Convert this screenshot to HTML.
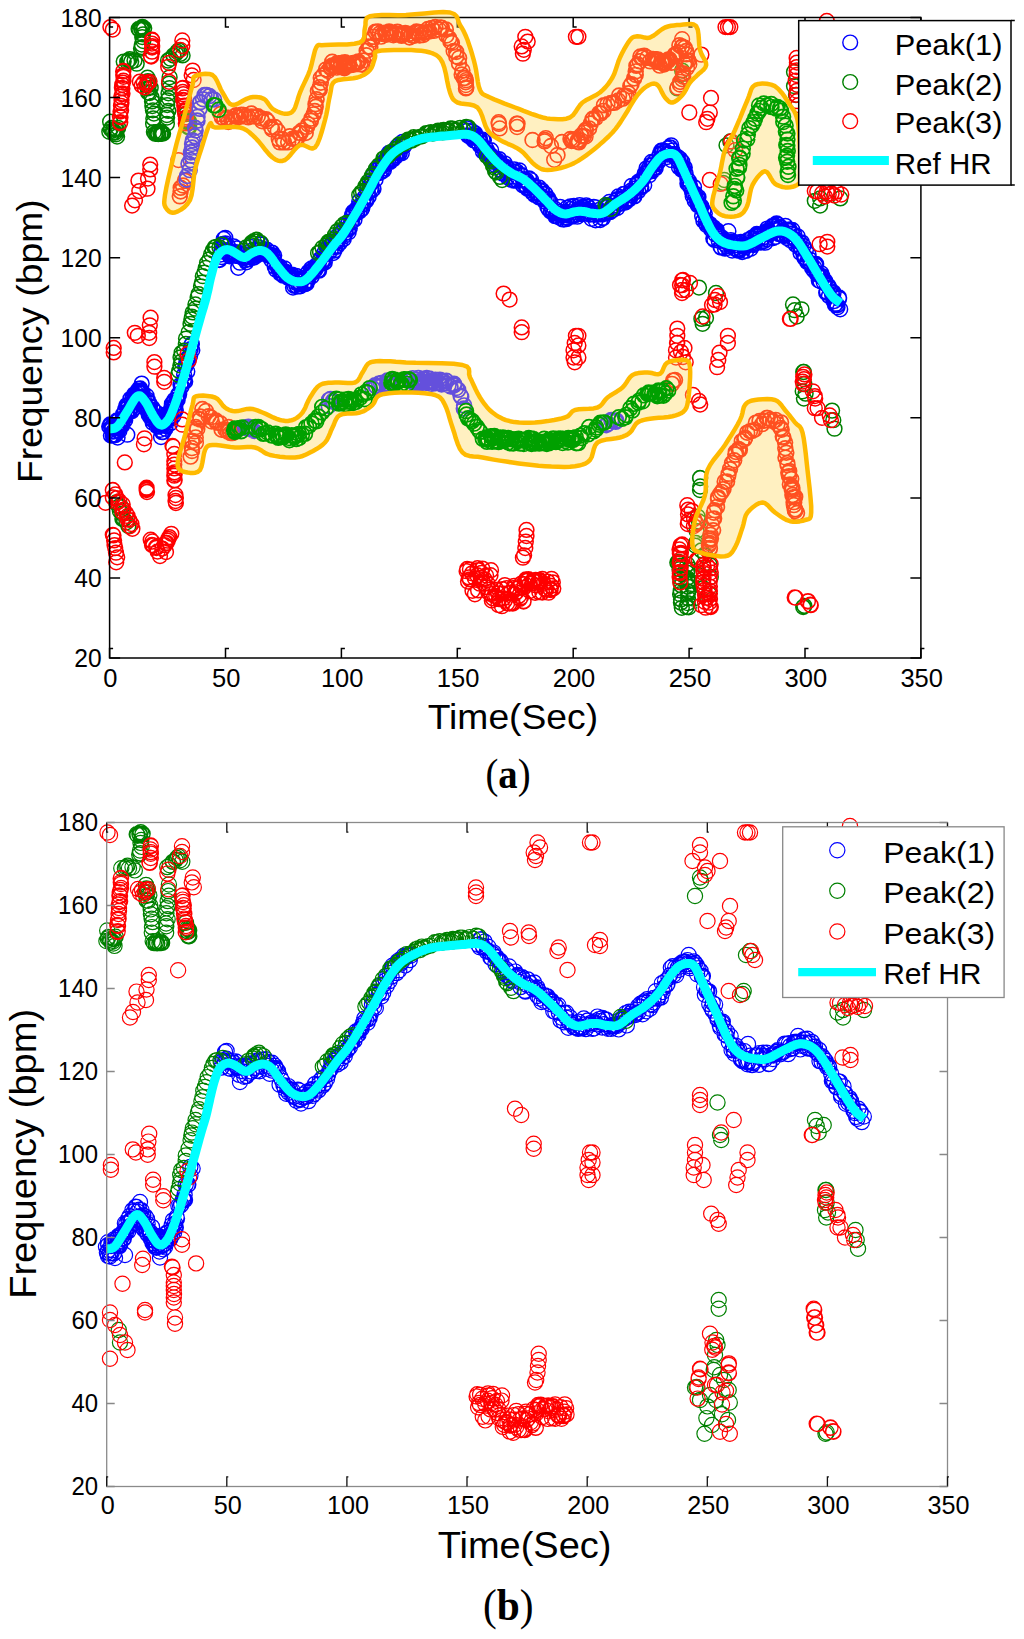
<!DOCTYPE html><html><head><meta charset="utf-8"><style>html,body{margin:0;padding:0;background:#fff;}svg{display:block}</style></head><body>
<svg width="1024" height="1639" viewBox="0 0 1024 1639">
<rect width="1024" height="1639" fill="#fff"/>
<path d="M101.8 426.4a7.4 7.4 0 1 0 14.8 0a7.4 7.4 0 1 0 -14.8 0M102.7 424.4a7.4 7.4 0 1 0 14.8 0a7.4 7.4 0 1 0 -14.8 0M103.5 424.7a7.4 7.4 0 1 0 14.8 0a7.4 7.4 0 1 0 -14.8 0M104.2 429.6a7.4 7.4 0 1 0 14.8 0a7.4 7.4 0 1 0 -14.8 0M104.2 427.7a7.4 7.4 0 1 0 14.8 0a7.4 7.4 0 1 0 -14.8 0M105.0 426.7a7.4 7.4 0 1 0 14.8 0a7.4 7.4 0 1 0 -14.8 0M104.5 426.6a7.4 7.4 0 1 0 14.8 0a7.4 7.4 0 1 0 -14.8 0M105.4 435.5a7.4 7.4 0 1 0 14.8 0a7.4 7.4 0 1 0 -14.8 0M105.6 431.7a7.4 7.4 0 1 0 14.8 0a7.4 7.4 0 1 0 -14.8 0M106.4 435.5a7.4 7.4 0 1 0 14.8 0a7.4 7.4 0 1 0 -14.8 0M106.8 431.3a7.4 7.4 0 1 0 14.8 0a7.4 7.4 0 1 0 -14.8 0M107.8 435.2a7.4 7.4 0 1 0 14.8 0a7.4 7.4 0 1 0 -14.8 0M108.3 434.7a7.4 7.4 0 1 0 14.8 0a7.4 7.4 0 1 0 -14.8 0M108.4 422.0a7.4 7.4 0 1 0 14.8 0a7.4 7.4 0 1 0 -14.8 0M108.6 427.3a7.4 7.4 0 1 0 14.8 0a7.4 7.4 0 1 0 -14.8 0M109.6 426.2a7.4 7.4 0 1 0 14.8 0a7.4 7.4 0 1 0 -14.8 0M109.5 420.4a7.4 7.4 0 1 0 14.8 0a7.4 7.4 0 1 0 -14.8 0M110.3 421.3a7.4 7.4 0 1 0 14.8 0a7.4 7.4 0 1 0 -14.8 0M110.5 428.6a7.4 7.4 0 1 0 14.8 0a7.4 7.4 0 1 0 -14.8 0M110.4 430.8a7.4 7.4 0 1 0 14.8 0a7.4 7.4 0 1 0 -14.8 0M112.0 431.0a7.4 7.4 0 1 0 14.8 0a7.4 7.4 0 1 0 -14.8 0M112.2 426.5a7.4 7.4 0 1 0 14.8 0a7.4 7.4 0 1 0 -14.8 0M111.9 423.3a7.4 7.4 0 1 0 14.8 0a7.4 7.4 0 1 0 -14.8 0M112.8 426.7a7.4 7.4 0 1 0 14.8 0a7.4 7.4 0 1 0 -14.8 0M113.4 422.9a7.4 7.4 0 1 0 14.8 0a7.4 7.4 0 1 0 -14.8 0M113.6 426.7a7.4 7.4 0 1 0 14.8 0a7.4 7.4 0 1 0 -14.8 0M114.1 424.0a7.4 7.4 0 1 0 14.8 0a7.4 7.4 0 1 0 -14.8 0M114.9 422.3a7.4 7.4 0 1 0 14.8 0a7.4 7.4 0 1 0 -14.8 0M115.4 414.4a7.4 7.4 0 1 0 14.8 0a7.4 7.4 0 1 0 -14.8 0M115.1 425.2a7.4 7.4 0 1 0 14.8 0a7.4 7.4 0 1 0 -14.8 0M115.8 414.6a7.4 7.4 0 1 0 14.8 0a7.4 7.4 0 1 0 -14.8 0M116.8 413.1a7.4 7.4 0 1 0 14.8 0a7.4 7.4 0 1 0 -14.8 0M117.6 409.4a7.4 7.4 0 1 0 14.8 0a7.4 7.4 0 1 0 -14.8 0M117.6 417.8a7.4 7.4 0 1 0 14.8 0a7.4 7.4 0 1 0 -14.8 0M117.8 420.2a7.4 7.4 0 1 0 14.8 0a7.4 7.4 0 1 0 -14.8 0M118.7 406.2a7.4 7.4 0 1 0 14.8 0a7.4 7.4 0 1 0 -14.8 0M119.0 414.7a7.4 7.4 0 1 0 14.8 0a7.4 7.4 0 1 0 -14.8 0M119.1 405.2a7.4 7.4 0 1 0 14.8 0a7.4 7.4 0 1 0 -14.8 0M120.2 413.5a7.4 7.4 0 1 0 14.8 0a7.4 7.4 0 1 0 -14.8 0M120.5 405.7a7.4 7.4 0 1 0 14.8 0a7.4 7.4 0 1 0 -14.8 0M121.1 404.7a7.4 7.4 0 1 0 14.8 0a7.4 7.4 0 1 0 -14.8 0M121.2 406.3a7.4 7.4 0 1 0 14.8 0a7.4 7.4 0 1 0 -14.8 0M121.6 406.1a7.4 7.4 0 1 0 14.8 0a7.4 7.4 0 1 0 -14.8 0M121.9 409.8a7.4 7.4 0 1 0 14.8 0a7.4 7.4 0 1 0 -14.8 0M122.2 411.9a7.4 7.4 0 1 0 14.8 0a7.4 7.4 0 1 0 -14.8 0M123.0 398.8a7.4 7.4 0 1 0 14.8 0a7.4 7.4 0 1 0 -14.8 0M123.0 409.6a7.4 7.4 0 1 0 14.8 0a7.4 7.4 0 1 0 -14.8 0M124.5 411.2a7.4 7.4 0 1 0 14.8 0a7.4 7.4 0 1 0 -14.8 0M124.8 410.0a7.4 7.4 0 1 0 14.8 0a7.4 7.4 0 1 0 -14.8 0M125.5 397.4a7.4 7.4 0 1 0 14.8 0a7.4 7.4 0 1 0 -14.8 0M125.2 409.5a7.4 7.4 0 1 0 14.8 0a7.4 7.4 0 1 0 -14.8 0M125.3 397.0a7.4 7.4 0 1 0 14.8 0a7.4 7.4 0 1 0 -14.8 0M125.8 402.5a7.4 7.4 0 1 0 14.8 0a7.4 7.4 0 1 0 -14.8 0M127.1 394.5a7.4 7.4 0 1 0 14.8 0a7.4 7.4 0 1 0 -14.8 0M126.8 394.3a7.4 7.4 0 1 0 14.8 0a7.4 7.4 0 1 0 -14.8 0M127.6 399.6a7.4 7.4 0 1 0 14.8 0a7.4 7.4 0 1 0 -14.8 0M127.8 395.2a7.4 7.4 0 1 0 14.8 0a7.4 7.4 0 1 0 -14.8 0M128.3 398.3a7.4 7.4 0 1 0 14.8 0a7.4 7.4 0 1 0 -14.8 0M129.0 393.0a7.4 7.4 0 1 0 14.8 0a7.4 7.4 0 1 0 -14.8 0M129.3 396.0a7.4 7.4 0 1 0 14.8 0a7.4 7.4 0 1 0 -14.8 0M130.0 391.2a7.4 7.4 0 1 0 14.8 0a7.4 7.4 0 1 0 -14.8 0M130.3 390.6a7.4 7.4 0 1 0 14.8 0a7.4 7.4 0 1 0 -14.8 0M131.6 388.7a7.4 7.4 0 1 0 14.8 0a7.4 7.4 0 1 0 -14.8 0M131.1 396.3a7.4 7.4 0 1 0 14.8 0a7.4 7.4 0 1 0 -14.8 0M131.9 397.6a7.4 7.4 0 1 0 14.8 0a7.4 7.4 0 1 0 -14.8 0M132.8 388.4a7.4 7.4 0 1 0 14.8 0a7.4 7.4 0 1 0 -14.8 0M132.3 391.1a7.4 7.4 0 1 0 14.8 0a7.4 7.4 0 1 0 -14.8 0M133.5 400.2a7.4 7.4 0 1 0 14.8 0a7.4 7.4 0 1 0 -14.8 0M133.8 390.6a7.4 7.4 0 1 0 14.8 0a7.4 7.4 0 1 0 -14.8 0M134.7 403.3a7.4 7.4 0 1 0 14.8 0a7.4 7.4 0 1 0 -14.8 0M134.4 391.8a7.4 7.4 0 1 0 14.8 0a7.4 7.4 0 1 0 -14.8 0M134.8 393.8a7.4 7.4 0 1 0 14.8 0a7.4 7.4 0 1 0 -14.8 0M135.1 392.1a7.4 7.4 0 1 0 14.8 0a7.4 7.4 0 1 0 -14.8 0M136.7 400.2a7.4 7.4 0 1 0 14.8 0a7.4 7.4 0 1 0 -14.8 0M136.4 404.2a7.4 7.4 0 1 0 14.8 0a7.4 7.4 0 1 0 -14.8 0M136.3 402.8a7.4 7.4 0 1 0 14.8 0a7.4 7.4 0 1 0 -14.8 0M137.4 408.1a7.4 7.4 0 1 0 14.8 0a7.4 7.4 0 1 0 -14.8 0M138.6 405.8a7.4 7.4 0 1 0 14.8 0a7.4 7.4 0 1 0 -14.8 0M137.7 404.3a7.4 7.4 0 1 0 14.8 0a7.4 7.4 0 1 0 -14.8 0M139.3 396.0a7.4 7.4 0 1 0 14.8 0a7.4 7.4 0 1 0 -14.8 0M139.7 401.3a7.4 7.4 0 1 0 14.8 0a7.4 7.4 0 1 0 -14.8 0M139.5 410.3a7.4 7.4 0 1 0 14.8 0a7.4 7.4 0 1 0 -14.8 0M140.5 400.0a7.4 7.4 0 1 0 14.8 0a7.4 7.4 0 1 0 -14.8 0M141.0 411.9a7.4 7.4 0 1 0 14.8 0a7.4 7.4 0 1 0 -14.8 0M140.5 407.9a7.4 7.4 0 1 0 14.8 0a7.4 7.4 0 1 0 -14.8 0M141.3 414.7a7.4 7.4 0 1 0 14.8 0a7.4 7.4 0 1 0 -14.8 0M142.1 403.5a7.4 7.4 0 1 0 14.8 0a7.4 7.4 0 1 0 -14.8 0M142.6 406.2a7.4 7.4 0 1 0 14.8 0a7.4 7.4 0 1 0 -14.8 0M142.7 417.0a7.4 7.4 0 1 0 14.8 0a7.4 7.4 0 1 0 -14.8 0M142.8 414.8a7.4 7.4 0 1 0 14.8 0a7.4 7.4 0 1 0 -14.8 0M144.3 413.8a7.4 7.4 0 1 0 14.8 0a7.4 7.4 0 1 0 -14.8 0M143.8 414.1a7.4 7.4 0 1 0 14.8 0a7.4 7.4 0 1 0 -14.8 0M145.0 407.7a7.4 7.4 0 1 0 14.8 0a7.4 7.4 0 1 0 -14.8 0M145.3 422.7a7.4 7.4 0 1 0 14.8 0a7.4 7.4 0 1 0 -14.8 0M145.3 419.9a7.4 7.4 0 1 0 14.8 0a7.4 7.4 0 1 0 -14.8 0M146.4 417.6a7.4 7.4 0 1 0 14.8 0a7.4 7.4 0 1 0 -14.8 0M146.6 421.3a7.4 7.4 0 1 0 14.8 0a7.4 7.4 0 1 0 -14.8 0M146.6 415.2a7.4 7.4 0 1 0 14.8 0a7.4 7.4 0 1 0 -14.8 0M147.0 411.0a7.4 7.4 0 1 0 14.8 0a7.4 7.4 0 1 0 -14.8 0M148.1 418.9a7.4 7.4 0 1 0 14.8 0a7.4 7.4 0 1 0 -14.8 0M148.6 412.2a7.4 7.4 0 1 0 14.8 0a7.4 7.4 0 1 0 -14.8 0M149.0 422.5a7.4 7.4 0 1 0 14.8 0a7.4 7.4 0 1 0 -14.8 0M150.2 419.2a7.4 7.4 0 1 0 14.8 0a7.4 7.4 0 1 0 -14.8 0M149.3 426.0a7.4 7.4 0 1 0 14.8 0a7.4 7.4 0 1 0 -14.8 0M150.2 418.0a7.4 7.4 0 1 0 14.8 0a7.4 7.4 0 1 0 -14.8 0M151.1 419.4a7.4 7.4 0 1 0 14.8 0a7.4 7.4 0 1 0 -14.8 0M151.7 419.3a7.4 7.4 0 1 0 14.8 0a7.4 7.4 0 1 0 -14.8 0M151.2 426.7a7.4 7.4 0 1 0 14.8 0a7.4 7.4 0 1 0 -14.8 0M152.7 423.7a7.4 7.4 0 1 0 14.8 0a7.4 7.4 0 1 0 -14.8 0M153.1 429.8a7.4 7.4 0 1 0 14.8 0a7.4 7.4 0 1 0 -14.8 0M153.5 425.4a7.4 7.4 0 1 0 14.8 0a7.4 7.4 0 1 0 -14.8 0M154.1 422.9a7.4 7.4 0 1 0 14.8 0a7.4 7.4 0 1 0 -14.8 0M154.5 432.0a7.4 7.4 0 1 0 14.8 0a7.4 7.4 0 1 0 -14.8 0M154.3 425.7a7.4 7.4 0 1 0 14.8 0a7.4 7.4 0 1 0 -14.8 0M154.6 432.2a7.4 7.4 0 1 0 14.8 0a7.4 7.4 0 1 0 -14.8 0M156.1 432.1a7.4 7.4 0 1 0 14.8 0a7.4 7.4 0 1 0 -14.8 0M156.7 424.3a7.4 7.4 0 1 0 14.8 0a7.4 7.4 0 1 0 -14.8 0M156.1 423.6a7.4 7.4 0 1 0 14.8 0a7.4 7.4 0 1 0 -14.8 0M156.5 419.9a7.4 7.4 0 1 0 14.8 0a7.4 7.4 0 1 0 -14.8 0M157.8 426.0a7.4 7.4 0 1 0 14.8 0a7.4 7.4 0 1 0 -14.8 0M157.6 417.4a7.4 7.4 0 1 0 14.8 0a7.4 7.4 0 1 0 -14.8 0M158.1 428.8a7.4 7.4 0 1 0 14.8 0a7.4 7.4 0 1 0 -14.8 0M159.1 416.1a7.4 7.4 0 1 0 14.8 0a7.4 7.4 0 1 0 -14.8 0M159.1 415.4a7.4 7.4 0 1 0 14.8 0a7.4 7.4 0 1 0 -14.8 0M159.7 413.6a7.4 7.4 0 1 0 14.8 0a7.4 7.4 0 1 0 -14.8 0M160.7 420.6a7.4 7.4 0 1 0 14.8 0a7.4 7.4 0 1 0 -14.8 0M161.0 419.5a7.4 7.4 0 1 0 14.8 0a7.4 7.4 0 1 0 -14.8 0M160.5 415.5a7.4 7.4 0 1 0 14.8 0a7.4 7.4 0 1 0 -14.8 0M162.0 416.8a7.4 7.4 0 1 0 14.8 0a7.4 7.4 0 1 0 -14.8 0M161.8 416.9a7.4 7.4 0 1 0 14.8 0a7.4 7.4 0 1 0 -14.8 0M162.7 423.5a7.4 7.4 0 1 0 14.8 0a7.4 7.4 0 1 0 -14.8 0M163.1 418.9a7.4 7.4 0 1 0 14.8 0a7.4 7.4 0 1 0 -14.8 0M163.7 416.1a7.4 7.4 0 1 0 14.8 0a7.4 7.4 0 1 0 -14.8 0M163.2 416.3a7.4 7.4 0 1 0 14.8 0a7.4 7.4 0 1 0 -14.8 0M164.1 406.9a7.4 7.4 0 1 0 14.8 0a7.4 7.4 0 1 0 -14.8 0M164.5 403.7a7.4 7.4 0 1 0 14.8 0a7.4 7.4 0 1 0 -14.8 0M165.9 402.9a7.4 7.4 0 1 0 14.8 0a7.4 7.4 0 1 0 -14.8 0M165.9 416.2a7.4 7.4 0 1 0 14.8 0a7.4 7.4 0 1 0 -14.8 0M166.6 410.4a7.4 7.4 0 1 0 14.8 0a7.4 7.4 0 1 0 -14.8 0M167.3 404.2a7.4 7.4 0 1 0 14.8 0a7.4 7.4 0 1 0 -14.8 0M167.3 411.5a7.4 7.4 0 1 0 14.8 0a7.4 7.4 0 1 0 -14.8 0M166.9 400.0a7.4 7.4 0 1 0 14.8 0a7.4 7.4 0 1 0 -14.8 0M168.4 410.2a7.4 7.4 0 1 0 14.8 0a7.4 7.4 0 1 0 -14.8 0M168.3 404.1a7.4 7.4 0 1 0 14.8 0a7.4 7.4 0 1 0 -14.8 0M169.1 399.6a7.4 7.4 0 1 0 14.8 0a7.4 7.4 0 1 0 -14.8 0M170.0 396.5a7.4 7.4 0 1 0 14.8 0a7.4 7.4 0 1 0 -14.8 0M170.3 399.8a7.4 7.4 0 1 0 14.8 0a7.4 7.4 0 1 0 -14.8 0M170.7 394.6a7.4 7.4 0 1 0 14.8 0a7.4 7.4 0 1 0 -14.8 0M171.7 394.5a7.4 7.4 0 1 0 14.8 0a7.4 7.4 0 1 0 -14.8 0M171.8 394.0a7.4 7.4 0 1 0 14.8 0a7.4 7.4 0 1 0 -14.8 0M173.1 384.8a7.4 7.4 0 1 0 14.8 0a7.4 7.4 0 1 0 -14.8 0M174.0 386.9a7.4 7.4 0 1 0 14.8 0a7.4 7.4 0 1 0 -14.8 0M174.4 385.9a7.4 7.4 0 1 0 14.8 0a7.4 7.4 0 1 0 -14.8 0M176.3 380.6a7.4 7.4 0 1 0 14.8 0a7.4 7.4 0 1 0 -14.8 0M177.0 380.0a7.4 7.4 0 1 0 14.8 0a7.4 7.4 0 1 0 -14.8 0M176.7 374.5a7.4 7.4 0 1 0 14.8 0a7.4 7.4 0 1 0 -14.8 0M177.9 366.7a7.4 7.4 0 1 0 14.8 0a7.4 7.4 0 1 0 -14.8 0M178.7 363.3a7.4 7.4 0 1 0 14.8 0a7.4 7.4 0 1 0 -14.8 0M179.9 371.4a7.4 7.4 0 1 0 14.8 0a7.4 7.4 0 1 0 -14.8 0M180.2 358.1a7.4 7.4 0 1 0 14.8 0a7.4 7.4 0 1 0 -14.8 0M180.6 362.0a7.4 7.4 0 1 0 14.8 0a7.4 7.4 0 1 0 -14.8 0M182.6 356.3a7.4 7.4 0 1 0 14.8 0a7.4 7.4 0 1 0 -14.8 0M183.2 349.2a7.4 7.4 0 1 0 14.8 0a7.4 7.4 0 1 0 -14.8 0M183.9 345.2a7.4 7.4 0 1 0 14.8 0a7.4 7.4 0 1 0 -14.8 0M184.5 344.0a7.4 7.4 0 1 0 14.8 0a7.4 7.4 0 1 0 -14.8 0M184.9 350.2a7.4 7.4 0 1 0 14.8 0a7.4 7.4 0 1 0 -14.8 0M211.7 259.5a7.4 7.4 0 1 0 14.8 0a7.4 7.4 0 1 0 -14.8 0M212.1 260.0a7.4 7.4 0 1 0 14.8 0a7.4 7.4 0 1 0 -14.8 0M213.3 254.5a7.4 7.4 0 1 0 14.8 0a7.4 7.4 0 1 0 -14.8 0M213.9 251.3a7.4 7.4 0 1 0 14.8 0a7.4 7.4 0 1 0 -14.8 0M214.2 257.0a7.4 7.4 0 1 0 14.8 0a7.4 7.4 0 1 0 -14.8 0M215.6 244.0a7.4 7.4 0 1 0 14.8 0a7.4 7.4 0 1 0 -14.8 0M216.5 250.1a7.4 7.4 0 1 0 14.8 0a7.4 7.4 0 1 0 -14.8 0M216.3 245.7a7.4 7.4 0 1 0 14.8 0a7.4 7.4 0 1 0 -14.8 0M218.0 243.4a7.4 7.4 0 1 0 14.8 0a7.4 7.4 0 1 0 -14.8 0M218.8 250.4a7.4 7.4 0 1 0 14.8 0a7.4 7.4 0 1 0 -14.8 0M219.9 251.7a7.4 7.4 0 1 0 14.8 0a7.4 7.4 0 1 0 -14.8 0M220.4 245.8a7.4 7.4 0 1 0 14.8 0a7.4 7.4 0 1 0 -14.8 0M221.6 254.0a7.4 7.4 0 1 0 14.8 0a7.4 7.4 0 1 0 -14.8 0M222.4 250.8a7.4 7.4 0 1 0 14.8 0a7.4 7.4 0 1 0 -14.8 0M222.1 256.3a7.4 7.4 0 1 0 14.8 0a7.4 7.4 0 1 0 -14.8 0M223.0 255.2a7.4 7.4 0 1 0 14.8 0a7.4 7.4 0 1 0 -14.8 0M224.5 253.3a7.4 7.4 0 1 0 14.8 0a7.4 7.4 0 1 0 -14.8 0M225.7 253.3a7.4 7.4 0 1 0 14.8 0a7.4 7.4 0 1 0 -14.8 0M226.3 246.3a7.4 7.4 0 1 0 14.8 0a7.4 7.4 0 1 0 -14.8 0M226.9 255.6a7.4 7.4 0 1 0 14.8 0a7.4 7.4 0 1 0 -14.8 0M227.0 252.0a7.4 7.4 0 1 0 14.8 0a7.4 7.4 0 1 0 -14.8 0M228.3 255.9a7.4 7.4 0 1 0 14.8 0a7.4 7.4 0 1 0 -14.8 0M228.6 253.7a7.4 7.4 0 1 0 14.8 0a7.4 7.4 0 1 0 -14.8 0M229.4 248.3a7.4 7.4 0 1 0 14.8 0a7.4 7.4 0 1 0 -14.8 0M231.0 252.7a7.4 7.4 0 1 0 14.8 0a7.4 7.4 0 1 0 -14.8 0M232.0 253.9a7.4 7.4 0 1 0 14.8 0a7.4 7.4 0 1 0 -14.8 0M232.8 255.0a7.4 7.4 0 1 0 14.8 0a7.4 7.4 0 1 0 -14.8 0M232.5 262.7a7.4 7.4 0 1 0 14.8 0a7.4 7.4 0 1 0 -14.8 0M234.1 254.8a7.4 7.4 0 1 0 14.8 0a7.4 7.4 0 1 0 -14.8 0M235.2 255.0a7.4 7.4 0 1 0 14.8 0a7.4 7.4 0 1 0 -14.8 0M235.8 258.4a7.4 7.4 0 1 0 14.8 0a7.4 7.4 0 1 0 -14.8 0M236.6 257.5a7.4 7.4 0 1 0 14.8 0a7.4 7.4 0 1 0 -14.8 0M237.9 260.3a7.4 7.4 0 1 0 14.8 0a7.4 7.4 0 1 0 -14.8 0M238.5 257.5a7.4 7.4 0 1 0 14.8 0a7.4 7.4 0 1 0 -14.8 0M238.6 254.4a7.4 7.4 0 1 0 14.8 0a7.4 7.4 0 1 0 -14.8 0M239.0 262.3a7.4 7.4 0 1 0 14.8 0a7.4 7.4 0 1 0 -14.8 0M240.4 256.8a7.4 7.4 0 1 0 14.8 0a7.4 7.4 0 1 0 -14.8 0M241.4 259.4a7.4 7.4 0 1 0 14.8 0a7.4 7.4 0 1 0 -14.8 0M242.4 257.2a7.4 7.4 0 1 0 14.8 0a7.4 7.4 0 1 0 -14.8 0M243.4 250.9a7.4 7.4 0 1 0 14.8 0a7.4 7.4 0 1 0 -14.8 0M243.2 247.0a7.4 7.4 0 1 0 14.8 0a7.4 7.4 0 1 0 -14.8 0M244.6 254.8a7.4 7.4 0 1 0 14.8 0a7.4 7.4 0 1 0 -14.8 0M245.3 255.1a7.4 7.4 0 1 0 14.8 0a7.4 7.4 0 1 0 -14.8 0M245.8 255.5a7.4 7.4 0 1 0 14.8 0a7.4 7.4 0 1 0 -14.8 0M246.7 257.5a7.4 7.4 0 1 0 14.8 0a7.4 7.4 0 1 0 -14.8 0M247.9 253.2a7.4 7.4 0 1 0 14.8 0a7.4 7.4 0 1 0 -14.8 0M249.1 254.7a7.4 7.4 0 1 0 14.8 0a7.4 7.4 0 1 0 -14.8 0M249.2 255.7a7.4 7.4 0 1 0 14.8 0a7.4 7.4 0 1 0 -14.8 0M249.9 249.7a7.4 7.4 0 1 0 14.8 0a7.4 7.4 0 1 0 -14.8 0M251.0 247.1a7.4 7.4 0 1 0 14.8 0a7.4 7.4 0 1 0 -14.8 0M251.8 250.3a7.4 7.4 0 1 0 14.8 0a7.4 7.4 0 1 0 -14.8 0M252.0 253.1a7.4 7.4 0 1 0 14.8 0a7.4 7.4 0 1 0 -14.8 0M253.5 244.5a7.4 7.4 0 1 0 14.8 0a7.4 7.4 0 1 0 -14.8 0M253.9 244.3a7.4 7.4 0 1 0 14.8 0a7.4 7.4 0 1 0 -14.8 0M254.4 252.8a7.4 7.4 0 1 0 14.8 0a7.4 7.4 0 1 0 -14.8 0M256.4 251.1a7.4 7.4 0 1 0 14.8 0a7.4 7.4 0 1 0 -14.8 0M256.7 249.2a7.4 7.4 0 1 0 14.8 0a7.4 7.4 0 1 0 -14.8 0M258.0 251.2a7.4 7.4 0 1 0 14.8 0a7.4 7.4 0 1 0 -14.8 0M258.8 253.2a7.4 7.4 0 1 0 14.8 0a7.4 7.4 0 1 0 -14.8 0M259.5 249.7a7.4 7.4 0 1 0 14.8 0a7.4 7.4 0 1 0 -14.8 0M259.8 255.3a7.4 7.4 0 1 0 14.8 0a7.4 7.4 0 1 0 -14.8 0M260.3 253.2a7.4 7.4 0 1 0 14.8 0a7.4 7.4 0 1 0 -14.8 0M261.0 254.3a7.4 7.4 0 1 0 14.8 0a7.4 7.4 0 1 0 -14.8 0M262.7 255.9a7.4 7.4 0 1 0 14.8 0a7.4 7.4 0 1 0 -14.8 0M263.9 259.9a7.4 7.4 0 1 0 14.8 0a7.4 7.4 0 1 0 -14.8 0M263.5 255.5a7.4 7.4 0 1 0 14.8 0a7.4 7.4 0 1 0 -14.8 0M264.7 252.6a7.4 7.4 0 1 0 14.8 0a7.4 7.4 0 1 0 -14.8 0M265.4 256.2a7.4 7.4 0 1 0 14.8 0a7.4 7.4 0 1 0 -14.8 0M266.8 255.4a7.4 7.4 0 1 0 14.8 0a7.4 7.4 0 1 0 -14.8 0M267.3 266.6a7.4 7.4 0 1 0 14.8 0a7.4 7.4 0 1 0 -14.8 0M267.4 263.6a7.4 7.4 0 1 0 14.8 0a7.4 7.4 0 1 0 -14.8 0M268.6 269.7a7.4 7.4 0 1 0 14.8 0a7.4 7.4 0 1 0 -14.8 0M269.6 266.2a7.4 7.4 0 1 0 14.8 0a7.4 7.4 0 1 0 -14.8 0M270.5 265.4a7.4 7.4 0 1 0 14.8 0a7.4 7.4 0 1 0 -14.8 0M271.5 270.2a7.4 7.4 0 1 0 14.8 0a7.4 7.4 0 1 0 -14.8 0M272.8 273.5a7.4 7.4 0 1 0 14.8 0a7.4 7.4 0 1 0 -14.8 0M272.6 266.6a7.4 7.4 0 1 0 14.8 0a7.4 7.4 0 1 0 -14.8 0M274.2 273.2a7.4 7.4 0 1 0 14.8 0a7.4 7.4 0 1 0 -14.8 0M274.8 271.5a7.4 7.4 0 1 0 14.8 0a7.4 7.4 0 1 0 -14.8 0M275.8 275.7a7.4 7.4 0 1 0 14.8 0a7.4 7.4 0 1 0 -14.8 0M276.4 275.7a7.4 7.4 0 1 0 14.8 0a7.4 7.4 0 1 0 -14.8 0M277.1 268.3a7.4 7.4 0 1 0 14.8 0a7.4 7.4 0 1 0 -14.8 0M278.1 271.6a7.4 7.4 0 1 0 14.8 0a7.4 7.4 0 1 0 -14.8 0M277.9 273.9a7.4 7.4 0 1 0 14.8 0a7.4 7.4 0 1 0 -14.8 0M280.1 277.5a7.4 7.4 0 1 0 14.8 0a7.4 7.4 0 1 0 -14.8 0M280.6 274.0a7.4 7.4 0 1 0 14.8 0a7.4 7.4 0 1 0 -14.8 0M281.3 277.4a7.4 7.4 0 1 0 14.8 0a7.4 7.4 0 1 0 -14.8 0M281.4 277.9a7.4 7.4 0 1 0 14.8 0a7.4 7.4 0 1 0 -14.8 0M282.8 277.7a7.4 7.4 0 1 0 14.8 0a7.4 7.4 0 1 0 -14.8 0M283.0 275.3a7.4 7.4 0 1 0 14.8 0a7.4 7.4 0 1 0 -14.8 0M283.6 277.9a7.4 7.4 0 1 0 14.8 0a7.4 7.4 0 1 0 -14.8 0M284.5 274.6a7.4 7.4 0 1 0 14.8 0a7.4 7.4 0 1 0 -14.8 0M285.6 287.5a7.4 7.4 0 1 0 14.8 0a7.4 7.4 0 1 0 -14.8 0M287.0 285.9a7.4 7.4 0 1 0 14.8 0a7.4 7.4 0 1 0 -14.8 0M287.9 282.6a7.4 7.4 0 1 0 14.8 0a7.4 7.4 0 1 0 -14.8 0M288.9 275.8a7.4 7.4 0 1 0 14.8 0a7.4 7.4 0 1 0 -14.8 0M288.5 278.4a7.4 7.4 0 1 0 14.8 0a7.4 7.4 0 1 0 -14.8 0M289.6 286.7a7.4 7.4 0 1 0 14.8 0a7.4 7.4 0 1 0 -14.8 0M291.0 284.2a7.4 7.4 0 1 0 14.8 0a7.4 7.4 0 1 0 -14.8 0M291.3 281.5a7.4 7.4 0 1 0 14.8 0a7.4 7.4 0 1 0 -14.8 0M293.0 286.3a7.4 7.4 0 1 0 14.8 0a7.4 7.4 0 1 0 -14.8 0M293.0 283.9a7.4 7.4 0 1 0 14.8 0a7.4 7.4 0 1 0 -14.8 0M294.3 278.0a7.4 7.4 0 1 0 14.8 0a7.4 7.4 0 1 0 -14.8 0M295.1 279.5a7.4 7.4 0 1 0 14.8 0a7.4 7.4 0 1 0 -14.8 0M295.2 279.7a7.4 7.4 0 1 0 14.8 0a7.4 7.4 0 1 0 -14.8 0M296.5 284.3a7.4 7.4 0 1 0 14.8 0a7.4 7.4 0 1 0 -14.8 0M297.9 284.2a7.4 7.4 0 1 0 14.8 0a7.4 7.4 0 1 0 -14.8 0M297.8 282.7a7.4 7.4 0 1 0 14.8 0a7.4 7.4 0 1 0 -14.8 0M299.2 283.4a7.4 7.4 0 1 0 14.8 0a7.4 7.4 0 1 0 -14.8 0M299.5 281.2a7.4 7.4 0 1 0 14.8 0a7.4 7.4 0 1 0 -14.8 0M300.9 272.1a7.4 7.4 0 1 0 14.8 0a7.4 7.4 0 1 0 -14.8 0M300.8 280.3a7.4 7.4 0 1 0 14.8 0a7.4 7.4 0 1 0 -14.8 0M302.0 274.0a7.4 7.4 0 1 0 14.8 0a7.4 7.4 0 1 0 -14.8 0M303.4 269.0a7.4 7.4 0 1 0 14.8 0a7.4 7.4 0 1 0 -14.8 0M304.2 268.4a7.4 7.4 0 1 0 14.8 0a7.4 7.4 0 1 0 -14.8 0M304.3 276.5a7.4 7.4 0 1 0 14.8 0a7.4 7.4 0 1 0 -14.8 0M305.2 269.8a7.4 7.4 0 1 0 14.8 0a7.4 7.4 0 1 0 -14.8 0M305.8 272.5a7.4 7.4 0 1 0 14.8 0a7.4 7.4 0 1 0 -14.8 0M306.6 271.0a7.4 7.4 0 1 0 14.8 0a7.4 7.4 0 1 0 -14.8 0M308.4 269.2a7.4 7.4 0 1 0 14.8 0a7.4 7.4 0 1 0 -14.8 0M308.1 266.0a7.4 7.4 0 1 0 14.8 0a7.4 7.4 0 1 0 -14.8 0M309.5 266.1a7.4 7.4 0 1 0 14.8 0a7.4 7.4 0 1 0 -14.8 0M310.5 270.2a7.4 7.4 0 1 0 14.8 0a7.4 7.4 0 1 0 -14.8 0M311.2 265.2a7.4 7.4 0 1 0 14.8 0a7.4 7.4 0 1 0 -14.8 0M311.7 270.7a7.4 7.4 0 1 0 14.8 0a7.4 7.4 0 1 0 -14.8 0M312.1 260.7a7.4 7.4 0 1 0 14.8 0a7.4 7.4 0 1 0 -14.8 0M312.8 258.9a7.4 7.4 0 1 0 14.8 0a7.4 7.4 0 1 0 -14.8 0M314.9 260.8a7.4 7.4 0 1 0 14.8 0a7.4 7.4 0 1 0 -14.8 0M315.7 261.7a7.4 7.4 0 1 0 14.8 0a7.4 7.4 0 1 0 -14.8 0M315.9 254.2a7.4 7.4 0 1 0 14.8 0a7.4 7.4 0 1 0 -14.8 0M317.4 262.4a7.4 7.4 0 1 0 14.8 0a7.4 7.4 0 1 0 -14.8 0M317.7 259.6a7.4 7.4 0 1 0 14.8 0a7.4 7.4 0 1 0 -14.8 0M317.8 250.5a7.4 7.4 0 1 0 14.8 0a7.4 7.4 0 1 0 -14.8 0M319.2 254.0a7.4 7.4 0 1 0 14.8 0a7.4 7.4 0 1 0 -14.8 0M320.6 250.8a7.4 7.4 0 1 0 14.8 0a7.4 7.4 0 1 0 -14.8 0M320.3 247.1a7.4 7.4 0 1 0 14.8 0a7.4 7.4 0 1 0 -14.8 0M321.1 246.5a7.4 7.4 0 1 0 14.8 0a7.4 7.4 0 1 0 -14.8 0M323.1 244.9a7.4 7.4 0 1 0 14.8 0a7.4 7.4 0 1 0 -14.8 0M323.2 250.9a7.4 7.4 0 1 0 14.8 0a7.4 7.4 0 1 0 -14.8 0M324.7 242.5a7.4 7.4 0 1 0 14.8 0a7.4 7.4 0 1 0 -14.8 0M325.4 241.5a7.4 7.4 0 1 0 14.8 0a7.4 7.4 0 1 0 -14.8 0M325.7 253.0a7.4 7.4 0 1 0 14.8 0a7.4 7.4 0 1 0 -14.8 0M327.1 250.6a7.4 7.4 0 1 0 14.8 0a7.4 7.4 0 1 0 -14.8 0M328.0 247.2a7.4 7.4 0 1 0 14.8 0a7.4 7.4 0 1 0 -14.8 0M328.1 242.7a7.4 7.4 0 1 0 14.8 0a7.4 7.4 0 1 0 -14.8 0M329.4 236.4a7.4 7.4 0 1 0 14.8 0a7.4 7.4 0 1 0 -14.8 0M329.3 241.9a7.4 7.4 0 1 0 14.8 0a7.4 7.4 0 1 0 -14.8 0M330.1 245.8a7.4 7.4 0 1 0 14.8 0a7.4 7.4 0 1 0 -14.8 0M331.0 240.2a7.4 7.4 0 1 0 14.8 0a7.4 7.4 0 1 0 -14.8 0M332.5 242.9a7.4 7.4 0 1 0 14.8 0a7.4 7.4 0 1 0 -14.8 0M333.1 233.7a7.4 7.4 0 1 0 14.8 0a7.4 7.4 0 1 0 -14.8 0M333.3 233.1a7.4 7.4 0 1 0 14.8 0a7.4 7.4 0 1 0 -14.8 0M335.1 230.7a7.4 7.4 0 1 0 14.8 0a7.4 7.4 0 1 0 -14.8 0M335.4 230.0a7.4 7.4 0 1 0 14.8 0a7.4 7.4 0 1 0 -14.8 0M336.4 238.9a7.4 7.4 0 1 0 14.8 0a7.4 7.4 0 1 0 -14.8 0M336.5 236.3a7.4 7.4 0 1 0 14.8 0a7.4 7.4 0 1 0 -14.8 0M337.5 233.2a7.4 7.4 0 1 0 14.8 0a7.4 7.4 0 1 0 -14.8 0M338.3 232.8a7.4 7.4 0 1 0 14.8 0a7.4 7.4 0 1 0 -14.8 0M340.1 224.8a7.4 7.4 0 1 0 14.8 0a7.4 7.4 0 1 0 -14.8 0M340.6 229.7a7.4 7.4 0 1 0 14.8 0a7.4 7.4 0 1 0 -14.8 0M341.3 232.3a7.4 7.4 0 1 0 14.8 0a7.4 7.4 0 1 0 -14.8 0M341.3 221.7a7.4 7.4 0 1 0 14.8 0a7.4 7.4 0 1 0 -14.8 0M342.4 228.2a7.4 7.4 0 1 0 14.8 0a7.4 7.4 0 1 0 -14.8 0M343.5 222.9a7.4 7.4 0 1 0 14.8 0a7.4 7.4 0 1 0 -14.8 0M344.6 214.9a7.4 7.4 0 1 0 14.8 0a7.4 7.4 0 1 0 -14.8 0M344.6 221.5a7.4 7.4 0 1 0 14.8 0a7.4 7.4 0 1 0 -14.8 0M345.7 211.9a7.4 7.4 0 1 0 14.8 0a7.4 7.4 0 1 0 -14.8 0M346.4 214.6a7.4 7.4 0 1 0 14.8 0a7.4 7.4 0 1 0 -14.8 0M347.1 219.8a7.4 7.4 0 1 0 14.8 0a7.4 7.4 0 1 0 -14.8 0M348.5 210.1a7.4 7.4 0 1 0 14.8 0a7.4 7.4 0 1 0 -14.8 0M349.3 213.2a7.4 7.4 0 1 0 14.8 0a7.4 7.4 0 1 0 -14.8 0M350.0 211.1a7.4 7.4 0 1 0 14.8 0a7.4 7.4 0 1 0 -14.8 0M350.4 207.1a7.4 7.4 0 1 0 14.8 0a7.4 7.4 0 1 0 -14.8 0M352.0 211.4a7.4 7.4 0 1 0 14.8 0a7.4 7.4 0 1 0 -14.8 0M351.8 201.4a7.4 7.4 0 1 0 14.8 0a7.4 7.4 0 1 0 -14.8 0M353.5 205.8a7.4 7.4 0 1 0 14.8 0a7.4 7.4 0 1 0 -14.8 0M354.1 209.4a7.4 7.4 0 1 0 14.8 0a7.4 7.4 0 1 0 -14.8 0M354.9 208.2a7.4 7.4 0 1 0 14.8 0a7.4 7.4 0 1 0 -14.8 0M355.8 200.8a7.4 7.4 0 1 0 14.8 0a7.4 7.4 0 1 0 -14.8 0M356.2 204.2a7.4 7.4 0 1 0 14.8 0a7.4 7.4 0 1 0 -14.8 0M356.8 197.7a7.4 7.4 0 1 0 14.8 0a7.4 7.4 0 1 0 -14.8 0M358.2 200.5a7.4 7.4 0 1 0 14.8 0a7.4 7.4 0 1 0 -14.8 0M358.9 200.7a7.4 7.4 0 1 0 14.8 0a7.4 7.4 0 1 0 -14.8 0M359.7 189.4a7.4 7.4 0 1 0 14.8 0a7.4 7.4 0 1 0 -14.8 0M360.5 192.0a7.4 7.4 0 1 0 14.8 0a7.4 7.4 0 1 0 -14.8 0M361.3 196.7a7.4 7.4 0 1 0 14.8 0a7.4 7.4 0 1 0 -14.8 0M362.5 185.0a7.4 7.4 0 1 0 14.8 0a7.4 7.4 0 1 0 -14.8 0M363.4 189.1a7.4 7.4 0 1 0 14.8 0a7.4 7.4 0 1 0 -14.8 0M363.9 182.8a7.4 7.4 0 1 0 14.8 0a7.4 7.4 0 1 0 -14.8 0M364.4 190.8a7.4 7.4 0 1 0 14.8 0a7.4 7.4 0 1 0 -14.8 0M366.1 188.9a7.4 7.4 0 1 0 14.8 0a7.4 7.4 0 1 0 -14.8 0M365.6 175.5a7.4 7.4 0 1 0 14.8 0a7.4 7.4 0 1 0 -14.8 0M366.4 174.0a7.4 7.4 0 1 0 14.8 0a7.4 7.4 0 1 0 -14.8 0M368.2 179.6a7.4 7.4 0 1 0 14.8 0a7.4 7.4 0 1 0 -14.8 0M369.3 173.2a7.4 7.4 0 1 0 14.8 0a7.4 7.4 0 1 0 -14.8 0M369.4 173.4a7.4 7.4 0 1 0 14.8 0a7.4 7.4 0 1 0 -14.8 0M370.1 167.3a7.4 7.4 0 1 0 14.8 0a7.4 7.4 0 1 0 -14.8 0M371.7 167.6a7.4 7.4 0 1 0 14.8 0a7.4 7.4 0 1 0 -14.8 0M372.2 173.0a7.4 7.4 0 1 0 14.8 0a7.4 7.4 0 1 0 -14.8 0M372.8 167.8a7.4 7.4 0 1 0 14.8 0a7.4 7.4 0 1 0 -14.8 0M373.3 166.6a7.4 7.4 0 1 0 14.8 0a7.4 7.4 0 1 0 -14.8 0M374.4 171.8a7.4 7.4 0 1 0 14.8 0a7.4 7.4 0 1 0 -14.8 0M375.5 165.8a7.4 7.4 0 1 0 14.8 0a7.4 7.4 0 1 0 -14.8 0M375.3 168.7a7.4 7.4 0 1 0 14.8 0a7.4 7.4 0 1 0 -14.8 0M376.5 170.3a7.4 7.4 0 1 0 14.8 0a7.4 7.4 0 1 0 -14.8 0M377.6 160.2a7.4 7.4 0 1 0 14.8 0a7.4 7.4 0 1 0 -14.8 0M378.8 161.0a7.4 7.4 0 1 0 14.8 0a7.4 7.4 0 1 0 -14.8 0M379.0 163.8a7.4 7.4 0 1 0 14.8 0a7.4 7.4 0 1 0 -14.8 0M380.6 162.3a7.4 7.4 0 1 0 14.8 0a7.4 7.4 0 1 0 -14.8 0M380.3 155.2a7.4 7.4 0 1 0 14.8 0a7.4 7.4 0 1 0 -14.8 0M381.5 153.0a7.4 7.4 0 1 0 14.8 0a7.4 7.4 0 1 0 -14.8 0M383.0 152.7a7.4 7.4 0 1 0 14.8 0a7.4 7.4 0 1 0 -14.8 0M382.8 162.0a7.4 7.4 0 1 0 14.8 0a7.4 7.4 0 1 0 -14.8 0M383.4 160.0a7.4 7.4 0 1 0 14.8 0a7.4 7.4 0 1 0 -14.8 0M385.2 152.4a7.4 7.4 0 1 0 14.8 0a7.4 7.4 0 1 0 -14.8 0M386.0 159.2a7.4 7.4 0 1 0 14.8 0a7.4 7.4 0 1 0 -14.8 0M386.1 153.6a7.4 7.4 0 1 0 14.8 0a7.4 7.4 0 1 0 -14.8 0M387.8 155.5a7.4 7.4 0 1 0 14.8 0a7.4 7.4 0 1 0 -14.8 0M388.1 157.1a7.4 7.4 0 1 0 14.8 0a7.4 7.4 0 1 0 -14.8 0M389.4 153.3a7.4 7.4 0 1 0 14.8 0a7.4 7.4 0 1 0 -14.8 0M389.5 146.7a7.4 7.4 0 1 0 14.8 0a7.4 7.4 0 1 0 -14.8 0M390.8 148.0a7.4 7.4 0 1 0 14.8 0a7.4 7.4 0 1 0 -14.8 0M391.1 151.2a7.4 7.4 0 1 0 14.8 0a7.4 7.4 0 1 0 -14.8 0M392.4 153.2a7.4 7.4 0 1 0 14.8 0a7.4 7.4 0 1 0 -14.8 0M392.7 151.6a7.4 7.4 0 1 0 14.8 0a7.4 7.4 0 1 0 -14.8 0M394.4 153.3a7.4 7.4 0 1 0 14.8 0a7.4 7.4 0 1 0 -14.8 0M395.2 141.8a7.4 7.4 0 1 0 14.8 0a7.4 7.4 0 1 0 -14.8 0M395.3 144.8a7.4 7.4 0 1 0 14.8 0a7.4 7.4 0 1 0 -14.8 0M396.9 146.1a7.4 7.4 0 1 0 14.8 0a7.4 7.4 0 1 0 -14.8 0M459.8 128.4a7.4 7.4 0 1 0 14.8 0a7.4 7.4 0 1 0 -14.8 0M460.1 130.6a7.4 7.4 0 1 0 14.8 0a7.4 7.4 0 1 0 -14.8 0M460.7 135.7a7.4 7.4 0 1 0 14.8 0a7.4 7.4 0 1 0 -14.8 0M462.3 136.5a7.4 7.4 0 1 0 14.8 0a7.4 7.4 0 1 0 -14.8 0M463.3 135.3a7.4 7.4 0 1 0 14.8 0a7.4 7.4 0 1 0 -14.8 0M463.9 138.0a7.4 7.4 0 1 0 14.8 0a7.4 7.4 0 1 0 -14.8 0M465.0 131.4a7.4 7.4 0 1 0 14.8 0a7.4 7.4 0 1 0 -14.8 0M465.8 135.1a7.4 7.4 0 1 0 14.8 0a7.4 7.4 0 1 0 -14.8 0M465.5 135.6a7.4 7.4 0 1 0 14.8 0a7.4 7.4 0 1 0 -14.8 0M466.4 140.4a7.4 7.4 0 1 0 14.8 0a7.4 7.4 0 1 0 -14.8 0M468.2 135.5a7.4 7.4 0 1 0 14.8 0a7.4 7.4 0 1 0 -14.8 0M467.9 133.4a7.4 7.4 0 1 0 14.8 0a7.4 7.4 0 1 0 -14.8 0M468.8 135.7a7.4 7.4 0 1 0 14.8 0a7.4 7.4 0 1 0 -14.8 0M470.3 142.6a7.4 7.4 0 1 0 14.8 0a7.4 7.4 0 1 0 -14.8 0M471.4 138.9a7.4 7.4 0 1 0 14.8 0a7.4 7.4 0 1 0 -14.8 0M472.1 145.3a7.4 7.4 0 1 0 14.8 0a7.4 7.4 0 1 0 -14.8 0M472.6 138.9a7.4 7.4 0 1 0 14.8 0a7.4 7.4 0 1 0 -14.8 0M473.8 143.2a7.4 7.4 0 1 0 14.8 0a7.4 7.4 0 1 0 -14.8 0M474.8 146.2a7.4 7.4 0 1 0 14.8 0a7.4 7.4 0 1 0 -14.8 0M475.5 151.6a7.4 7.4 0 1 0 14.8 0a7.4 7.4 0 1 0 -14.8 0M475.2 139.7a7.4 7.4 0 1 0 14.8 0a7.4 7.4 0 1 0 -14.8 0M476.5 140.3a7.4 7.4 0 1 0 14.8 0a7.4 7.4 0 1 0 -14.8 0M477.5 151.6a7.4 7.4 0 1 0 14.8 0a7.4 7.4 0 1 0 -14.8 0M478.8 153.2a7.4 7.4 0 1 0 14.8 0a7.4 7.4 0 1 0 -14.8 0M479.4 149.5a7.4 7.4 0 1 0 14.8 0a7.4 7.4 0 1 0 -14.8 0M479.8 152.8a7.4 7.4 0 1 0 14.8 0a7.4 7.4 0 1 0 -14.8 0M480.3 154.0a7.4 7.4 0 1 0 14.8 0a7.4 7.4 0 1 0 -14.8 0M481.4 152.9a7.4 7.4 0 1 0 14.8 0a7.4 7.4 0 1 0 -14.8 0M482.9 159.4a7.4 7.4 0 1 0 14.8 0a7.4 7.4 0 1 0 -14.8 0M483.5 155.3a7.4 7.4 0 1 0 14.8 0a7.4 7.4 0 1 0 -14.8 0M483.7 150.2a7.4 7.4 0 1 0 14.8 0a7.4 7.4 0 1 0 -14.8 0M484.8 158.0a7.4 7.4 0 1 0 14.8 0a7.4 7.4 0 1 0 -14.8 0M485.0 161.5a7.4 7.4 0 1 0 14.8 0a7.4 7.4 0 1 0 -14.8 0M486.9 161.9a7.4 7.4 0 1 0 14.8 0a7.4 7.4 0 1 0 -14.8 0M487.0 158.4a7.4 7.4 0 1 0 14.8 0a7.4 7.4 0 1 0 -14.8 0M487.7 165.1a7.4 7.4 0 1 0 14.8 0a7.4 7.4 0 1 0 -14.8 0M489.2 162.8a7.4 7.4 0 1 0 14.8 0a7.4 7.4 0 1 0 -14.8 0M489.8 162.0a7.4 7.4 0 1 0 14.8 0a7.4 7.4 0 1 0 -14.8 0M490.0 160.2a7.4 7.4 0 1 0 14.8 0a7.4 7.4 0 1 0 -14.8 0M491.8 159.1a7.4 7.4 0 1 0 14.8 0a7.4 7.4 0 1 0 -14.8 0M492.0 162.3a7.4 7.4 0 1 0 14.8 0a7.4 7.4 0 1 0 -14.8 0M493.2 169.5a7.4 7.4 0 1 0 14.8 0a7.4 7.4 0 1 0 -14.8 0M493.9 170.1a7.4 7.4 0 1 0 14.8 0a7.4 7.4 0 1 0 -14.8 0M495.0 166.5a7.4 7.4 0 1 0 14.8 0a7.4 7.4 0 1 0 -14.8 0M495.4 166.4a7.4 7.4 0 1 0 14.8 0a7.4 7.4 0 1 0 -14.8 0M495.4 173.6a7.4 7.4 0 1 0 14.8 0a7.4 7.4 0 1 0 -14.8 0M497.5 163.5a7.4 7.4 0 1 0 14.8 0a7.4 7.4 0 1 0 -14.8 0M498.0 166.6a7.4 7.4 0 1 0 14.8 0a7.4 7.4 0 1 0 -14.8 0M498.9 170.6a7.4 7.4 0 1 0 14.8 0a7.4 7.4 0 1 0 -14.8 0M499.6 173.7a7.4 7.4 0 1 0 14.8 0a7.4 7.4 0 1 0 -14.8 0M500.1 177.3a7.4 7.4 0 1 0 14.8 0a7.4 7.4 0 1 0 -14.8 0M501.1 172.9a7.4 7.4 0 1 0 14.8 0a7.4 7.4 0 1 0 -14.8 0M501.9 169.4a7.4 7.4 0 1 0 14.8 0a7.4 7.4 0 1 0 -14.8 0M502.5 172.5a7.4 7.4 0 1 0 14.8 0a7.4 7.4 0 1 0 -14.8 0M503.4 179.5a7.4 7.4 0 1 0 14.8 0a7.4 7.4 0 1 0 -14.8 0M504.2 179.9a7.4 7.4 0 1 0 14.8 0a7.4 7.4 0 1 0 -14.8 0M505.6 176.7a7.4 7.4 0 1 0 14.8 0a7.4 7.4 0 1 0 -14.8 0M506.2 180.6a7.4 7.4 0 1 0 14.8 0a7.4 7.4 0 1 0 -14.8 0M507.0 172.1a7.4 7.4 0 1 0 14.8 0a7.4 7.4 0 1 0 -14.8 0M506.8 169.3a7.4 7.4 0 1 0 14.8 0a7.4 7.4 0 1 0 -14.8 0M507.7 180.7a7.4 7.4 0 1 0 14.8 0a7.4 7.4 0 1 0 -14.8 0M509.0 179.7a7.4 7.4 0 1 0 14.8 0a7.4 7.4 0 1 0 -14.8 0M509.5 171.6a7.4 7.4 0 1 0 14.8 0a7.4 7.4 0 1 0 -14.8 0M510.5 177.6a7.4 7.4 0 1 0 14.8 0a7.4 7.4 0 1 0 -14.8 0M511.5 177.9a7.4 7.4 0 1 0 14.8 0a7.4 7.4 0 1 0 -14.8 0M511.9 170.3a7.4 7.4 0 1 0 14.8 0a7.4 7.4 0 1 0 -14.8 0M513.5 174.9a7.4 7.4 0 1 0 14.8 0a7.4 7.4 0 1 0 -14.8 0M514.4 175.8a7.4 7.4 0 1 0 14.8 0a7.4 7.4 0 1 0 -14.8 0M514.1 174.8a7.4 7.4 0 1 0 14.8 0a7.4 7.4 0 1 0 -14.8 0M515.6 180.5a7.4 7.4 0 1 0 14.8 0a7.4 7.4 0 1 0 -14.8 0M515.6 185.4a7.4 7.4 0 1 0 14.8 0a7.4 7.4 0 1 0 -14.8 0M517.1 184.4a7.4 7.4 0 1 0 14.8 0a7.4 7.4 0 1 0 -14.8 0M518.3 181.5a7.4 7.4 0 1 0 14.8 0a7.4 7.4 0 1 0 -14.8 0M519.2 180.3a7.4 7.4 0 1 0 14.8 0a7.4 7.4 0 1 0 -14.8 0M519.6 187.4a7.4 7.4 0 1 0 14.8 0a7.4 7.4 0 1 0 -14.8 0M520.0 188.8a7.4 7.4 0 1 0 14.8 0a7.4 7.4 0 1 0 -14.8 0M521.7 178.3a7.4 7.4 0 1 0 14.8 0a7.4 7.4 0 1 0 -14.8 0M521.4 184.4a7.4 7.4 0 1 0 14.8 0a7.4 7.4 0 1 0 -14.8 0M523.4 190.6a7.4 7.4 0 1 0 14.8 0a7.4 7.4 0 1 0 -14.8 0M523.7 180.1a7.4 7.4 0 1 0 14.8 0a7.4 7.4 0 1 0 -14.8 0M525.0 192.7a7.4 7.4 0 1 0 14.8 0a7.4 7.4 0 1 0 -14.8 0M525.9 189.6a7.4 7.4 0 1 0 14.8 0a7.4 7.4 0 1 0 -14.8 0M526.4 186.6a7.4 7.4 0 1 0 14.8 0a7.4 7.4 0 1 0 -14.8 0M526.7 185.7a7.4 7.4 0 1 0 14.8 0a7.4 7.4 0 1 0 -14.8 0M527.2 195.1a7.4 7.4 0 1 0 14.8 0a7.4 7.4 0 1 0 -14.8 0M528.9 193.7a7.4 7.4 0 1 0 14.8 0a7.4 7.4 0 1 0 -14.8 0M529.8 192.4a7.4 7.4 0 1 0 14.8 0a7.4 7.4 0 1 0 -14.8 0M530.5 194.0a7.4 7.4 0 1 0 14.8 0a7.4 7.4 0 1 0 -14.8 0M531.6 197.4a7.4 7.4 0 1 0 14.8 0a7.4 7.4 0 1 0 -14.8 0M531.7 190.3a7.4 7.4 0 1 0 14.8 0a7.4 7.4 0 1 0 -14.8 0M531.9 187.7a7.4 7.4 0 1 0 14.8 0a7.4 7.4 0 1 0 -14.8 0M533.8 195.9a7.4 7.4 0 1 0 14.8 0a7.4 7.4 0 1 0 -14.8 0M534.5 198.0a7.4 7.4 0 1 0 14.8 0a7.4 7.4 0 1 0 -14.8 0M534.8 190.5a7.4 7.4 0 1 0 14.8 0a7.4 7.4 0 1 0 -14.8 0M535.1 193.8a7.4 7.4 0 1 0 14.8 0a7.4 7.4 0 1 0 -14.8 0M537.3 201.4a7.4 7.4 0 1 0 14.8 0a7.4 7.4 0 1 0 -14.8 0M537.2 199.3a7.4 7.4 0 1 0 14.8 0a7.4 7.4 0 1 0 -14.8 0M538.1 194.0a7.4 7.4 0 1 0 14.8 0a7.4 7.4 0 1 0 -14.8 0M539.3 198.3a7.4 7.4 0 1 0 14.8 0a7.4 7.4 0 1 0 -14.8 0M540.0 207.3a7.4 7.4 0 1 0 14.8 0a7.4 7.4 0 1 0 -14.8 0M540.9 198.4a7.4 7.4 0 1 0 14.8 0a7.4 7.4 0 1 0 -14.8 0M541.0 209.0a7.4 7.4 0 1 0 14.8 0a7.4 7.4 0 1 0 -14.8 0M542.5 201.4a7.4 7.4 0 1 0 14.8 0a7.4 7.4 0 1 0 -14.8 0M542.8 201.9a7.4 7.4 0 1 0 14.8 0a7.4 7.4 0 1 0 -14.8 0M543.2 211.4a7.4 7.4 0 1 0 14.8 0a7.4 7.4 0 1 0 -14.8 0M544.5 209.5a7.4 7.4 0 1 0 14.8 0a7.4 7.4 0 1 0 -14.8 0M545.0 210.8a7.4 7.4 0 1 0 14.8 0a7.4 7.4 0 1 0 -14.8 0M546.3 212.7a7.4 7.4 0 1 0 14.8 0a7.4 7.4 0 1 0 -14.8 0M547.0 208.4a7.4 7.4 0 1 0 14.8 0a7.4 7.4 0 1 0 -14.8 0M547.7 216.2a7.4 7.4 0 1 0 14.8 0a7.4 7.4 0 1 0 -14.8 0M548.9 215.9a7.4 7.4 0 1 0 14.8 0a7.4 7.4 0 1 0 -14.8 0M549.4 213.3a7.4 7.4 0 1 0 14.8 0a7.4 7.4 0 1 0 -14.8 0M550.2 214.2a7.4 7.4 0 1 0 14.8 0a7.4 7.4 0 1 0 -14.8 0M551.8 217.5a7.4 7.4 0 1 0 14.8 0a7.4 7.4 0 1 0 -14.8 0M552.7 206.8a7.4 7.4 0 1 0 14.8 0a7.4 7.4 0 1 0 -14.8 0M552.4 211.7a7.4 7.4 0 1 0 14.8 0a7.4 7.4 0 1 0 -14.8 0M553.1 214.6a7.4 7.4 0 1 0 14.8 0a7.4 7.4 0 1 0 -14.8 0M554.4 216.0a7.4 7.4 0 1 0 14.8 0a7.4 7.4 0 1 0 -14.8 0M555.2 219.4a7.4 7.4 0 1 0 14.8 0a7.4 7.4 0 1 0 -14.8 0M556.0 214.8a7.4 7.4 0 1 0 14.8 0a7.4 7.4 0 1 0 -14.8 0M556.5 219.6a7.4 7.4 0 1 0 14.8 0a7.4 7.4 0 1 0 -14.8 0M557.9 217.3a7.4 7.4 0 1 0 14.8 0a7.4 7.4 0 1 0 -14.8 0M558.1 212.6a7.4 7.4 0 1 0 14.8 0a7.4 7.4 0 1 0 -14.8 0M559.0 219.2a7.4 7.4 0 1 0 14.8 0a7.4 7.4 0 1 0 -14.8 0M559.9 207.6a7.4 7.4 0 1 0 14.8 0a7.4 7.4 0 1 0 -14.8 0M561.4 211.9a7.4 7.4 0 1 0 14.8 0a7.4 7.4 0 1 0 -14.8 0M561.5 215.7a7.4 7.4 0 1 0 14.8 0a7.4 7.4 0 1 0 -14.8 0M563.1 208.9a7.4 7.4 0 1 0 14.8 0a7.4 7.4 0 1 0 -14.8 0M562.9 206.5a7.4 7.4 0 1 0 14.8 0a7.4 7.4 0 1 0 -14.8 0M564.8 215.1a7.4 7.4 0 1 0 14.8 0a7.4 7.4 0 1 0 -14.8 0M564.7 216.5a7.4 7.4 0 1 0 14.8 0a7.4 7.4 0 1 0 -14.8 0M566.5 205.9a7.4 7.4 0 1 0 14.8 0a7.4 7.4 0 1 0 -14.8 0M566.9 214.8a7.4 7.4 0 1 0 14.8 0a7.4 7.4 0 1 0 -14.8 0M567.5 211.9a7.4 7.4 0 1 0 14.8 0a7.4 7.4 0 1 0 -14.8 0M568.1 215.2a7.4 7.4 0 1 0 14.8 0a7.4 7.4 0 1 0 -14.8 0M568.9 207.2a7.4 7.4 0 1 0 14.8 0a7.4 7.4 0 1 0 -14.8 0M569.9 216.7a7.4 7.4 0 1 0 14.8 0a7.4 7.4 0 1 0 -14.8 0M570.7 210.1a7.4 7.4 0 1 0 14.8 0a7.4 7.4 0 1 0 -14.8 0M571.5 208.9a7.4 7.4 0 1 0 14.8 0a7.4 7.4 0 1 0 -14.8 0M572.2 205.1a7.4 7.4 0 1 0 14.8 0a7.4 7.4 0 1 0 -14.8 0M573.0 208.5a7.4 7.4 0 1 0 14.8 0a7.4 7.4 0 1 0 -14.8 0M574.2 214.2a7.4 7.4 0 1 0 14.8 0a7.4 7.4 0 1 0 -14.8 0M575.1 207.0a7.4 7.4 0 1 0 14.8 0a7.4 7.4 0 1 0 -14.8 0M575.5 212.7a7.4 7.4 0 1 0 14.8 0a7.4 7.4 0 1 0 -14.8 0M576.0 209.7a7.4 7.4 0 1 0 14.8 0a7.4 7.4 0 1 0 -14.8 0M577.5 209.5a7.4 7.4 0 1 0 14.8 0a7.4 7.4 0 1 0 -14.8 0M577.4 207.8a7.4 7.4 0 1 0 14.8 0a7.4 7.4 0 1 0 -14.8 0M578.8 205.3a7.4 7.4 0 1 0 14.8 0a7.4 7.4 0 1 0 -14.8 0M579.6 213.5a7.4 7.4 0 1 0 14.8 0a7.4 7.4 0 1 0 -14.8 0M580.7 206.7a7.4 7.4 0 1 0 14.8 0a7.4 7.4 0 1 0 -14.8 0M581.6 212.0a7.4 7.4 0 1 0 14.8 0a7.4 7.4 0 1 0 -14.8 0M582.6 214.7a7.4 7.4 0 1 0 14.8 0a7.4 7.4 0 1 0 -14.8 0M583.0 212.5a7.4 7.4 0 1 0 14.8 0a7.4 7.4 0 1 0 -14.8 0M584.0 218.8a7.4 7.4 0 1 0 14.8 0a7.4 7.4 0 1 0 -14.8 0M584.3 211.1a7.4 7.4 0 1 0 14.8 0a7.4 7.4 0 1 0 -14.8 0M584.6 211.3a7.4 7.4 0 1 0 14.8 0a7.4 7.4 0 1 0 -14.8 0M586.3 206.8a7.4 7.4 0 1 0 14.8 0a7.4 7.4 0 1 0 -14.8 0M587.2 214.8a7.4 7.4 0 1 0 14.8 0a7.4 7.4 0 1 0 -14.8 0M587.6 207.2a7.4 7.4 0 1 0 14.8 0a7.4 7.4 0 1 0 -14.8 0M588.2 220.3a7.4 7.4 0 1 0 14.8 0a7.4 7.4 0 1 0 -14.8 0M589.4 213.5a7.4 7.4 0 1 0 14.8 0a7.4 7.4 0 1 0 -14.8 0M590.2 212.6a7.4 7.4 0 1 0 14.8 0a7.4 7.4 0 1 0 -14.8 0M590.8 214.5a7.4 7.4 0 1 0 14.8 0a7.4 7.4 0 1 0 -14.8 0M591.9 210.0a7.4 7.4 0 1 0 14.8 0a7.4 7.4 0 1 0 -14.8 0M592.4 213.6a7.4 7.4 0 1 0 14.8 0a7.4 7.4 0 1 0 -14.8 0M592.8 220.0a7.4 7.4 0 1 0 14.8 0a7.4 7.4 0 1 0 -14.8 0M594.8 214.5a7.4 7.4 0 1 0 14.8 0a7.4 7.4 0 1 0 -14.8 0M595.6 218.3a7.4 7.4 0 1 0 14.8 0a7.4 7.4 0 1 0 -14.8 0M595.6 217.7a7.4 7.4 0 1 0 14.8 0a7.4 7.4 0 1 0 -14.8 0M596.2 213.1a7.4 7.4 0 1 0 14.8 0a7.4 7.4 0 1 0 -14.8 0M597.4 212.3a7.4 7.4 0 1 0 14.8 0a7.4 7.4 0 1 0 -14.8 0M598.5 212.4a7.4 7.4 0 1 0 14.8 0a7.4 7.4 0 1 0 -14.8 0M598.8 213.4a7.4 7.4 0 1 0 14.8 0a7.4 7.4 0 1 0 -14.8 0M599.3 206.2a7.4 7.4 0 1 0 14.8 0a7.4 7.4 0 1 0 -14.8 0M600.9 205.0a7.4 7.4 0 1 0 14.8 0a7.4 7.4 0 1 0 -14.8 0M601.0 206.7a7.4 7.4 0 1 0 14.8 0a7.4 7.4 0 1 0 -14.8 0M602.0 201.9a7.4 7.4 0 1 0 14.8 0a7.4 7.4 0 1 0 -14.8 0M602.6 212.2a7.4 7.4 0 1 0 14.8 0a7.4 7.4 0 1 0 -14.8 0M604.6 206.2a7.4 7.4 0 1 0 14.8 0a7.4 7.4 0 1 0 -14.8 0M604.6 210.0a7.4 7.4 0 1 0 14.8 0a7.4 7.4 0 1 0 -14.8 0M605.7 210.0a7.4 7.4 0 1 0 14.8 0a7.4 7.4 0 1 0 -14.8 0M605.7 205.9a7.4 7.4 0 1 0 14.8 0a7.4 7.4 0 1 0 -14.8 0M606.8 202.9a7.4 7.4 0 1 0 14.8 0a7.4 7.4 0 1 0 -14.8 0M607.8 202.5a7.4 7.4 0 1 0 14.8 0a7.4 7.4 0 1 0 -14.8 0M608.4 200.4a7.4 7.4 0 1 0 14.8 0a7.4 7.4 0 1 0 -14.8 0M610.0 199.2a7.4 7.4 0 1 0 14.8 0a7.4 7.4 0 1 0 -14.8 0M609.9 208.1a7.4 7.4 0 1 0 14.8 0a7.4 7.4 0 1 0 -14.8 0M610.8 196.5a7.4 7.4 0 1 0 14.8 0a7.4 7.4 0 1 0 -14.8 0M612.0 203.4a7.4 7.4 0 1 0 14.8 0a7.4 7.4 0 1 0 -14.8 0M613.4 203.8a7.4 7.4 0 1 0 14.8 0a7.4 7.4 0 1 0 -14.8 0M613.9 199.7a7.4 7.4 0 1 0 14.8 0a7.4 7.4 0 1 0 -14.8 0M614.6 198.2a7.4 7.4 0 1 0 14.8 0a7.4 7.4 0 1 0 -14.8 0M615.1 197.9a7.4 7.4 0 1 0 14.8 0a7.4 7.4 0 1 0 -14.8 0M616.3 193.8a7.4 7.4 0 1 0 14.8 0a7.4 7.4 0 1 0 -14.8 0M617.2 193.8a7.4 7.4 0 1 0 14.8 0a7.4 7.4 0 1 0 -14.8 0M617.9 200.3a7.4 7.4 0 1 0 14.8 0a7.4 7.4 0 1 0 -14.8 0M618.0 202.6a7.4 7.4 0 1 0 14.8 0a7.4 7.4 0 1 0 -14.8 0M619.1 201.6a7.4 7.4 0 1 0 14.8 0a7.4 7.4 0 1 0 -14.8 0M620.4 200.2a7.4 7.4 0 1 0 14.8 0a7.4 7.4 0 1 0 -14.8 0M620.9 195.1a7.4 7.4 0 1 0 14.8 0a7.4 7.4 0 1 0 -14.8 0M621.6 199.6a7.4 7.4 0 1 0 14.8 0a7.4 7.4 0 1 0 -14.8 0M622.8 198.3a7.4 7.4 0 1 0 14.8 0a7.4 7.4 0 1 0 -14.8 0M623.6 190.7a7.4 7.4 0 1 0 14.8 0a7.4 7.4 0 1 0 -14.8 0M624.3 185.8a7.4 7.4 0 1 0 14.8 0a7.4 7.4 0 1 0 -14.8 0M624.5 192.1a7.4 7.4 0 1 0 14.8 0a7.4 7.4 0 1 0 -14.8 0M625.8 193.7a7.4 7.4 0 1 0 14.8 0a7.4 7.4 0 1 0 -14.8 0M626.5 196.5a7.4 7.4 0 1 0 14.8 0a7.4 7.4 0 1 0 -14.8 0M627.0 196.4a7.4 7.4 0 1 0 14.8 0a7.4 7.4 0 1 0 -14.8 0M628.9 184.6a7.4 7.4 0 1 0 14.8 0a7.4 7.4 0 1 0 -14.8 0M629.1 188.1a7.4 7.4 0 1 0 14.8 0a7.4 7.4 0 1 0 -14.8 0M629.8 184.8a7.4 7.4 0 1 0 14.8 0a7.4 7.4 0 1 0 -14.8 0M630.7 181.9a7.4 7.4 0 1 0 14.8 0a7.4 7.4 0 1 0 -14.8 0M630.9 191.3a7.4 7.4 0 1 0 14.8 0a7.4 7.4 0 1 0 -14.8 0M632.0 181.2a7.4 7.4 0 1 0 14.8 0a7.4 7.4 0 1 0 -14.8 0M633.2 186.9a7.4 7.4 0 1 0 14.8 0a7.4 7.4 0 1 0 -14.8 0M633.9 187.5a7.4 7.4 0 1 0 14.8 0a7.4 7.4 0 1 0 -14.8 0M635.1 178.7a7.4 7.4 0 1 0 14.8 0a7.4 7.4 0 1 0 -14.8 0M635.0 180.3a7.4 7.4 0 1 0 14.8 0a7.4 7.4 0 1 0 -14.8 0M636.8 185.2a7.4 7.4 0 1 0 14.8 0a7.4 7.4 0 1 0 -14.8 0M637.0 174.4a7.4 7.4 0 1 0 14.8 0a7.4 7.4 0 1 0 -14.8 0M637.4 173.2a7.4 7.4 0 1 0 14.8 0a7.4 7.4 0 1 0 -14.8 0M638.9 173.4a7.4 7.4 0 1 0 14.8 0a7.4 7.4 0 1 0 -14.8 0M639.1 168.4a7.4 7.4 0 1 0 14.8 0a7.4 7.4 0 1 0 -14.8 0M640.8 169.2a7.4 7.4 0 1 0 14.8 0a7.4 7.4 0 1 0 -14.8 0M641.9 175.2a7.4 7.4 0 1 0 14.8 0a7.4 7.4 0 1 0 -14.8 0M641.9 171.8a7.4 7.4 0 1 0 14.8 0a7.4 7.4 0 1 0 -14.8 0M642.8 165.5a7.4 7.4 0 1 0 14.8 0a7.4 7.4 0 1 0 -14.8 0M644.1 161.9a7.4 7.4 0 1 0 14.8 0a7.4 7.4 0 1 0 -14.8 0M644.9 171.1a7.4 7.4 0 1 0 14.8 0a7.4 7.4 0 1 0 -14.8 0M645.1 165.2a7.4 7.4 0 1 0 14.8 0a7.4 7.4 0 1 0 -14.8 0M646.3 162.5a7.4 7.4 0 1 0 14.8 0a7.4 7.4 0 1 0 -14.8 0M646.4 168.8a7.4 7.4 0 1 0 14.8 0a7.4 7.4 0 1 0 -14.8 0M647.3 167.2a7.4 7.4 0 1 0 14.8 0a7.4 7.4 0 1 0 -14.8 0M648.3 168.2a7.4 7.4 0 1 0 14.8 0a7.4 7.4 0 1 0 -14.8 0M649.4 164.1a7.4 7.4 0 1 0 14.8 0a7.4 7.4 0 1 0 -14.8 0M650.5 162.6a7.4 7.4 0 1 0 14.8 0a7.4 7.4 0 1 0 -14.8 0M650.7 162.2a7.4 7.4 0 1 0 14.8 0a7.4 7.4 0 1 0 -14.8 0M652.5 153.6a7.4 7.4 0 1 0 14.8 0a7.4 7.4 0 1 0 -14.8 0M652.0 155.2a7.4 7.4 0 1 0 14.8 0a7.4 7.4 0 1 0 -14.8 0M653.8 150.7a7.4 7.4 0 1 0 14.8 0a7.4 7.4 0 1 0 -14.8 0M654.9 150.6a7.4 7.4 0 1 0 14.8 0a7.4 7.4 0 1 0 -14.8 0M654.5 150.8a7.4 7.4 0 1 0 14.8 0a7.4 7.4 0 1 0 -14.8 0M655.5 150.4a7.4 7.4 0 1 0 14.8 0a7.4 7.4 0 1 0 -14.8 0M657.1 152.1a7.4 7.4 0 1 0 14.8 0a7.4 7.4 0 1 0 -14.8 0M657.7 151.0a7.4 7.4 0 1 0 14.8 0a7.4 7.4 0 1 0 -14.8 0M658.4 154.4a7.4 7.4 0 1 0 14.8 0a7.4 7.4 0 1 0 -14.8 0M659.0 157.2a7.4 7.4 0 1 0 14.8 0a7.4 7.4 0 1 0 -14.8 0M660.1 154.5a7.4 7.4 0 1 0 14.8 0a7.4 7.4 0 1 0 -14.8 0M660.2 148.5a7.4 7.4 0 1 0 14.8 0a7.4 7.4 0 1 0 -14.8 0M661.2 153.3a7.4 7.4 0 1 0 14.8 0a7.4 7.4 0 1 0 -14.8 0M662.2 147.5a7.4 7.4 0 1 0 14.8 0a7.4 7.4 0 1 0 -14.8 0M662.9 147.3a7.4 7.4 0 1 0 14.8 0a7.4 7.4 0 1 0 -14.8 0M664.3 160.2a7.4 7.4 0 1 0 14.8 0a7.4 7.4 0 1 0 -14.8 0M665.1 150.4a7.4 7.4 0 1 0 14.8 0a7.4 7.4 0 1 0 -14.8 0M665.8 154.2a7.4 7.4 0 1 0 14.8 0a7.4 7.4 0 1 0 -14.8 0M665.8 155.9a7.4 7.4 0 1 0 14.8 0a7.4 7.4 0 1 0 -14.8 0M666.8 154.0a7.4 7.4 0 1 0 14.8 0a7.4 7.4 0 1 0 -14.8 0M667.6 156.0a7.4 7.4 0 1 0 14.8 0a7.4 7.4 0 1 0 -14.8 0M669.3 159.0a7.4 7.4 0 1 0 14.8 0a7.4 7.4 0 1 0 -14.8 0M669.8 159.0a7.4 7.4 0 1 0 14.8 0a7.4 7.4 0 1 0 -14.8 0M670.4 157.1a7.4 7.4 0 1 0 14.8 0a7.4 7.4 0 1 0 -14.8 0M671.5 161.6a7.4 7.4 0 1 0 14.8 0a7.4 7.4 0 1 0 -14.8 0M671.5 167.2a7.4 7.4 0 1 0 14.8 0a7.4 7.4 0 1 0 -14.8 0M672.8 158.9a7.4 7.4 0 1 0 14.8 0a7.4 7.4 0 1 0 -14.8 0M674.2 169.7a7.4 7.4 0 1 0 14.8 0a7.4 7.4 0 1 0 -14.8 0M673.8 167.2a7.4 7.4 0 1 0 14.8 0a7.4 7.4 0 1 0 -14.8 0M674.9 161.9a7.4 7.4 0 1 0 14.8 0a7.4 7.4 0 1 0 -14.8 0M675.6 167.4a7.4 7.4 0 1 0 14.8 0a7.4 7.4 0 1 0 -14.8 0M676.5 169.6a7.4 7.4 0 1 0 14.8 0a7.4 7.4 0 1 0 -14.8 0M677.4 167.6a7.4 7.4 0 1 0 14.8 0a7.4 7.4 0 1 0 -14.8 0M678.2 173.2a7.4 7.4 0 1 0 14.8 0a7.4 7.4 0 1 0 -14.8 0M679.9 178.8a7.4 7.4 0 1 0 14.8 0a7.4 7.4 0 1 0 -14.8 0M680.0 183.4a7.4 7.4 0 1 0 14.8 0a7.4 7.4 0 1 0 -14.8 0M681.3 183.3a7.4 7.4 0 1 0 14.8 0a7.4 7.4 0 1 0 -14.8 0M682.0 186.1a7.4 7.4 0 1 0 14.8 0a7.4 7.4 0 1 0 -14.8 0M681.9 181.5a7.4 7.4 0 1 0 14.8 0a7.4 7.4 0 1 0 -14.8 0M682.9 186.4a7.4 7.4 0 1 0 14.8 0a7.4 7.4 0 1 0 -14.8 0M684.5 191.6a7.4 7.4 0 1 0 14.8 0a7.4 7.4 0 1 0 -14.8 0M685.3 196.3a7.4 7.4 0 1 0 14.8 0a7.4 7.4 0 1 0 -14.8 0M686.6 187.1a7.4 7.4 0 1 0 14.8 0a7.4 7.4 0 1 0 -14.8 0M686.2 194.3a7.4 7.4 0 1 0 14.8 0a7.4 7.4 0 1 0 -14.8 0M687.3 200.8a7.4 7.4 0 1 0 14.8 0a7.4 7.4 0 1 0 -14.8 0M687.8 193.6a7.4 7.4 0 1 0 14.8 0a7.4 7.4 0 1 0 -14.8 0M689.6 201.0a7.4 7.4 0 1 0 14.8 0a7.4 7.4 0 1 0 -14.8 0M690.3 205.2a7.4 7.4 0 1 0 14.8 0a7.4 7.4 0 1 0 -14.8 0M690.2 198.6a7.4 7.4 0 1 0 14.8 0a7.4 7.4 0 1 0 -14.8 0M691.1 197.1a7.4 7.4 0 1 0 14.8 0a7.4 7.4 0 1 0 -14.8 0M691.7 205.3a7.4 7.4 0 1 0 14.8 0a7.4 7.4 0 1 0 -14.8 0M693.1 205.5a7.4 7.4 0 1 0 14.8 0a7.4 7.4 0 1 0 -14.8 0M694.2 206.4a7.4 7.4 0 1 0 14.8 0a7.4 7.4 0 1 0 -14.8 0M694.7 216.0a7.4 7.4 0 1 0 14.8 0a7.4 7.4 0 1 0 -14.8 0M696.1 210.6a7.4 7.4 0 1 0 14.8 0a7.4 7.4 0 1 0 -14.8 0M695.9 220.6a7.4 7.4 0 1 0 14.8 0a7.4 7.4 0 1 0 -14.8 0M697.4 213.4a7.4 7.4 0 1 0 14.8 0a7.4 7.4 0 1 0 -14.8 0M698.7 220.2a7.4 7.4 0 1 0 14.8 0a7.4 7.4 0 1 0 -14.8 0M698.4 222.8a7.4 7.4 0 1 0 14.8 0a7.4 7.4 0 1 0 -14.8 0M699.1 225.0a7.4 7.4 0 1 0 14.8 0a7.4 7.4 0 1 0 -14.8 0M700.6 222.8a7.4 7.4 0 1 0 14.8 0a7.4 7.4 0 1 0 -14.8 0M701.7 223.7a7.4 7.4 0 1 0 14.8 0a7.4 7.4 0 1 0 -14.8 0M702.6 224.1a7.4 7.4 0 1 0 14.8 0a7.4 7.4 0 1 0 -14.8 0M702.6 226.1a7.4 7.4 0 1 0 14.8 0a7.4 7.4 0 1 0 -14.8 0M703.7 229.5a7.4 7.4 0 1 0 14.8 0a7.4 7.4 0 1 0 -14.8 0M704.2 227.7a7.4 7.4 0 1 0 14.8 0a7.4 7.4 0 1 0 -14.8 0M705.9 238.4a7.4 7.4 0 1 0 14.8 0a7.4 7.4 0 1 0 -14.8 0M706.1 227.4a7.4 7.4 0 1 0 14.8 0a7.4 7.4 0 1 0 -14.8 0M707.0 239.9a7.4 7.4 0 1 0 14.8 0a7.4 7.4 0 1 0 -14.8 0M707.8 234.3a7.4 7.4 0 1 0 14.8 0a7.4 7.4 0 1 0 -14.8 0M709.3 230.1a7.4 7.4 0 1 0 14.8 0a7.4 7.4 0 1 0 -14.8 0M708.9 231.5a7.4 7.4 0 1 0 14.8 0a7.4 7.4 0 1 0 -14.8 0M710.3 233.3a7.4 7.4 0 1 0 14.8 0a7.4 7.4 0 1 0 -14.8 0M711.3 240.8a7.4 7.4 0 1 0 14.8 0a7.4 7.4 0 1 0 -14.8 0M712.5 236.0a7.4 7.4 0 1 0 14.8 0a7.4 7.4 0 1 0 -14.8 0M712.0 236.6a7.4 7.4 0 1 0 14.8 0a7.4 7.4 0 1 0 -14.8 0M713.1 246.7a7.4 7.4 0 1 0 14.8 0a7.4 7.4 0 1 0 -14.8 0M713.7 247.6a7.4 7.4 0 1 0 14.8 0a7.4 7.4 0 1 0 -14.8 0M715.1 237.9a7.4 7.4 0 1 0 14.8 0a7.4 7.4 0 1 0 -14.8 0M715.9 240.5a7.4 7.4 0 1 0 14.8 0a7.4 7.4 0 1 0 -14.8 0M717.0 243.8a7.4 7.4 0 1 0 14.8 0a7.4 7.4 0 1 0 -14.8 0M717.6 248.7a7.4 7.4 0 1 0 14.8 0a7.4 7.4 0 1 0 -14.8 0M718.0 241.8a7.4 7.4 0 1 0 14.8 0a7.4 7.4 0 1 0 -14.8 0M719.2 246.2a7.4 7.4 0 1 0 14.8 0a7.4 7.4 0 1 0 -14.8 0M720.4 247.9a7.4 7.4 0 1 0 14.8 0a7.4 7.4 0 1 0 -14.8 0M720.6 243.6a7.4 7.4 0 1 0 14.8 0a7.4 7.4 0 1 0 -14.8 0M722.0 242.4a7.4 7.4 0 1 0 14.8 0a7.4 7.4 0 1 0 -14.8 0M721.8 242.0a7.4 7.4 0 1 0 14.8 0a7.4 7.4 0 1 0 -14.8 0M723.5 241.9a7.4 7.4 0 1 0 14.8 0a7.4 7.4 0 1 0 -14.8 0M723.4 240.1a7.4 7.4 0 1 0 14.8 0a7.4 7.4 0 1 0 -14.8 0M724.7 250.6a7.4 7.4 0 1 0 14.8 0a7.4 7.4 0 1 0 -14.8 0M725.8 245.7a7.4 7.4 0 1 0 14.8 0a7.4 7.4 0 1 0 -14.8 0M726.8 247.8a7.4 7.4 0 1 0 14.8 0a7.4 7.4 0 1 0 -14.8 0M726.7 242.0a7.4 7.4 0 1 0 14.8 0a7.4 7.4 0 1 0 -14.8 0M728.3 242.6a7.4 7.4 0 1 0 14.8 0a7.4 7.4 0 1 0 -14.8 0M729.5 250.1a7.4 7.4 0 1 0 14.8 0a7.4 7.4 0 1 0 -14.8 0M730.1 245.3a7.4 7.4 0 1 0 14.8 0a7.4 7.4 0 1 0 -14.8 0M730.0 242.7a7.4 7.4 0 1 0 14.8 0a7.4 7.4 0 1 0 -14.8 0M731.7 250.9a7.4 7.4 0 1 0 14.8 0a7.4 7.4 0 1 0 -14.8 0M732.7 249.1a7.4 7.4 0 1 0 14.8 0a7.4 7.4 0 1 0 -14.8 0M732.3 242.3a7.4 7.4 0 1 0 14.8 0a7.4 7.4 0 1 0 -14.8 0M733.4 241.9a7.4 7.4 0 1 0 14.8 0a7.4 7.4 0 1 0 -14.8 0M734.8 252.0a7.4 7.4 0 1 0 14.8 0a7.4 7.4 0 1 0 -14.8 0M734.8 245.0a7.4 7.4 0 1 0 14.8 0a7.4 7.4 0 1 0 -14.8 0M736.0 246.6a7.4 7.4 0 1 0 14.8 0a7.4 7.4 0 1 0 -14.8 0M737.1 245.9a7.4 7.4 0 1 0 14.8 0a7.4 7.4 0 1 0 -14.8 0M737.5 247.5a7.4 7.4 0 1 0 14.8 0a7.4 7.4 0 1 0 -14.8 0M738.7 250.9a7.4 7.4 0 1 0 14.8 0a7.4 7.4 0 1 0 -14.8 0M739.0 242.3a7.4 7.4 0 1 0 14.8 0a7.4 7.4 0 1 0 -14.8 0M739.6 244.9a7.4 7.4 0 1 0 14.8 0a7.4 7.4 0 1 0 -14.8 0M740.7 239.8a7.4 7.4 0 1 0 14.8 0a7.4 7.4 0 1 0 -14.8 0M741.7 244.8a7.4 7.4 0 1 0 14.8 0a7.4 7.4 0 1 0 -14.8 0M743.3 248.8a7.4 7.4 0 1 0 14.8 0a7.4 7.4 0 1 0 -14.8 0M743.5 238.8a7.4 7.4 0 1 0 14.8 0a7.4 7.4 0 1 0 -14.8 0M744.6 237.6a7.4 7.4 0 1 0 14.8 0a7.4 7.4 0 1 0 -14.8 0M744.8 243.9a7.4 7.4 0 1 0 14.8 0a7.4 7.4 0 1 0 -14.8 0M746.2 243.5a7.4 7.4 0 1 0 14.8 0a7.4 7.4 0 1 0 -14.8 0M746.1 245.1a7.4 7.4 0 1 0 14.8 0a7.4 7.4 0 1 0 -14.8 0M747.5 243.3a7.4 7.4 0 1 0 14.8 0a7.4 7.4 0 1 0 -14.8 0M747.9 235.6a7.4 7.4 0 1 0 14.8 0a7.4 7.4 0 1 0 -14.8 0M749.8 236.5a7.4 7.4 0 1 0 14.8 0a7.4 7.4 0 1 0 -14.8 0M749.4 234.0a7.4 7.4 0 1 0 14.8 0a7.4 7.4 0 1 0 -14.8 0M750.5 240.2a7.4 7.4 0 1 0 14.8 0a7.4 7.4 0 1 0 -14.8 0M751.3 234.6a7.4 7.4 0 1 0 14.8 0a7.4 7.4 0 1 0 -14.8 0M751.7 238.1a7.4 7.4 0 1 0 14.8 0a7.4 7.4 0 1 0 -14.8 0M753.3 242.5a7.4 7.4 0 1 0 14.8 0a7.4 7.4 0 1 0 -14.8 0M754.2 240.7a7.4 7.4 0 1 0 14.8 0a7.4 7.4 0 1 0 -14.8 0M755.0 238.1a7.4 7.4 0 1 0 14.8 0a7.4 7.4 0 1 0 -14.8 0M756.0 237.3a7.4 7.4 0 1 0 14.8 0a7.4 7.4 0 1 0 -14.8 0M757.0 241.0a7.4 7.4 0 1 0 14.8 0a7.4 7.4 0 1 0 -14.8 0M756.9 232.9a7.4 7.4 0 1 0 14.8 0a7.4 7.4 0 1 0 -14.8 0M758.0 242.7a7.4 7.4 0 1 0 14.8 0a7.4 7.4 0 1 0 -14.8 0M758.7 239.2a7.4 7.4 0 1 0 14.8 0a7.4 7.4 0 1 0 -14.8 0M760.2 230.6a7.4 7.4 0 1 0 14.8 0a7.4 7.4 0 1 0 -14.8 0M759.8 228.6a7.4 7.4 0 1 0 14.8 0a7.4 7.4 0 1 0 -14.8 0M761.8 232.2a7.4 7.4 0 1 0 14.8 0a7.4 7.4 0 1 0 -14.8 0M761.6 230.9a7.4 7.4 0 1 0 14.8 0a7.4 7.4 0 1 0 -14.8 0M762.6 233.2a7.4 7.4 0 1 0 14.8 0a7.4 7.4 0 1 0 -14.8 0M763.1 233.3a7.4 7.4 0 1 0 14.8 0a7.4 7.4 0 1 0 -14.8 0M764.9 226.0a7.4 7.4 0 1 0 14.8 0a7.4 7.4 0 1 0 -14.8 0M766.0 238.0a7.4 7.4 0 1 0 14.8 0a7.4 7.4 0 1 0 -14.8 0M766.2 226.7a7.4 7.4 0 1 0 14.8 0a7.4 7.4 0 1 0 -14.8 0M766.8 229.1a7.4 7.4 0 1 0 14.8 0a7.4 7.4 0 1 0 -14.8 0M767.2 225.2a7.4 7.4 0 1 0 14.8 0a7.4 7.4 0 1 0 -14.8 0M768.1 236.9a7.4 7.4 0 1 0 14.8 0a7.4 7.4 0 1 0 -14.8 0M768.8 226.9a7.4 7.4 0 1 0 14.8 0a7.4 7.4 0 1 0 -14.8 0M770.2 230.2a7.4 7.4 0 1 0 14.8 0a7.4 7.4 0 1 0 -14.8 0M770.7 224.7a7.4 7.4 0 1 0 14.8 0a7.4 7.4 0 1 0 -14.8 0M771.6 234.2a7.4 7.4 0 1 0 14.8 0a7.4 7.4 0 1 0 -14.8 0M773.0 226.9a7.4 7.4 0 1 0 14.8 0a7.4 7.4 0 1 0 -14.8 0M773.2 227.8a7.4 7.4 0 1 0 14.8 0a7.4 7.4 0 1 0 -14.8 0M773.7 234.2a7.4 7.4 0 1 0 14.8 0a7.4 7.4 0 1 0 -14.8 0M775.5 235.2a7.4 7.4 0 1 0 14.8 0a7.4 7.4 0 1 0 -14.8 0M775.4 230.2a7.4 7.4 0 1 0 14.8 0a7.4 7.4 0 1 0 -14.8 0M776.7 236.1a7.4 7.4 0 1 0 14.8 0a7.4 7.4 0 1 0 -14.8 0M777.6 233.1a7.4 7.4 0 1 0 14.8 0a7.4 7.4 0 1 0 -14.8 0M778.0 225.8a7.4 7.4 0 1 0 14.8 0a7.4 7.4 0 1 0 -14.8 0M778.8 235.0a7.4 7.4 0 1 0 14.8 0a7.4 7.4 0 1 0 -14.8 0M779.5 237.9a7.4 7.4 0 1 0 14.8 0a7.4 7.4 0 1 0 -14.8 0M781.2 230.6a7.4 7.4 0 1 0 14.8 0a7.4 7.4 0 1 0 -14.8 0M781.0 230.9a7.4 7.4 0 1 0 14.8 0a7.4 7.4 0 1 0 -14.8 0M782.2 229.5a7.4 7.4 0 1 0 14.8 0a7.4 7.4 0 1 0 -14.8 0M782.9 240.2a7.4 7.4 0 1 0 14.8 0a7.4 7.4 0 1 0 -14.8 0M784.1 237.2a7.4 7.4 0 1 0 14.8 0a7.4 7.4 0 1 0 -14.8 0M784.5 233.5a7.4 7.4 0 1 0 14.8 0a7.4 7.4 0 1 0 -14.8 0M785.0 229.9a7.4 7.4 0 1 0 14.8 0a7.4 7.4 0 1 0 -14.8 0M786.4 238.7a7.4 7.4 0 1 0 14.8 0a7.4 7.4 0 1 0 -14.8 0M786.9 234.8a7.4 7.4 0 1 0 14.8 0a7.4 7.4 0 1 0 -14.8 0M788.5 239.5a7.4 7.4 0 1 0 14.8 0a7.4 7.4 0 1 0 -14.8 0M788.2 244.8a7.4 7.4 0 1 0 14.8 0a7.4 7.4 0 1 0 -14.8 0M790.4 236.4a7.4 7.4 0 1 0 14.8 0a7.4 7.4 0 1 0 -14.8 0M791.0 246.9a7.4 7.4 0 1 0 14.8 0a7.4 7.4 0 1 0 -14.8 0M791.5 244.7a7.4 7.4 0 1 0 14.8 0a7.4 7.4 0 1 0 -14.8 0M792.3 242.1a7.4 7.4 0 1 0 14.8 0a7.4 7.4 0 1 0 -14.8 0M793.4 248.6a7.4 7.4 0 1 0 14.8 0a7.4 7.4 0 1 0 -14.8 0M793.2 253.1a7.4 7.4 0 1 0 14.8 0a7.4 7.4 0 1 0 -14.8 0M794.5 242.3a7.4 7.4 0 1 0 14.8 0a7.4 7.4 0 1 0 -14.8 0M796.0 254.2a7.4 7.4 0 1 0 14.8 0a7.4 7.4 0 1 0 -14.8 0M796.0 245.9a7.4 7.4 0 1 0 14.8 0a7.4 7.4 0 1 0 -14.8 0M797.0 258.0a7.4 7.4 0 1 0 14.8 0a7.4 7.4 0 1 0 -14.8 0M797.9 257.6a7.4 7.4 0 1 0 14.8 0a7.4 7.4 0 1 0 -14.8 0M798.5 250.0a7.4 7.4 0 1 0 14.8 0a7.4 7.4 0 1 0 -14.8 0M799.7 262.1a7.4 7.4 0 1 0 14.8 0a7.4 7.4 0 1 0 -14.8 0M799.9 261.4a7.4 7.4 0 1 0 14.8 0a7.4 7.4 0 1 0 -14.8 0M800.8 262.6a7.4 7.4 0 1 0 14.8 0a7.4 7.4 0 1 0 -14.8 0M801.2 254.4a7.4 7.4 0 1 0 14.8 0a7.4 7.4 0 1 0 -14.8 0M802.3 259.4a7.4 7.4 0 1 0 14.8 0a7.4 7.4 0 1 0 -14.8 0M803.4 265.2a7.4 7.4 0 1 0 14.8 0a7.4 7.4 0 1 0 -14.8 0M803.7 263.1a7.4 7.4 0 1 0 14.8 0a7.4 7.4 0 1 0 -14.8 0M804.6 268.1a7.4 7.4 0 1 0 14.8 0a7.4 7.4 0 1 0 -14.8 0M806.5 270.6a7.4 7.4 0 1 0 14.8 0a7.4 7.4 0 1 0 -14.8 0M806.9 267.5a7.4 7.4 0 1 0 14.8 0a7.4 7.4 0 1 0 -14.8 0M808.0 265.1a7.4 7.4 0 1 0 14.8 0a7.4 7.4 0 1 0 -14.8 0M808.8 263.9a7.4 7.4 0 1 0 14.8 0a7.4 7.4 0 1 0 -14.8 0M809.3 273.9a7.4 7.4 0 1 0 14.8 0a7.4 7.4 0 1 0 -14.8 0M810.6 273.5a7.4 7.4 0 1 0 14.8 0a7.4 7.4 0 1 0 -14.8 0M810.7 274.7a7.4 7.4 0 1 0 14.8 0a7.4 7.4 0 1 0 -14.8 0M811.4 280.4a7.4 7.4 0 1 0 14.8 0a7.4 7.4 0 1 0 -14.8 0M813.0 281.3a7.4 7.4 0 1 0 14.8 0a7.4 7.4 0 1 0 -14.8 0M812.6 275.0a7.4 7.4 0 1 0 14.8 0a7.4 7.4 0 1 0 -14.8 0M814.1 273.5a7.4 7.4 0 1 0 14.8 0a7.4 7.4 0 1 0 -14.8 0M815.6 277.9a7.4 7.4 0 1 0 14.8 0a7.4 7.4 0 1 0 -14.8 0M815.1 276.4a7.4 7.4 0 1 0 14.8 0a7.4 7.4 0 1 0 -14.8 0M816.2 282.0a7.4 7.4 0 1 0 14.8 0a7.4 7.4 0 1 0 -14.8 0M817.9 281.1a7.4 7.4 0 1 0 14.8 0a7.4 7.4 0 1 0 -14.8 0M818.8 292.7a7.4 7.4 0 1 0 14.8 0a7.4 7.4 0 1 0 -14.8 0M819.4 291.8a7.4 7.4 0 1 0 14.8 0a7.4 7.4 0 1 0 -14.8 0M819.5 285.1a7.4 7.4 0 1 0 14.8 0a7.4 7.4 0 1 0 -14.8 0M821.0 285.8a7.4 7.4 0 1 0 14.8 0a7.4 7.4 0 1 0 -14.8 0M821.5 296.0a7.4 7.4 0 1 0 14.8 0a7.4 7.4 0 1 0 -14.8 0M822.4 288.6a7.4 7.4 0 1 0 14.8 0a7.4 7.4 0 1 0 -14.8 0M822.3 288.3a7.4 7.4 0 1 0 14.8 0a7.4 7.4 0 1 0 -14.8 0M824.4 292.2a7.4 7.4 0 1 0 14.8 0a7.4 7.4 0 1 0 -14.8 0M824.7 295.1a7.4 7.4 0 1 0 14.8 0a7.4 7.4 0 1 0 -14.8 0M826.1 301.2a7.4 7.4 0 1 0 14.8 0a7.4 7.4 0 1 0 -14.8 0M826.2 292.5a7.4 7.4 0 1 0 14.8 0a7.4 7.4 0 1 0 -14.8 0M827.0 301.1a7.4 7.4 0 1 0 14.8 0a7.4 7.4 0 1 0 -14.8 0M827.5 304.8a7.4 7.4 0 1 0 14.8 0a7.4 7.4 0 1 0 -14.8 0M828.7 303.7a7.4 7.4 0 1 0 14.8 0a7.4 7.4 0 1 0 -14.8 0M830.1 307.2a7.4 7.4 0 1 0 14.8 0a7.4 7.4 0 1 0 -14.8 0M829.8 305.1a7.4 7.4 0 1 0 14.8 0a7.4 7.4 0 1 0 -14.8 0M831.7 298.7a7.4 7.4 0 1 0 14.8 0a7.4 7.4 0 1 0 -14.8 0M831.7 297.5a7.4 7.4 0 1 0 14.8 0a7.4 7.4 0 1 0 -14.8 0M832.8 309.3a7.4 7.4 0 1 0 14.8 0a7.4 7.4 0 1 0 -14.8 0M217.9 237.8a7.4 7.4 0 1 0 14.8 0a7.4 7.4 0 1 0 -14.8 0M721.0 231.2a7.4 7.4 0 1 0 14.8 0a7.4 7.4 0 1 0 -14.8 0M769.2 223.4a7.4 7.4 0 1 0 14.8 0a7.4 7.4 0 1 0 -14.8 0M663.8 145.3a7.4 7.4 0 1 0 14.8 0a7.4 7.4 0 1 0 -14.8 0M216.3 238.9a7.4 7.4 0 1 0 14.8 0a7.4 7.4 0 1 0 -14.8 0M230.8 267.8a7.4 7.4 0 1 0 14.8 0a7.4 7.4 0 1 0 -14.8 0M288.7 285.2a7.4 7.4 0 1 0 14.8 0a7.4 7.4 0 1 0 -14.8 0M134.3 383.6a7.4 7.4 0 1 0 14.8 0a7.4 7.4 0 1 0 -14.8 0M177.8 381.6a7.4 7.4 0 1 0 14.8 0a7.4 7.4 0 1 0 -14.8 0M153.6 437.1a7.4 7.4 0 1 0 14.8 0a7.4 7.4 0 1 0 -14.8 0M110.2 437.6a7.4 7.4 0 1 0 14.8 0a7.4 7.4 0 1 0 -14.8 0M119.9 434.7a7.4 7.4 0 1 0 14.8 0a7.4 7.4 0 1 0 -14.8 0M103.5 435.6a7.4 7.4 0 1 0 14.8 0a7.4 7.4 0 1 0 -14.8 0" fill="none" stroke="#0000ff" stroke-width="1.5"/>
<path d="M170.8 374.7a7.4 7.4 0 1 0 14.8 0a7.4 7.4 0 1 0 -14.8 0M171.7 370.9a7.4 7.4 0 1 0 14.8 0a7.4 7.4 0 1 0 -14.8 0M172.9 365.5a7.4 7.4 0 1 0 14.8 0a7.4 7.4 0 1 0 -14.8 0M173.8 361.6a7.4 7.4 0 1 0 14.8 0a7.4 7.4 0 1 0 -14.8 0M173.1 357.3a7.4 7.4 0 1 0 14.8 0a7.4 7.4 0 1 0 -14.8 0M174.2 352.8a7.4 7.4 0 1 0 14.8 0a7.4 7.4 0 1 0 -14.8 0M176.7 350.6a7.4 7.4 0 1 0 14.8 0a7.4 7.4 0 1 0 -14.8 0M178.4 344.0a7.4 7.4 0 1 0 14.8 0a7.4 7.4 0 1 0 -14.8 0M178.6 338.6a7.4 7.4 0 1 0 14.8 0a7.4 7.4 0 1 0 -14.8 0M181.3 332.2a7.4 7.4 0 1 0 14.8 0a7.4 7.4 0 1 0 -14.8 0M183.1 323.9a7.4 7.4 0 1 0 14.8 0a7.4 7.4 0 1 0 -14.8 0M183.9 319.4a7.4 7.4 0 1 0 14.8 0a7.4 7.4 0 1 0 -14.8 0M184.5 316.6a7.4 7.4 0 1 0 14.8 0a7.4 7.4 0 1 0 -14.8 0M185.2 312.4a7.4 7.4 0 1 0 14.8 0a7.4 7.4 0 1 0 -14.8 0M187.9 308.7a7.4 7.4 0 1 0 14.8 0a7.4 7.4 0 1 0 -14.8 0M188.0 304.4a7.4 7.4 0 1 0 14.8 0a7.4 7.4 0 1 0 -14.8 0M190.2 297.3a7.4 7.4 0 1 0 14.8 0a7.4 7.4 0 1 0 -14.8 0M191.2 294.1a7.4 7.4 0 1 0 14.8 0a7.4 7.4 0 1 0 -14.8 0M193.6 286.3a7.4 7.4 0 1 0 14.8 0a7.4 7.4 0 1 0 -14.8 0M194.5 282.6a7.4 7.4 0 1 0 14.8 0a7.4 7.4 0 1 0 -14.8 0M195.4 276.2a7.4 7.4 0 1 0 14.8 0a7.4 7.4 0 1 0 -14.8 0M197.0 272.6a7.4 7.4 0 1 0 14.8 0a7.4 7.4 0 1 0 -14.8 0M198.3 268.0a7.4 7.4 0 1 0 14.8 0a7.4 7.4 0 1 0 -14.8 0M199.6 263.1a7.4 7.4 0 1 0 14.8 0a7.4 7.4 0 1 0 -14.8 0M202.1 259.3a7.4 7.4 0 1 0 14.8 0a7.4 7.4 0 1 0 -14.8 0M203.7 254.3a7.4 7.4 0 1 0 14.8 0a7.4 7.4 0 1 0 -14.8 0M205.3 250.5a7.4 7.4 0 1 0 14.8 0a7.4 7.4 0 1 0 -14.8 0M207.2 247.4a7.4 7.4 0 1 0 14.8 0a7.4 7.4 0 1 0 -14.8 0M208.6 246.9a7.4 7.4 0 1 0 14.8 0a7.4 7.4 0 1 0 -14.8 0M212.0 247.3a7.4 7.4 0 1 0 14.8 0a7.4 7.4 0 1 0 -14.8 0M214.2 244.6a7.4 7.4 0 1 0 14.8 0a7.4 7.4 0 1 0 -14.8 0M236.4 250.6a7.4 7.4 0 1 0 14.8 0a7.4 7.4 0 1 0 -14.8 0M238.7 247.5a7.4 7.4 0 1 0 14.8 0a7.4 7.4 0 1 0 -14.8 0M243.1 245.1a7.4 7.4 0 1 0 14.8 0a7.4 7.4 0 1 0 -14.8 0M244.2 242.7a7.4 7.4 0 1 0 14.8 0a7.4 7.4 0 1 0 -14.8 0M244.5 243.7a7.4 7.4 0 1 0 14.8 0a7.4 7.4 0 1 0 -14.8 0M246.3 241.2a7.4 7.4 0 1 0 14.8 0a7.4 7.4 0 1 0 -14.8 0M249.1 239.6a7.4 7.4 0 1 0 14.8 0a7.4 7.4 0 1 0 -14.8 0M250.0 241.4a7.4 7.4 0 1 0 14.8 0a7.4 7.4 0 1 0 -14.8 0M253.5 242.9a7.4 7.4 0 1 0 14.8 0a7.4 7.4 0 1 0 -14.8 0M310.7 253.1a7.4 7.4 0 1 0 14.8 0a7.4 7.4 0 1 0 -14.8 0M312.7 252.1a7.4 7.4 0 1 0 14.8 0a7.4 7.4 0 1 0 -14.8 0M315.1 247.8a7.4 7.4 0 1 0 14.8 0a7.4 7.4 0 1 0 -14.8 0M318.5 245.6a7.4 7.4 0 1 0 14.8 0a7.4 7.4 0 1 0 -14.8 0M320.3 243.7a7.4 7.4 0 1 0 14.8 0a7.4 7.4 0 1 0 -14.8 0M320.8 241.9a7.4 7.4 0 1 0 14.8 0a7.4 7.4 0 1 0 -14.8 0M322.9 241.4a7.4 7.4 0 1 0 14.8 0a7.4 7.4 0 1 0 -14.8 0M325.8 239.5a7.4 7.4 0 1 0 14.8 0a7.4 7.4 0 1 0 -14.8 0M327.5 235.0a7.4 7.4 0 1 0 14.8 0a7.4 7.4 0 1 0 -14.8 0M330.0 231.1a7.4 7.4 0 1 0 14.8 0a7.4 7.4 0 1 0 -14.8 0M333.2 230.2a7.4 7.4 0 1 0 14.8 0a7.4 7.4 0 1 0 -14.8 0M334.4 226.6a7.4 7.4 0 1 0 14.8 0a7.4 7.4 0 1 0 -14.8 0M336.8 224.1a7.4 7.4 0 1 0 14.8 0a7.4 7.4 0 1 0 -14.8 0M339.2 222.8a7.4 7.4 0 1 0 14.8 0a7.4 7.4 0 1 0 -14.8 0M351.8 195.1a7.4 7.4 0 1 0 14.8 0a7.4 7.4 0 1 0 -14.8 0M353.7 192.6a7.4 7.4 0 1 0 14.8 0a7.4 7.4 0 1 0 -14.8 0M355.5 191.0a7.4 7.4 0 1 0 14.8 0a7.4 7.4 0 1 0 -14.8 0M357.8 186.5a7.4 7.4 0 1 0 14.8 0a7.4 7.4 0 1 0 -14.8 0M359.7 184.7a7.4 7.4 0 1 0 14.8 0a7.4 7.4 0 1 0 -14.8 0M360.5 181.9a7.4 7.4 0 1 0 14.8 0a7.4 7.4 0 1 0 -14.8 0M362.2 180.4a7.4 7.4 0 1 0 14.8 0a7.4 7.4 0 1 0 -14.8 0M364.1 176.6a7.4 7.4 0 1 0 14.8 0a7.4 7.4 0 1 0 -14.8 0M365.5 174.1a7.4 7.4 0 1 0 14.8 0a7.4 7.4 0 1 0 -14.8 0M368.6 168.8a7.4 7.4 0 1 0 14.8 0a7.4 7.4 0 1 0 -14.8 0M371.5 165.3a7.4 7.4 0 1 0 14.8 0a7.4 7.4 0 1 0 -14.8 0M375.9 158.6a7.4 7.4 0 1 0 14.8 0a7.4 7.4 0 1 0 -14.8 0M377.2 158.0a7.4 7.4 0 1 0 14.8 0a7.4 7.4 0 1 0 -14.8 0M380.3 156.2a7.4 7.4 0 1 0 14.8 0a7.4 7.4 0 1 0 -14.8 0M381.5 155.0a7.4 7.4 0 1 0 14.8 0a7.4 7.4 0 1 0 -14.8 0M383.9 151.8a7.4 7.4 0 1 0 14.8 0a7.4 7.4 0 1 0 -14.8 0M385.3 151.2a7.4 7.4 0 1 0 14.8 0a7.4 7.4 0 1 0 -14.8 0M388.4 149.0a7.4 7.4 0 1 0 14.8 0a7.4 7.4 0 1 0 -14.8 0M391.6 144.4a7.4 7.4 0 1 0 14.8 0a7.4 7.4 0 1 0 -14.8 0M395.6 144.0a7.4 7.4 0 1 0 14.8 0a7.4 7.4 0 1 0 -14.8 0M396.7 143.7a7.4 7.4 0 1 0 14.8 0a7.4 7.4 0 1 0 -14.8 0M399.1 142.2a7.4 7.4 0 1 0 14.8 0a7.4 7.4 0 1 0 -14.8 0M400.5 139.7a7.4 7.4 0 1 0 14.8 0a7.4 7.4 0 1 0 -14.8 0M402.6 139.1a7.4 7.4 0 1 0 14.8 0a7.4 7.4 0 1 0 -14.8 0M404.8 140.5a7.4 7.4 0 1 0 14.8 0a7.4 7.4 0 1 0 -14.8 0M406.3 137.2a7.4 7.4 0 1 0 14.8 0a7.4 7.4 0 1 0 -14.8 0M407.4 138.9a7.4 7.4 0 1 0 14.8 0a7.4 7.4 0 1 0 -14.8 0M409.2 138.1a7.4 7.4 0 1 0 14.8 0a7.4 7.4 0 1 0 -14.8 0M412.5 136.8a7.4 7.4 0 1 0 14.8 0a7.4 7.4 0 1 0 -14.8 0M414.7 136.3a7.4 7.4 0 1 0 14.8 0a7.4 7.4 0 1 0 -14.8 0M418.8 133.1a7.4 7.4 0 1 0 14.8 0a7.4 7.4 0 1 0 -14.8 0M420.7 133.2a7.4 7.4 0 1 0 14.8 0a7.4 7.4 0 1 0 -14.8 0M423.5 132.1a7.4 7.4 0 1 0 14.8 0a7.4 7.4 0 1 0 -14.8 0M425.5 133.6a7.4 7.4 0 1 0 14.8 0a7.4 7.4 0 1 0 -14.8 0M427.9 132.6a7.4 7.4 0 1 0 14.8 0a7.4 7.4 0 1 0 -14.8 0M429.1 131.7a7.4 7.4 0 1 0 14.8 0a7.4 7.4 0 1 0 -14.8 0M430.7 130.7a7.4 7.4 0 1 0 14.8 0a7.4 7.4 0 1 0 -14.8 0M432.7 132.2a7.4 7.4 0 1 0 14.8 0a7.4 7.4 0 1 0 -14.8 0M435.2 132.4a7.4 7.4 0 1 0 14.8 0a7.4 7.4 0 1 0 -14.8 0M436.2 129.8a7.4 7.4 0 1 0 14.8 0a7.4 7.4 0 1 0 -14.8 0M437.4 130.8a7.4 7.4 0 1 0 14.8 0a7.4 7.4 0 1 0 -14.8 0M439.3 130.1a7.4 7.4 0 1 0 14.8 0a7.4 7.4 0 1 0 -14.8 0M441.1 130.1a7.4 7.4 0 1 0 14.8 0a7.4 7.4 0 1 0 -14.8 0M443.3 128.5a7.4 7.4 0 1 0 14.8 0a7.4 7.4 0 1 0 -14.8 0M445.2 128.6a7.4 7.4 0 1 0 14.8 0a7.4 7.4 0 1 0 -14.8 0M448.3 129.9a7.4 7.4 0 1 0 14.8 0a7.4 7.4 0 1 0 -14.8 0M449.7 130.2a7.4 7.4 0 1 0 14.8 0a7.4 7.4 0 1 0 -14.8 0M452.7 128.0a7.4 7.4 0 1 0 14.8 0a7.4 7.4 0 1 0 -14.8 0M456.0 129.7a7.4 7.4 0 1 0 14.8 0a7.4 7.4 0 1 0 -14.8 0M458.8 126.8a7.4 7.4 0 1 0 14.8 0a7.4 7.4 0 1 0 -14.8 0M461.1 127.4a7.4 7.4 0 1 0 14.8 0a7.4 7.4 0 1 0 -14.8 0M479.3 155.9a7.4 7.4 0 1 0 14.8 0a7.4 7.4 0 1 0 -14.8 0M481.8 158.0a7.4 7.4 0 1 0 14.8 0a7.4 7.4 0 1 0 -14.8 0M483.7 161.3a7.4 7.4 0 1 0 14.8 0a7.4 7.4 0 1 0 -14.8 0M485.5 165.4a7.4 7.4 0 1 0 14.8 0a7.4 7.4 0 1 0 -14.8 0M486.8 167.5a7.4 7.4 0 1 0 14.8 0a7.4 7.4 0 1 0 -14.8 0M487.6 171.1a7.4 7.4 0 1 0 14.8 0a7.4 7.4 0 1 0 -14.8 0M488.8 172.4a7.4 7.4 0 1 0 14.8 0a7.4 7.4 0 1 0 -14.8 0M492.5 176.9a7.4 7.4 0 1 0 14.8 0a7.4 7.4 0 1 0 -14.8 0M494.7 180.1a7.4 7.4 0 1 0 14.8 0a7.4 7.4 0 1 0 -14.8 0M598.1 205.2a7.4 7.4 0 1 0 14.8 0a7.4 7.4 0 1 0 -14.8 0M599.7 207.0a7.4 7.4 0 1 0 14.8 0a7.4 7.4 0 1 0 -14.8 0M603.3 208.9a7.4 7.4 0 1 0 14.8 0a7.4 7.4 0 1 0 -14.8 0M135.0 26.8a7.4 7.4 0 1 0 14.8 0a7.4 7.4 0 1 0 -14.8 0M133.7 28.7a7.4 7.4 0 1 0 14.8 0a7.4 7.4 0 1 0 -14.8 0M135.6 34.4a7.4 7.4 0 1 0 14.8 0a7.4 7.4 0 1 0 -14.8 0M134.8 37.1a7.4 7.4 0 1 0 14.8 0a7.4 7.4 0 1 0 -14.8 0M135.9 41.0a7.4 7.4 0 1 0 14.8 0a7.4 7.4 0 1 0 -14.8 0M134.4 44.5a7.4 7.4 0 1 0 14.8 0a7.4 7.4 0 1 0 -14.8 0M134.6 47.1a7.4 7.4 0 1 0 14.8 0a7.4 7.4 0 1 0 -14.8 0M133.6 48.5a7.4 7.4 0 1 0 14.8 0a7.4 7.4 0 1 0 -14.8 0M131.2 28.9a7.4 7.4 0 1 0 14.8 0a7.4 7.4 0 1 0 -14.8 0M132.0 29.7a7.4 7.4 0 1 0 14.8 0a7.4 7.4 0 1 0 -14.8 0M133.9 28.2a7.4 7.4 0 1 0 14.8 0a7.4 7.4 0 1 0 -14.8 0M134.3 29.7a7.4 7.4 0 1 0 14.8 0a7.4 7.4 0 1 0 -14.8 0M136.5 29.1a7.4 7.4 0 1 0 14.8 0a7.4 7.4 0 1 0 -14.8 0M136.8 28.3a7.4 7.4 0 1 0 14.8 0a7.4 7.4 0 1 0 -14.8 0M116.3 61.6a7.4 7.4 0 1 0 14.8 0a7.4 7.4 0 1 0 -14.8 0M119.8 61.8a7.4 7.4 0 1 0 14.8 0a7.4 7.4 0 1 0 -14.8 0M121.1 60.6a7.4 7.4 0 1 0 14.8 0a7.4 7.4 0 1 0 -14.8 0M122.3 59.2a7.4 7.4 0 1 0 14.8 0a7.4 7.4 0 1 0 -14.8 0M123.8 61.6a7.4 7.4 0 1 0 14.8 0a7.4 7.4 0 1 0 -14.8 0M127.1 60.6a7.4 7.4 0 1 0 14.8 0a7.4 7.4 0 1 0 -14.8 0M129.3 63.7a7.4 7.4 0 1 0 14.8 0a7.4 7.4 0 1 0 -14.8 0M102.7 121.7a7.4 7.4 0 1 0 14.8 0a7.4 7.4 0 1 0 -14.8 0M103.9 127.9a7.4 7.4 0 1 0 14.8 0a7.4 7.4 0 1 0 -14.8 0M106.0 132.2a7.4 7.4 0 1 0 14.8 0a7.4 7.4 0 1 0 -14.8 0M107.9 132.5a7.4 7.4 0 1 0 14.8 0a7.4 7.4 0 1 0 -14.8 0M108.7 134.3a7.4 7.4 0 1 0 14.8 0a7.4 7.4 0 1 0 -14.8 0M109.7 136.5a7.4 7.4 0 1 0 14.8 0a7.4 7.4 0 1 0 -14.8 0M101.9 131.8a7.4 7.4 0 1 0 14.8 0a7.4 7.4 0 1 0 -14.8 0M103.3 129.3a7.4 7.4 0 1 0 14.8 0a7.4 7.4 0 1 0 -14.8 0M105.4 130.5a7.4 7.4 0 1 0 14.8 0a7.4 7.4 0 1 0 -14.8 0M108.0 129.3a7.4 7.4 0 1 0 14.8 0a7.4 7.4 0 1 0 -14.8 0M109.5 129.6a7.4 7.4 0 1 0 14.8 0a7.4 7.4 0 1 0 -14.8 0M110.8 127.8a7.4 7.4 0 1 0 14.8 0a7.4 7.4 0 1 0 -14.8 0M140.1 77.7a7.4 7.4 0 1 0 14.8 0a7.4 7.4 0 1 0 -14.8 0M141.8 81.3a7.4 7.4 0 1 0 14.8 0a7.4 7.4 0 1 0 -14.8 0M141.5 84.9a7.4 7.4 0 1 0 14.8 0a7.4 7.4 0 1 0 -14.8 0M143.3 87.7a7.4 7.4 0 1 0 14.8 0a7.4 7.4 0 1 0 -14.8 0M142.3 93.0a7.4 7.4 0 1 0 14.8 0a7.4 7.4 0 1 0 -14.8 0M144.3 97.5a7.4 7.4 0 1 0 14.8 0a7.4 7.4 0 1 0 -14.8 0M144.6 101.4a7.4 7.4 0 1 0 14.8 0a7.4 7.4 0 1 0 -14.8 0M144.9 106.0a7.4 7.4 0 1 0 14.8 0a7.4 7.4 0 1 0 -14.8 0M145.5 110.3a7.4 7.4 0 1 0 14.8 0a7.4 7.4 0 1 0 -14.8 0M146.5 113.6a7.4 7.4 0 1 0 14.8 0a7.4 7.4 0 1 0 -14.8 0M145.9 118.4a7.4 7.4 0 1 0 14.8 0a7.4 7.4 0 1 0 -14.8 0M145.7 123.7a7.4 7.4 0 1 0 14.8 0a7.4 7.4 0 1 0 -14.8 0M149.9 131.9a7.4 7.4 0 1 0 14.8 0a7.4 7.4 0 1 0 -14.8 0M162.2 77.3a7.4 7.4 0 1 0 14.8 0a7.4 7.4 0 1 0 -14.8 0M161.6 83.7a7.4 7.4 0 1 0 14.8 0a7.4 7.4 0 1 0 -14.8 0M162.1 88.1a7.4 7.4 0 1 0 14.8 0a7.4 7.4 0 1 0 -14.8 0M161.1 93.3a7.4 7.4 0 1 0 14.8 0a7.4 7.4 0 1 0 -14.8 0M161.5 98.2a7.4 7.4 0 1 0 14.8 0a7.4 7.4 0 1 0 -14.8 0M160.1 100.3a7.4 7.4 0 1 0 14.8 0a7.4 7.4 0 1 0 -14.8 0M159.8 105.1a7.4 7.4 0 1 0 14.8 0a7.4 7.4 0 1 0 -14.8 0M160.9 110.9a7.4 7.4 0 1 0 14.8 0a7.4 7.4 0 1 0 -14.8 0M159.5 115.0a7.4 7.4 0 1 0 14.8 0a7.4 7.4 0 1 0 -14.8 0M159.7 117.6a7.4 7.4 0 1 0 14.8 0a7.4 7.4 0 1 0 -14.8 0M159.5 123.8a7.4 7.4 0 1 0 14.8 0a7.4 7.4 0 1 0 -14.8 0M155.7 133.6a7.4 7.4 0 1 0 14.8 0a7.4 7.4 0 1 0 -14.8 0M146.5 132.1a7.4 7.4 0 1 0 14.8 0a7.4 7.4 0 1 0 -14.8 0M147.7 133.8a7.4 7.4 0 1 0 14.8 0a7.4 7.4 0 1 0 -14.8 0M149.3 133.8a7.4 7.4 0 1 0 14.8 0a7.4 7.4 0 1 0 -14.8 0M150.8 134.1a7.4 7.4 0 1 0 14.8 0a7.4 7.4 0 1 0 -14.8 0M151.0 133.9a7.4 7.4 0 1 0 14.8 0a7.4 7.4 0 1 0 -14.8 0M153.1 133.8a7.4 7.4 0 1 0 14.8 0a7.4 7.4 0 1 0 -14.8 0M154.1 132.2a7.4 7.4 0 1 0 14.8 0a7.4 7.4 0 1 0 -14.8 0M154.7 133.8a7.4 7.4 0 1 0 14.8 0a7.4 7.4 0 1 0 -14.8 0M160.6 60.5a7.4 7.4 0 1 0 14.8 0a7.4 7.4 0 1 0 -14.8 0M163.1 58.7a7.4 7.4 0 1 0 14.8 0a7.4 7.4 0 1 0 -14.8 0M166.0 55.5a7.4 7.4 0 1 0 14.8 0a7.4 7.4 0 1 0 -14.8 0M166.3 55.3a7.4 7.4 0 1 0 14.8 0a7.4 7.4 0 1 0 -14.8 0M168.6 53.6a7.4 7.4 0 1 0 14.8 0a7.4 7.4 0 1 0 -14.8 0M169.8 51.8a7.4 7.4 0 1 0 14.8 0a7.4 7.4 0 1 0 -14.8 0M171.3 50.3a7.4 7.4 0 1 0 14.8 0a7.4 7.4 0 1 0 -14.8 0M173.0 53.9a7.4 7.4 0 1 0 14.8 0a7.4 7.4 0 1 0 -14.8 0M175.2 55.4a7.4 7.4 0 1 0 14.8 0a7.4 7.4 0 1 0 -14.8 0M178.7 114.2a7.4 7.4 0 1 0 14.8 0a7.4 7.4 0 1 0 -14.8 0M179.9 119.6a7.4 7.4 0 1 0 14.8 0a7.4 7.4 0 1 0 -14.8 0M181.0 120.2a7.4 7.4 0 1 0 14.8 0a7.4 7.4 0 1 0 -14.8 0M181.8 121.4a7.4 7.4 0 1 0 14.8 0a7.4 7.4 0 1 0 -14.8 0M180.2 122.1a7.4 7.4 0 1 0 14.8 0a7.4 7.4 0 1 0 -14.8 0M181.0 122.8a7.4 7.4 0 1 0 14.8 0a7.4 7.4 0 1 0 -14.8 0M181.0 126.4a7.4 7.4 0 1 0 14.8 0a7.4 7.4 0 1 0 -14.8 0M180.9 127.2a7.4 7.4 0 1 0 14.8 0a7.4 7.4 0 1 0 -14.8 0M181.9 127.2a7.4 7.4 0 1 0 14.8 0a7.4 7.4 0 1 0 -14.8 0M140.5 81.2a7.4 7.4 0 1 0 14.8 0a7.4 7.4 0 1 0 -14.8 0M139.4 85.2a7.4 7.4 0 1 0 14.8 0a7.4 7.4 0 1 0 -14.8 0M140.3 88.4a7.4 7.4 0 1 0 14.8 0a7.4 7.4 0 1 0 -14.8 0M140.7 92.6a7.4 7.4 0 1 0 14.8 0a7.4 7.4 0 1 0 -14.8 0M674.7 70.6a7.4 7.4 0 1 0 14.8 0a7.4 7.4 0 1 0 -14.8 0M675.6 73.9a7.4 7.4 0 1 0 14.8 0a7.4 7.4 0 1 0 -14.8 0M669.9 88.4a7.4 7.4 0 1 0 14.8 0a7.4 7.4 0 1 0 -14.8 0M722.9 141.4a7.4 7.4 0 1 0 14.8 0a7.4 7.4 0 1 0 -14.8 0M719.1 145.3a7.4 7.4 0 1 0 14.8 0a7.4 7.4 0 1 0 -14.8 0M716.9 180.0a7.4 7.4 0 1 0 14.8 0a7.4 7.4 0 1 0 -14.8 0M715.7 182.9a7.4 7.4 0 1 0 14.8 0a7.4 7.4 0 1 0 -14.8 0M691.6 287.6a7.4 7.4 0 1 0 14.8 0a7.4 7.4 0 1 0 -14.8 0M694.0 318.9a7.4 7.4 0 1 0 14.8 0a7.4 7.4 0 1 0 -14.8 0M695.2 323.8a7.4 7.4 0 1 0 14.8 0a7.4 7.4 0 1 0 -14.8 0M785.6 304.5a7.4 7.4 0 1 0 14.8 0a7.4 7.4 0 1 0 -14.8 0M794.1 309.3a7.4 7.4 0 1 0 14.8 0a7.4 7.4 0 1 0 -14.8 0M789.3 316.5a7.4 7.4 0 1 0 14.8 0a7.4 7.4 0 1 0 -14.8 0M787.3 310.2a7.4 7.4 0 1 0 14.8 0a7.4 7.4 0 1 0 -14.8 0M796.5 372.0a7.4 7.4 0 1 0 14.8 0a7.4 7.4 0 1 0 -14.8 0M807.4 200.8a7.4 7.4 0 1 0 14.8 0a7.4 7.4 0 1 0 -14.8 0M812.7 198.4a7.4 7.4 0 1 0 14.8 0a7.4 7.4 0 1 0 -14.8 0M812.7 205.6a7.4 7.4 0 1 0 14.8 0a7.4 7.4 0 1 0 -14.8 0M832.9 198.4a7.4 7.4 0 1 0 14.8 0a7.4 7.4 0 1 0 -14.8 0M692.8 478.1a7.4 7.4 0 1 0 14.8 0a7.4 7.4 0 1 0 -14.8 0M692.8 486.5a7.4 7.4 0 1 0 14.8 0a7.4 7.4 0 1 0 -14.8 0M690.4 516.7a7.4 7.4 0 1 0 14.8 0a7.4 7.4 0 1 0 -14.8 0M691.6 521.5a7.4 7.4 0 1 0 14.8 0a7.4 7.4 0 1 0 -14.8 0M689.2 531.1a7.4 7.4 0 1 0 14.8 0a7.4 7.4 0 1 0 -14.8 0M687.9 545.6a7.4 7.4 0 1 0 14.8 0a7.4 7.4 0 1 0 -14.8 0M669.9 562.5a7.4 7.4 0 1 0 14.8 0a7.4 7.4 0 1 0 -14.8 0M702.4 564.9a7.4 7.4 0 1 0 14.8 0a7.4 7.4 0 1 0 -14.8 0M795.3 391.3a7.4 7.4 0 1 0 14.8 0a7.4 7.4 0 1 0 -14.8 0M796.5 398.5a7.4 7.4 0 1 0 14.8 0a7.4 7.4 0 1 0 -14.8 0M795.8 372.0a7.4 7.4 0 1 0 14.8 0a7.4 7.4 0 1 0 -14.8 0M797.0 384.0a7.4 7.4 0 1 0 14.8 0a7.4 7.4 0 1 0 -14.8 0M798.2 393.7a7.4 7.4 0 1 0 14.8 0a7.4 7.4 0 1 0 -14.8 0M824.7 410.6a7.4 7.4 0 1 0 14.8 0a7.4 7.4 0 1 0 -14.8 0M825.9 420.2a7.4 7.4 0 1 0 14.8 0a7.4 7.4 0 1 0 -14.8 0M827.1 428.7a7.4 7.4 0 1 0 14.8 0a7.4 7.4 0 1 0 -14.8 0M797.0 605.9a7.4 7.4 0 1 0 14.8 0a7.4 7.4 0 1 0 -14.8 0M688.4 543.0a7.4 7.4 0 1 0 14.8 0a7.4 7.4 0 1 0 -14.8 0M681.8 580.7a7.4 7.4 0 1 0 14.8 0a7.4 7.4 0 1 0 -14.8 0M680.9 592.0a7.4 7.4 0 1 0 14.8 0a7.4 7.4 0 1 0 -14.8 0M679.0 607.1a7.4 7.4 0 1 0 14.8 0a7.4 7.4 0 1 0 -14.8 0M695.9 588.2a7.4 7.4 0 1 0 14.8 0a7.4 7.4 0 1 0 -14.8 0M703.4 577.0a7.4 7.4 0 1 0 14.8 0a7.4 7.4 0 1 0 -14.8 0M795.8 607.1a7.4 7.4 0 1 0 14.8 0a7.4 7.4 0 1 0 -14.8 0M671.4 561.9a7.4 7.4 0 1 0 14.8 0a7.4 7.4 0 1 0 -14.8 0M113.8 507.0a7.4 7.4 0 1 0 14.8 0a7.4 7.4 0 1 0 -14.8 0M115.0 519.1a7.4 7.4 0 1 0 14.8 0a7.4 7.4 0 1 0 -14.8 0M694.0 550.4a7.4 7.4 0 1 0 14.8 0a7.4 7.4 0 1 0 -14.8 0M697.8 555.3a7.4 7.4 0 1 0 14.8 0a7.4 7.4 0 1 0 -14.8 0M684.3 569.7a7.4 7.4 0 1 0 14.8 0a7.4 7.4 0 1 0 -14.8 0M690.1 574.5a7.4 7.4 0 1 0 14.8 0a7.4 7.4 0 1 0 -14.8 0M686.3 598.7a7.4 7.4 0 1 0 14.8 0a7.4 7.4 0 1 0 -14.8 0M701.7 593.8a7.4 7.4 0 1 0 14.8 0a7.4 7.4 0 1 0 -14.8 0M674.7 574.5a7.4 7.4 0 1 0 14.8 0a7.4 7.4 0 1 0 -14.8 0M708.6 293.0a7.4 7.4 0 1 0 14.8 0a7.4 7.4 0 1 0 -14.8 0M698.6 318.0a7.4 7.4 0 1 0 14.8 0a7.4 7.4 0 1 0 -14.8 0M692.6 478.0a7.4 7.4 0 1 0 14.8 0a7.4 7.4 0 1 0 -14.8 0M692.6 490.0a7.4 7.4 0 1 0 14.8 0a7.4 7.4 0 1 0 -14.8 0M786.6 72.0a7.4 7.4 0 1 0 14.8 0a7.4 7.4 0 1 0 -14.8 0M786.6 86.0a7.4 7.4 0 1 0 14.8 0a7.4 7.4 0 1 0 -14.8 0M788.6 95.0a7.4 7.4 0 1 0 14.8 0a7.4 7.4 0 1 0 -14.8 0M108.8 502.4a7.4 7.4 0 1 0 14.8 0a7.4 7.4 0 1 0 -14.8 0M111.3 506.6a7.4 7.4 0 1 0 14.8 0a7.4 7.4 0 1 0 -14.8 0M112.5 511.2a7.4 7.4 0 1 0 14.8 0a7.4 7.4 0 1 0 -14.8 0M114.9 513.7a7.4 7.4 0 1 0 14.8 0a7.4 7.4 0 1 0 -14.8 0M116.5 519.2a7.4 7.4 0 1 0 14.8 0a7.4 7.4 0 1 0 -14.8 0M119.1 522.3a7.4 7.4 0 1 0 14.8 0a7.4 7.4 0 1 0 -14.8 0M121.0 525.9a7.4 7.4 0 1 0 14.8 0a7.4 7.4 0 1 0 -14.8 0M672.9 565.9a7.4 7.4 0 1 0 14.8 0a7.4 7.4 0 1 0 -14.8 0M672.1 569.2a7.4 7.4 0 1 0 14.8 0a7.4 7.4 0 1 0 -14.8 0M672.8 572.5a7.4 7.4 0 1 0 14.8 0a7.4 7.4 0 1 0 -14.8 0M673.6 578.3a7.4 7.4 0 1 0 14.8 0a7.4 7.4 0 1 0 -14.8 0M673.0 581.8a7.4 7.4 0 1 0 14.8 0a7.4 7.4 0 1 0 -14.8 0M673.8 585.4a7.4 7.4 0 1 0 14.8 0a7.4 7.4 0 1 0 -14.8 0M673.3 590.7a7.4 7.4 0 1 0 14.8 0a7.4 7.4 0 1 0 -14.8 0M672.7 594.2a7.4 7.4 0 1 0 14.8 0a7.4 7.4 0 1 0 -14.8 0M673.6 599.4a7.4 7.4 0 1 0 14.8 0a7.4 7.4 0 1 0 -14.8 0M673.5 602.6a7.4 7.4 0 1 0 14.8 0a7.4 7.4 0 1 0 -14.8 0M674.4 607.8a7.4 7.4 0 1 0 14.8 0a7.4 7.4 0 1 0 -14.8 0M680.0 564.5a7.4 7.4 0 1 0 14.8 0a7.4 7.4 0 1 0 -14.8 0M680.4 570.1a7.4 7.4 0 1 0 14.8 0a7.4 7.4 0 1 0 -14.8 0M679.7 572.7a7.4 7.4 0 1 0 14.8 0a7.4 7.4 0 1 0 -14.8 0M679.8 578.0a7.4 7.4 0 1 0 14.8 0a7.4 7.4 0 1 0 -14.8 0M680.4 581.4a7.4 7.4 0 1 0 14.8 0a7.4 7.4 0 1 0 -14.8 0M680.4 586.7a7.4 7.4 0 1 0 14.8 0a7.4 7.4 0 1 0 -14.8 0M680.5 591.1a7.4 7.4 0 1 0 14.8 0a7.4 7.4 0 1 0 -14.8 0M680.5 593.8a7.4 7.4 0 1 0 14.8 0a7.4 7.4 0 1 0 -14.8 0M680.6 598.2a7.4 7.4 0 1 0 14.8 0a7.4 7.4 0 1 0 -14.8 0M680.3 603.1a7.4 7.4 0 1 0 14.8 0a7.4 7.4 0 1 0 -14.8 0M681.4 607.3a7.4 7.4 0 1 0 14.8 0a7.4 7.4 0 1 0 -14.8 0" fill="none" stroke="#008000" stroke-width="1.5"/>
<path d="M103.0 27.1a7.4 7.4 0 1 0 14.8 0a7.4 7.4 0 1 0 -14.8 0M105.4 29.6a7.4 7.4 0 1 0 14.8 0a7.4 7.4 0 1 0 -14.8 0M116.0 71.0a7.4 7.4 0 1 0 14.8 0a7.4 7.4 0 1 0 -14.8 0M116.0 76.8a7.4 7.4 0 1 0 14.8 0a7.4 7.4 0 1 0 -14.8 0M115.5 82.6a7.4 7.4 0 1 0 14.8 0a7.4 7.4 0 1 0 -14.8 0M115.0 88.4a7.4 7.4 0 1 0 14.8 0a7.4 7.4 0 1 0 -14.8 0M114.6 94.2a7.4 7.4 0 1 0 14.8 0a7.4 7.4 0 1 0 -14.8 0M114.1 100.0a7.4 7.4 0 1 0 14.8 0a7.4 7.4 0 1 0 -14.8 0M113.6 105.8a7.4 7.4 0 1 0 14.8 0a7.4 7.4 0 1 0 -14.8 0M113.1 111.5a7.4 7.4 0 1 0 14.8 0a7.4 7.4 0 1 0 -14.8 0M113.1 117.3a7.4 7.4 0 1 0 14.8 0a7.4 7.4 0 1 0 -14.8 0M112.6 123.1a7.4 7.4 0 1 0 14.8 0a7.4 7.4 0 1 0 -14.8 0M144.8 40.5a7.4 7.4 0 1 0 14.8 0a7.4 7.4 0 1 0 -14.8 0M144.8 46.1a7.4 7.4 0 1 0 14.8 0a7.4 7.4 0 1 0 -14.8 0M144.8 51.7a7.4 7.4 0 1 0 14.8 0a7.4 7.4 0 1 0 -14.8 0M143.8 56.5a7.4 7.4 0 1 0 14.8 0a7.4 7.4 0 1 0 -14.8 0M174.9 40.5a7.4 7.4 0 1 0 14.8 0a7.4 7.4 0 1 0 -14.8 0M174.9 46.0a7.4 7.4 0 1 0 14.8 0a7.4 7.4 0 1 0 -14.8 0M172.9 49.8a7.4 7.4 0 1 0 14.8 0a7.4 7.4 0 1 0 -14.8 0M161.7 63.0a7.4 7.4 0 1 0 14.8 0a7.4 7.4 0 1 0 -14.8 0M160.8 66.8a7.4 7.4 0 1 0 14.8 0a7.4 7.4 0 1 0 -14.8 0M136.3 82.6a7.4 7.4 0 1 0 14.8 0a7.4 7.4 0 1 0 -14.8 0M139.2 84.5a7.4 7.4 0 1 0 14.8 0a7.4 7.4 0 1 0 -14.8 0M142.0 81.8a7.4 7.4 0 1 0 14.8 0a7.4 7.4 0 1 0 -14.8 0M134.3 85.5a7.4 7.4 0 1 0 14.8 0a7.4 7.4 0 1 0 -14.8 0M137.2 87.4a7.4 7.4 0 1 0 14.8 0a7.4 7.4 0 1 0 -14.8 0M140.1 82.6a7.4 7.4 0 1 0 14.8 0a7.4 7.4 0 1 0 -14.8 0M132.4 81.6a7.4 7.4 0 1 0 14.8 0a7.4 7.4 0 1 0 -14.8 0M185.3 70.6a7.4 7.4 0 1 0 14.8 0a7.4 7.4 0 1 0 -14.8 0M184.3 75.3a7.4 7.4 0 1 0 14.8 0a7.4 7.4 0 1 0 -14.8 0M186.2 80.0a7.4 7.4 0 1 0 14.8 0a7.4 7.4 0 1 0 -14.8 0M174.9 88.4a7.4 7.4 0 1 0 14.8 0a7.4 7.4 0 1 0 -14.8 0M175.8 94.2a7.4 7.4 0 1 0 14.8 0a7.4 7.4 0 1 0 -14.8 0M175.8 100.0a7.4 7.4 0 1 0 14.8 0a7.4 7.4 0 1 0 -14.8 0M176.8 105.8a7.4 7.4 0 1 0 14.8 0a7.4 7.4 0 1 0 -14.8 0M177.8 111.5a7.4 7.4 0 1 0 14.8 0a7.4 7.4 0 1 0 -14.8 0M178.7 117.3a7.4 7.4 0 1 0 14.8 0a7.4 7.4 0 1 0 -14.8 0M178.7 123.1a7.4 7.4 0 1 0 14.8 0a7.4 7.4 0 1 0 -14.8 0M161.7 81.8a7.4 7.4 0 1 0 14.8 0a7.4 7.4 0 1 0 -14.8 0M171.1 160.1a7.4 7.4 0 1 0 14.8 0a7.4 7.4 0 1 0 -14.8 0M142.8 164.6a7.4 7.4 0 1 0 14.8 0a7.4 7.4 0 1 0 -14.8 0M142.8 169.4a7.4 7.4 0 1 0 14.8 0a7.4 7.4 0 1 0 -14.8 0M140.6 178.6a7.4 7.4 0 1 0 14.8 0a7.4 7.4 0 1 0 -14.8 0M131.0 180.6a7.4 7.4 0 1 0 14.8 0a7.4 7.4 0 1 0 -14.8 0M124.7 205.6a7.4 7.4 0 1 0 14.8 0a7.4 7.4 0 1 0 -14.8 0M131.9 191.1a7.4 7.4 0 1 0 14.8 0a7.4 7.4 0 1 0 -14.8 0M140.1 188.7a7.4 7.4 0 1 0 14.8 0a7.4 7.4 0 1 0 -14.8 0M127.6 200.3a7.4 7.4 0 1 0 14.8 0a7.4 7.4 0 1 0 -14.8 0M143.2 317.7a7.4 7.4 0 1 0 14.8 0a7.4 7.4 0 1 0 -14.8 0M142.4 325.3a7.4 7.4 0 1 0 14.8 0a7.4 7.4 0 1 0 -14.8 0M141.8 332.8a7.4 7.4 0 1 0 14.8 0a7.4 7.4 0 1 0 -14.8 0M141.8 338.0a7.4 7.4 0 1 0 14.8 0a7.4 7.4 0 1 0 -14.8 0M127.4 332.8a7.4 7.4 0 1 0 14.8 0a7.4 7.4 0 1 0 -14.8 0M130.4 335.8a7.4 7.4 0 1 0 14.8 0a7.4 7.4 0 1 0 -14.8 0M106.3 347.9a7.4 7.4 0 1 0 14.8 0a7.4 7.4 0 1 0 -14.8 0M106.3 352.4a7.4 7.4 0 1 0 14.8 0a7.4 7.4 0 1 0 -14.8 0M147.0 362.1a7.4 7.4 0 1 0 14.8 0a7.4 7.4 0 1 0 -14.8 0M147.0 366.7a7.4 7.4 0 1 0 14.8 0a7.4 7.4 0 1 0 -14.8 0M156.8 378.0a7.4 7.4 0 1 0 14.8 0a7.4 7.4 0 1 0 -14.8 0M156.8 381.8a7.4 7.4 0 1 0 14.8 0a7.4 7.4 0 1 0 -14.8 0M180.2 353.9a7.4 7.4 0 1 0 14.8 0a7.4 7.4 0 1 0 -14.8 0M181.6 359.9a7.4 7.4 0 1 0 14.8 0a7.4 7.4 0 1 0 -14.8 0M174.9 419.4a7.4 7.4 0 1 0 14.8 0a7.4 7.4 0 1 0 -14.8 0M174.9 424.7a7.4 7.4 0 1 0 14.8 0a7.4 7.4 0 1 0 -14.8 0M137.2 438.3a7.4 7.4 0 1 0 14.8 0a7.4 7.4 0 1 0 -14.8 0M136.5 444.3a7.4 7.4 0 1 0 14.8 0a7.4 7.4 0 1 0 -14.8 0M165.1 445.9a7.4 7.4 0 1 0 14.8 0a7.4 7.4 0 1 0 -14.8 0M188.5 442.8a7.4 7.4 0 1 0 14.8 0a7.4 7.4 0 1 0 -14.8 0M117.4 462.4a7.4 7.4 0 1 0 14.8 0a7.4 7.4 0 1 0 -14.8 0M165.7 446.7a7.4 7.4 0 1 0 14.8 0a7.4 7.4 0 1 0 -14.8 0M166.9 454.0a7.4 7.4 0 1 0 14.8 0a7.4 7.4 0 1 0 -14.8 0M166.9 461.2a7.4 7.4 0 1 0 14.8 0a7.4 7.4 0 1 0 -14.8 0M166.9 464.6a7.4 7.4 0 1 0 14.8 0a7.4 7.4 0 1 0 -14.8 0M166.9 468.4a7.4 7.4 0 1 0 14.8 0a7.4 7.4 0 1 0 -14.8 0M167.1 472.3a7.4 7.4 0 1 0 14.8 0a7.4 7.4 0 1 0 -14.8 0M166.9 475.7a7.4 7.4 0 1 0 14.8 0a7.4 7.4 0 1 0 -14.8 0M166.9 480.5a7.4 7.4 0 1 0 14.8 0a7.4 7.4 0 1 0 -14.8 0M168.1 495.0a7.4 7.4 0 1 0 14.8 0a7.4 7.4 0 1 0 -14.8 0M168.1 501.0a7.4 7.4 0 1 0 14.8 0a7.4 7.4 0 1 0 -14.8 0M139.2 487.7a7.4 7.4 0 1 0 14.8 0a7.4 7.4 0 1 0 -14.8 0M139.2 490.1a7.4 7.4 0 1 0 14.8 0a7.4 7.4 0 1 0 -14.8 0M105.4 490.1a7.4 7.4 0 1 0 14.8 0a7.4 7.4 0 1 0 -14.8 0M105.4 497.4a7.4 7.4 0 1 0 14.8 0a7.4 7.4 0 1 0 -14.8 0M110.2 502.2a7.4 7.4 0 1 0 14.8 0a7.4 7.4 0 1 0 -14.8 0M115.0 511.8a7.4 7.4 0 1 0 14.8 0a7.4 7.4 0 1 0 -14.8 0M119.9 519.1a7.4 7.4 0 1 0 14.8 0a7.4 7.4 0 1 0 -14.8 0M122.3 526.3a7.4 7.4 0 1 0 14.8 0a7.4 7.4 0 1 0 -14.8 0M105.4 534.8a7.4 7.4 0 1 0 14.8 0a7.4 7.4 0 1 0 -14.8 0M517.9 36.8a7.4 7.4 0 1 0 14.8 0a7.4 7.4 0 1 0 -14.8 0M520.3 41.6a7.4 7.4 0 1 0 14.8 0a7.4 7.4 0 1 0 -14.8 0M514.3 46.4a7.4 7.4 0 1 0 14.8 0a7.4 7.4 0 1 0 -14.8 0M515.5 53.7a7.4 7.4 0 1 0 14.8 0a7.4 7.4 0 1 0 -14.8 0M516.4 49.8a7.4 7.4 0 1 0 14.8 0a7.4 7.4 0 1 0 -14.8 0M458.5 80.2a7.4 7.4 0 1 0 14.8 0a7.4 7.4 0 1 0 -14.8 0M458.5 85.0a7.4 7.4 0 1 0 14.8 0a7.4 7.4 0 1 0 -14.8 0M458.5 88.4a7.4 7.4 0 1 0 14.8 0a7.4 7.4 0 1 0 -14.8 0M491.3 122.2a7.4 7.4 0 1 0 14.8 0a7.4 7.4 0 1 0 -14.8 0M492.3 128.4a7.4 7.4 0 1 0 14.8 0a7.4 7.4 0 1 0 -14.8 0M509.4 123.6a7.4 7.4 0 1 0 14.8 0a7.4 7.4 0 1 0 -14.8 0M509.7 127.0a7.4 7.4 0 1 0 14.8 0a7.4 7.4 0 1 0 -14.8 0M538.4 138.1a7.4 7.4 0 1 0 14.8 0a7.4 7.4 0 1 0 -14.8 0M537.2 141.4a7.4 7.4 0 1 0 14.8 0a7.4 7.4 0 1 0 -14.8 0M546.8 159.8a7.4 7.4 0 1 0 14.8 0a7.4 7.4 0 1 0 -14.8 0M568.5 36.8a7.4 7.4 0 1 0 14.8 0a7.4 7.4 0 1 0 -14.8 0M573.4 135.7a7.4 7.4 0 1 0 14.8 0a7.4 7.4 0 1 0 -14.8 0M571.0 36.8a7.4 7.4 0 1 0 14.8 0a7.4 7.4 0 1 0 -14.8 0M578.2 130.8a7.4 7.4 0 1 0 14.8 0a7.4 7.4 0 1 0 -14.8 0M578.2 136.6a7.4 7.4 0 1 0 14.8 0a7.4 7.4 0 1 0 -14.8 0M718.1 27.1a7.4 7.4 0 1 0 14.8 0a7.4 7.4 0 1 0 -14.8 0M720.5 27.1a7.4 7.4 0 1 0 14.8 0a7.4 7.4 0 1 0 -14.8 0M722.9 27.1a7.4 7.4 0 1 0 14.8 0a7.4 7.4 0 1 0 -14.8 0M674.7 39.2a7.4 7.4 0 1 0 14.8 0a7.4 7.4 0 1 0 -14.8 0M674.7 46.4a7.4 7.4 0 1 0 14.8 0a7.4 7.4 0 1 0 -14.8 0M667.4 54.6a7.4 7.4 0 1 0 14.8 0a7.4 7.4 0 1 0 -14.8 0M694.0 54.6a7.4 7.4 0 1 0 14.8 0a7.4 7.4 0 1 0 -14.8 0M679.5 60.9a7.4 7.4 0 1 0 14.8 0a7.4 7.4 0 1 0 -14.8 0M681.9 64.3a7.4 7.4 0 1 0 14.8 0a7.4 7.4 0 1 0 -14.8 0M679.5 68.1a7.4 7.4 0 1 0 14.8 0a7.4 7.4 0 1 0 -14.8 0M703.6 98.0a7.4 7.4 0 1 0 14.8 0a7.4 7.4 0 1 0 -14.8 0M681.9 112.5a7.4 7.4 0 1 0 14.8 0a7.4 7.4 0 1 0 -14.8 0M702.4 112.5a7.4 7.4 0 1 0 14.8 0a7.4 7.4 0 1 0 -14.8 0M700.0 118.8a7.4 7.4 0 1 0 14.8 0a7.4 7.4 0 1 0 -14.8 0M698.8 122.2a7.4 7.4 0 1 0 14.8 0a7.4 7.4 0 1 0 -14.8 0M723.9 141.4a7.4 7.4 0 1 0 14.8 0a7.4 7.4 0 1 0 -14.8 0M725.3 145.3a7.4 7.4 0 1 0 14.8 0a7.4 7.4 0 1 0 -14.8 0M727.8 150.1a7.4 7.4 0 1 0 14.8 0a7.4 7.4 0 1 0 -14.8 0M702.4 180.0a7.4 7.4 0 1 0 14.8 0a7.4 7.4 0 1 0 -14.8 0M713.3 183.9a7.4 7.4 0 1 0 14.8 0a7.4 7.4 0 1 0 -14.8 0M807.4 191.1a7.4 7.4 0 1 0 14.8 0a7.4 7.4 0 1 0 -14.8 0M819.4 20.9a7.4 7.4 0 1 0 14.8 0a7.4 7.4 0 1 0 -14.8 0M496.2 293.6a7.4 7.4 0 1 0 14.8 0a7.4 7.4 0 1 0 -14.8 0M502.2 299.6a7.4 7.4 0 1 0 14.8 0a7.4 7.4 0 1 0 -14.8 0M514.3 327.4a7.4 7.4 0 1 0 14.8 0a7.4 7.4 0 1 0 -14.8 0M514.3 332.2a7.4 7.4 0 1 0 14.8 0a7.4 7.4 0 1 0 -14.8 0M568.5 335.8a7.4 7.4 0 1 0 14.8 0a7.4 7.4 0 1 0 -14.8 0M567.3 343.0a7.4 7.4 0 1 0 14.8 0a7.4 7.4 0 1 0 -14.8 0M566.1 350.3a7.4 7.4 0 1 0 14.8 0a7.4 7.4 0 1 0 -14.8 0M566.1 357.5a7.4 7.4 0 1 0 14.8 0a7.4 7.4 0 1 0 -14.8 0M567.3 362.3a7.4 7.4 0 1 0 14.8 0a7.4 7.4 0 1 0 -14.8 0M674.7 280.3a7.4 7.4 0 1 0 14.8 0a7.4 7.4 0 1 0 -14.8 0M674.7 285.2a7.4 7.4 0 1 0 14.8 0a7.4 7.4 0 1 0 -14.8 0M674.7 290.0a7.4 7.4 0 1 0 14.8 0a7.4 7.4 0 1 0 -14.8 0M707.2 304.5a7.4 7.4 0 1 0 14.8 0a7.4 7.4 0 1 0 -14.8 0M695.2 316.5a7.4 7.4 0 1 0 14.8 0a7.4 7.4 0 1 0 -14.8 0M669.9 328.6a7.4 7.4 0 1 0 14.8 0a7.4 7.4 0 1 0 -14.8 0M669.9 335.8a7.4 7.4 0 1 0 14.8 0a7.4 7.4 0 1 0 -14.8 0M669.9 343.0a7.4 7.4 0 1 0 14.8 0a7.4 7.4 0 1 0 -14.8 0M668.6 350.3a7.4 7.4 0 1 0 14.8 0a7.4 7.4 0 1 0 -14.8 0M668.6 357.5a7.4 7.4 0 1 0 14.8 0a7.4 7.4 0 1 0 -14.8 0M677.1 347.9a7.4 7.4 0 1 0 14.8 0a7.4 7.4 0 1 0 -14.8 0M678.3 362.3a7.4 7.4 0 1 0 14.8 0a7.4 7.4 0 1 0 -14.8 0M720.5 335.8a7.4 7.4 0 1 0 14.8 0a7.4 7.4 0 1 0 -14.8 0M720.5 343.0a7.4 7.4 0 1 0 14.8 0a7.4 7.4 0 1 0 -14.8 0M712.1 352.7a7.4 7.4 0 1 0 14.8 0a7.4 7.4 0 1 0 -14.8 0M710.9 359.9a7.4 7.4 0 1 0 14.8 0a7.4 7.4 0 1 0 -14.8 0M709.7 367.2a7.4 7.4 0 1 0 14.8 0a7.4 7.4 0 1 0 -14.8 0M571.0 335.8a7.4 7.4 0 1 0 14.8 0a7.4 7.4 0 1 0 -14.8 0M571.0 345.5a7.4 7.4 0 1 0 14.8 0a7.4 7.4 0 1 0 -14.8 0M571.0 357.5a7.4 7.4 0 1 0 14.8 0a7.4 7.4 0 1 0 -14.8 0M812.2 244.2a7.4 7.4 0 1 0 14.8 0a7.4 7.4 0 1 0 -14.8 0M783.2 318.9a7.4 7.4 0 1 0 14.8 0a7.4 7.4 0 1 0 -14.8 0M796.5 379.2a7.4 7.4 0 1 0 14.8 0a7.4 7.4 0 1 0 -14.8 0M809.8 191.6a7.4 7.4 0 1 0 14.8 0a7.4 7.4 0 1 0 -14.8 0M814.6 193.5a7.4 7.4 0 1 0 14.8 0a7.4 7.4 0 1 0 -14.8 0M819.4 191.6a7.4 7.4 0 1 0 14.8 0a7.4 7.4 0 1 0 -14.8 0M824.2 193.5a7.4 7.4 0 1 0 14.8 0a7.4 7.4 0 1 0 -14.8 0M829.1 191.6a7.4 7.4 0 1 0 14.8 0a7.4 7.4 0 1 0 -14.8 0M833.9 194.5a7.4 7.4 0 1 0 14.8 0a7.4 7.4 0 1 0 -14.8 0M817.5 196.4a7.4 7.4 0 1 0 14.8 0a7.4 7.4 0 1 0 -14.8 0M821.3 194.5a7.4 7.4 0 1 0 14.8 0a7.4 7.4 0 1 0 -14.8 0M827.1 195.5a7.4 7.4 0 1 0 14.8 0a7.4 7.4 0 1 0 -14.8 0M819.9 241.8a7.4 7.4 0 1 0 14.8 0a7.4 7.4 0 1 0 -14.8 0M819.9 246.6a7.4 7.4 0 1 0 14.8 0a7.4 7.4 0 1 0 -14.8 0M782.5 318.9a7.4 7.4 0 1 0 14.8 0a7.4 7.4 0 1 0 -14.8 0M797.0 374.4a7.4 7.4 0 1 0 14.8 0a7.4 7.4 0 1 0 -14.8 0M519.1 529.9a7.4 7.4 0 1 0 14.8 0a7.4 7.4 0 1 0 -14.8 0M519.1 536.0a7.4 7.4 0 1 0 14.8 0a7.4 7.4 0 1 0 -14.8 0M517.9 548.0a7.4 7.4 0 1 0 14.8 0a7.4 7.4 0 1 0 -14.8 0M516.7 555.3a7.4 7.4 0 1 0 14.8 0a7.4 7.4 0 1 0 -14.8 0M515.5 557.7a7.4 7.4 0 1 0 14.8 0a7.4 7.4 0 1 0 -14.8 0M518.4 541.7a7.4 7.4 0 1 0 14.8 0a7.4 7.4 0 1 0 -14.8 0M685.5 394.9a7.4 7.4 0 1 0 14.8 0a7.4 7.4 0 1 0 -14.8 0M691.6 400.9a7.4 7.4 0 1 0 14.8 0a7.4 7.4 0 1 0 -14.8 0M692.8 404.5a7.4 7.4 0 1 0 14.8 0a7.4 7.4 0 1 0 -14.8 0M784.4 486.5a7.4 7.4 0 1 0 14.8 0a7.4 7.4 0 1 0 -14.8 0M785.6 495.0a7.4 7.4 0 1 0 14.8 0a7.4 7.4 0 1 0 -14.8 0M786.9 502.2a7.4 7.4 0 1 0 14.8 0a7.4 7.4 0 1 0 -14.8 0M788.1 509.4a7.4 7.4 0 1 0 14.8 0a7.4 7.4 0 1 0 -14.8 0M684.3 510.6a7.4 7.4 0 1 0 14.8 0a7.4 7.4 0 1 0 -14.8 0M686.7 519.1a7.4 7.4 0 1 0 14.8 0a7.4 7.4 0 1 0 -14.8 0M689.2 523.9a7.4 7.4 0 1 0 14.8 0a7.4 7.4 0 1 0 -14.8 0M674.7 544.4a7.4 7.4 0 1 0 14.8 0a7.4 7.4 0 1 0 -14.8 0M673.5 552.8a7.4 7.4 0 1 0 14.8 0a7.4 7.4 0 1 0 -14.8 0M672.3 562.5a7.4 7.4 0 1 0 14.8 0a7.4 7.4 0 1 0 -14.8 0M702.4 540.8a7.4 7.4 0 1 0 14.8 0a7.4 7.4 0 1 0 -14.8 0M702.4 548.0a7.4 7.4 0 1 0 14.8 0a7.4 7.4 0 1 0 -14.8 0M689.2 560.1a7.4 7.4 0 1 0 14.8 0a7.4 7.4 0 1 0 -14.8 0M696.4 567.3a7.4 7.4 0 1 0 14.8 0a7.4 7.4 0 1 0 -14.8 0M795.3 381.6a7.4 7.4 0 1 0 14.8 0a7.4 7.4 0 1 0 -14.8 0M807.4 396.1a7.4 7.4 0 1 0 14.8 0a7.4 7.4 0 1 0 -14.8 0M807.4 408.2a7.4 7.4 0 1 0 14.8 0a7.4 7.4 0 1 0 -14.8 0M814.6 417.8a7.4 7.4 0 1 0 14.8 0a7.4 7.4 0 1 0 -14.8 0M675.2 544.9a7.4 7.4 0 1 0 14.8 0a7.4 7.4 0 1 0 -14.8 0M673.3 554.3a7.4 7.4 0 1 0 14.8 0a7.4 7.4 0 1 0 -14.8 0M672.4 573.2a7.4 7.4 0 1 0 14.8 0a7.4 7.4 0 1 0 -14.8 0M691.1 560.1a7.4 7.4 0 1 0 14.8 0a7.4 7.4 0 1 0 -14.8 0M702.6 539.2a7.4 7.4 0 1 0 14.8 0a7.4 7.4 0 1 0 -14.8 0M702.6 548.7a7.4 7.4 0 1 0 14.8 0a7.4 7.4 0 1 0 -14.8 0M699.8 565.7a7.4 7.4 0 1 0 14.8 0a7.4 7.4 0 1 0 -14.8 0M695.9 578.9a7.4 7.4 0 1 0 14.8 0a7.4 7.4 0 1 0 -14.8 0M699.8 597.7a7.4 7.4 0 1 0 14.8 0a7.4 7.4 0 1 0 -14.8 0M694.0 605.2a7.4 7.4 0 1 0 14.8 0a7.4 7.4 0 1 0 -14.8 0M703.4 607.1a7.4 7.4 0 1 0 14.8 0a7.4 7.4 0 1 0 -14.8 0M688.4 522.4a7.4 7.4 0 1 0 14.8 0a7.4 7.4 0 1 0 -14.8 0M686.5 526.1a7.4 7.4 0 1 0 14.8 0a7.4 7.4 0 1 0 -14.8 0M788.3 597.7a7.4 7.4 0 1 0 14.8 0a7.4 7.4 0 1 0 -14.8 0M800.5 601.5a7.4 7.4 0 1 0 14.8 0a7.4 7.4 0 1 0 -14.8 0M803.4 605.2a7.4 7.4 0 1 0 14.8 0a7.4 7.4 0 1 0 -14.8 0M795.8 376.8a7.4 7.4 0 1 0 14.8 0a7.4 7.4 0 1 0 -14.8 0M795.8 384.0a7.4 7.4 0 1 0 14.8 0a7.4 7.4 0 1 0 -14.8 0M805.4 391.3a7.4 7.4 0 1 0 14.8 0a7.4 7.4 0 1 0 -14.8 0M807.8 398.5a7.4 7.4 0 1 0 14.8 0a7.4 7.4 0 1 0 -14.8 0M810.2 408.2a7.4 7.4 0 1 0 14.8 0a7.4 7.4 0 1 0 -14.8 0M822.3 415.4a7.4 7.4 0 1 0 14.8 0a7.4 7.4 0 1 0 -14.8 0M823.5 420.2a7.4 7.4 0 1 0 14.8 0a7.4 7.4 0 1 0 -14.8 0M784.9 487.7a7.4 7.4 0 1 0 14.8 0a7.4 7.4 0 1 0 -14.8 0M784.9 495.0a7.4 7.4 0 1 0 14.8 0a7.4 7.4 0 1 0 -14.8 0M786.1 502.2a7.4 7.4 0 1 0 14.8 0a7.4 7.4 0 1 0 -14.8 0M787.3 509.4a7.4 7.4 0 1 0 14.8 0a7.4 7.4 0 1 0 -14.8 0M787.3 597.5a7.4 7.4 0 1 0 14.8 0a7.4 7.4 0 1 0 -14.8 0M800.6 601.1a7.4 7.4 0 1 0 14.8 0a7.4 7.4 0 1 0 -14.8 0M803.0 604.7a7.4 7.4 0 1 0 14.8 0a7.4 7.4 0 1 0 -14.8 0M459.2 571.2a7.4 7.4 0 1 0 14.8 0a7.4 7.4 0 1 0 -14.8 0M459.8 568.9a7.4 7.4 0 1 0 14.8 0a7.4 7.4 0 1 0 -14.8 0M461.5 577.4a7.4 7.4 0 1 0 14.8 0a7.4 7.4 0 1 0 -14.8 0M460.6 581.5a7.4 7.4 0 1 0 14.8 0a7.4 7.4 0 1 0 -14.8 0M462.5 579.4a7.4 7.4 0 1 0 14.8 0a7.4 7.4 0 1 0 -14.8 0M462.5 569.5a7.4 7.4 0 1 0 14.8 0a7.4 7.4 0 1 0 -14.8 0M465.1 590.8a7.4 7.4 0 1 0 14.8 0a7.4 7.4 0 1 0 -14.8 0M464.6 573.3a7.4 7.4 0 1 0 14.8 0a7.4 7.4 0 1 0 -14.8 0M467.5 594.3a7.4 7.4 0 1 0 14.8 0a7.4 7.4 0 1 0 -14.8 0M467.4 578.3a7.4 7.4 0 1 0 14.8 0a7.4 7.4 0 1 0 -14.8 0M470.1 568.2a7.4 7.4 0 1 0 14.8 0a7.4 7.4 0 1 0 -14.8 0M469.8 575.2a7.4 7.4 0 1 0 14.8 0a7.4 7.4 0 1 0 -14.8 0M470.4 570.2a7.4 7.4 0 1 0 14.8 0a7.4 7.4 0 1 0 -14.8 0M470.7 590.4a7.4 7.4 0 1 0 14.8 0a7.4 7.4 0 1 0 -14.8 0M472.4 583.7a7.4 7.4 0 1 0 14.8 0a7.4 7.4 0 1 0 -14.8 0M473.3 577.6a7.4 7.4 0 1 0 14.8 0a7.4 7.4 0 1 0 -14.8 0M475.0 568.6a7.4 7.4 0 1 0 14.8 0a7.4 7.4 0 1 0 -14.8 0M474.1 572.8a7.4 7.4 0 1 0 14.8 0a7.4 7.4 0 1 0 -14.8 0M477.2 579.2a7.4 7.4 0 1 0 14.8 0a7.4 7.4 0 1 0 -14.8 0M476.5 583.8a7.4 7.4 0 1 0 14.8 0a7.4 7.4 0 1 0 -14.8 0M478.7 575.5a7.4 7.4 0 1 0 14.8 0a7.4 7.4 0 1 0 -14.8 0M479.4 587.1a7.4 7.4 0 1 0 14.8 0a7.4 7.4 0 1 0 -14.8 0M480.2 583.4a7.4 7.4 0 1 0 14.8 0a7.4 7.4 0 1 0 -14.8 0M480.8 592.2a7.4 7.4 0 1 0 14.8 0a7.4 7.4 0 1 0 -14.8 0M483.1 575.2a7.4 7.4 0 1 0 14.8 0a7.4 7.4 0 1 0 -14.8 0M483.6 570.2a7.4 7.4 0 1 0 14.8 0a7.4 7.4 0 1 0 -14.8 0M484.4 600.5a7.4 7.4 0 1 0 14.8 0a7.4 7.4 0 1 0 -14.8 0M483.9 594.1a7.4 7.4 0 1 0 14.8 0a7.4 7.4 0 1 0 -14.8 0M485.6 598.4a7.4 7.4 0 1 0 14.8 0a7.4 7.4 0 1 0 -14.8 0M487.0 596.1a7.4 7.4 0 1 0 14.8 0a7.4 7.4 0 1 0 -14.8 0M489.2 589.8a7.4 7.4 0 1 0 14.8 0a7.4 7.4 0 1 0 -14.8 0M488.8 596.6a7.4 7.4 0 1 0 14.8 0a7.4 7.4 0 1 0 -14.8 0M490.5 593.3a7.4 7.4 0 1 0 14.8 0a7.4 7.4 0 1 0 -14.8 0M491.0 605.0a7.4 7.4 0 1 0 14.8 0a7.4 7.4 0 1 0 -14.8 0M492.3 598.3a7.4 7.4 0 1 0 14.8 0a7.4 7.4 0 1 0 -14.8 0M491.5 599.2a7.4 7.4 0 1 0 14.8 0a7.4 7.4 0 1 0 -14.8 0M494.5 606.2a7.4 7.4 0 1 0 14.8 0a7.4 7.4 0 1 0 -14.8 0M494.9 589.1a7.4 7.4 0 1 0 14.8 0a7.4 7.4 0 1 0 -14.8 0M496.0 598.4a7.4 7.4 0 1 0 14.8 0a7.4 7.4 0 1 0 -14.8 0M495.3 593.4a7.4 7.4 0 1 0 14.8 0a7.4 7.4 0 1 0 -14.8 0M497.5 585.1a7.4 7.4 0 1 0 14.8 0a7.4 7.4 0 1 0 -14.8 0M497.3 600.8a7.4 7.4 0 1 0 14.8 0a7.4 7.4 0 1 0 -14.8 0M499.3 588.2a7.4 7.4 0 1 0 14.8 0a7.4 7.4 0 1 0 -14.8 0M499.8 603.3a7.4 7.4 0 1 0 14.8 0a7.4 7.4 0 1 0 -14.8 0M501.2 593.1a7.4 7.4 0 1 0 14.8 0a7.4 7.4 0 1 0 -14.8 0M502.1 603.6a7.4 7.4 0 1 0 14.8 0a7.4 7.4 0 1 0 -14.8 0M504.5 603.1a7.4 7.4 0 1 0 14.8 0a7.4 7.4 0 1 0 -14.8 0M503.5 592.3a7.4 7.4 0 1 0 14.8 0a7.4 7.4 0 1 0 -14.8 0M505.5 603.6a7.4 7.4 0 1 0 14.8 0a7.4 7.4 0 1 0 -14.8 0M506.7 585.9a7.4 7.4 0 1 0 14.8 0a7.4 7.4 0 1 0 -14.8 0M507.1 587.9a7.4 7.4 0 1 0 14.8 0a7.4 7.4 0 1 0 -14.8 0M507.2 594.0a7.4 7.4 0 1 0 14.8 0a7.4 7.4 0 1 0 -14.8 0M509.9 588.6a7.4 7.4 0 1 0 14.8 0a7.4 7.4 0 1 0 -14.8 0M508.7 592.4a7.4 7.4 0 1 0 14.8 0a7.4 7.4 0 1 0 -14.8 0M511.4 595.9a7.4 7.4 0 1 0 14.8 0a7.4 7.4 0 1 0 -14.8 0M512.5 598.9a7.4 7.4 0 1 0 14.8 0a7.4 7.4 0 1 0 -14.8 0M513.6 597.2a7.4 7.4 0 1 0 14.8 0a7.4 7.4 0 1 0 -14.8 0M513.9 583.6a7.4 7.4 0 1 0 14.8 0a7.4 7.4 0 1 0 -14.8 0M516.2 601.1a7.4 7.4 0 1 0 14.8 0a7.4 7.4 0 1 0 -14.8 0M516.2 601.5a7.4 7.4 0 1 0 14.8 0a7.4 7.4 0 1 0 -14.8 0M517.2 584.2a7.4 7.4 0 1 0 14.8 0a7.4 7.4 0 1 0 -14.8 0M516.6 587.6a7.4 7.4 0 1 0 14.8 0a7.4 7.4 0 1 0 -14.8 0M518.5 579.4a7.4 7.4 0 1 0 14.8 0a7.4 7.4 0 1 0 -14.8 0M518.8 580.8a7.4 7.4 0 1 0 14.8 0a7.4 7.4 0 1 0 -14.8 0M521.0 579.2a7.4 7.4 0 1 0 14.8 0a7.4 7.4 0 1 0 -14.8 0M520.3 580.6a7.4 7.4 0 1 0 14.8 0a7.4 7.4 0 1 0 -14.8 0M522.4 583.7a7.4 7.4 0 1 0 14.8 0a7.4 7.4 0 1 0 -14.8 0M522.3 591.1a7.4 7.4 0 1 0 14.8 0a7.4 7.4 0 1 0 -14.8 0M525.3 580.6a7.4 7.4 0 1 0 14.8 0a7.4 7.4 0 1 0 -14.8 0M524.6 583.4a7.4 7.4 0 1 0 14.8 0a7.4 7.4 0 1 0 -14.8 0M526.8 580.2a7.4 7.4 0 1 0 14.8 0a7.4 7.4 0 1 0 -14.8 0M527.7 592.8a7.4 7.4 0 1 0 14.8 0a7.4 7.4 0 1 0 -14.8 0M528.9 585.4a7.4 7.4 0 1 0 14.8 0a7.4 7.4 0 1 0 -14.8 0M528.2 579.9a7.4 7.4 0 1 0 14.8 0a7.4 7.4 0 1 0 -14.8 0M530.6 582.2a7.4 7.4 0 1 0 14.8 0a7.4 7.4 0 1 0 -14.8 0M531.5 580.7a7.4 7.4 0 1 0 14.8 0a7.4 7.4 0 1 0 -14.8 0M531.9 592.2a7.4 7.4 0 1 0 14.8 0a7.4 7.4 0 1 0 -14.8 0M532.9 580.5a7.4 7.4 0 1 0 14.8 0a7.4 7.4 0 1 0 -14.8 0M534.9 578.8a7.4 7.4 0 1 0 14.8 0a7.4 7.4 0 1 0 -14.8 0M534.8 592.6a7.4 7.4 0 1 0 14.8 0a7.4 7.4 0 1 0 -14.8 0M537.4 588.5a7.4 7.4 0 1 0 14.8 0a7.4 7.4 0 1 0 -14.8 0M536.2 583.7a7.4 7.4 0 1 0 14.8 0a7.4 7.4 0 1 0 -14.8 0M538.0 589.6a7.4 7.4 0 1 0 14.8 0a7.4 7.4 0 1 0 -14.8 0M538.7 589.7a7.4 7.4 0 1 0 14.8 0a7.4 7.4 0 1 0 -14.8 0M540.2 581.6a7.4 7.4 0 1 0 14.8 0a7.4 7.4 0 1 0 -14.8 0M541.2 592.7a7.4 7.4 0 1 0 14.8 0a7.4 7.4 0 1 0 -14.8 0M543.2 590.1a7.4 7.4 0 1 0 14.8 0a7.4 7.4 0 1 0 -14.8 0M543.1 589.1a7.4 7.4 0 1 0 14.8 0a7.4 7.4 0 1 0 -14.8 0M543.9 585.9a7.4 7.4 0 1 0 14.8 0a7.4 7.4 0 1 0 -14.8 0M544.1 578.8a7.4 7.4 0 1 0 14.8 0a7.4 7.4 0 1 0 -14.8 0M545.4 582.4a7.4 7.4 0 1 0 14.8 0a7.4 7.4 0 1 0 -14.8 0M545.9 588.4a7.4 7.4 0 1 0 14.8 0a7.4 7.4 0 1 0 -14.8 0M115.7 71.5a7.4 7.4 0 1 0 14.8 0a7.4 7.4 0 1 0 -14.8 0M115.8 75.1a7.4 7.4 0 1 0 14.8 0a7.4 7.4 0 1 0 -14.8 0M116.0 80.7a7.4 7.4 0 1 0 14.8 0a7.4 7.4 0 1 0 -14.8 0M114.8 84.8a7.4 7.4 0 1 0 14.8 0a7.4 7.4 0 1 0 -14.8 0M114.5 87.8a7.4 7.4 0 1 0 14.8 0a7.4 7.4 0 1 0 -14.8 0M115.1 93.5a7.4 7.4 0 1 0 14.8 0a7.4 7.4 0 1 0 -14.8 0M113.9 96.6a7.4 7.4 0 1 0 14.8 0a7.4 7.4 0 1 0 -14.8 0M114.1 102.9a7.4 7.4 0 1 0 14.8 0a7.4 7.4 0 1 0 -14.8 0M113.7 110.3a7.4 7.4 0 1 0 14.8 0a7.4 7.4 0 1 0 -14.8 0M112.5 116.4a7.4 7.4 0 1 0 14.8 0a7.4 7.4 0 1 0 -14.8 0M112.9 122.2a7.4 7.4 0 1 0 14.8 0a7.4 7.4 0 1 0 -14.8 0M175.4 87.9a7.4 7.4 0 1 0 14.8 0a7.4 7.4 0 1 0 -14.8 0M175.4 91.9a7.4 7.4 0 1 0 14.8 0a7.4 7.4 0 1 0 -14.8 0M176.6 97.4a7.4 7.4 0 1 0 14.8 0a7.4 7.4 0 1 0 -14.8 0M176.5 100.5a7.4 7.4 0 1 0 14.8 0a7.4 7.4 0 1 0 -14.8 0M177.1 105.6a7.4 7.4 0 1 0 14.8 0a7.4 7.4 0 1 0 -14.8 0M177.1 110.2a7.4 7.4 0 1 0 14.8 0a7.4 7.4 0 1 0 -14.8 0M177.7 113.8a7.4 7.4 0 1 0 14.8 0a7.4 7.4 0 1 0 -14.8 0M178.5 119.0a7.4 7.4 0 1 0 14.8 0a7.4 7.4 0 1 0 -14.8 0M178.4 123.4a7.4 7.4 0 1 0 14.8 0a7.4 7.4 0 1 0 -14.8 0M144.7 39.7a7.4 7.4 0 1 0 14.8 0a7.4 7.4 0 1 0 -14.8 0M144.5 43.6a7.4 7.4 0 1 0 14.8 0a7.4 7.4 0 1 0 -14.8 0M144.7 47.6a7.4 7.4 0 1 0 14.8 0a7.4 7.4 0 1 0 -14.8 0M144.4 51.7a7.4 7.4 0 1 0 14.8 0a7.4 7.4 0 1 0 -14.8 0M143.4 55.8a7.4 7.4 0 1 0 14.8 0a7.4 7.4 0 1 0 -14.8 0M672.6 285.0a7.4 7.4 0 1 0 14.8 0a7.4 7.4 0 1 0 -14.8 0M675.6 280.0a7.4 7.4 0 1 0 14.8 0a7.4 7.4 0 1 0 -14.8 0M678.6 290.0a7.4 7.4 0 1 0 14.8 0a7.4 7.4 0 1 0 -14.8 0M682.6 283.0a7.4 7.4 0 1 0 14.8 0a7.4 7.4 0 1 0 -14.8 0M674.6 293.0a7.4 7.4 0 1 0 14.8 0a7.4 7.4 0 1 0 -14.8 0M707.6 300.0a7.4 7.4 0 1 0 14.8 0a7.4 7.4 0 1 0 -14.8 0M710.6 296.0a7.4 7.4 0 1 0 14.8 0a7.4 7.4 0 1 0 -14.8 0M704.6 305.0a7.4 7.4 0 1 0 14.8 0a7.4 7.4 0 1 0 -14.8 0M712.6 302.0a7.4 7.4 0 1 0 14.8 0a7.4 7.4 0 1 0 -14.8 0M669.6 343.0a7.4 7.4 0 1 0 14.8 0a7.4 7.4 0 1 0 -14.8 0M673.6 352.0a7.4 7.4 0 1 0 14.8 0a7.4 7.4 0 1 0 -14.8 0M675.6 357.0a7.4 7.4 0 1 0 14.8 0a7.4 7.4 0 1 0 -14.8 0M98.1 502.8a7.4 7.4 0 1 0 14.8 0a7.4 7.4 0 1 0 -14.8 0M139.2 488.8a7.4 7.4 0 1 0 14.8 0a7.4 7.4 0 1 0 -14.8 0M139.6 492.0a7.4 7.4 0 1 0 14.8 0a7.4 7.4 0 1 0 -14.8 0M148.6 547.0a7.4 7.4 0 1 0 14.8 0a7.4 7.4 0 1 0 -14.8 0M152.6 556.0a7.4 7.4 0 1 0 14.8 0a7.4 7.4 0 1 0 -14.8 0M158.6 552.0a7.4 7.4 0 1 0 14.8 0a7.4 7.4 0 1 0 -14.8 0M144.6 545.0a7.4 7.4 0 1 0 14.8 0a7.4 7.4 0 1 0 -14.8 0M167.3 474.0a7.4 7.4 0 1 0 14.8 0a7.4 7.4 0 1 0 -14.8 0M167.3 480.0a7.4 7.4 0 1 0 14.8 0a7.4 7.4 0 1 0 -14.8 0M168.5 498.0a7.4 7.4 0 1 0 14.8 0a7.4 7.4 0 1 0 -14.8 0M168.5 503.0a7.4 7.4 0 1 0 14.8 0a7.4 7.4 0 1 0 -14.8 0M106.1 535.4a7.4 7.4 0 1 0 14.8 0a7.4 7.4 0 1 0 -14.8 0M106.7 540.4a7.4 7.4 0 1 0 14.8 0a7.4 7.4 0 1 0 -14.8 0M107.1 545.1a7.4 7.4 0 1 0 14.8 0a7.4 7.4 0 1 0 -14.8 0M107.8 548.1a7.4 7.4 0 1 0 14.8 0a7.4 7.4 0 1 0 -14.8 0M108.6 552.7a7.4 7.4 0 1 0 14.8 0a7.4 7.4 0 1 0 -14.8 0M109.8 557.3a7.4 7.4 0 1 0 14.8 0a7.4 7.4 0 1 0 -14.8 0M108.8 562.3a7.4 7.4 0 1 0 14.8 0a7.4 7.4 0 1 0 -14.8 0M143.3 539.7a7.4 7.4 0 1 0 14.8 0a7.4 7.4 0 1 0 -14.8 0M144.9 541.5a7.4 7.4 0 1 0 14.8 0a7.4 7.4 0 1 0 -14.8 0M145.9 545.5a7.4 7.4 0 1 0 14.8 0a7.4 7.4 0 1 0 -14.8 0M149.0 548.0a7.4 7.4 0 1 0 14.8 0a7.4 7.4 0 1 0 -14.8 0M150.2 551.5a7.4 7.4 0 1 0 14.8 0a7.4 7.4 0 1 0 -14.8 0M154.9 548.6a7.4 7.4 0 1 0 14.8 0a7.4 7.4 0 1 0 -14.8 0M157.5 545.2a7.4 7.4 0 1 0 14.8 0a7.4 7.4 0 1 0 -14.8 0M158.1 543.2a7.4 7.4 0 1 0 14.8 0a7.4 7.4 0 1 0 -14.8 0M159.3 542.8a7.4 7.4 0 1 0 14.8 0a7.4 7.4 0 1 0 -14.8 0M160.3 540.7a7.4 7.4 0 1 0 14.8 0a7.4 7.4 0 1 0 -14.8 0M161.0 538.8a7.4 7.4 0 1 0 14.8 0a7.4 7.4 0 1 0 -14.8 0M161.9 537.1a7.4 7.4 0 1 0 14.8 0a7.4 7.4 0 1 0 -14.8 0M163.9 533.8a7.4 7.4 0 1 0 14.8 0a7.4 7.4 0 1 0 -14.8 0M105.4 489.9a7.4 7.4 0 1 0 14.8 0a7.4 7.4 0 1 0 -14.8 0M108.0 494.5a7.4 7.4 0 1 0 14.8 0a7.4 7.4 0 1 0 -14.8 0M109.4 498.1a7.4 7.4 0 1 0 14.8 0a7.4 7.4 0 1 0 -14.8 0M111.8 501.1a7.4 7.4 0 1 0 14.8 0a7.4 7.4 0 1 0 -14.8 0M115.3 504.5a7.4 7.4 0 1 0 14.8 0a7.4 7.4 0 1 0 -14.8 0M116.2 509.6a7.4 7.4 0 1 0 14.8 0a7.4 7.4 0 1 0 -14.8 0M118.6 513.2a7.4 7.4 0 1 0 14.8 0a7.4 7.4 0 1 0 -14.8 0M120.3 516.0a7.4 7.4 0 1 0 14.8 0a7.4 7.4 0 1 0 -14.8 0M121.9 519.9a7.4 7.4 0 1 0 14.8 0a7.4 7.4 0 1 0 -14.8 0M124.1 524.0a7.4 7.4 0 1 0 14.8 0a7.4 7.4 0 1 0 -14.8 0M125.0 528.8a7.4 7.4 0 1 0 14.8 0a7.4 7.4 0 1 0 -14.8 0M673.1 545.4a7.4 7.4 0 1 0 14.8 0a7.4 7.4 0 1 0 -14.8 0M672.1 549.4a7.4 7.4 0 1 0 14.8 0a7.4 7.4 0 1 0 -14.8 0M672.4 553.3a7.4 7.4 0 1 0 14.8 0a7.4 7.4 0 1 0 -14.8 0M672.9 559.6a7.4 7.4 0 1 0 14.8 0a7.4 7.4 0 1 0 -14.8 0M673.4 562.8a7.4 7.4 0 1 0 14.8 0a7.4 7.4 0 1 0 -14.8 0M673.3 567.4a7.4 7.4 0 1 0 14.8 0a7.4 7.4 0 1 0 -14.8 0M672.5 571.8a7.4 7.4 0 1 0 14.8 0a7.4 7.4 0 1 0 -14.8 0M672.2 577.0a7.4 7.4 0 1 0 14.8 0a7.4 7.4 0 1 0 -14.8 0M672.9 582.4a7.4 7.4 0 1 0 14.8 0a7.4 7.4 0 1 0 -14.8 0M696.0 565.2a7.4 7.4 0 1 0 14.8 0a7.4 7.4 0 1 0 -14.8 0M695.9 570.2a7.4 7.4 0 1 0 14.8 0a7.4 7.4 0 1 0 -14.8 0M696.3 573.1a7.4 7.4 0 1 0 14.8 0a7.4 7.4 0 1 0 -14.8 0M696.2 578.0a7.4 7.4 0 1 0 14.8 0a7.4 7.4 0 1 0 -14.8 0M695.8 582.1a7.4 7.4 0 1 0 14.8 0a7.4 7.4 0 1 0 -14.8 0M696.2 585.7a7.4 7.4 0 1 0 14.8 0a7.4 7.4 0 1 0 -14.8 0M697.1 590.0a7.4 7.4 0 1 0 14.8 0a7.4 7.4 0 1 0 -14.8 0M697.5 594.5a7.4 7.4 0 1 0 14.8 0a7.4 7.4 0 1 0 -14.8 0M698.0 597.7a7.4 7.4 0 1 0 14.8 0a7.4 7.4 0 1 0 -14.8 0M697.6 602.1a7.4 7.4 0 1 0 14.8 0a7.4 7.4 0 1 0 -14.8 0M698.2 607.7a7.4 7.4 0 1 0 14.8 0a7.4 7.4 0 1 0 -14.8 0M703.2 564.1a7.4 7.4 0 1 0 14.8 0a7.4 7.4 0 1 0 -14.8 0M702.6 568.7a7.4 7.4 0 1 0 14.8 0a7.4 7.4 0 1 0 -14.8 0M703.4 572.5a7.4 7.4 0 1 0 14.8 0a7.4 7.4 0 1 0 -14.8 0M702.2 577.9a7.4 7.4 0 1 0 14.8 0a7.4 7.4 0 1 0 -14.8 0M702.4 581.3a7.4 7.4 0 1 0 14.8 0a7.4 7.4 0 1 0 -14.8 0M702.5 586.6a7.4 7.4 0 1 0 14.8 0a7.4 7.4 0 1 0 -14.8 0M702.5 590.9a7.4 7.4 0 1 0 14.8 0a7.4 7.4 0 1 0 -14.8 0M702.5 593.6a7.4 7.4 0 1 0 14.8 0a7.4 7.4 0 1 0 -14.8 0M702.6 598.9a7.4 7.4 0 1 0 14.8 0a7.4 7.4 0 1 0 -14.8 0M702.0 602.6a7.4 7.4 0 1 0 14.8 0a7.4 7.4 0 1 0 -14.8 0M702.7 606.0a7.4 7.4 0 1 0 14.8 0a7.4 7.4 0 1 0 -14.8 0M679.9 505.2a7.4 7.4 0 1 0 14.8 0a7.4 7.4 0 1 0 -14.8 0M680.8 509.6a7.4 7.4 0 1 0 14.8 0a7.4 7.4 0 1 0 -14.8 0M680.6 514.4a7.4 7.4 0 1 0 14.8 0a7.4 7.4 0 1 0 -14.8 0M680.9 520.9a7.4 7.4 0 1 0 14.8 0a7.4 7.4 0 1 0 -14.8 0M680.4 524.1a7.4 7.4 0 1 0 14.8 0a7.4 7.4 0 1 0 -14.8 0M789.2 57.9a7.4 7.4 0 1 0 14.8 0a7.4 7.4 0 1 0 -14.8 0M789.5 62.6a7.4 7.4 0 1 0 14.8 0a7.4 7.4 0 1 0 -14.8 0M789.2 67.1a7.4 7.4 0 1 0 14.8 0a7.4 7.4 0 1 0 -14.8 0M789.3 70.4a7.4 7.4 0 1 0 14.8 0a7.4 7.4 0 1 0 -14.8 0M789.2 75.0a7.4 7.4 0 1 0 14.8 0a7.4 7.4 0 1 0 -14.8 0M788.3 80.7a7.4 7.4 0 1 0 14.8 0a7.4 7.4 0 1 0 -14.8 0M789.7 84.8a7.4 7.4 0 1 0 14.8 0a7.4 7.4 0 1 0 -14.8 0M789.4 90.8a7.4 7.4 0 1 0 14.8 0a7.4 7.4 0 1 0 -14.8 0M789.1 94.9a7.4 7.4 0 1 0 14.8 0a7.4 7.4 0 1 0 -14.8 0M789.6 101.2a7.4 7.4 0 1 0 14.8 0a7.4 7.4 0 1 0 -14.8 0M791.0 105.2a7.4 7.4 0 1 0 14.8 0a7.4 7.4 0 1 0 -14.8 0" fill="none" stroke="#ff0000" stroke-width="1.5"/>
<polyline points="109.4,428.9 110.2,428.8 111.4,428.7 112.7,428.6 114.2,428.3 115.7,427.7 117.2,426.6 118.7,425.0 120.2,422.9 121.7,420.4 123.3,417.8 124.9,415.1 126.6,412.5 128.4,409.6 130.2,406.4 132.1,403.1 134.0,400.0 135.8,397.6 137.5,396.1 139.0,395.7 140.3,396.0 141.6,397.0 142.8,398.3 144.0,399.9 145.3,401.6 146.6,403.5 147.9,405.8 149.2,408.4 150.5,411.0 151.8,413.4 153.1,415.6 154.4,417.6 155.7,419.7 157.0,421.6 158.3,423.2 159.6,424.4 160.9,425.0 162.2,425.0 163.5,424.5 164.8,423.6 166.1,422.3 167.4,420.7 168.8,418.8 170.1,416.4 171.4,413.7 172.7,410.5 174.0,407.2 175.3,403.6 176.6,400.0 177.9,396.2 179.2,392.2 180.5,388.1 181.8,383.8 183.1,379.4 184.4,375.0 185.7,370.5 187.0,365.9 188.3,361.1 189.6,356.4 190.9,351.6 192.2,346.9 193.5,342.1 194.9,337.2 196.2,332.4 197.5,327.6 198.8,323.0 200.0,318.8 201.1,314.9 202.2,311.3 203.2,308.0 204.1,304.7 205.1,301.4 206.0,298.0 206.9,294.3 207.8,290.5 208.6,286.7 209.4,282.9 210.2,279.3 211.0,276.0 211.8,273.0 212.6,270.1 213.3,267.4 214.1,264.9 214.8,262.6 215.6,260.6 216.3,258.8 217.0,257.3 217.7,256.0 218.4,254.9 219.2,253.9 220.0,253.0 220.9,252.1 221.8,251.4 222.8,250.8 223.8,250.3 224.8,249.9 225.8,249.7 226.7,249.6 227.6,249.6 228.5,249.7 229.5,250.0 230.6,250.4 232.0,251.0 233.7,251.9 235.6,253.2 237.7,254.6 239.9,256.0 241.9,257.0 243.8,257.5 245.3,257.4 246.8,256.7 248.1,255.8 249.4,254.8 250.7,253.8 252.0,253.0 253.4,252.4 254.8,251.8 256.1,251.2 257.5,250.8 258.9,250.5 260.2,250.5 261.5,250.6 262.7,250.9 264.0,251.3 265.3,251.9 266.6,252.8 268.0,254.0 269.5,255.6 271.2,257.7 272.9,260.0 274.6,262.5 276.3,264.9 278.0,267.0 279.6,269.0 281.2,271.0 282.8,273.0 284.4,274.8 285.9,276.4 287.5,277.8 289.1,278.9 290.6,279.8 292.2,280.6 293.8,281.1 295.3,281.5 296.9,281.7 298.4,281.8 299.9,281.8 301.4,281.7 302.9,281.3 304.5,280.5 306.2,279.4 308.1,277.8 310.1,275.7 312.2,273.4 314.4,270.8 316.5,268.1 318.8,265.3 321.0,262.4 323.5,259.2 325.9,255.9 328.3,252.6 330.7,249.4 332.8,246.6 334.7,244.2 336.4,242.2 338.0,240.4 339.6,238.5 341.3,236.5 343.1,234.0 345.1,231.1 347.1,227.9 349.2,224.5 351.4,220.9 353.5,217.3 355.6,213.8 357.7,210.2 359.8,206.5 361.9,202.8 364.0,199.1 366.1,195.5 368.1,191.9 370.0,188.4 371.8,184.9 373.6,181.5 375.4,178.1 377.2,174.8 379.1,171.6 381.1,168.5 383.1,165.3 385.2,162.3 387.3,159.4 389.4,156.8 391.6,154.4 393.8,152.3 396.1,150.6 398.4,149.0 400.8,147.6 403.2,146.3 405.6,145.0 408.1,143.7 410.7,142.5 413.3,141.4 416.0,140.4 418.6,139.5 421.2,138.7 423.9,138.1 426.5,137.7 429.1,137.4 431.7,137.1 434.3,136.9 436.9,136.6 439.5,136.3 442.1,136.1 444.7,135.9 447.3,135.7 449.9,135.5 452.5,135.3 455.2,135.1 457.9,134.8 460.7,134.5 463.4,134.3 465.9,134.3 468.1,134.5 470.0,134.9 471.7,135.5 473.2,136.2 474.6,137.1 476.0,138.2 477.5,139.5 479.1,141.1 480.8,143.0 482.4,145.1 484.1,147.3 485.8,149.4 487.5,151.5 489.2,153.5 490.9,155.4 492.6,157.4 494.3,159.3 496.1,161.2 498.0,163.0 499.9,164.7 502.0,166.4 504.0,168.1 506.1,169.6 508.2,171.1 510.3,172.5 512.4,173.7 514.5,174.7 516.6,175.6 518.7,176.6 520.8,177.6 522.8,178.7 524.7,180.1 526.5,181.5 528.3,183.0 530.0,184.6 531.9,186.3 533.8,188.1 535.8,190.0 537.9,192.1 540.1,194.3 542.3,196.5 544.3,198.7 546.2,200.6 548.0,202.4 549.6,204.2 551.1,205.8 552.6,207.4 554.1,208.8 555.6,210.0 557.1,211.0 558.7,211.9 560.2,212.7 561.8,213.3 563.3,213.7 565.0,213.9 566.8,213.9 568.6,213.5 570.5,213.0 572.4,212.4 574.2,211.9 575.9,211.6 577.4,211.4 578.7,211.3 580.0,211.3 581.2,211.3 582.4,211.4 583.8,211.5 585.1,211.7 586.5,212.0 587.9,212.4 589.4,212.8 590.9,213.1 592.5,213.3 594.2,213.5 595.9,213.6 597.7,213.8 599.6,213.7 601.5,213.4 603.4,212.8 605.4,211.7 607.4,210.3 609.4,208.7 611.6,206.9 613.7,205.1 615.9,203.4 618.2,201.9 620.5,200.4 622.9,198.9 625.4,197.4 627.7,195.7 630.0,194.0 632.2,192.1 634.4,190.2 636.5,188.1 638.6,186.0 640.6,183.8 642.5,181.6 644.2,179.3 645.9,176.9 647.4,174.5 648.9,172.0 650.4,169.7 651.9,167.5 653.5,165.4 655.0,163.3 656.6,161.4 658.1,159.5 659.7,157.9 661.2,156.6 662.8,155.5 664.5,154.7 666.1,154.1 667.7,153.7 669.2,153.5 670.6,153.4 671.8,153.5 672.9,153.7 673.9,154.0 674.9,154.6 675.9,155.5 676.9,156.6 677.9,158.1 678.9,159.9 679.9,161.9 680.9,164.2 682.0,166.5 683.1,169.0 684.3,171.6 685.6,174.4 686.9,177.3 688.2,180.3 689.6,183.3 690.9,186.2 692.2,189.1 693.5,192.0 694.8,194.8 696.1,197.7 697.4,200.5 698.8,203.4 700.1,206.4 701.4,209.4 702.7,212.4 704.0,215.4 705.3,218.3 706.6,221.0 707.9,223.6 709.1,226.1 710.4,228.5 711.7,230.7 713.0,232.8 714.4,234.7 715.8,236.4 717.3,237.9 718.8,239.3 720.3,240.5 722.0,241.5 723.8,242.5 725.7,243.3 727.8,244.0 729.9,244.5 732.1,244.9 734.2,245.2 736.2,245.5 738.1,245.7 739.8,246.0 741.4,246.1 743.1,246.0 744.9,245.8 746.9,245.3 749.2,244.4 751.8,243.2 754.5,241.8 757.2,240.3 759.9,238.8 762.5,237.5 765.0,236.3 767.4,235.0 769.8,233.8 772.2,232.7 774.5,231.8 776.6,231.2 778.6,231.0 780.5,231.0 782.3,231.1 784.1,231.5 785.8,232.1 787.5,232.8 789.2,233.7 790.7,234.7 792.3,235.9 793.8,237.3 795.4,238.9 796.9,240.6 798.5,242.6 800.0,244.8 801.6,247.2 803.1,249.7 804.7,252.2 806.2,254.7 807.8,257.2 809.4,259.8 810.9,262.4 812.5,265.0 814.0,267.7 815.6,270.3 817.2,273.0 818.8,275.7 820.4,278.4 822.0,281.0 823.5,283.6 825.0,285.9 826.4,288.1 827.7,290.1 829.0,292.0 830.3,293.8 831.5,295.4 832.8,296.9 834.2,298.3 835.7,299.6 837.2,300.7 838.6,301.7 839.8,302.5 840.6,303.1" fill="none" stroke="#00ffff" stroke-width="9" stroke-linejoin="round" stroke-linecap="butt"/>
<rect x="109.6" y="17.5" width="811.3" height="640.5" fill="none" stroke="#000" stroke-width="1.5"/>
<path d="M109.6 658.0v-9.5h3.5M109.6 17.5v9.5h3.5M225.5 658.0v-9.5h3.5M225.5 17.5v9.5h3.5M341.4 658.0v-9.5h3.5M341.4 17.5v9.5h3.5M457.3 658.0v-9.5h3.5M457.3 17.5v9.5h3.5M573.2 658.0v-9.5h3.5M573.2 17.5v9.5h3.5M689.1 658.0v-9.5h3.5M689.1 17.5v9.5h3.5M805.0 658.0v-9.5h3.5M805.0 17.5v9.5h3.5M920.9 658.0v-9.5h3.5M920.9 17.5v9.5h3.5" stroke="#000" stroke-width="1.5" fill="none"/>
<path d="M109.6 658.0h10.5M920.9 658.0h-10.5M109.6 577.9h10.5M920.9 577.9h-10.5M109.6 497.9h10.5M920.9 497.9h-10.5M109.6 417.8h10.5M920.9 417.8h-10.5M109.6 337.7h10.5M920.9 337.7h-10.5M109.6 257.7h10.5M920.9 257.7h-10.5M109.6 177.6h10.5M920.9 177.6h-10.5M109.6 97.6h10.5M920.9 97.6h-10.5M109.6 17.5h10.5M920.9 17.5h-10.5" stroke="#000" stroke-width="1.5" fill="none"/>
<polygon points="165.0,195.0 166.3,187.8 168.3,178.5 170.7,168.3 173.0,158.4 175.0,150.0 176.6,143.5 178.1,138.2 179.4,133.4 180.9,128.4 182.5,122.5 184.5,115.2 186.7,106.8 188.9,98.4 190.9,90.8 192.5,85.0 193.2,81.3 193.3,79.1 193.3,77.8 193.7,77.1 195.0,76.2 197.7,75.2 201.3,74.3 205.3,73.8 209.2,73.9 212.5,75.0 215.0,77.4 217.0,80.9 218.9,85.0 220.6,89.0 222.5,92.5 224.4,95.6 226.1,98.8 228.0,101.7 230.0,103.9 232.5,105.0 235.6,104.6 239.1,103.0 242.9,100.8 246.6,98.8 250.0,97.5 253.1,97.0 256.0,97.0 258.8,97.2 261.4,97.8 263.8,98.8 265.8,100.3 267.4,102.4 269.0,104.7 270.6,106.9 272.5,108.8 274.8,110.2 277.4,111.5 280.1,112.6 282.7,113.4 285.0,113.8 287.0,113.8 288.9,113.5 290.6,112.9 292.2,111.8 293.8,110.0 295.1,107.5 296.2,104.2 297.4,100.5 298.6,96.5 300.0,92.5 301.8,88.3 303.9,83.9 306.1,79.2 308.2,74.6 310.0,70.0 311.4,65.2 312.6,60.0 313.8,55.1 314.9,50.7 316.2,47.5 317.4,45.7 318.3,45.1 319.5,45.0 321.5,45.2 325.0,45.0 330.8,44.7 338.6,44.6 346.9,44.4 354.5,43.8 360.0,42.5 362.9,40.2 364.2,37.2 364.4,33.8 364.5,30.5 365.0,27.5 365.5,24.8 365.5,22.2 365.8,19.9 367.0,17.8 370.0,16.2 375.1,15.4 381.8,15.1 389.5,15.1 397.8,15.2 406.0,15.0 414.8,14.3 424.7,13.4 434.5,12.5 443.2,12.1 450.0,12.5 454.2,14.0 456.6,16.3 457.8,19.1 458.7,22.1 460.0,25.0 461.7,27.7 463.2,30.3 464.6,33.2 466.0,36.3 467.5,40.0 469.0,44.4 470.6,49.3 472.2,54.5 473.7,59.8 475.0,65.0 476.1,70.3 476.9,75.8 477.8,81.3 478.7,86.1 480.0,90.0 481.4,92.6 482.9,94.1 484.7,95.2 487.0,96.1 490.0,97.5 494.1,99.4 499.2,101.4 504.6,103.6 510.1,105.6 515.0,107.5 519.4,109.2 523.6,110.9 527.6,112.4 531.4,113.8 535.0,115.0 538.2,116.1 541.1,117.0 543.9,117.8 546.8,118.4 550.0,118.8 553.8,119.0 558.0,119.3 562.3,119.2 566.4,118.7 570.0,117.5 572.9,115.3 575.3,112.2 577.5,108.8 579.8,105.4 582.5,102.5 585.8,100.3 589.4,98.4 593.1,96.6 596.7,94.7 600.0,92.5 602.9,89.9 605.6,87.1 608.1,84.1 610.4,80.9 612.5,77.5 614.3,73.8 615.7,69.7 617.1,65.6 618.4,61.4 620.0,57.5 621.9,53.6 623.9,49.7 626.1,45.9 628.1,42.6 630.0,40.0 631.6,38.3 632.9,37.3 634.3,36.7 635.7,36.5 637.5,36.2 639.6,36.4 642.0,36.9 644.6,37.6 647.3,37.9 650.0,37.5 652.8,36.1 655.8,34.0 658.9,31.5 662.0,29.2 665.0,27.5 668.0,26.5 670.9,25.8 673.9,25.4 676.9,25.1 680.0,25.0 683.4,24.6 687.0,24.2 690.6,23.9 693.8,24.5 696.2,26.2 697.8,29.7 698.5,34.5 698.9,40.0 699.3,45.5 700.0,50.0 701.3,53.6 703.0,56.9 704.7,59.8 705.9,62.5 706.2,65.0 705.4,67.4 703.8,69.5 701.6,71.4 699.4,73.2 697.5,75.0 695.9,76.6 694.4,77.9 692.9,79.3 691.5,80.7 690.0,82.5 688.5,84.8 687.1,87.4 685.7,90.1 684.2,92.7 682.5,95.0 680.6,97.0 678.6,99.0 676.4,100.6 674.4,101.9 672.5,102.5 670.8,102.4 669.3,101.8 667.9,100.6 666.5,99.2 665.0,97.5 663.5,95.3 662.0,92.4 660.6,89.5 659.1,86.8 657.5,85.0 655.9,84.0 654.3,83.6 652.7,83.7 650.9,84.2 649.0,85.0 646.9,86.2 644.7,87.8 642.3,89.8 639.9,92.2 637.5,95.0 635.1,98.4 632.6,102.4 630.0,106.7 627.5,111.0 625.0,115.0 622.7,118.6 620.5,122.1 618.2,125.4 615.6,128.9 612.5,132.5 608.6,136.5 604.1,140.7 599.3,144.9 594.5,148.9 590.0,152.5 585.9,155.6 581.9,158.4 578.1,160.9 574.1,163.1 570.0,165.0 565.5,166.6 560.7,168.0 555.9,169.1 551.4,169.8 547.5,170.0 544.4,169.8 541.9,169.2 539.7,168.2 537.5,166.8 535.0,165.0 532.2,162.6 529.4,159.5 526.5,156.1 523.4,152.8 520.0,150.0 516.2,147.7 512.0,145.6 507.7,143.8 503.6,141.9 500.0,140.0 497.0,138.2 494.3,136.6 492.0,134.9 489.7,132.8 487.5,130.0 485.5,126.0 483.8,121.1 482.1,115.8 480.1,111.1 477.5,107.5 473.9,105.5 469.6,104.5 465.1,104.0 460.9,103.5 457.5,102.5 455.2,101.1 453.6,99.8 452.4,98.2 451.3,95.9 450.0,92.5 448.6,87.5 447.2,81.0 445.9,74.0 444.3,67.5 442.5,62.5 440.5,59.1 438.4,56.7 436.1,55.0 433.3,53.7 430.0,52.5 426.0,51.5 421.4,50.8 416.5,50.4 411.3,50.1 406.0,50.0 400.2,49.9 393.7,50.0 387.2,50.2 381.6,50.6 377.5,51.2 375.4,52.1 374.7,53.1 374.9,54.3 375.2,55.8 375.0,57.5 374.3,59.7 373.5,62.3 372.7,65.1 371.5,67.7 370.0,70.0 368.1,71.9 366.0,73.5 363.6,75.0 360.8,76.3 357.5,77.5 353.4,78.3 348.4,78.8 343.2,79.2 338.5,79.9 335.0,81.2 332.9,83.2 331.7,85.5 331.2,88.2 330.7,91.4 330.0,95.0 329.1,99.2 328.2,104.1 327.4,109.3 326.3,114.7 325.0,120.0 323.4,125.8 321.6,132.3 319.6,138.5 317.4,143.9 315.0,147.5 312.3,148.6 309.4,147.8 306.2,146.2 303.1,144.9 300.0,145.0 297.0,147.2 293.9,150.6 290.8,154.4 287.8,157.8 285.0,160.0 282.4,160.9 280.1,161.1 277.7,160.6 275.3,159.4 272.5,157.5 269.3,154.5 265.7,150.3 262.1,145.6 258.4,141.1 255.0,137.5 252.0,134.7 249.3,132.3 246.6,130.3 243.6,128.7 240.0,127.5 235.3,126.9 229.8,127.0 224.0,127.3 218.9,127.6 215.0,127.5 212.8,126.6 211.7,125.1 211.2,123.6 210.8,123.0 210.0,123.8 208.7,126.3 207.2,130.3 205.6,135.0 204.0,140.1 202.5,145.0 201.0,149.7 199.4,154.5 197.8,159.5 196.3,164.6 195.0,170.0 194.0,176.0 193.3,182.5 192.6,189.0 191.6,195.0 190.0,200.0 187.5,203.9 184.4,207.1 181.0,209.6 177.8,211.4 175.0,212.5 172.7,212.8 170.6,212.3 168.7,211.2 167.2,209.7 166.0,208.0 165.1,206.5 164.5,204.9 164.2,202.9 164.4,199.8" fill="rgb(255,215,86)" fill-opacity="0.37" stroke="none"/>
<polygon points="177.5,465.0 177.9,460.4 179.2,454.6 181.2,448.1 183.2,441.4 185.0,435.0 186.6,428.7 188.2,422.0 189.8,415.5 191.2,409.6 192.5,405.0 193.2,401.7 193.5,399.5 193.8,398.0 194.6,397.0 196.2,396.2 199.2,395.7 203.1,395.6 207.4,395.9 211.6,396.5 215.0,397.5 217.6,399.0 219.6,401.2 221.4,403.5 223.1,405.8 225.0,407.5 226.9,408.8 228.8,409.8 230.6,410.5 232.7,411.0 235.0,411.2 237.7,411.1 240.8,410.4 243.9,409.6 247.1,408.9 250.0,408.8 252.6,409.0 254.9,409.6 257.3,410.4 259.7,411.4 262.5,412.5 265.8,413.9 269.4,415.6 273.1,417.4 276.7,418.9 280.0,420.0 282.9,420.6 285.5,420.9 287.9,420.9 290.2,420.6 292.5,420.0 294.7,419.1 296.8,417.9 298.8,416.4 300.7,414.6 302.5,412.5 304.1,409.9 305.6,406.9 306.9,403.7 308.4,400.5 310.0,397.5 311.8,394.7 313.6,391.8 315.5,389.2 317.6,386.8 320.0,385.0 322.6,383.8 325.4,383.2 328.4,382.8 331.6,382.7 335.0,382.5 338.9,382.5 343.2,382.8 347.7,383.1 351.7,383.1 355.0,382.5 357.3,381.1 358.9,379.2 360.1,377.0 361.2,374.7 362.5,372.5 363.8,370.4 365.0,368.1 366.3,365.9 367.9,363.9 370.0,362.5 372.8,361.7 376.2,361.2 379.9,361.1 383.8,361.2 387.5,361.2 390.5,361.3 393.0,361.5 395.8,361.8 399.9,362.1 406.0,362.5 415.7,362.8 428.2,362.9 441.6,363.2 453.7,363.8 462.5,365.0 467.1,366.7 468.9,368.9 469.2,371.5 469.1,374.4 470.0,377.5 471.8,381.1 473.7,385.2 475.7,389.5 477.8,393.7 480.0,397.5 482.3,400.9 484.6,404.2 487.0,407.2 489.6,410.0 492.5,412.5 495.6,414.8 498.8,416.8 502.2,418.6 505.9,420.1 510.0,421.2 514.4,422.1 519.2,422.6 524.3,422.8 529.6,422.8 535.0,422.5 541.0,421.9 547.6,421.1 554.2,420.0 560.2,418.8 565.0,417.5 568.1,416.1 569.8,414.4 571.1,412.8 572.5,411.2 575.0,410.0 578.9,409.3 583.7,409.0 588.8,408.8 593.6,408.4 597.5,407.5 600.2,406.0 602.2,404.0 603.7,401.9 605.4,399.6 607.5,397.5 610.3,395.5 613.4,393.6 616.6,391.7 619.7,389.7 622.5,387.5 624.7,385.0 626.6,382.2 628.4,379.4 630.3,376.9 632.5,375.0 635.2,373.8 638.3,373.1 641.4,372.8 644.6,372.6 647.5,372.5 650.2,372.7 652.9,373.3 655.5,374.0 657.9,374.2 660.0,373.8 661.7,372.2 662.9,369.7 664.0,367.0 665.4,364.4 667.5,362.5 670.6,361.3 674.4,360.4 678.4,359.9 682.1,359.7 685.0,360.0 686.9,360.5 688.2,361.3 689.0,362.6 689.6,364.6 690.0,367.5 690.2,371.9 690.1,377.7 689.7,383.9 689.3,390.0 688.8,395.0 688.3,398.9 687.8,402.3 687.2,405.2 686.4,407.8 685.0,410.0 683.2,411.9 681.1,413.3 678.6,414.4 675.8,415.4 672.5,416.2 668.5,417.0 663.7,417.5 658.8,417.8 654.0,418.2 650.0,418.8 646.8,419.3 644.0,419.9 641.7,420.5 639.5,421.3 637.5,422.5 635.7,424.2 634.3,426.3 632.9,428.6 631.6,430.7 630.0,432.5 628.4,433.8 626.8,434.9 625.0,435.7 622.8,436.6 620.0,437.5 616.1,438.3 611.2,438.9 606.0,439.6 601.2,440.7 597.5,442.5 595.2,445.4 593.8,449.1 592.8,453.2 591.7,457.0 590.0,460.0 587.7,462.1 585.3,463.6 582.4,464.7 579.1,465.6 575.0,466.2 570.0,466.7 564.2,466.9 557.9,466.8 551.4,466.6 545.0,466.2 538.6,465.8 532.1,465.1 525.4,464.3 518.9,463.4 512.5,462.5 506.2,461.6 499.8,460.6 493.7,459.6 487.8,458.5 482.5,457.5 477.7,456.8 473.3,456.5 469.3,455.9 465.7,454.8 462.5,452.5 459.8,448.7 457.7,443.8 455.8,438.3 454.2,432.7 452.5,427.5 450.9,422.6 449.4,417.7 448.1,413.0 446.6,408.7 445.0,405.0 443.5,402.1 442.1,399.7 440.5,397.9 438.3,396.3 435.0,395.0 430.4,393.9 424.6,393.2 418.3,392.8 411.9,392.6 406.0,392.5 400.3,392.6 394.5,392.8 388.9,393.2 384.0,393.9 380.0,395.0 377.4,396.6 375.9,398.6 375.0,400.8 374.0,403.0 372.5,405.0 370.4,406.7 368.2,408.4 365.8,410.0 363.1,411.4 360.0,412.5 356.3,413.2 351.9,413.4 347.5,413.5 343.3,413.9 340.0,415.0 337.7,416.8 336.1,419.2 334.9,421.8 333.8,424.7 332.5,427.5 331.1,430.4 329.9,433.6 328.5,436.7 327.0,439.8 325.0,442.5 322.5,444.9 319.5,447.1 316.4,449.1 313.1,450.9 310.0,452.5 307.2,453.9 304.5,455.2 301.7,456.3 298.6,457.1 295.0,457.5 290.5,457.6 285.2,457.3 279.8,456.7 274.5,455.9 270.0,455.0 266.4,453.7 263.5,452.0 260.9,450.2 258.2,448.6 255.0,447.5 251.4,447.1 247.5,447.1 243.4,447.3 239.2,447.5 235.0,447.5 230.4,447.0 225.5,446.3 220.5,445.6 216.1,445.1 212.5,445.0 210.0,445.3 208.3,445.7 207.1,446.6 206.1,447.9 205.0,450.0 204.0,453.3 203.2,457.8 202.4,462.5 201.4,466.9 200.0,470.0 197.9,471.8 195.4,472.7 192.7,473.1 190.0,472.9 187.5,472.5 185.1,472.0 182.5,471.3 180.1,470.1 178.3,468.1" fill="rgb(255,215,86)" fill-opacity="0.37" stroke="none"/>
<polygon points="712.5,200.0 713.4,195.5 714.9,190.0 716.7,184.0 718.5,178.0 720.0,172.5 721.1,167.6 721.9,163.0 722.8,158.6 723.7,154.3 725.0,150.0 726.6,146.0 728.5,142.3 730.6,138.6 732.8,134.6 735.0,130.0 737.4,124.4 740.1,118.0 742.7,111.4 745.3,105.2 747.5,100.0 749.1,95.8 750.3,92.1 751.3,89.1 752.8,86.7 755.0,85.0 758.3,83.9 762.3,83.5 766.8,83.7 771.1,84.6 775.0,86.2 778.4,88.9 781.7,92.7 784.8,96.9 787.6,101.2 790.0,105.0 792.1,108.0 793.8,110.5 795.2,113.1 796.4,116.1 797.5,120.0 798.4,125.1 799.0,131.2 799.4,137.6 799.7,144.1 800.0,150.0 800.2,155.6 800.2,161.1 800.2,166.4 800.1,171.1 800.0,175.0 800.0,177.9 800.1,179.9 800.0,181.4 799.7,182.6 798.8,183.8 797.2,184.9 795.0,186.0 792.6,186.8 790.0,187.3 787.5,187.5 785.0,187.4 782.5,187.0 779.9,186.2 777.4,185.2 775.0,183.8 772.9,181.4 770.9,178.1 769.1,174.8 767.1,172.2 765.0,171.2 762.5,172.2 759.8,174.6 757.1,177.8 754.6,181.4 752.5,185.0 751.1,188.8 750.1,193.0 749.3,197.4 748.5,201.5 747.5,205.0 746.3,207.8 745.0,210.1 743.7,212.1 742.0,213.7 740.0,215.0 737.4,215.9 734.3,216.5 731.0,216.7 727.8,216.6 725.0,216.2 722.6,215.5 720.3,214.5 718.2,213.1 716.4,211.6 715.0,210.0 713.9,208.5 713.0,207.1 712.4,205.4 712.2,203.2" fill="rgb(255,215,86)" fill-opacity="0.37" stroke="none"/>
<polygon points="692.5,545.0 692.2,541.1 692.4,536.3 693.0,530.8 693.9,525.3 695.0,520.0 696.6,515.0 698.8,510.0 701.2,505.0 703.4,500.0 705.0,495.0 705.7,490.0 705.8,485.0 705.8,480.0 706.2,475.0 707.5,470.0 710.1,465.0 713.5,460.0 717.5,455.0 721.4,450.0 725.0,445.0 728.3,439.8 731.7,434.5 734.8,429.3 737.7,424.4 740.0,420.0 741.6,416.2 742.5,412.8 743.1,409.8 743.8,407.2 745.0,405.0 746.5,403.3 748.2,402.0 750.0,401.2 752.3,400.5 755.0,400.0 758.5,399.5 762.8,399.2 767.2,399.0 771.5,399.3 775.0,400.0 777.6,401.3 779.7,403.2 781.5,405.3 783.2,407.7 785.0,410.0 787.0,412.4 789.1,414.9 791.2,417.6 793.2,420.1 795.0,422.5 796.7,424.2 798.3,425.4 799.8,426.6 801.2,428.8 802.5,432.5 803.7,438.2 804.7,445.3 805.7,453.3 806.6,461.7 807.5,470.0 808.5,478.7 809.6,488.3 810.5,497.8 811.2,506.2 811.2,512.5 810.8,516.3 809.9,518.3 808.6,519.1 807.0,519.5 805.0,520.0 802.6,520.8 799.6,521.4 796.4,521.8 793.1,521.7 790.0,521.2 787.0,520.2 783.9,518.5 780.8,516.6 777.8,514.5 775.0,512.5 772.4,510.3 769.9,507.6 767.6,505.1 765.1,503.2 762.5,502.5 759.5,503.1 756.2,504.8 752.9,507.2 749.9,509.9 747.5,512.5 745.9,515.1 744.9,517.9 744.2,520.9 743.5,524.1 742.5,527.5 741.2,531.4 739.8,535.7 738.3,540.1 736.7,544.1 735.0,547.5 733.4,550.2 731.9,552.4 730.2,554.2 728.0,555.5 725.0,556.2 720.7,556.4 715.2,555.8 709.5,554.9 704.1,553.7 700.0,552.5 697.2,551.5 695.3,550.6 693.9,549.4 693.1,547.7" fill="rgb(255,215,86)" fill-opacity="0.37" stroke="none"/>
<path d="M172.4 196.3a7.4 7.4 0 1 0 14.8 0a7.4 7.4 0 1 0 -14.8 0M173.2 191.4a7.4 7.4 0 1 0 14.8 0a7.4 7.4 0 1 0 -14.8 0M173.3 187.8a7.4 7.4 0 1 0 14.8 0a7.4 7.4 0 1 0 -14.8 0M175.6 185.5a7.4 7.4 0 1 0 14.8 0a7.4 7.4 0 1 0 -14.8 0M177.5 180.7a7.4 7.4 0 1 0 14.8 0a7.4 7.4 0 1 0 -14.8 0M213.1 114.1a7.4 7.4 0 1 0 14.8 0a7.4 7.4 0 1 0 -14.8 0M214.5 117.4a7.4 7.4 0 1 0 14.8 0a7.4 7.4 0 1 0 -14.8 0M217.0 118.9a7.4 7.4 0 1 0 14.8 0a7.4 7.4 0 1 0 -14.8 0M219.6 117.5a7.4 7.4 0 1 0 14.8 0a7.4 7.4 0 1 0 -14.8 0M219.8 118.4a7.4 7.4 0 1 0 14.8 0a7.4 7.4 0 1 0 -14.8 0M221.0 122.0a7.4 7.4 0 1 0 14.8 0a7.4 7.4 0 1 0 -14.8 0M223.9 120.0a7.4 7.4 0 1 0 14.8 0a7.4 7.4 0 1 0 -14.8 0M225.1 119.2a7.4 7.4 0 1 0 14.8 0a7.4 7.4 0 1 0 -14.8 0M226.3 120.3a7.4 7.4 0 1 0 14.8 0a7.4 7.4 0 1 0 -14.8 0M227.7 116.5a7.4 7.4 0 1 0 14.8 0a7.4 7.4 0 1 0 -14.8 0M228.8 115.2a7.4 7.4 0 1 0 14.8 0a7.4 7.4 0 1 0 -14.8 0M231.1 117.2a7.4 7.4 0 1 0 14.8 0a7.4 7.4 0 1 0 -14.8 0M232.7 114.9a7.4 7.4 0 1 0 14.8 0a7.4 7.4 0 1 0 -14.8 0M234.0 114.8a7.4 7.4 0 1 0 14.8 0a7.4 7.4 0 1 0 -14.8 0M236.4 114.9a7.4 7.4 0 1 0 14.8 0a7.4 7.4 0 1 0 -14.8 0M238.2 116.6a7.4 7.4 0 1 0 14.8 0a7.4 7.4 0 1 0 -14.8 0M241.0 117.3a7.4 7.4 0 1 0 14.8 0a7.4 7.4 0 1 0 -14.8 0M243.8 116.4a7.4 7.4 0 1 0 14.8 0a7.4 7.4 0 1 0 -14.8 0M243.9 113.6a7.4 7.4 0 1 0 14.8 0a7.4 7.4 0 1 0 -14.8 0M247.5 116.6a7.4 7.4 0 1 0 14.8 0a7.4 7.4 0 1 0 -14.8 0M250.4 116.3a7.4 7.4 0 1 0 14.8 0a7.4 7.4 0 1 0 -14.8 0M253.7 118.2a7.4 7.4 0 1 0 14.8 0a7.4 7.4 0 1 0 -14.8 0M254.7 121.2a7.4 7.4 0 1 0 14.8 0a7.4 7.4 0 1 0 -14.8 0M258.7 119.3a7.4 7.4 0 1 0 14.8 0a7.4 7.4 0 1 0 -14.8 0M260.2 121.1a7.4 7.4 0 1 0 14.8 0a7.4 7.4 0 1 0 -14.8 0M263.6 127.1a7.4 7.4 0 1 0 14.8 0a7.4 7.4 0 1 0 -14.8 0M264.8 129.4a7.4 7.4 0 1 0 14.8 0a7.4 7.4 0 1 0 -14.8 0M267.5 127.1a7.4 7.4 0 1 0 14.8 0a7.4 7.4 0 1 0 -14.8 0M270.4 131.2a7.4 7.4 0 1 0 14.8 0a7.4 7.4 0 1 0 -14.8 0M271.4 139.1a7.4 7.4 0 1 0 14.8 0a7.4 7.4 0 1 0 -14.8 0M272.4 142.3a7.4 7.4 0 1 0 14.8 0a7.4 7.4 0 1 0 -14.8 0M275.2 139.3a7.4 7.4 0 1 0 14.8 0a7.4 7.4 0 1 0 -14.8 0M276.6 142.3a7.4 7.4 0 1 0 14.8 0a7.4 7.4 0 1 0 -14.8 0M280.8 142.3a7.4 7.4 0 1 0 14.8 0a7.4 7.4 0 1 0 -14.8 0M282.4 136.2a7.4 7.4 0 1 0 14.8 0a7.4 7.4 0 1 0 -14.8 0M285.2 138.8a7.4 7.4 0 1 0 14.8 0a7.4 7.4 0 1 0 -14.8 0M288.3 138.4a7.4 7.4 0 1 0 14.8 0a7.4 7.4 0 1 0 -14.8 0M289.6 138.6a7.4 7.4 0 1 0 14.8 0a7.4 7.4 0 1 0 -14.8 0M291.9 132.8a7.4 7.4 0 1 0 14.8 0a7.4 7.4 0 1 0 -14.8 0M293.3 133.1a7.4 7.4 0 1 0 14.8 0a7.4 7.4 0 1 0 -14.8 0M294.5 130.5a7.4 7.4 0 1 0 14.8 0a7.4 7.4 0 1 0 -14.8 0M298.3 132.9a7.4 7.4 0 1 0 14.8 0a7.4 7.4 0 1 0 -14.8 0M299.7 127.0a7.4 7.4 0 1 0 14.8 0a7.4 7.4 0 1 0 -14.8 0M300.8 124.3a7.4 7.4 0 1 0 14.8 0a7.4 7.4 0 1 0 -14.8 0M303.5 120.8a7.4 7.4 0 1 0 14.8 0a7.4 7.4 0 1 0 -14.8 0M303.9 118.6a7.4 7.4 0 1 0 14.8 0a7.4 7.4 0 1 0 -14.8 0M306.2 114.4a7.4 7.4 0 1 0 14.8 0a7.4 7.4 0 1 0 -14.8 0M307.4 111.1a7.4 7.4 0 1 0 14.8 0a7.4 7.4 0 1 0 -14.8 0M308.3 106.8a7.4 7.4 0 1 0 14.8 0a7.4 7.4 0 1 0 -14.8 0M308.1 104.2a7.4 7.4 0 1 0 14.8 0a7.4 7.4 0 1 0 -14.8 0M309.2 99.3a7.4 7.4 0 1 0 14.8 0a7.4 7.4 0 1 0 -14.8 0M310.5 91.1a7.4 7.4 0 1 0 14.8 0a7.4 7.4 0 1 0 -14.8 0M312.4 89.6a7.4 7.4 0 1 0 14.8 0a7.4 7.4 0 1 0 -14.8 0M312.3 87.3a7.4 7.4 0 1 0 14.8 0a7.4 7.4 0 1 0 -14.8 0M313.4 82.7a7.4 7.4 0 1 0 14.8 0a7.4 7.4 0 1 0 -14.8 0M313.4 78.1a7.4 7.4 0 1 0 14.8 0a7.4 7.4 0 1 0 -14.8 0M315.8 75.3a7.4 7.4 0 1 0 14.8 0a7.4 7.4 0 1 0 -14.8 0M318.7 69.4a7.4 7.4 0 1 0 14.8 0a7.4 7.4 0 1 0 -14.8 0M320.5 71.0a7.4 7.4 0 1 0 14.8 0a7.4 7.4 0 1 0 -14.8 0M323.3 66.5a7.4 7.4 0 1 0 14.8 0a7.4 7.4 0 1 0 -14.8 0M323.3 67.9a7.4 7.4 0 1 0 14.8 0a7.4 7.4 0 1 0 -14.8 0M324.8 65.4a7.4 7.4 0 1 0 14.8 0a7.4 7.4 0 1 0 -14.8 0M324.8 61.8a7.4 7.4 0 1 0 14.8 0a7.4 7.4 0 1 0 -14.8 0M326.9 65.2a7.4 7.4 0 1 0 14.8 0a7.4 7.4 0 1 0 -14.8 0M328.8 63.8a7.4 7.4 0 1 0 14.8 0a7.4 7.4 0 1 0 -14.8 0M329.4 67.6a7.4 7.4 0 1 0 14.8 0a7.4 7.4 0 1 0 -14.8 0M329.4 64.4a7.4 7.4 0 1 0 14.8 0a7.4 7.4 0 1 0 -14.8 0M331.2 65.1a7.4 7.4 0 1 0 14.8 0a7.4 7.4 0 1 0 -14.8 0M331.1 63.2a7.4 7.4 0 1 0 14.8 0a7.4 7.4 0 1 0 -14.8 0M333.7 63.0a7.4 7.4 0 1 0 14.8 0a7.4 7.4 0 1 0 -14.8 0M333.2 66.9a7.4 7.4 0 1 0 14.8 0a7.4 7.4 0 1 0 -14.8 0M335.8 67.2a7.4 7.4 0 1 0 14.8 0a7.4 7.4 0 1 0 -14.8 0M337.0 68.2a7.4 7.4 0 1 0 14.8 0a7.4 7.4 0 1 0 -14.8 0M336.9 65.3a7.4 7.4 0 1 0 14.8 0a7.4 7.4 0 1 0 -14.8 0M337.5 62.2a7.4 7.4 0 1 0 14.8 0a7.4 7.4 0 1 0 -14.8 0M338.1 66.4a7.4 7.4 0 1 0 14.8 0a7.4 7.4 0 1 0 -14.8 0M340.1 63.9a7.4 7.4 0 1 0 14.8 0a7.4 7.4 0 1 0 -14.8 0M340.7 65.7a7.4 7.4 0 1 0 14.8 0a7.4 7.4 0 1 0 -14.8 0M342.1 65.3a7.4 7.4 0 1 0 14.8 0a7.4 7.4 0 1 0 -14.8 0M345.6 63.1a7.4 7.4 0 1 0 14.8 0a7.4 7.4 0 1 0 -14.8 0M346.0 64.7a7.4 7.4 0 1 0 14.8 0a7.4 7.4 0 1 0 -14.8 0M347.1 64.3a7.4 7.4 0 1 0 14.8 0a7.4 7.4 0 1 0 -14.8 0M349.3 62.6a7.4 7.4 0 1 0 14.8 0a7.4 7.4 0 1 0 -14.8 0M350.2 62.8a7.4 7.4 0 1 0 14.8 0a7.4 7.4 0 1 0 -14.8 0M350.9 61.4a7.4 7.4 0 1 0 14.8 0a7.4 7.4 0 1 0 -14.8 0M352.9 64.3a7.4 7.4 0 1 0 14.8 0a7.4 7.4 0 1 0 -14.8 0M354.9 64.7a7.4 7.4 0 1 0 14.8 0a7.4 7.4 0 1 0 -14.8 0M355.7 60.5a7.4 7.4 0 1 0 14.8 0a7.4 7.4 0 1 0 -14.8 0M359.0 55.3a7.4 7.4 0 1 0 14.8 0a7.4 7.4 0 1 0 -14.8 0M359.3 50.8a7.4 7.4 0 1 0 14.8 0a7.4 7.4 0 1 0 -14.8 0M361.2 46.4a7.4 7.4 0 1 0 14.8 0a7.4 7.4 0 1 0 -14.8 0M362.9 47.2a7.4 7.4 0 1 0 14.8 0a7.4 7.4 0 1 0 -14.8 0M365.1 39.4a7.4 7.4 0 1 0 14.8 0a7.4 7.4 0 1 0 -14.8 0M366.0 36.8a7.4 7.4 0 1 0 14.8 0a7.4 7.4 0 1 0 -14.8 0M368.5 32.3a7.4 7.4 0 1 0 14.8 0a7.4 7.4 0 1 0 -14.8 0M368.1 31.7a7.4 7.4 0 1 0 14.8 0a7.4 7.4 0 1 0 -14.8 0M370.6 31.5a7.4 7.4 0 1 0 14.8 0a7.4 7.4 0 1 0 -14.8 0M372.3 33.6a7.4 7.4 0 1 0 14.8 0a7.4 7.4 0 1 0 -14.8 0M373.8 36.6a7.4 7.4 0 1 0 14.8 0a7.4 7.4 0 1 0 -14.8 0M375.2 34.0a7.4 7.4 0 1 0 14.8 0a7.4 7.4 0 1 0 -14.8 0M377.8 33.3a7.4 7.4 0 1 0 14.8 0a7.4 7.4 0 1 0 -14.8 0M378.8 32.4a7.4 7.4 0 1 0 14.8 0a7.4 7.4 0 1 0 -14.8 0M378.9 34.7a7.4 7.4 0 1 0 14.8 0a7.4 7.4 0 1 0 -14.8 0M381.7 31.4a7.4 7.4 0 1 0 14.8 0a7.4 7.4 0 1 0 -14.8 0M382.5 32.6a7.4 7.4 0 1 0 14.8 0a7.4 7.4 0 1 0 -14.8 0M383.9 32.8a7.4 7.4 0 1 0 14.8 0a7.4 7.4 0 1 0 -14.8 0M386.0 35.2a7.4 7.4 0 1 0 14.8 0a7.4 7.4 0 1 0 -14.8 0M387.8 34.0a7.4 7.4 0 1 0 14.8 0a7.4 7.4 0 1 0 -14.8 0M387.8 33.6a7.4 7.4 0 1 0 14.8 0a7.4 7.4 0 1 0 -14.8 0M390.0 31.7a7.4 7.4 0 1 0 14.8 0a7.4 7.4 0 1 0 -14.8 0M392.7 35.0a7.4 7.4 0 1 0 14.8 0a7.4 7.4 0 1 0 -14.8 0M394.2 35.8a7.4 7.4 0 1 0 14.8 0a7.4 7.4 0 1 0 -14.8 0M394.6 33.6a7.4 7.4 0 1 0 14.8 0a7.4 7.4 0 1 0 -14.8 0M395.4 34.7a7.4 7.4 0 1 0 14.8 0a7.4 7.4 0 1 0 -14.8 0M396.6 34.2a7.4 7.4 0 1 0 14.8 0a7.4 7.4 0 1 0 -14.8 0M397.9 32.9a7.4 7.4 0 1 0 14.8 0a7.4 7.4 0 1 0 -14.8 0M401.4 33.8a7.4 7.4 0 1 0 14.8 0a7.4 7.4 0 1 0 -14.8 0M401.8 34.2a7.4 7.4 0 1 0 14.8 0a7.4 7.4 0 1 0 -14.8 0M402.2 37.4a7.4 7.4 0 1 0 14.8 0a7.4 7.4 0 1 0 -14.8 0M404.3 35.4a7.4 7.4 0 1 0 14.8 0a7.4 7.4 0 1 0 -14.8 0M406.2 36.0a7.4 7.4 0 1 0 14.8 0a7.4 7.4 0 1 0 -14.8 0M408.4 32.2a7.4 7.4 0 1 0 14.8 0a7.4 7.4 0 1 0 -14.8 0M409.1 31.5a7.4 7.4 0 1 0 14.8 0a7.4 7.4 0 1 0 -14.8 0M410.8 32.5a7.4 7.4 0 1 0 14.8 0a7.4 7.4 0 1 0 -14.8 0M412.3 35.4a7.4 7.4 0 1 0 14.8 0a7.4 7.4 0 1 0 -14.8 0M413.4 32.2a7.4 7.4 0 1 0 14.8 0a7.4 7.4 0 1 0 -14.8 0M415.7 33.0a7.4 7.4 0 1 0 14.8 0a7.4 7.4 0 1 0 -14.8 0M415.8 35.0a7.4 7.4 0 1 0 14.8 0a7.4 7.4 0 1 0 -14.8 0M417.6 32.4a7.4 7.4 0 1 0 14.8 0a7.4 7.4 0 1 0 -14.8 0M419.7 31.9a7.4 7.4 0 1 0 14.8 0a7.4 7.4 0 1 0 -14.8 0M420.5 29.1a7.4 7.4 0 1 0 14.8 0a7.4 7.4 0 1 0 -14.8 0M422.2 31.5a7.4 7.4 0 1 0 14.8 0a7.4 7.4 0 1 0 -14.8 0M424.4 28.0a7.4 7.4 0 1 0 14.8 0a7.4 7.4 0 1 0 -14.8 0M426.6 30.8a7.4 7.4 0 1 0 14.8 0a7.4 7.4 0 1 0 -14.8 0M427.9 27.0a7.4 7.4 0 1 0 14.8 0a7.4 7.4 0 1 0 -14.8 0M431.5 29.5a7.4 7.4 0 1 0 14.8 0a7.4 7.4 0 1 0 -14.8 0M432.6 27.4a7.4 7.4 0 1 0 14.8 0a7.4 7.4 0 1 0 -14.8 0M434.4 27.8a7.4 7.4 0 1 0 14.8 0a7.4 7.4 0 1 0 -14.8 0M438.4 29.4a7.4 7.4 0 1 0 14.8 0a7.4 7.4 0 1 0 -14.8 0M439.0 35.5a7.4 7.4 0 1 0 14.8 0a7.4 7.4 0 1 0 -14.8 0M441.8 38.3a7.4 7.4 0 1 0 14.8 0a7.4 7.4 0 1 0 -14.8 0M443.0 41.5a7.4 7.4 0 1 0 14.8 0a7.4 7.4 0 1 0 -14.8 0M444.5 43.0a7.4 7.4 0 1 0 14.8 0a7.4 7.4 0 1 0 -14.8 0M446.3 50.9a7.4 7.4 0 1 0 14.8 0a7.4 7.4 0 1 0 -14.8 0M448.8 51.9a7.4 7.4 0 1 0 14.8 0a7.4 7.4 0 1 0 -14.8 0M448.9 56.4a7.4 7.4 0 1 0 14.8 0a7.4 7.4 0 1 0 -14.8 0M451.7 58.0a7.4 7.4 0 1 0 14.8 0a7.4 7.4 0 1 0 -14.8 0M451.6 63.4a7.4 7.4 0 1 0 14.8 0a7.4 7.4 0 1 0 -14.8 0M455.0 70.5a7.4 7.4 0 1 0 14.8 0a7.4 7.4 0 1 0 -14.8 0M454.3 74.6a7.4 7.4 0 1 0 14.8 0a7.4 7.4 0 1 0 -14.8 0M456.3 78.1a7.4 7.4 0 1 0 14.8 0a7.4 7.4 0 1 0 -14.8 0M457.7 78.0a7.4 7.4 0 1 0 14.8 0a7.4 7.4 0 1 0 -14.8 0M458.3 82.2a7.4 7.4 0 1 0 14.8 0a7.4 7.4 0 1 0 -14.8 0M458.9 87.5a7.4 7.4 0 1 0 14.8 0a7.4 7.4 0 1 0 -14.8 0M491.4 123.8a7.4 7.4 0 1 0 14.8 0a7.4 7.4 0 1 0 -14.8 0M510.1 123.8a7.4 7.4 0 1 0 14.8 0a7.4 7.4 0 1 0 -14.8 0M525.1 140.0a7.4 7.4 0 1 0 14.8 0a7.4 7.4 0 1 0 -14.8 0M537.6 140.0a7.4 7.4 0 1 0 14.8 0a7.4 7.4 0 1 0 -14.8 0M543.6 146.0a7.4 7.4 0 1 0 14.8 0a7.4 7.4 0 1 0 -14.8 0M550.1 155.0a7.4 7.4 0 1 0 14.8 0a7.4 7.4 0 1 0 -14.8 0M554.6 142.0a7.4 7.4 0 1 0 14.8 0a7.4 7.4 0 1 0 -14.8 0M563.1 139.0a7.4 7.4 0 1 0 14.8 0a7.4 7.4 0 1 0 -14.8 0M564.2 141.0a7.4 7.4 0 1 0 14.8 0a7.4 7.4 0 1 0 -14.8 0M565.3 140.1a7.4 7.4 0 1 0 14.8 0a7.4 7.4 0 1 0 -14.8 0M566.7 139.3a7.4 7.4 0 1 0 14.8 0a7.4 7.4 0 1 0 -14.8 0M570.1 141.7a7.4 7.4 0 1 0 14.8 0a7.4 7.4 0 1 0 -14.8 0M570.7 139.8a7.4 7.4 0 1 0 14.8 0a7.4 7.4 0 1 0 -14.8 0M571.6 142.3a7.4 7.4 0 1 0 14.8 0a7.4 7.4 0 1 0 -14.8 0M574.5 136.2a7.4 7.4 0 1 0 14.8 0a7.4 7.4 0 1 0 -14.8 0M576.6 135.9a7.4 7.4 0 1 0 14.8 0a7.4 7.4 0 1 0 -14.8 0M576.7 132.4a7.4 7.4 0 1 0 14.8 0a7.4 7.4 0 1 0 -14.8 0M578.4 129.8a7.4 7.4 0 1 0 14.8 0a7.4 7.4 0 1 0 -14.8 0M581.7 128.4a7.4 7.4 0 1 0 14.8 0a7.4 7.4 0 1 0 -14.8 0M583.3 123.5a7.4 7.4 0 1 0 14.8 0a7.4 7.4 0 1 0 -14.8 0M584.8 119.5a7.4 7.4 0 1 0 14.8 0a7.4 7.4 0 1 0 -14.8 0M585.8 118.4a7.4 7.4 0 1 0 14.8 0a7.4 7.4 0 1 0 -14.8 0M588.4 118.0a7.4 7.4 0 1 0 14.8 0a7.4 7.4 0 1 0 -14.8 0M591.9 113.2a7.4 7.4 0 1 0 14.8 0a7.4 7.4 0 1 0 -14.8 0M593.5 113.3a7.4 7.4 0 1 0 14.8 0a7.4 7.4 0 1 0 -14.8 0M596.1 110.9a7.4 7.4 0 1 0 14.8 0a7.4 7.4 0 1 0 -14.8 0M596.6 105.2a7.4 7.4 0 1 0 14.8 0a7.4 7.4 0 1 0 -14.8 0M600.0 104.3a7.4 7.4 0 1 0 14.8 0a7.4 7.4 0 1 0 -14.8 0M603.5 103.1a7.4 7.4 0 1 0 14.8 0a7.4 7.4 0 1 0 -14.8 0M606.0 102.4a7.4 7.4 0 1 0 14.8 0a7.4 7.4 0 1 0 -14.8 0M606.9 102.8a7.4 7.4 0 1 0 14.8 0a7.4 7.4 0 1 0 -14.8 0M610.8 100.5a7.4 7.4 0 1 0 14.8 0a7.4 7.4 0 1 0 -14.8 0M611.7 95.6a7.4 7.4 0 1 0 14.8 0a7.4 7.4 0 1 0 -14.8 0M615.5 98.7a7.4 7.4 0 1 0 14.8 0a7.4 7.4 0 1 0 -14.8 0M617.2 95.4a7.4 7.4 0 1 0 14.8 0a7.4 7.4 0 1 0 -14.8 0M619.3 96.0a7.4 7.4 0 1 0 14.8 0a7.4 7.4 0 1 0 -14.8 0M621.0 93.3a7.4 7.4 0 1 0 14.8 0a7.4 7.4 0 1 0 -14.8 0M622.9 86.1a7.4 7.4 0 1 0 14.8 0a7.4 7.4 0 1 0 -14.8 0M624.1 84.2a7.4 7.4 0 1 0 14.8 0a7.4 7.4 0 1 0 -14.8 0M626.7 78.4a7.4 7.4 0 1 0 14.8 0a7.4 7.4 0 1 0 -14.8 0M628.3 74.9a7.4 7.4 0 1 0 14.8 0a7.4 7.4 0 1 0 -14.8 0M628.3 71.4a7.4 7.4 0 1 0 14.8 0a7.4 7.4 0 1 0 -14.8 0M629.0 65.8a7.4 7.4 0 1 0 14.8 0a7.4 7.4 0 1 0 -14.8 0M630.2 64.3a7.4 7.4 0 1 0 14.8 0a7.4 7.4 0 1 0 -14.8 0M632.2 61.3a7.4 7.4 0 1 0 14.8 0a7.4 7.4 0 1 0 -14.8 0M633.0 56.6a7.4 7.4 0 1 0 14.8 0a7.4 7.4 0 1 0 -14.8 0M635.0 57.5a7.4 7.4 0 1 0 14.8 0a7.4 7.4 0 1 0 -14.8 0M636.8 55.7a7.4 7.4 0 1 0 14.8 0a7.4 7.4 0 1 0 -14.8 0M639.9 57.7a7.4 7.4 0 1 0 14.8 0a7.4 7.4 0 1 0 -14.8 0M642.7 61.3a7.4 7.4 0 1 0 14.8 0a7.4 7.4 0 1 0 -14.8 0M645.6 59.1a7.4 7.4 0 1 0 14.8 0a7.4 7.4 0 1 0 -14.8 0M648.7 59.3a7.4 7.4 0 1 0 14.8 0a7.4 7.4 0 1 0 -14.8 0M647.6 60.2a7.4 7.4 0 1 0 14.8 0a7.4 7.4 0 1 0 -14.8 0M650.6 62.1a7.4 7.4 0 1 0 14.8 0a7.4 7.4 0 1 0 -14.8 0M649.6 60.7a7.4 7.4 0 1 0 14.8 0a7.4 7.4 0 1 0 -14.8 0M650.6 59.5a7.4 7.4 0 1 0 14.8 0a7.4 7.4 0 1 0 -14.8 0M652.3 65.6a7.4 7.4 0 1 0 14.8 0a7.4 7.4 0 1 0 -14.8 0M653.9 62.6a7.4 7.4 0 1 0 14.8 0a7.4 7.4 0 1 0 -14.8 0M655.1 63.1a7.4 7.4 0 1 0 14.8 0a7.4 7.4 0 1 0 -14.8 0M656.7 64.5a7.4 7.4 0 1 0 14.8 0a7.4 7.4 0 1 0 -14.8 0M656.9 62.1a7.4 7.4 0 1 0 14.8 0a7.4 7.4 0 1 0 -14.8 0M656.9 63.5a7.4 7.4 0 1 0 14.8 0a7.4 7.4 0 1 0 -14.8 0M659.3 61.1a7.4 7.4 0 1 0 14.8 0a7.4 7.4 0 1 0 -14.8 0M658.5 63.1a7.4 7.4 0 1 0 14.8 0a7.4 7.4 0 1 0 -14.8 0M660.6 60.8a7.4 7.4 0 1 0 14.8 0a7.4 7.4 0 1 0 -14.8 0M660.8 59.5a7.4 7.4 0 1 0 14.8 0a7.4 7.4 0 1 0 -14.8 0M662.0 59.3a7.4 7.4 0 1 0 14.8 0a7.4 7.4 0 1 0 -14.8 0M663.9 62.8a7.4 7.4 0 1 0 14.8 0a7.4 7.4 0 1 0 -14.8 0M667.4 55.7a7.4 7.4 0 1 0 14.8 0a7.4 7.4 0 1 0 -14.8 0M668.6 54.3a7.4 7.4 0 1 0 14.8 0a7.4 7.4 0 1 0 -14.8 0M671.0 52.3a7.4 7.4 0 1 0 14.8 0a7.4 7.4 0 1 0 -14.8 0M672.0 45.3a7.4 7.4 0 1 0 14.8 0a7.4 7.4 0 1 0 -14.8 0M674.6 47.1a7.4 7.4 0 1 0 14.8 0a7.4 7.4 0 1 0 -14.8 0M677.3 47.8a7.4 7.4 0 1 0 14.8 0a7.4 7.4 0 1 0 -14.8 0M678.7 51.1a7.4 7.4 0 1 0 14.8 0a7.4 7.4 0 1 0 -14.8 0M679.1 54.3a7.4 7.4 0 1 0 14.8 0a7.4 7.4 0 1 0 -14.8 0M681.1 60.5a7.4 7.4 0 1 0 14.8 0a7.4 7.4 0 1 0 -14.8 0M678.3 62.8a7.4 7.4 0 1 0 14.8 0a7.4 7.4 0 1 0 -14.8 0M676.7 64.1a7.4 7.4 0 1 0 14.8 0a7.4 7.4 0 1 0 -14.8 0M675.9 73.2a7.4 7.4 0 1 0 14.8 0a7.4 7.4 0 1 0 -14.8 0M675.8 76.7a7.4 7.4 0 1 0 14.8 0a7.4 7.4 0 1 0 -14.8 0M674.8 79.2a7.4 7.4 0 1 0 14.8 0a7.4 7.4 0 1 0 -14.8 0M672.8 81.9a7.4 7.4 0 1 0 14.8 0a7.4 7.4 0 1 0 -14.8 0M672.5 84.5a7.4 7.4 0 1 0 14.8 0a7.4 7.4 0 1 0 -14.8 0M670.1 87.5a7.4 7.4 0 1 0 14.8 0a7.4 7.4 0 1 0 -14.8 0" fill="none" stroke="#ff5020" stroke-width="1.7"/>
<path d="M179.2 179.7a7.4 7.4 0 1 0 14.8 0a7.4 7.4 0 1 0 -14.8 0M179.6 176.0a7.4 7.4 0 1 0 14.8 0a7.4 7.4 0 1 0 -14.8 0M182.3 170.1a7.4 7.4 0 1 0 14.8 0a7.4 7.4 0 1 0 -14.8 0M181.1 163.7a7.4 7.4 0 1 0 14.8 0a7.4 7.4 0 1 0 -14.8 0M183.2 160.1a7.4 7.4 0 1 0 14.8 0a7.4 7.4 0 1 0 -14.8 0M184.0 155.8a7.4 7.4 0 1 0 14.8 0a7.4 7.4 0 1 0 -14.8 0M183.5 152.4a7.4 7.4 0 1 0 14.8 0a7.4 7.4 0 1 0 -14.8 0M185.4 151.2a7.4 7.4 0 1 0 14.8 0a7.4 7.4 0 1 0 -14.8 0M184.7 147.6a7.4 7.4 0 1 0 14.8 0a7.4 7.4 0 1 0 -14.8 0M184.7 144.0a7.4 7.4 0 1 0 14.8 0a7.4 7.4 0 1 0 -14.8 0M185.4 140.4a7.4 7.4 0 1 0 14.8 0a7.4 7.4 0 1 0 -14.8 0M187.6 136.3a7.4 7.4 0 1 0 14.8 0a7.4 7.4 0 1 0 -14.8 0M188.2 130.4a7.4 7.4 0 1 0 14.8 0a7.4 7.4 0 1 0 -14.8 0M187.7 127.8a7.4 7.4 0 1 0 14.8 0a7.4 7.4 0 1 0 -14.8 0M189.7 120.6a7.4 7.4 0 1 0 14.8 0a7.4 7.4 0 1 0 -14.8 0M190.1 120.7a7.4 7.4 0 1 0 14.8 0a7.4 7.4 0 1 0 -14.8 0M190.1 116.9a7.4 7.4 0 1 0 14.8 0a7.4 7.4 0 1 0 -14.8 0M192.2 108.8a7.4 7.4 0 1 0 14.8 0a7.4 7.4 0 1 0 -14.8 0M192.5 102.5a7.4 7.4 0 1 0 14.8 0a7.4 7.4 0 1 0 -14.8 0M193.1 102.0a7.4 7.4 0 1 0 14.8 0a7.4 7.4 0 1 0 -14.8 0M195.7 99.2a7.4 7.4 0 1 0 14.8 0a7.4 7.4 0 1 0 -14.8 0M197.1 95.1a7.4 7.4 0 1 0 14.8 0a7.4 7.4 0 1 0 -14.8 0M199.3 95.1a7.4 7.4 0 1 0 14.8 0a7.4 7.4 0 1 0 -14.8 0M202.0 96.1a7.4 7.4 0 1 0 14.8 0a7.4 7.4 0 1 0 -14.8 0M204.1 99.3a7.4 7.4 0 1 0 14.8 0a7.4 7.4 0 1 0 -14.8 0M206.6 99.5a7.4 7.4 0 1 0 14.8 0a7.4 7.4 0 1 0 -14.8 0" fill="none" stroke="#6450dc" stroke-width="1.7"/>
<path d="M206.4 105.3a7.4 7.4 0 1 0 14.8 0a7.4 7.4 0 1 0 -14.8 0M208.1 105.4a7.4 7.4 0 1 0 14.8 0a7.4 7.4 0 1 0 -14.8 0M211.1 109.8a7.4 7.4 0 1 0 14.8 0a7.4 7.4 0 1 0 -14.8 0" fill="none" stroke="#00a000" stroke-width="1.7"/>
<path d="M183.2 456.6a7.4 7.4 0 1 0 14.8 0a7.4 7.4 0 1 0 -14.8 0M184.6 451.0a7.4 7.4 0 1 0 14.8 0a7.4 7.4 0 1 0 -14.8 0M184.4 448.1a7.4 7.4 0 1 0 14.8 0a7.4 7.4 0 1 0 -14.8 0M184.3 441.3a7.4 7.4 0 1 0 14.8 0a7.4 7.4 0 1 0 -14.8 0M185.3 440.9a7.4 7.4 0 1 0 14.8 0a7.4 7.4 0 1 0 -14.8 0M188.3 437.4a7.4 7.4 0 1 0 14.8 0a7.4 7.4 0 1 0 -14.8 0M187.3 431.3a7.4 7.4 0 1 0 14.8 0a7.4 7.4 0 1 0 -14.8 0M189.9 428.9a7.4 7.4 0 1 0 14.8 0a7.4 7.4 0 1 0 -14.8 0M188.4 427.1a7.4 7.4 0 1 0 14.8 0a7.4 7.4 0 1 0 -14.8 0M190.4 418.6a7.4 7.4 0 1 0 14.8 0a7.4 7.4 0 1 0 -14.8 0M192.8 419.6a7.4 7.4 0 1 0 14.8 0a7.4 7.4 0 1 0 -14.8 0M192.7 416.5a7.4 7.4 0 1 0 14.8 0a7.4 7.4 0 1 0 -14.8 0M195.0 409.1a7.4 7.4 0 1 0 14.8 0a7.4 7.4 0 1 0 -14.8 0M198.5 411.0a7.4 7.4 0 1 0 14.8 0a7.4 7.4 0 1 0 -14.8 0M201.2 416.2a7.4 7.4 0 1 0 14.8 0a7.4 7.4 0 1 0 -14.8 0M203.6 417.5a7.4 7.4 0 1 0 14.8 0a7.4 7.4 0 1 0 -14.8 0M204.4 421.5a7.4 7.4 0 1 0 14.8 0a7.4 7.4 0 1 0 -14.8 0M208.5 420.6a7.4 7.4 0 1 0 14.8 0a7.4 7.4 0 1 0 -14.8 0M209.4 422.4a7.4 7.4 0 1 0 14.8 0a7.4 7.4 0 1 0 -14.8 0M212.9 423.3a7.4 7.4 0 1 0 14.8 0a7.4 7.4 0 1 0 -14.8 0M214.2 429.7a7.4 7.4 0 1 0 14.8 0a7.4 7.4 0 1 0 -14.8 0M218.0 429.5a7.4 7.4 0 1 0 14.8 0a7.4 7.4 0 1 0 -14.8 0M220.4 431.7a7.4 7.4 0 1 0 14.8 0a7.4 7.4 0 1 0 -14.8 0M221.2 427.1a7.4 7.4 0 1 0 14.8 0a7.4 7.4 0 1 0 -14.8 0M222.1 430.8a7.4 7.4 0 1 0 14.8 0a7.4 7.4 0 1 0 -14.8 0M223.2 433.1a7.4 7.4 0 1 0 14.8 0a7.4 7.4 0 1 0 -14.8 0M225.2 432.4a7.4 7.4 0 1 0 14.8 0a7.4 7.4 0 1 0 -14.8 0M225.3 433.1a7.4 7.4 0 1 0 14.8 0a7.4 7.4 0 1 0 -14.8 0M664.6 383.9a7.4 7.4 0 1 0 14.8 0a7.4 7.4 0 1 0 -14.8 0M665.7 380.6a7.4 7.4 0 1 0 14.8 0a7.4 7.4 0 1 0 -14.8 0M667.6 380.0a7.4 7.4 0 1 0 14.8 0a7.4 7.4 0 1 0 -14.8 0" fill="none" stroke="#ff5020" stroke-width="1.7"/>
<path d="M237.8 427.9a7.4 7.4 0 1 0 14.8 0a7.4 7.4 0 1 0 -14.8 0M239.5 427.1a7.4 7.4 0 1 0 14.8 0a7.4 7.4 0 1 0 -14.8 0M241.0 426.7a7.4 7.4 0 1 0 14.8 0a7.4 7.4 0 1 0 -14.8 0M242.5 428.7a7.4 7.4 0 1 0 14.8 0a7.4 7.4 0 1 0 -14.8 0M243.8 428.2a7.4 7.4 0 1 0 14.8 0a7.4 7.4 0 1 0 -14.8 0M244.9 429.8a7.4 7.4 0 1 0 14.8 0a7.4 7.4 0 1 0 -14.8 0M246.8 431.0a7.4 7.4 0 1 0 14.8 0a7.4 7.4 0 1 0 -14.8 0M321.3 406.0a7.4 7.4 0 1 0 14.8 0a7.4 7.4 0 1 0 -14.8 0M321.6 399.9a7.4 7.4 0 1 0 14.8 0a7.4 7.4 0 1 0 -14.8 0M323.1 399.1a7.4 7.4 0 1 0 14.8 0a7.4 7.4 0 1 0 -14.8 0M326.4 402.0a7.4 7.4 0 1 0 14.8 0a7.4 7.4 0 1 0 -14.8 0M325.7 400.9a7.4 7.4 0 1 0 14.8 0a7.4 7.4 0 1 0 -14.8 0M365.0 388.1a7.4 7.4 0 1 0 14.8 0a7.4 7.4 0 1 0 -14.8 0M367.7 385.3a7.4 7.4 0 1 0 14.8 0a7.4 7.4 0 1 0 -14.8 0M369.0 386.7a7.4 7.4 0 1 0 14.8 0a7.4 7.4 0 1 0 -14.8 0M371.7 383.6a7.4 7.4 0 1 0 14.8 0a7.4 7.4 0 1 0 -14.8 0M373.6 383.1a7.4 7.4 0 1 0 14.8 0a7.4 7.4 0 1 0 -14.8 0M375.8 384.5a7.4 7.4 0 1 0 14.8 0a7.4 7.4 0 1 0 -14.8 0M379.6 384.0a7.4 7.4 0 1 0 14.8 0a7.4 7.4 0 1 0 -14.8 0M380.0 380.6a7.4 7.4 0 1 0 14.8 0a7.4 7.4 0 1 0 -14.8 0M381.2 384.0a7.4 7.4 0 1 0 14.8 0a7.4 7.4 0 1 0 -14.8 0M381.4 384.3a7.4 7.4 0 1 0 14.8 0a7.4 7.4 0 1 0 -14.8 0M381.8 380.7a7.4 7.4 0 1 0 14.8 0a7.4 7.4 0 1 0 -14.8 0M404.0 381.1a7.4 7.4 0 1 0 14.8 0a7.4 7.4 0 1 0 -14.8 0M405.3 378.3a7.4 7.4 0 1 0 14.8 0a7.4 7.4 0 1 0 -14.8 0M406.1 382.9a7.4 7.4 0 1 0 14.8 0a7.4 7.4 0 1 0 -14.8 0M407.7 384.1a7.4 7.4 0 1 0 14.8 0a7.4 7.4 0 1 0 -14.8 0M408.5 382.2a7.4 7.4 0 1 0 14.8 0a7.4 7.4 0 1 0 -14.8 0M409.1 379.9a7.4 7.4 0 1 0 14.8 0a7.4 7.4 0 1 0 -14.8 0M410.9 378.1a7.4 7.4 0 1 0 14.8 0a7.4 7.4 0 1 0 -14.8 0M412.6 381.1a7.4 7.4 0 1 0 14.8 0a7.4 7.4 0 1 0 -14.8 0M412.0 381.9a7.4 7.4 0 1 0 14.8 0a7.4 7.4 0 1 0 -14.8 0M412.9 383.5a7.4 7.4 0 1 0 14.8 0a7.4 7.4 0 1 0 -14.8 0M415.5 379.2a7.4 7.4 0 1 0 14.8 0a7.4 7.4 0 1 0 -14.8 0M414.7 381.9a7.4 7.4 0 1 0 14.8 0a7.4 7.4 0 1 0 -14.8 0M416.2 378.9a7.4 7.4 0 1 0 14.8 0a7.4 7.4 0 1 0 -14.8 0M417.1 378.6a7.4 7.4 0 1 0 14.8 0a7.4 7.4 0 1 0 -14.8 0M419.3 377.9a7.4 7.4 0 1 0 14.8 0a7.4 7.4 0 1 0 -14.8 0M418.5 382.8a7.4 7.4 0 1 0 14.8 0a7.4 7.4 0 1 0 -14.8 0M420.5 381.6a7.4 7.4 0 1 0 14.8 0a7.4 7.4 0 1 0 -14.8 0M421.3 378.4a7.4 7.4 0 1 0 14.8 0a7.4 7.4 0 1 0 -14.8 0M421.8 378.4a7.4 7.4 0 1 0 14.8 0a7.4 7.4 0 1 0 -14.8 0M424.1 383.8a7.4 7.4 0 1 0 14.8 0a7.4 7.4 0 1 0 -14.8 0M426.3 382.0a7.4 7.4 0 1 0 14.8 0a7.4 7.4 0 1 0 -14.8 0M425.3 382.2a7.4 7.4 0 1 0 14.8 0a7.4 7.4 0 1 0 -14.8 0M428.1 383.2a7.4 7.4 0 1 0 14.8 0a7.4 7.4 0 1 0 -14.8 0M428.0 379.7a7.4 7.4 0 1 0 14.8 0a7.4 7.4 0 1 0 -14.8 0M431.3 383.3a7.4 7.4 0 1 0 14.8 0a7.4 7.4 0 1 0 -14.8 0M432.0 383.5a7.4 7.4 0 1 0 14.8 0a7.4 7.4 0 1 0 -14.8 0M432.5 379.7a7.4 7.4 0 1 0 14.8 0a7.4 7.4 0 1 0 -14.8 0M434.3 380.8a7.4 7.4 0 1 0 14.8 0a7.4 7.4 0 1 0 -14.8 0M434.2 384.4a7.4 7.4 0 1 0 14.8 0a7.4 7.4 0 1 0 -14.8 0M436.3 381.5a7.4 7.4 0 1 0 14.8 0a7.4 7.4 0 1 0 -14.8 0M437.1 383.3a7.4 7.4 0 1 0 14.8 0a7.4 7.4 0 1 0 -14.8 0M438.9 380.8a7.4 7.4 0 1 0 14.8 0a7.4 7.4 0 1 0 -14.8 0M441.2 385.1a7.4 7.4 0 1 0 14.8 0a7.4 7.4 0 1 0 -14.8 0M443.1 386.5a7.4 7.4 0 1 0 14.8 0a7.4 7.4 0 1 0 -14.8 0M446.6 385.5a7.4 7.4 0 1 0 14.8 0a7.4 7.4 0 1 0 -14.8 0M446.6 383.8a7.4 7.4 0 1 0 14.8 0a7.4 7.4 0 1 0 -14.8 0M448.9 388.0a7.4 7.4 0 1 0 14.8 0a7.4 7.4 0 1 0 -14.8 0M450.8 389.8a7.4 7.4 0 1 0 14.8 0a7.4 7.4 0 1 0 -14.8 0M453.2 395.7a7.4 7.4 0 1 0 14.8 0a7.4 7.4 0 1 0 -14.8 0M453.8 396.9a7.4 7.4 0 1 0 14.8 0a7.4 7.4 0 1 0 -14.8 0M456.7 405.4a7.4 7.4 0 1 0 14.8 0a7.4 7.4 0 1 0 -14.8 0M456.4 408.6a7.4 7.4 0 1 0 14.8 0a7.4 7.4 0 1 0 -14.8 0M598.8 425.2a7.4 7.4 0 1 0 14.8 0a7.4 7.4 0 1 0 -14.8 0M599.6 424.7a7.4 7.4 0 1 0 14.8 0a7.4 7.4 0 1 0 -14.8 0M600.8 423.7a7.4 7.4 0 1 0 14.8 0a7.4 7.4 0 1 0 -14.8 0M603.9 419.9a7.4 7.4 0 1 0 14.8 0a7.4 7.4 0 1 0 -14.8 0M604.3 421.1a7.4 7.4 0 1 0 14.8 0a7.4 7.4 0 1 0 -14.8 0M608.3 421.8a7.4 7.4 0 1 0 14.8 0a7.4 7.4 0 1 0 -14.8 0M609.0 420.5a7.4 7.4 0 1 0 14.8 0a7.4 7.4 0 1 0 -14.8 0" fill="none" stroke="#6450dc" stroke-width="1.7"/>
<path d="M227.3 428.6a7.4 7.4 0 1 0 14.8 0a7.4 7.4 0 1 0 -14.8 0M226.7 430.5a7.4 7.4 0 1 0 14.8 0a7.4 7.4 0 1 0 -14.8 0M227.4 431.9a7.4 7.4 0 1 0 14.8 0a7.4 7.4 0 1 0 -14.8 0M229.4 430.3a7.4 7.4 0 1 0 14.8 0a7.4 7.4 0 1 0 -14.8 0M230.5 429.3a7.4 7.4 0 1 0 14.8 0a7.4 7.4 0 1 0 -14.8 0M232.0 427.9a7.4 7.4 0 1 0 14.8 0a7.4 7.4 0 1 0 -14.8 0M233.7 431.3a7.4 7.4 0 1 0 14.8 0a7.4 7.4 0 1 0 -14.8 0M234.2 430.9a7.4 7.4 0 1 0 14.8 0a7.4 7.4 0 1 0 -14.8 0M234.8 427.5a7.4 7.4 0 1 0 14.8 0a7.4 7.4 0 1 0 -14.8 0M248.1 427.0a7.4 7.4 0 1 0 14.8 0a7.4 7.4 0 1 0 -14.8 0M249.2 429.7a7.4 7.4 0 1 0 14.8 0a7.4 7.4 0 1 0 -14.8 0M250.9 426.9a7.4 7.4 0 1 0 14.8 0a7.4 7.4 0 1 0 -14.8 0M252.5 428.1a7.4 7.4 0 1 0 14.8 0a7.4 7.4 0 1 0 -14.8 0M254.4 429.2a7.4 7.4 0 1 0 14.8 0a7.4 7.4 0 1 0 -14.8 0M255.9 433.8a7.4 7.4 0 1 0 14.8 0a7.4 7.4 0 1 0 -14.8 0M258.1 433.6a7.4 7.4 0 1 0 14.8 0a7.4 7.4 0 1 0 -14.8 0M260.3 432.5a7.4 7.4 0 1 0 14.8 0a7.4 7.4 0 1 0 -14.8 0M264.5 435.6a7.4 7.4 0 1 0 14.8 0a7.4 7.4 0 1 0 -14.8 0M265.5 435.6a7.4 7.4 0 1 0 14.8 0a7.4 7.4 0 1 0 -14.8 0M268.3 433.7a7.4 7.4 0 1 0 14.8 0a7.4 7.4 0 1 0 -14.8 0M269.2 435.7a7.4 7.4 0 1 0 14.8 0a7.4 7.4 0 1 0 -14.8 0M270.4 436.7a7.4 7.4 0 1 0 14.8 0a7.4 7.4 0 1 0 -14.8 0M271.0 437.8a7.4 7.4 0 1 0 14.8 0a7.4 7.4 0 1 0 -14.8 0M273.5 436.8a7.4 7.4 0 1 0 14.8 0a7.4 7.4 0 1 0 -14.8 0M275.0 435.2a7.4 7.4 0 1 0 14.8 0a7.4 7.4 0 1 0 -14.8 0M276.3 436.9a7.4 7.4 0 1 0 14.8 0a7.4 7.4 0 1 0 -14.8 0M279.1 435.2a7.4 7.4 0 1 0 14.8 0a7.4 7.4 0 1 0 -14.8 0M278.4 434.6a7.4 7.4 0 1 0 14.8 0a7.4 7.4 0 1 0 -14.8 0M282.0 440.2a7.4 7.4 0 1 0 14.8 0a7.4 7.4 0 1 0 -14.8 0M281.9 438.0a7.4 7.4 0 1 0 14.8 0a7.4 7.4 0 1 0 -14.8 0M284.4 435.2a7.4 7.4 0 1 0 14.8 0a7.4 7.4 0 1 0 -14.8 0M286.1 436.1a7.4 7.4 0 1 0 14.8 0a7.4 7.4 0 1 0 -14.8 0M287.3 436.8a7.4 7.4 0 1 0 14.8 0a7.4 7.4 0 1 0 -14.8 0M288.9 439.1a7.4 7.4 0 1 0 14.8 0a7.4 7.4 0 1 0 -14.8 0M289.5 435.1a7.4 7.4 0 1 0 14.8 0a7.4 7.4 0 1 0 -14.8 0M291.5 433.9a7.4 7.4 0 1 0 14.8 0a7.4 7.4 0 1 0 -14.8 0M291.8 438.0a7.4 7.4 0 1 0 14.8 0a7.4 7.4 0 1 0 -14.8 0M294.6 434.6a7.4 7.4 0 1 0 14.8 0a7.4 7.4 0 1 0 -14.8 0M297.6 433.8a7.4 7.4 0 1 0 14.8 0a7.4 7.4 0 1 0 -14.8 0M298.8 427.2a7.4 7.4 0 1 0 14.8 0a7.4 7.4 0 1 0 -14.8 0M301.5 426.0a7.4 7.4 0 1 0 14.8 0a7.4 7.4 0 1 0 -14.8 0M304.1 423.5a7.4 7.4 0 1 0 14.8 0a7.4 7.4 0 1 0 -14.8 0M307.1 420.5a7.4 7.4 0 1 0 14.8 0a7.4 7.4 0 1 0 -14.8 0M308.9 421.3a7.4 7.4 0 1 0 14.8 0a7.4 7.4 0 1 0 -14.8 0M310.9 416.6a7.4 7.4 0 1 0 14.8 0a7.4 7.4 0 1 0 -14.8 0M314.5 412.4a7.4 7.4 0 1 0 14.8 0a7.4 7.4 0 1 0 -14.8 0M314.8 406.9a7.4 7.4 0 1 0 14.8 0a7.4 7.4 0 1 0 -14.8 0M318.5 408.4a7.4 7.4 0 1 0 14.8 0a7.4 7.4 0 1 0 -14.8 0M329.0 398.8a7.4 7.4 0 1 0 14.8 0a7.4 7.4 0 1 0 -14.8 0M329.2 399.1a7.4 7.4 0 1 0 14.8 0a7.4 7.4 0 1 0 -14.8 0M331.5 403.6a7.4 7.4 0 1 0 14.8 0a7.4 7.4 0 1 0 -14.8 0M332.1 399.4a7.4 7.4 0 1 0 14.8 0a7.4 7.4 0 1 0 -14.8 0M333.1 401.8a7.4 7.4 0 1 0 14.8 0a7.4 7.4 0 1 0 -14.8 0M333.7 403.2a7.4 7.4 0 1 0 14.8 0a7.4 7.4 0 1 0 -14.8 0M334.5 402.0a7.4 7.4 0 1 0 14.8 0a7.4 7.4 0 1 0 -14.8 0M337.5 399.9a7.4 7.4 0 1 0 14.8 0a7.4 7.4 0 1 0 -14.8 0M337.5 404.0a7.4 7.4 0 1 0 14.8 0a7.4 7.4 0 1 0 -14.8 0M338.7 399.5a7.4 7.4 0 1 0 14.8 0a7.4 7.4 0 1 0 -14.8 0M339.5 404.0a7.4 7.4 0 1 0 14.8 0a7.4 7.4 0 1 0 -14.8 0M341.1 398.9a7.4 7.4 0 1 0 14.8 0a7.4 7.4 0 1 0 -14.8 0M341.8 401.8a7.4 7.4 0 1 0 14.8 0a7.4 7.4 0 1 0 -14.8 0M342.9 401.4a7.4 7.4 0 1 0 14.8 0a7.4 7.4 0 1 0 -14.8 0M343.7 401.9a7.4 7.4 0 1 0 14.8 0a7.4 7.4 0 1 0 -14.8 0M344.1 400.0a7.4 7.4 0 1 0 14.8 0a7.4 7.4 0 1 0 -14.8 0M345.7 403.0a7.4 7.4 0 1 0 14.8 0a7.4 7.4 0 1 0 -14.8 0M346.5 400.1a7.4 7.4 0 1 0 14.8 0a7.4 7.4 0 1 0 -14.8 0M347.0 399.7a7.4 7.4 0 1 0 14.8 0a7.4 7.4 0 1 0 -14.8 0M348.6 401.9a7.4 7.4 0 1 0 14.8 0a7.4 7.4 0 1 0 -14.8 0M352.8 397.7a7.4 7.4 0 1 0 14.8 0a7.4 7.4 0 1 0 -14.8 0M354.0 394.4a7.4 7.4 0 1 0 14.8 0a7.4 7.4 0 1 0 -14.8 0M357.3 399.2a7.4 7.4 0 1 0 14.8 0a7.4 7.4 0 1 0 -14.8 0M358.4 392.0a7.4 7.4 0 1 0 14.8 0a7.4 7.4 0 1 0 -14.8 0M360.4 392.7a7.4 7.4 0 1 0 14.8 0a7.4 7.4 0 1 0 -14.8 0M362.3 388.2a7.4 7.4 0 1 0 14.8 0a7.4 7.4 0 1 0 -14.8 0M383.9 382.8a7.4 7.4 0 1 0 14.8 0a7.4 7.4 0 1 0 -14.8 0M384.1 382.8a7.4 7.4 0 1 0 14.8 0a7.4 7.4 0 1 0 -14.8 0M384.9 378.9a7.4 7.4 0 1 0 14.8 0a7.4 7.4 0 1 0 -14.8 0M385.5 382.2a7.4 7.4 0 1 0 14.8 0a7.4 7.4 0 1 0 -14.8 0M386.8 379.5a7.4 7.4 0 1 0 14.8 0a7.4 7.4 0 1 0 -14.8 0M388.0 383.4a7.4 7.4 0 1 0 14.8 0a7.4 7.4 0 1 0 -14.8 0M390.1 380.3a7.4 7.4 0 1 0 14.8 0a7.4 7.4 0 1 0 -14.8 0M389.8 382.0a7.4 7.4 0 1 0 14.8 0a7.4 7.4 0 1 0 -14.8 0M391.2 380.8a7.4 7.4 0 1 0 14.8 0a7.4 7.4 0 1 0 -14.8 0M393.3 385.2a7.4 7.4 0 1 0 14.8 0a7.4 7.4 0 1 0 -14.8 0M393.5 383.9a7.4 7.4 0 1 0 14.8 0a7.4 7.4 0 1 0 -14.8 0M394.2 384.2a7.4 7.4 0 1 0 14.8 0a7.4 7.4 0 1 0 -14.8 0M396.7 379.2a7.4 7.4 0 1 0 14.8 0a7.4 7.4 0 1 0 -14.8 0M397.3 379.3a7.4 7.4 0 1 0 14.8 0a7.4 7.4 0 1 0 -14.8 0M397.5 380.0a7.4 7.4 0 1 0 14.8 0a7.4 7.4 0 1 0 -14.8 0M399.8 383.9a7.4 7.4 0 1 0 14.8 0a7.4 7.4 0 1 0 -14.8 0M401.2 379.3a7.4 7.4 0 1 0 14.8 0a7.4 7.4 0 1 0 -14.8 0M402.5 380.0a7.4 7.4 0 1 0 14.8 0a7.4 7.4 0 1 0 -14.8 0M458.6 411.0a7.4 7.4 0 1 0 14.8 0a7.4 7.4 0 1 0 -14.8 0M459.1 414.6a7.4 7.4 0 1 0 14.8 0a7.4 7.4 0 1 0 -14.8 0M460.6 418.3a7.4 7.4 0 1 0 14.8 0a7.4 7.4 0 1 0 -14.8 0M462.9 419.7a7.4 7.4 0 1 0 14.8 0a7.4 7.4 0 1 0 -14.8 0M464.9 421.1a7.4 7.4 0 1 0 14.8 0a7.4 7.4 0 1 0 -14.8 0M466.7 423.6a7.4 7.4 0 1 0 14.8 0a7.4 7.4 0 1 0 -14.8 0M469.4 426.8a7.4 7.4 0 1 0 14.8 0a7.4 7.4 0 1 0 -14.8 0M471.5 430.1a7.4 7.4 0 1 0 14.8 0a7.4 7.4 0 1 0 -14.8 0M472.9 431.8a7.4 7.4 0 1 0 14.8 0a7.4 7.4 0 1 0 -14.8 0M475.4 438.8a7.4 7.4 0 1 0 14.8 0a7.4 7.4 0 1 0 -14.8 0M478.0 439.2a7.4 7.4 0 1 0 14.8 0a7.4 7.4 0 1 0 -14.8 0M479.1 437.4a7.4 7.4 0 1 0 14.8 0a7.4 7.4 0 1 0 -14.8 0M479.3 439.7a7.4 7.4 0 1 0 14.8 0a7.4 7.4 0 1 0 -14.8 0M479.6 441.8a7.4 7.4 0 1 0 14.8 0a7.4 7.4 0 1 0 -14.8 0M480.9 438.9a7.4 7.4 0 1 0 14.8 0a7.4 7.4 0 1 0 -14.8 0M483.5 436.3a7.4 7.4 0 1 0 14.8 0a7.4 7.4 0 1 0 -14.8 0M484.3 436.2a7.4 7.4 0 1 0 14.8 0a7.4 7.4 0 1 0 -14.8 0M484.7 441.8a7.4 7.4 0 1 0 14.8 0a7.4 7.4 0 1 0 -14.8 0M485.4 438.2a7.4 7.4 0 1 0 14.8 0a7.4 7.4 0 1 0 -14.8 0M487.1 441.1a7.4 7.4 0 1 0 14.8 0a7.4 7.4 0 1 0 -14.8 0M487.0 436.1a7.4 7.4 0 1 0 14.8 0a7.4 7.4 0 1 0 -14.8 0M487.8 437.8a7.4 7.4 0 1 0 14.8 0a7.4 7.4 0 1 0 -14.8 0M491.2 442.1a7.4 7.4 0 1 0 14.8 0a7.4 7.4 0 1 0 -14.8 0M490.5 440.7a7.4 7.4 0 1 0 14.8 0a7.4 7.4 0 1 0 -14.8 0M492.8 437.4a7.4 7.4 0 1 0 14.8 0a7.4 7.4 0 1 0 -14.8 0M494.0 437.8a7.4 7.4 0 1 0 14.8 0a7.4 7.4 0 1 0 -14.8 0M495.5 437.5a7.4 7.4 0 1 0 14.8 0a7.4 7.4 0 1 0 -14.8 0M497.1 439.1a7.4 7.4 0 1 0 14.8 0a7.4 7.4 0 1 0 -14.8 0M496.8 440.6a7.4 7.4 0 1 0 14.8 0a7.4 7.4 0 1 0 -14.8 0M498.7 439.6a7.4 7.4 0 1 0 14.8 0a7.4 7.4 0 1 0 -14.8 0M500.7 442.4a7.4 7.4 0 1 0 14.8 0a7.4 7.4 0 1 0 -14.8 0M500.8 438.0a7.4 7.4 0 1 0 14.8 0a7.4 7.4 0 1 0 -14.8 0M502.5 439.0a7.4 7.4 0 1 0 14.8 0a7.4 7.4 0 1 0 -14.8 0M503.1 443.3a7.4 7.4 0 1 0 14.8 0a7.4 7.4 0 1 0 -14.8 0M505.0 439.3a7.4 7.4 0 1 0 14.8 0a7.4 7.4 0 1 0 -14.8 0M505.9 443.4a7.4 7.4 0 1 0 14.8 0a7.4 7.4 0 1 0 -14.8 0M507.1 439.5a7.4 7.4 0 1 0 14.8 0a7.4 7.4 0 1 0 -14.8 0M509.3 440.0a7.4 7.4 0 1 0 14.8 0a7.4 7.4 0 1 0 -14.8 0M510.4 441.2a7.4 7.4 0 1 0 14.8 0a7.4 7.4 0 1 0 -14.8 0M511.2 438.7a7.4 7.4 0 1 0 14.8 0a7.4 7.4 0 1 0 -14.8 0M512.9 443.3a7.4 7.4 0 1 0 14.8 0a7.4 7.4 0 1 0 -14.8 0M512.8 443.6a7.4 7.4 0 1 0 14.8 0a7.4 7.4 0 1 0 -14.8 0M514.5 440.1a7.4 7.4 0 1 0 14.8 0a7.4 7.4 0 1 0 -14.8 0M516.3 443.9a7.4 7.4 0 1 0 14.8 0a7.4 7.4 0 1 0 -14.8 0M517.2 441.0a7.4 7.4 0 1 0 14.8 0a7.4 7.4 0 1 0 -14.8 0M519.3 439.7a7.4 7.4 0 1 0 14.8 0a7.4 7.4 0 1 0 -14.8 0M518.8 439.2a7.4 7.4 0 1 0 14.8 0a7.4 7.4 0 1 0 -14.8 0M521.4 438.0a7.4 7.4 0 1 0 14.8 0a7.4 7.4 0 1 0 -14.8 0M522.5 442.4a7.4 7.4 0 1 0 14.8 0a7.4 7.4 0 1 0 -14.8 0M522.3 441.6a7.4 7.4 0 1 0 14.8 0a7.4 7.4 0 1 0 -14.8 0M524.2 444.0a7.4 7.4 0 1 0 14.8 0a7.4 7.4 0 1 0 -14.8 0M524.4 438.4a7.4 7.4 0 1 0 14.8 0a7.4 7.4 0 1 0 -14.8 0M526.1 439.1a7.4 7.4 0 1 0 14.8 0a7.4 7.4 0 1 0 -14.8 0M527.3 442.0a7.4 7.4 0 1 0 14.8 0a7.4 7.4 0 1 0 -14.8 0M528.0 443.5a7.4 7.4 0 1 0 14.8 0a7.4 7.4 0 1 0 -14.8 0M528.6 440.9a7.4 7.4 0 1 0 14.8 0a7.4 7.4 0 1 0 -14.8 0M531.6 443.0a7.4 7.4 0 1 0 14.8 0a7.4 7.4 0 1 0 -14.8 0M532.1 443.4a7.4 7.4 0 1 0 14.8 0a7.4 7.4 0 1 0 -14.8 0M531.8 443.6a7.4 7.4 0 1 0 14.8 0a7.4 7.4 0 1 0 -14.8 0M534.1 442.0a7.4 7.4 0 1 0 14.8 0a7.4 7.4 0 1 0 -14.8 0M535.6 442.1a7.4 7.4 0 1 0 14.8 0a7.4 7.4 0 1 0 -14.8 0M535.1 443.0a7.4 7.4 0 1 0 14.8 0a7.4 7.4 0 1 0 -14.8 0M536.8 438.8a7.4 7.4 0 1 0 14.8 0a7.4 7.4 0 1 0 -14.8 0M536.5 443.2a7.4 7.4 0 1 0 14.8 0a7.4 7.4 0 1 0 -14.8 0M538.2 443.5a7.4 7.4 0 1 0 14.8 0a7.4 7.4 0 1 0 -14.8 0M539.4 443.9a7.4 7.4 0 1 0 14.8 0a7.4 7.4 0 1 0 -14.8 0M541.5 439.8a7.4 7.4 0 1 0 14.8 0a7.4 7.4 0 1 0 -14.8 0M542.0 442.2a7.4 7.4 0 1 0 14.8 0a7.4 7.4 0 1 0 -14.8 0M541.4 443.3a7.4 7.4 0 1 0 14.8 0a7.4 7.4 0 1 0 -14.8 0M543.3 440.3a7.4 7.4 0 1 0 14.8 0a7.4 7.4 0 1 0 -14.8 0M543.5 441.8a7.4 7.4 0 1 0 14.8 0a7.4 7.4 0 1 0 -14.8 0M544.8 441.5a7.4 7.4 0 1 0 14.8 0a7.4 7.4 0 1 0 -14.8 0M545.9 438.6a7.4 7.4 0 1 0 14.8 0a7.4 7.4 0 1 0 -14.8 0M548.2 440.8a7.4 7.4 0 1 0 14.8 0a7.4 7.4 0 1 0 -14.8 0M548.5 442.1a7.4 7.4 0 1 0 14.8 0a7.4 7.4 0 1 0 -14.8 0M549.6 439.7a7.4 7.4 0 1 0 14.8 0a7.4 7.4 0 1 0 -14.8 0M550.1 440.8a7.4 7.4 0 1 0 14.8 0a7.4 7.4 0 1 0 -14.8 0M550.7 438.8a7.4 7.4 0 1 0 14.8 0a7.4 7.4 0 1 0 -14.8 0M552.8 438.6a7.4 7.4 0 1 0 14.8 0a7.4 7.4 0 1 0 -14.8 0M553.6 438.7a7.4 7.4 0 1 0 14.8 0a7.4 7.4 0 1 0 -14.8 0M555.2 443.0a7.4 7.4 0 1 0 14.8 0a7.4 7.4 0 1 0 -14.8 0M555.6 438.8a7.4 7.4 0 1 0 14.8 0a7.4 7.4 0 1 0 -14.8 0M557.9 441.0a7.4 7.4 0 1 0 14.8 0a7.4 7.4 0 1 0 -14.8 0M559.4 439.0a7.4 7.4 0 1 0 14.8 0a7.4 7.4 0 1 0 -14.8 0M560.6 442.4a7.4 7.4 0 1 0 14.8 0a7.4 7.4 0 1 0 -14.8 0M561.0 438.0a7.4 7.4 0 1 0 14.8 0a7.4 7.4 0 1 0 -14.8 0M563.5 439.5a7.4 7.4 0 1 0 14.8 0a7.4 7.4 0 1 0 -14.8 0M565.2 437.9a7.4 7.4 0 1 0 14.8 0a7.4 7.4 0 1 0 -14.8 0M565.9 439.9a7.4 7.4 0 1 0 14.8 0a7.4 7.4 0 1 0 -14.8 0M566.4 439.2a7.4 7.4 0 1 0 14.8 0a7.4 7.4 0 1 0 -14.8 0M568.3 437.2a7.4 7.4 0 1 0 14.8 0a7.4 7.4 0 1 0 -14.8 0M568.8 443.2a7.4 7.4 0 1 0 14.8 0a7.4 7.4 0 1 0 -14.8 0M570.9 443.1a7.4 7.4 0 1 0 14.8 0a7.4 7.4 0 1 0 -14.8 0M572.9 435.7a7.4 7.4 0 1 0 14.8 0a7.4 7.4 0 1 0 -14.8 0M574.3 438.0a7.4 7.4 0 1 0 14.8 0a7.4 7.4 0 1 0 -14.8 0M577.1 433.2a7.4 7.4 0 1 0 14.8 0a7.4 7.4 0 1 0 -14.8 0M580.8 434.3a7.4 7.4 0 1 0 14.8 0a7.4 7.4 0 1 0 -14.8 0M581.7 427.1a7.4 7.4 0 1 0 14.8 0a7.4 7.4 0 1 0 -14.8 0M586.2 431.5a7.4 7.4 0 1 0 14.8 0a7.4 7.4 0 1 0 -14.8 0M588.5 429.5a7.4 7.4 0 1 0 14.8 0a7.4 7.4 0 1 0 -14.8 0M588.9 427.5a7.4 7.4 0 1 0 14.8 0a7.4 7.4 0 1 0 -14.8 0M591.7 424.7a7.4 7.4 0 1 0 14.8 0a7.4 7.4 0 1 0 -14.8 0M593.0 422.8a7.4 7.4 0 1 0 14.8 0a7.4 7.4 0 1 0 -14.8 0M595.8 422.5a7.4 7.4 0 1 0 14.8 0a7.4 7.4 0 1 0 -14.8 0M597.3 422.5a7.4 7.4 0 1 0 14.8 0a7.4 7.4 0 1 0 -14.8 0M611.4 417.3a7.4 7.4 0 1 0 14.8 0a7.4 7.4 0 1 0 -14.8 0M614.6 418.8a7.4 7.4 0 1 0 14.8 0a7.4 7.4 0 1 0 -14.8 0M618.0 417.3a7.4 7.4 0 1 0 14.8 0a7.4 7.4 0 1 0 -14.8 0M618.9 414.9a7.4 7.4 0 1 0 14.8 0a7.4 7.4 0 1 0 -14.8 0M623.0 408.3a7.4 7.4 0 1 0 14.8 0a7.4 7.4 0 1 0 -14.8 0M624.8 410.6a7.4 7.4 0 1 0 14.8 0a7.4 7.4 0 1 0 -14.8 0M626.6 403.8a7.4 7.4 0 1 0 14.8 0a7.4 7.4 0 1 0 -14.8 0M631.0 402.7a7.4 7.4 0 1 0 14.8 0a7.4 7.4 0 1 0 -14.8 0M631.8 400.6a7.4 7.4 0 1 0 14.8 0a7.4 7.4 0 1 0 -14.8 0M635.0 401.5a7.4 7.4 0 1 0 14.8 0a7.4 7.4 0 1 0 -14.8 0M636.5 395.3a7.4 7.4 0 1 0 14.8 0a7.4 7.4 0 1 0 -14.8 0M640.2 393.9a7.4 7.4 0 1 0 14.8 0a7.4 7.4 0 1 0 -14.8 0M641.3 392.6a7.4 7.4 0 1 0 14.8 0a7.4 7.4 0 1 0 -14.8 0M642.6 393.6a7.4 7.4 0 1 0 14.8 0a7.4 7.4 0 1 0 -14.8 0M644.8 392.7a7.4 7.4 0 1 0 14.8 0a7.4 7.4 0 1 0 -14.8 0M647.1 394.2a7.4 7.4 0 1 0 14.8 0a7.4 7.4 0 1 0 -14.8 0M648.1 394.8a7.4 7.4 0 1 0 14.8 0a7.4 7.4 0 1 0 -14.8 0M649.8 396.2a7.4 7.4 0 1 0 14.8 0a7.4 7.4 0 1 0 -14.8 0M651.1 390.5a7.4 7.4 0 1 0 14.8 0a7.4 7.4 0 1 0 -14.8 0M651.9 391.9a7.4 7.4 0 1 0 14.8 0a7.4 7.4 0 1 0 -14.8 0M652.4 395.7a7.4 7.4 0 1 0 14.8 0a7.4 7.4 0 1 0 -14.8 0M655.1 390.3a7.4 7.4 0 1 0 14.8 0a7.4 7.4 0 1 0 -14.8 0M655.9 395.7a7.4 7.4 0 1 0 14.8 0a7.4 7.4 0 1 0 -14.8 0M657.9 393.3a7.4 7.4 0 1 0 14.8 0a7.4 7.4 0 1 0 -14.8 0M658.9 388.3a7.4 7.4 0 1 0 14.8 0a7.4 7.4 0 1 0 -14.8 0M660.8 390.5a7.4 7.4 0 1 0 14.8 0a7.4 7.4 0 1 0 -14.8 0" fill="none" stroke="#00a000" stroke-width="1.7"/>
<path d="M724.2 202.8a7.4 7.4 0 1 0 14.8 0a7.4 7.4 0 1 0 -14.8 0M726.4 201.1a7.4 7.4 0 1 0 14.8 0a7.4 7.4 0 1 0 -14.8 0M725.9 196.3a7.4 7.4 0 1 0 14.8 0a7.4 7.4 0 1 0 -14.8 0M727.0 188.9a7.4 7.4 0 1 0 14.8 0a7.4 7.4 0 1 0 -14.8 0M728.8 190.5a7.4 7.4 0 1 0 14.8 0a7.4 7.4 0 1 0 -14.8 0M727.4 185.9a7.4 7.4 0 1 0 14.8 0a7.4 7.4 0 1 0 -14.8 0M729.9 177.6a7.4 7.4 0 1 0 14.8 0a7.4 7.4 0 1 0 -14.8 0M729.6 177.2a7.4 7.4 0 1 0 14.8 0a7.4 7.4 0 1 0 -14.8 0M729.2 168.8a7.4 7.4 0 1 0 14.8 0a7.4 7.4 0 1 0 -14.8 0M731.6 167.7a7.4 7.4 0 1 0 14.8 0a7.4 7.4 0 1 0 -14.8 0M732.0 164.9a7.4 7.4 0 1 0 14.8 0a7.4 7.4 0 1 0 -14.8 0M731.8 158.2a7.4 7.4 0 1 0 14.8 0a7.4 7.4 0 1 0 -14.8 0M732.5 157.8a7.4 7.4 0 1 0 14.8 0a7.4 7.4 0 1 0 -14.8 0M735.2 153.6a7.4 7.4 0 1 0 14.8 0a7.4 7.4 0 1 0 -14.8 0M735.4 148.5a7.4 7.4 0 1 0 14.8 0a7.4 7.4 0 1 0 -14.8 0M736.7 140.5a7.4 7.4 0 1 0 14.8 0a7.4 7.4 0 1 0 -14.8 0M739.9 139.1a7.4 7.4 0 1 0 14.8 0a7.4 7.4 0 1 0 -14.8 0M740.4 134.6a7.4 7.4 0 1 0 14.8 0a7.4 7.4 0 1 0 -14.8 0M742.0 128.3a7.4 7.4 0 1 0 14.8 0a7.4 7.4 0 1 0 -14.8 0M744.7 125.1a7.4 7.4 0 1 0 14.8 0a7.4 7.4 0 1 0 -14.8 0M746.4 121.9a7.4 7.4 0 1 0 14.8 0a7.4 7.4 0 1 0 -14.8 0M747.6 118.7a7.4 7.4 0 1 0 14.8 0a7.4 7.4 0 1 0 -14.8 0M749.8 113.7a7.4 7.4 0 1 0 14.8 0a7.4 7.4 0 1 0 -14.8 0M751.8 110.9a7.4 7.4 0 1 0 14.8 0a7.4 7.4 0 1 0 -14.8 0M751.7 105.5a7.4 7.4 0 1 0 14.8 0a7.4 7.4 0 1 0 -14.8 0M754.0 107.9a7.4 7.4 0 1 0 14.8 0a7.4 7.4 0 1 0 -14.8 0M756.4 103.5a7.4 7.4 0 1 0 14.8 0a7.4 7.4 0 1 0 -14.8 0M759.9 105.3a7.4 7.4 0 1 0 14.8 0a7.4 7.4 0 1 0 -14.8 0M763.8 104.1a7.4 7.4 0 1 0 14.8 0a7.4 7.4 0 1 0 -14.8 0M764.1 107.1a7.4 7.4 0 1 0 14.8 0a7.4 7.4 0 1 0 -14.8 0M768.8 108.6a7.4 7.4 0 1 0 14.8 0a7.4 7.4 0 1 0 -14.8 0M770.1 107.0a7.4 7.4 0 1 0 14.8 0a7.4 7.4 0 1 0 -14.8 0M772.5 108.4a7.4 7.4 0 1 0 14.8 0a7.4 7.4 0 1 0 -14.8 0M773.6 110.8a7.4 7.4 0 1 0 14.8 0a7.4 7.4 0 1 0 -14.8 0M775.7 116.7a7.4 7.4 0 1 0 14.8 0a7.4 7.4 0 1 0 -14.8 0M775.9 122.0a7.4 7.4 0 1 0 14.8 0a7.4 7.4 0 1 0 -14.8 0M778.2 125.6a7.4 7.4 0 1 0 14.8 0a7.4 7.4 0 1 0 -14.8 0M778.5 131.6a7.4 7.4 0 1 0 14.8 0a7.4 7.4 0 1 0 -14.8 0M780.0 133.5a7.4 7.4 0 1 0 14.8 0a7.4 7.4 0 1 0 -14.8 0M780.0 139.6a7.4 7.4 0 1 0 14.8 0a7.4 7.4 0 1 0 -14.8 0M778.9 145.0a7.4 7.4 0 1 0 14.8 0a7.4 7.4 0 1 0 -14.8 0M779.9 145.6a7.4 7.4 0 1 0 14.8 0a7.4 7.4 0 1 0 -14.8 0M780.3 151.0a7.4 7.4 0 1 0 14.8 0a7.4 7.4 0 1 0 -14.8 0M779.6 155.8a7.4 7.4 0 1 0 14.8 0a7.4 7.4 0 1 0 -14.8 0M778.7 157.7a7.4 7.4 0 1 0 14.8 0a7.4 7.4 0 1 0 -14.8 0M779.8 161.7a7.4 7.4 0 1 0 14.8 0a7.4 7.4 0 1 0 -14.8 0M781.0 166.8a7.4 7.4 0 1 0 14.8 0a7.4 7.4 0 1 0 -14.8 0M780.2 171.7a7.4 7.4 0 1 0 14.8 0a7.4 7.4 0 1 0 -14.8 0M780.6 175.0a7.4 7.4 0 1 0 14.8 0a7.4 7.4 0 1 0 -14.8 0" fill="none" stroke="#00a000" stroke-width="1.7"/>
<path d="M701.5 545.1a7.4 7.4 0 1 0 14.8 0a7.4 7.4 0 1 0 -14.8 0M702.2 543.1a7.4 7.4 0 1 0 14.8 0a7.4 7.4 0 1 0 -14.8 0M703.5 538.4a7.4 7.4 0 1 0 14.8 0a7.4 7.4 0 1 0 -14.8 0M703.2 534.8a7.4 7.4 0 1 0 14.8 0a7.4 7.4 0 1 0 -14.8 0M705.7 530.3a7.4 7.4 0 1 0 14.8 0a7.4 7.4 0 1 0 -14.8 0M704.2 524.4a7.4 7.4 0 1 0 14.8 0a7.4 7.4 0 1 0 -14.8 0M705.7 518.9a7.4 7.4 0 1 0 14.8 0a7.4 7.4 0 1 0 -14.8 0M706.7 518.4a7.4 7.4 0 1 0 14.8 0a7.4 7.4 0 1 0 -14.8 0M706.5 512.7a7.4 7.4 0 1 0 14.8 0a7.4 7.4 0 1 0 -14.8 0M707.3 510.2a7.4 7.4 0 1 0 14.8 0a7.4 7.4 0 1 0 -14.8 0M709.6 506.9a7.4 7.4 0 1 0 14.8 0a7.4 7.4 0 1 0 -14.8 0M710.6 498.8a7.4 7.4 0 1 0 14.8 0a7.4 7.4 0 1 0 -14.8 0M710.7 497.2a7.4 7.4 0 1 0 14.8 0a7.4 7.4 0 1 0 -14.8 0M712.8 493.9a7.4 7.4 0 1 0 14.8 0a7.4 7.4 0 1 0 -14.8 0M714.3 491.9a7.4 7.4 0 1 0 14.8 0a7.4 7.4 0 1 0 -14.8 0M716.1 489.1a7.4 7.4 0 1 0 14.8 0a7.4 7.4 0 1 0 -14.8 0M717.3 481.7a7.4 7.4 0 1 0 14.8 0a7.4 7.4 0 1 0 -14.8 0M719.7 481.4a7.4 7.4 0 1 0 14.8 0a7.4 7.4 0 1 0 -14.8 0M720.8 476.0a7.4 7.4 0 1 0 14.8 0a7.4 7.4 0 1 0 -14.8 0M721.2 473.8a7.4 7.4 0 1 0 14.8 0a7.4 7.4 0 1 0 -14.8 0M722.6 469.2a7.4 7.4 0 1 0 14.8 0a7.4 7.4 0 1 0 -14.8 0M724.6 463.0a7.4 7.4 0 1 0 14.8 0a7.4 7.4 0 1 0 -14.8 0M726.8 460.3a7.4 7.4 0 1 0 14.8 0a7.4 7.4 0 1 0 -14.8 0M727.9 454.6a7.4 7.4 0 1 0 14.8 0a7.4 7.4 0 1 0 -14.8 0M728.4 451.9a7.4 7.4 0 1 0 14.8 0a7.4 7.4 0 1 0 -14.8 0M731.2 449.1a7.4 7.4 0 1 0 14.8 0a7.4 7.4 0 1 0 -14.8 0M732.5 449.8a7.4 7.4 0 1 0 14.8 0a7.4 7.4 0 1 0 -14.8 0M734.4 441.2a7.4 7.4 0 1 0 14.8 0a7.4 7.4 0 1 0 -14.8 0M736.9 439.5a7.4 7.4 0 1 0 14.8 0a7.4 7.4 0 1 0 -14.8 0M737.8 437.8a7.4 7.4 0 1 0 14.8 0a7.4 7.4 0 1 0 -14.8 0M739.8 432.7a7.4 7.4 0 1 0 14.8 0a7.4 7.4 0 1 0 -14.8 0M742.6 431.2a7.4 7.4 0 1 0 14.8 0a7.4 7.4 0 1 0 -14.8 0M744.9 431.0a7.4 7.4 0 1 0 14.8 0a7.4 7.4 0 1 0 -14.8 0M747.3 429.7a7.4 7.4 0 1 0 14.8 0a7.4 7.4 0 1 0 -14.8 0M748.5 422.7a7.4 7.4 0 1 0 14.8 0a7.4 7.4 0 1 0 -14.8 0M752.1 421.0a7.4 7.4 0 1 0 14.8 0a7.4 7.4 0 1 0 -14.8 0M754.8 424.1a7.4 7.4 0 1 0 14.8 0a7.4 7.4 0 1 0 -14.8 0M756.9 420.7a7.4 7.4 0 1 0 14.8 0a7.4 7.4 0 1 0 -14.8 0M759.3 418.1a7.4 7.4 0 1 0 14.8 0a7.4 7.4 0 1 0 -14.8 0M760.2 417.9a7.4 7.4 0 1 0 14.8 0a7.4 7.4 0 1 0 -14.8 0M763.0 419.7a7.4 7.4 0 1 0 14.8 0a7.4 7.4 0 1 0 -14.8 0M765.6 421.1a7.4 7.4 0 1 0 14.8 0a7.4 7.4 0 1 0 -14.8 0M768.3 419.9a7.4 7.4 0 1 0 14.8 0a7.4 7.4 0 1 0 -14.8 0M770.0 424.0a7.4 7.4 0 1 0 14.8 0a7.4 7.4 0 1 0 -14.8 0M773.6 422.4a7.4 7.4 0 1 0 14.8 0a7.4 7.4 0 1 0 -14.8 0M773.1 427.9a7.4 7.4 0 1 0 14.8 0a7.4 7.4 0 1 0 -14.8 0M774.3 429.7a7.4 7.4 0 1 0 14.8 0a7.4 7.4 0 1 0 -14.8 0M775.4 436.6a7.4 7.4 0 1 0 14.8 0a7.4 7.4 0 1 0 -14.8 0M776.1 437.7a7.4 7.4 0 1 0 14.8 0a7.4 7.4 0 1 0 -14.8 0M777.7 442.6a7.4 7.4 0 1 0 14.8 0a7.4 7.4 0 1 0 -14.8 0M777.9 448.2a7.4 7.4 0 1 0 14.8 0a7.4 7.4 0 1 0 -14.8 0M778.9 452.7a7.4 7.4 0 1 0 14.8 0a7.4 7.4 0 1 0 -14.8 0M778.1 457.5a7.4 7.4 0 1 0 14.8 0a7.4 7.4 0 1 0 -14.8 0M779.9 463.1a7.4 7.4 0 1 0 14.8 0a7.4 7.4 0 1 0 -14.8 0M780.2 465.2a7.4 7.4 0 1 0 14.8 0a7.4 7.4 0 1 0 -14.8 0M781.8 471.1a7.4 7.4 0 1 0 14.8 0a7.4 7.4 0 1 0 -14.8 0M780.9 472.7a7.4 7.4 0 1 0 14.8 0a7.4 7.4 0 1 0 -14.8 0M781.6 476.2a7.4 7.4 0 1 0 14.8 0a7.4 7.4 0 1 0 -14.8 0M783.8 479.1a7.4 7.4 0 1 0 14.8 0a7.4 7.4 0 1 0 -14.8 0M782.5 484.4a7.4 7.4 0 1 0 14.8 0a7.4 7.4 0 1 0 -14.8 0M784.2 488.8a7.4 7.4 0 1 0 14.8 0a7.4 7.4 0 1 0 -14.8 0M785.0 490.0a7.4 7.4 0 1 0 14.8 0a7.4 7.4 0 1 0 -14.8 0M786.1 497.3a7.4 7.4 0 1 0 14.8 0a7.4 7.4 0 1 0 -14.8 0M787.8 496.8a7.4 7.4 0 1 0 14.8 0a7.4 7.4 0 1 0 -14.8 0M786.5 505.1a7.4 7.4 0 1 0 14.8 0a7.4 7.4 0 1 0 -14.8 0M787.7 510.9a7.4 7.4 0 1 0 14.8 0a7.4 7.4 0 1 0 -14.8 0M789.6 513.0a7.4 7.4 0 1 0 14.8 0a7.4 7.4 0 1 0 -14.8 0" fill="none" stroke="#ff5020" stroke-width="1.7"/>
<polygon points="165.0,195.0 166.3,187.8 168.3,178.5 170.7,168.3 173.0,158.4 175.0,150.0 176.6,143.5 178.1,138.2 179.4,133.4 180.9,128.4 182.5,122.5 184.5,115.2 186.7,106.8 188.9,98.4 190.9,90.8 192.5,85.0 193.2,81.3 193.3,79.1 193.3,77.8 193.7,77.1 195.0,76.2 197.7,75.2 201.3,74.3 205.3,73.8 209.2,73.9 212.5,75.0 215.0,77.4 217.0,80.9 218.9,85.0 220.6,89.0 222.5,92.5 224.4,95.6 226.1,98.8 228.0,101.7 230.0,103.9 232.5,105.0 235.6,104.6 239.1,103.0 242.9,100.8 246.6,98.8 250.0,97.5 253.1,97.0 256.0,97.0 258.8,97.2 261.4,97.8 263.8,98.8 265.8,100.3 267.4,102.4 269.0,104.7 270.6,106.9 272.5,108.8 274.8,110.2 277.4,111.5 280.1,112.6 282.7,113.4 285.0,113.8 287.0,113.8 288.9,113.5 290.6,112.9 292.2,111.8 293.8,110.0 295.1,107.5 296.2,104.2 297.4,100.5 298.6,96.5 300.0,92.5 301.8,88.3 303.9,83.9 306.1,79.2 308.2,74.6 310.0,70.0 311.4,65.2 312.6,60.0 313.8,55.1 314.9,50.7 316.2,47.5 317.4,45.7 318.3,45.1 319.5,45.0 321.5,45.2 325.0,45.0 330.8,44.7 338.6,44.6 346.9,44.4 354.5,43.8 360.0,42.5 362.9,40.2 364.2,37.2 364.4,33.8 364.5,30.5 365.0,27.5 365.5,24.8 365.5,22.2 365.8,19.9 367.0,17.8 370.0,16.2 375.1,15.4 381.8,15.1 389.5,15.1 397.8,15.2 406.0,15.0 414.8,14.3 424.7,13.4 434.5,12.5 443.2,12.1 450.0,12.5 454.2,14.0 456.6,16.3 457.8,19.1 458.7,22.1 460.0,25.0 461.7,27.7 463.2,30.3 464.6,33.2 466.0,36.3 467.5,40.0 469.0,44.4 470.6,49.3 472.2,54.5 473.7,59.8 475.0,65.0 476.1,70.3 476.9,75.8 477.8,81.3 478.7,86.1 480.0,90.0 481.4,92.6 482.9,94.1 484.7,95.2 487.0,96.1 490.0,97.5 494.1,99.4 499.2,101.4 504.6,103.6 510.1,105.6 515.0,107.5 519.4,109.2 523.6,110.9 527.6,112.4 531.4,113.8 535.0,115.0 538.2,116.1 541.1,117.0 543.9,117.8 546.8,118.4 550.0,118.8 553.8,119.0 558.0,119.3 562.3,119.2 566.4,118.7 570.0,117.5 572.9,115.3 575.3,112.2 577.5,108.8 579.8,105.4 582.5,102.5 585.8,100.3 589.4,98.4 593.1,96.6 596.7,94.7 600.0,92.5 602.9,89.9 605.6,87.1 608.1,84.1 610.4,80.9 612.5,77.5 614.3,73.8 615.7,69.7 617.1,65.6 618.4,61.4 620.0,57.5 621.9,53.6 623.9,49.7 626.1,45.9 628.1,42.6 630.0,40.0 631.6,38.3 632.9,37.3 634.3,36.7 635.7,36.5 637.5,36.2 639.6,36.4 642.0,36.9 644.6,37.6 647.3,37.9 650.0,37.5 652.8,36.1 655.8,34.0 658.9,31.5 662.0,29.2 665.0,27.5 668.0,26.5 670.9,25.8 673.9,25.4 676.9,25.1 680.0,25.0 683.4,24.6 687.0,24.2 690.6,23.9 693.8,24.5 696.2,26.2 697.8,29.7 698.5,34.5 698.9,40.0 699.3,45.5 700.0,50.0 701.3,53.6 703.0,56.9 704.7,59.8 705.9,62.5 706.2,65.0 705.4,67.4 703.8,69.5 701.6,71.4 699.4,73.2 697.5,75.0 695.9,76.6 694.4,77.9 692.9,79.3 691.5,80.7 690.0,82.5 688.5,84.8 687.1,87.4 685.7,90.1 684.2,92.7 682.5,95.0 680.6,97.0 678.6,99.0 676.4,100.6 674.4,101.9 672.5,102.5 670.8,102.4 669.3,101.8 667.9,100.6 666.5,99.2 665.0,97.5 663.5,95.3 662.0,92.4 660.6,89.5 659.1,86.8 657.5,85.0 655.9,84.0 654.3,83.6 652.7,83.7 650.9,84.2 649.0,85.0 646.9,86.2 644.7,87.8 642.3,89.8 639.9,92.2 637.5,95.0 635.1,98.4 632.6,102.4 630.0,106.7 627.5,111.0 625.0,115.0 622.7,118.6 620.5,122.1 618.2,125.4 615.6,128.9 612.5,132.5 608.6,136.5 604.1,140.7 599.3,144.9 594.5,148.9 590.0,152.5 585.9,155.6 581.9,158.4 578.1,160.9 574.1,163.1 570.0,165.0 565.5,166.6 560.7,168.0 555.9,169.1 551.4,169.8 547.5,170.0 544.4,169.8 541.9,169.2 539.7,168.2 537.5,166.8 535.0,165.0 532.2,162.6 529.4,159.5 526.5,156.1 523.4,152.8 520.0,150.0 516.2,147.7 512.0,145.6 507.7,143.8 503.6,141.9 500.0,140.0 497.0,138.2 494.3,136.6 492.0,134.9 489.7,132.8 487.5,130.0 485.5,126.0 483.8,121.1 482.1,115.8 480.1,111.1 477.5,107.5 473.9,105.5 469.6,104.5 465.1,104.0 460.9,103.5 457.5,102.5 455.2,101.1 453.6,99.8 452.4,98.2 451.3,95.9 450.0,92.5 448.6,87.5 447.2,81.0 445.9,74.0 444.3,67.5 442.5,62.5 440.5,59.1 438.4,56.7 436.1,55.0 433.3,53.7 430.0,52.5 426.0,51.5 421.4,50.8 416.5,50.4 411.3,50.1 406.0,50.0 400.2,49.9 393.7,50.0 387.2,50.2 381.6,50.6 377.5,51.2 375.4,52.1 374.7,53.1 374.9,54.3 375.2,55.8 375.0,57.5 374.3,59.7 373.5,62.3 372.7,65.1 371.5,67.7 370.0,70.0 368.1,71.9 366.0,73.5 363.6,75.0 360.8,76.3 357.5,77.5 353.4,78.3 348.4,78.8 343.2,79.2 338.5,79.9 335.0,81.2 332.9,83.2 331.7,85.5 331.2,88.2 330.7,91.4 330.0,95.0 329.1,99.2 328.2,104.1 327.4,109.3 326.3,114.7 325.0,120.0 323.4,125.8 321.6,132.3 319.6,138.5 317.4,143.9 315.0,147.5 312.3,148.6 309.4,147.8 306.2,146.2 303.1,144.9 300.0,145.0 297.0,147.2 293.9,150.6 290.8,154.4 287.8,157.8 285.0,160.0 282.4,160.9 280.1,161.1 277.7,160.6 275.3,159.4 272.5,157.5 269.3,154.5 265.7,150.3 262.1,145.6 258.4,141.1 255.0,137.5 252.0,134.7 249.3,132.3 246.6,130.3 243.6,128.7 240.0,127.5 235.3,126.9 229.8,127.0 224.0,127.3 218.9,127.6 215.0,127.5 212.8,126.6 211.7,125.1 211.2,123.6 210.8,123.0 210.0,123.8 208.7,126.3 207.2,130.3 205.6,135.0 204.0,140.1 202.5,145.0 201.0,149.7 199.4,154.5 197.8,159.5 196.3,164.6 195.0,170.0 194.0,176.0 193.3,182.5 192.6,189.0 191.6,195.0 190.0,200.0 187.5,203.9 184.4,207.1 181.0,209.6 177.8,211.4 175.0,212.5 172.7,212.8 170.6,212.3 168.7,211.2 167.2,209.7 166.0,208.0 165.1,206.5 164.5,204.9 164.2,202.9 164.4,199.8" fill="none" stroke="#ffba00" stroke-width="4.5" stroke-linejoin="round"/>
<polygon points="177.5,465.0 177.9,460.4 179.2,454.6 181.2,448.1 183.2,441.4 185.0,435.0 186.6,428.7 188.2,422.0 189.8,415.5 191.2,409.6 192.5,405.0 193.2,401.7 193.5,399.5 193.8,398.0 194.6,397.0 196.2,396.2 199.2,395.7 203.1,395.6 207.4,395.9 211.6,396.5 215.0,397.5 217.6,399.0 219.6,401.2 221.4,403.5 223.1,405.8 225.0,407.5 226.9,408.8 228.8,409.8 230.6,410.5 232.7,411.0 235.0,411.2 237.7,411.1 240.8,410.4 243.9,409.6 247.1,408.9 250.0,408.8 252.6,409.0 254.9,409.6 257.3,410.4 259.7,411.4 262.5,412.5 265.8,413.9 269.4,415.6 273.1,417.4 276.7,418.9 280.0,420.0 282.9,420.6 285.5,420.9 287.9,420.9 290.2,420.6 292.5,420.0 294.7,419.1 296.8,417.9 298.8,416.4 300.7,414.6 302.5,412.5 304.1,409.9 305.6,406.9 306.9,403.7 308.4,400.5 310.0,397.5 311.8,394.7 313.6,391.8 315.5,389.2 317.6,386.8 320.0,385.0 322.6,383.8 325.4,383.2 328.4,382.8 331.6,382.7 335.0,382.5 338.9,382.5 343.2,382.8 347.7,383.1 351.7,383.1 355.0,382.5 357.3,381.1 358.9,379.2 360.1,377.0 361.2,374.7 362.5,372.5 363.8,370.4 365.0,368.1 366.3,365.9 367.9,363.9 370.0,362.5 372.8,361.7 376.2,361.2 379.9,361.1 383.8,361.2 387.5,361.2 390.5,361.3 393.0,361.5 395.8,361.8 399.9,362.1 406.0,362.5 415.7,362.8 428.2,362.9 441.6,363.2 453.7,363.8 462.5,365.0 467.1,366.7 468.9,368.9 469.2,371.5 469.1,374.4 470.0,377.5 471.8,381.1 473.7,385.2 475.7,389.5 477.8,393.7 480.0,397.5 482.3,400.9 484.6,404.2 487.0,407.2 489.6,410.0 492.5,412.5 495.6,414.8 498.8,416.8 502.2,418.6 505.9,420.1 510.0,421.2 514.4,422.1 519.2,422.6 524.3,422.8 529.6,422.8 535.0,422.5 541.0,421.9 547.6,421.1 554.2,420.0 560.2,418.8 565.0,417.5 568.1,416.1 569.8,414.4 571.1,412.8 572.5,411.2 575.0,410.0 578.9,409.3 583.7,409.0 588.8,408.8 593.6,408.4 597.5,407.5 600.2,406.0 602.2,404.0 603.7,401.9 605.4,399.6 607.5,397.5 610.3,395.5 613.4,393.6 616.6,391.7 619.7,389.7 622.5,387.5 624.7,385.0 626.6,382.2 628.4,379.4 630.3,376.9 632.5,375.0 635.2,373.8 638.3,373.1 641.4,372.8 644.6,372.6 647.5,372.5 650.2,372.7 652.9,373.3 655.5,374.0 657.9,374.2 660.0,373.8 661.7,372.2 662.9,369.7 664.0,367.0 665.4,364.4 667.5,362.5 670.6,361.3 674.4,360.4 678.4,359.9 682.1,359.7 685.0,360.0 686.9,360.5 688.2,361.3 689.0,362.6 689.6,364.6 690.0,367.5 690.2,371.9 690.1,377.7 689.7,383.9 689.3,390.0 688.8,395.0 688.3,398.9 687.8,402.3 687.2,405.2 686.4,407.8 685.0,410.0 683.2,411.9 681.1,413.3 678.6,414.4 675.8,415.4 672.5,416.2 668.5,417.0 663.7,417.5 658.8,417.8 654.0,418.2 650.0,418.8 646.8,419.3 644.0,419.9 641.7,420.5 639.5,421.3 637.5,422.5 635.7,424.2 634.3,426.3 632.9,428.6 631.6,430.7 630.0,432.5 628.4,433.8 626.8,434.9 625.0,435.7 622.8,436.6 620.0,437.5 616.1,438.3 611.2,438.9 606.0,439.6 601.2,440.7 597.5,442.5 595.2,445.4 593.8,449.1 592.8,453.2 591.7,457.0 590.0,460.0 587.7,462.1 585.3,463.6 582.4,464.7 579.1,465.6 575.0,466.2 570.0,466.7 564.2,466.9 557.9,466.8 551.4,466.6 545.0,466.2 538.6,465.8 532.1,465.1 525.4,464.3 518.9,463.4 512.5,462.5 506.2,461.6 499.8,460.6 493.7,459.6 487.8,458.5 482.5,457.5 477.7,456.8 473.3,456.5 469.3,455.9 465.7,454.8 462.5,452.5 459.8,448.7 457.7,443.8 455.8,438.3 454.2,432.7 452.5,427.5 450.9,422.6 449.4,417.7 448.1,413.0 446.6,408.7 445.0,405.0 443.5,402.1 442.1,399.7 440.5,397.9 438.3,396.3 435.0,395.0 430.4,393.9 424.6,393.2 418.3,392.8 411.9,392.6 406.0,392.5 400.3,392.6 394.5,392.8 388.9,393.2 384.0,393.9 380.0,395.0 377.4,396.6 375.9,398.6 375.0,400.8 374.0,403.0 372.5,405.0 370.4,406.7 368.2,408.4 365.8,410.0 363.1,411.4 360.0,412.5 356.3,413.2 351.9,413.4 347.5,413.5 343.3,413.9 340.0,415.0 337.7,416.8 336.1,419.2 334.9,421.8 333.8,424.7 332.5,427.5 331.1,430.4 329.9,433.6 328.5,436.7 327.0,439.8 325.0,442.5 322.5,444.9 319.5,447.1 316.4,449.1 313.1,450.9 310.0,452.5 307.2,453.9 304.5,455.2 301.7,456.3 298.6,457.1 295.0,457.5 290.5,457.6 285.2,457.3 279.8,456.7 274.5,455.9 270.0,455.0 266.4,453.7 263.5,452.0 260.9,450.2 258.2,448.6 255.0,447.5 251.4,447.1 247.5,447.1 243.4,447.3 239.2,447.5 235.0,447.5 230.4,447.0 225.5,446.3 220.5,445.6 216.1,445.1 212.5,445.0 210.0,445.3 208.3,445.7 207.1,446.6 206.1,447.9 205.0,450.0 204.0,453.3 203.2,457.8 202.4,462.5 201.4,466.9 200.0,470.0 197.9,471.8 195.4,472.7 192.7,473.1 190.0,472.9 187.5,472.5 185.1,472.0 182.5,471.3 180.1,470.1 178.3,468.1" fill="none" stroke="#ffba00" stroke-width="4.5" stroke-linejoin="round"/>
<polygon points="712.5,200.0 713.4,195.5 714.9,190.0 716.7,184.0 718.5,178.0 720.0,172.5 721.1,167.6 721.9,163.0 722.8,158.6 723.7,154.3 725.0,150.0 726.6,146.0 728.5,142.3 730.6,138.6 732.8,134.6 735.0,130.0 737.4,124.4 740.1,118.0 742.7,111.4 745.3,105.2 747.5,100.0 749.1,95.8 750.3,92.1 751.3,89.1 752.8,86.7 755.0,85.0 758.3,83.9 762.3,83.5 766.8,83.7 771.1,84.6 775.0,86.2 778.4,88.9 781.7,92.7 784.8,96.9 787.6,101.2 790.0,105.0 792.1,108.0 793.8,110.5 795.2,113.1 796.4,116.1 797.5,120.0 798.4,125.1 799.0,131.2 799.4,137.6 799.7,144.1 800.0,150.0 800.2,155.6 800.2,161.1 800.2,166.4 800.1,171.1 800.0,175.0 800.0,177.9 800.1,179.9 800.0,181.4 799.7,182.6 798.8,183.8 797.2,184.9 795.0,186.0 792.6,186.8 790.0,187.3 787.5,187.5 785.0,187.4 782.5,187.0 779.9,186.2 777.4,185.2 775.0,183.8 772.9,181.4 770.9,178.1 769.1,174.8 767.1,172.2 765.0,171.2 762.5,172.2 759.8,174.6 757.1,177.8 754.6,181.4 752.5,185.0 751.1,188.8 750.1,193.0 749.3,197.4 748.5,201.5 747.5,205.0 746.3,207.8 745.0,210.1 743.7,212.1 742.0,213.7 740.0,215.0 737.4,215.9 734.3,216.5 731.0,216.7 727.8,216.6 725.0,216.2 722.6,215.5 720.3,214.5 718.2,213.1 716.4,211.6 715.0,210.0 713.9,208.5 713.0,207.1 712.4,205.4 712.2,203.2" fill="none" stroke="#ffba00" stroke-width="4.5" stroke-linejoin="round"/>
<polygon points="692.5,545.0 692.2,541.1 692.4,536.3 693.0,530.8 693.9,525.3 695.0,520.0 696.6,515.0 698.8,510.0 701.2,505.0 703.4,500.0 705.0,495.0 705.7,490.0 705.8,485.0 705.8,480.0 706.2,475.0 707.5,470.0 710.1,465.0 713.5,460.0 717.5,455.0 721.4,450.0 725.0,445.0 728.3,439.8 731.7,434.5 734.8,429.3 737.7,424.4 740.0,420.0 741.6,416.2 742.5,412.8 743.1,409.8 743.8,407.2 745.0,405.0 746.5,403.3 748.2,402.0 750.0,401.2 752.3,400.5 755.0,400.0 758.5,399.5 762.8,399.2 767.2,399.0 771.5,399.3 775.0,400.0 777.6,401.3 779.7,403.2 781.5,405.3 783.2,407.7 785.0,410.0 787.0,412.4 789.1,414.9 791.2,417.6 793.2,420.1 795.0,422.5 796.7,424.2 798.3,425.4 799.8,426.6 801.2,428.8 802.5,432.5 803.7,438.2 804.7,445.3 805.7,453.3 806.6,461.7 807.5,470.0 808.5,478.7 809.6,488.3 810.5,497.8 811.2,506.2 811.2,512.5 810.8,516.3 809.9,518.3 808.6,519.1 807.0,519.5 805.0,520.0 802.6,520.8 799.6,521.4 796.4,521.8 793.1,521.7 790.0,521.2 787.0,520.2 783.9,518.5 780.8,516.6 777.8,514.5 775.0,512.5 772.4,510.3 769.9,507.6 767.6,505.1 765.1,503.2 762.5,502.5 759.5,503.1 756.2,504.8 752.9,507.2 749.9,509.9 747.5,512.5 745.9,515.1 744.9,517.9 744.2,520.9 743.5,524.1 742.5,527.5 741.2,531.4 739.8,535.7 738.3,540.1 736.7,544.1 735.0,547.5 733.4,550.2 731.9,552.4 730.2,554.2 728.0,555.5 725.0,556.2 720.7,556.4 715.2,555.8 709.5,554.9 704.1,553.7 700.0,552.5 697.2,551.5 695.3,550.6 693.9,549.4 693.1,547.7" fill="none" stroke="#ffba00" stroke-width="4.5" stroke-linejoin="round"/>
<text x="110.40" y="687.40" font-family="Liberation Sans, sans-serif" font-size="25.5" text-anchor="middle" fill="#000">0</text>
<text x="226.30" y="687.40" font-family="Liberation Sans, sans-serif" font-size="25.5" text-anchor="middle" fill="#000">50</text>
<text x="342.20" y="687.40" font-family="Liberation Sans, sans-serif" font-size="25.5" text-anchor="middle" fill="#000">100</text>
<text x="458.10" y="687.40" font-family="Liberation Sans, sans-serif" font-size="25.5" text-anchor="middle" fill="#000">150</text>
<text x="574.00" y="687.40" font-family="Liberation Sans, sans-serif" font-size="25.5" text-anchor="middle" fill="#000">200</text>
<text x="689.90" y="687.40" font-family="Liberation Sans, sans-serif" font-size="25.5" text-anchor="middle" fill="#000">250</text>
<text x="805.80" y="687.40" font-family="Liberation Sans, sans-serif" font-size="25.5" text-anchor="middle" fill="#000">300</text>
<text x="921.70" y="687.40" font-family="Liberation Sans, sans-serif" font-size="25.5" text-anchor="middle" fill="#000">350</text>
<text x="101.60" y="667.18" font-family="Liberation Sans, sans-serif" font-size="25.5" text-anchor="end" fill="#000" transform="translate(101.60 0) scale(0.9650 1) translate(-101.60 0)">20</text>
<text x="101.60" y="587.12" font-family="Liberation Sans, sans-serif" font-size="25.5" text-anchor="end" fill="#000" transform="translate(101.60 0) scale(0.9650 1) translate(-101.60 0)">40</text>
<text x="101.60" y="507.06" font-family="Liberation Sans, sans-serif" font-size="25.5" text-anchor="end" fill="#000" transform="translate(101.60 0) scale(0.9650 1) translate(-101.60 0)">60</text>
<text x="101.60" y="427.00" font-family="Liberation Sans, sans-serif" font-size="25.5" text-anchor="end" fill="#000" transform="translate(101.60 0) scale(0.9650 1) translate(-101.60 0)">80</text>
<text x="101.60" y="346.94" font-family="Liberation Sans, sans-serif" font-size="25.5" text-anchor="end" fill="#000" transform="translate(101.60 0) scale(0.9650 1) translate(-101.60 0)">100</text>
<text x="101.60" y="266.88" font-family="Liberation Sans, sans-serif" font-size="25.5" text-anchor="end" fill="#000" transform="translate(101.60 0) scale(0.9650 1) translate(-101.60 0)">120</text>
<text x="101.60" y="186.82" font-family="Liberation Sans, sans-serif" font-size="25.5" text-anchor="end" fill="#000" transform="translate(101.60 0) scale(0.9650 1) translate(-101.60 0)">140</text>
<text x="101.60" y="106.76" font-family="Liberation Sans, sans-serif" font-size="25.5" text-anchor="end" fill="#000" transform="translate(101.60 0) scale(0.9650 1) translate(-101.60 0)">160</text>
<text x="101.60" y="26.70" font-family="Liberation Sans, sans-serif" font-size="25.5" text-anchor="end" fill="#000" transform="translate(101.60 0) scale(0.9650 1) translate(-101.60 0)">180</text>
<text font-family="Liberation Sans, sans-serif" font-size="35.5" text-anchor="middle" fill="#000" transform="translate(42 341.2) scale(1 1.05) rotate(-90)">Frequency (bpm)</text>
<text x="512.90" y="729.10" font-family="Liberation Sans, sans-serif" font-size="35.5" text-anchor="middle" fill="#000" transform="translate(512.90 0) scale(1.0490 1) translate(-512.90 0)">Time(Sec)</text>
<text x="508" y="788.4" font-family="Liberation Serif, serif" font-size="43" text-anchor="middle" fill="#000" transform="translate(508 0) scale(0.9 1) translate(-508 0)">(<tspan font-weight="bold">a</tspan>)</text>
<rect x="798.7" y="20.6" width="212.3" height="164.5" fill="#fff" stroke="#000" stroke-width="1.5"/>
<path d="M1011 20.6h3.8M1011 185.1h3.8" stroke="#000" stroke-width="1.5"/>
<circle cx="850.2" cy="42.5" r="7.4" fill="none" stroke="#0000ff" stroke-width="1.4"/>
<text x="894.80" y="55.40" font-family="Liberation Sans, sans-serif" font-size="29.5" text-anchor="start" fill="#000" transform="translate(894.80 0) scale(1.0420 1) translate(-894.80 0)">Peak(1)</text>
<circle cx="850.2" cy="82.0" r="7.4" fill="none" stroke="#008000" stroke-width="1.4"/>
<text x="894.80" y="94.90" font-family="Liberation Sans, sans-serif" font-size="29.5" text-anchor="start" fill="#000" transform="translate(894.80 0) scale(1.0420 1) translate(-894.80 0)">Peak(2)</text>
<circle cx="850.2" cy="121.2" r="7.4" fill="none" stroke="#ff0000" stroke-width="1.4"/>
<text x="894.80" y="133.50" font-family="Liberation Sans, sans-serif" font-size="29.5" text-anchor="start" fill="#000" transform="translate(894.80 0) scale(1.0420 1) translate(-894.80 0)">Peak(3)</text>
<line x1="812.8" y1="160.4" x2="888.9" y2="160.4" stroke="#00ffff" stroke-width="9"/>
<text x="894.80" y="174.00" font-family="Liberation Sans, sans-serif" font-size="29.5" text-anchor="start" fill="#000">Ref HR</text>
<path d="M98.4 1246.7a7.6 7.6 0 1 0 15.2 0a7.6 7.6 0 1 0 -15.2 0M99.3 1252.6a7.6 7.6 0 1 0 15.2 0a7.6 7.6 0 1 0 -15.2 0M100.6 1244.9a7.6 7.6 0 1 0 15.2 0a7.6 7.6 0 1 0 -15.2 0M100.3 1242.3a7.6 7.6 0 1 0 15.2 0a7.6 7.6 0 1 0 -15.2 0M100.8 1250.1a7.6 7.6 0 1 0 15.2 0a7.6 7.6 0 1 0 -15.2 0M102.1 1253.4a7.6 7.6 0 1 0 15.2 0a7.6 7.6 0 1 0 -15.2 0M102.3 1256.5a7.6 7.6 0 1 0 15.2 0a7.6 7.6 0 1 0 -15.2 0M103.4 1246.0a7.6 7.6 0 1 0 15.2 0a7.6 7.6 0 1 0 -15.2 0M104.0 1253.0a7.6 7.6 0 1 0 15.2 0a7.6 7.6 0 1 0 -15.2 0M103.8 1243.0a7.6 7.6 0 1 0 15.2 0a7.6 7.6 0 1 0 -15.2 0M105.4 1242.8a7.6 7.6 0 1 0 15.2 0a7.6 7.6 0 1 0 -15.2 0M105.2 1250.2a7.6 7.6 0 1 0 15.2 0a7.6 7.6 0 1 0 -15.2 0M106.1 1239.5a7.6 7.6 0 1 0 15.2 0a7.6 7.6 0 1 0 -15.2 0M106.3 1253.4a7.6 7.6 0 1 0 15.2 0a7.6 7.6 0 1 0 -15.2 0M107.7 1240.3a7.6 7.6 0 1 0 15.2 0a7.6 7.6 0 1 0 -15.2 0M108.4 1240.2a7.6 7.6 0 1 0 15.2 0a7.6 7.6 0 1 0 -15.2 0M109.4 1244.0a7.6 7.6 0 1 0 15.2 0a7.6 7.6 0 1 0 -15.2 0M109.4 1245.8a7.6 7.6 0 1 0 15.2 0a7.6 7.6 0 1 0 -15.2 0M110.1 1237.5a7.6 7.6 0 1 0 15.2 0a7.6 7.6 0 1 0 -15.2 0M110.6 1236.0a7.6 7.6 0 1 0 15.2 0a7.6 7.6 0 1 0 -15.2 0M110.5 1237.7a7.6 7.6 0 1 0 15.2 0a7.6 7.6 0 1 0 -15.2 0M111.4 1244.6a7.6 7.6 0 1 0 15.2 0a7.6 7.6 0 1 0 -15.2 0M111.9 1246.1a7.6 7.6 0 1 0 15.2 0a7.6 7.6 0 1 0 -15.2 0M112.6 1244.8a7.6 7.6 0 1 0 15.2 0a7.6 7.6 0 1 0 -15.2 0M113.3 1234.9a7.6 7.6 0 1 0 15.2 0a7.6 7.6 0 1 0 -15.2 0M113.7 1238.3a7.6 7.6 0 1 0 15.2 0a7.6 7.6 0 1 0 -15.2 0M115.3 1239.0a7.6 7.6 0 1 0 15.2 0a7.6 7.6 0 1 0 -15.2 0M115.5 1231.7a7.6 7.6 0 1 0 15.2 0a7.6 7.6 0 1 0 -15.2 0M116.2 1238.7a7.6 7.6 0 1 0 15.2 0a7.6 7.6 0 1 0 -15.2 0M116.3 1237.9a7.6 7.6 0 1 0 15.2 0a7.6 7.6 0 1 0 -15.2 0M117.3 1223.2a7.6 7.6 0 1 0 15.2 0a7.6 7.6 0 1 0 -15.2 0M118.0 1229.4a7.6 7.6 0 1 0 15.2 0a7.6 7.6 0 1 0 -15.2 0M118.7 1223.7a7.6 7.6 0 1 0 15.2 0a7.6 7.6 0 1 0 -15.2 0M118.2 1232.9a7.6 7.6 0 1 0 15.2 0a7.6 7.6 0 1 0 -15.2 0M119.2 1230.4a7.6 7.6 0 1 0 15.2 0a7.6 7.6 0 1 0 -15.2 0M120.8 1231.1a7.6 7.6 0 1 0 15.2 0a7.6 7.6 0 1 0 -15.2 0M120.5 1219.0a7.6 7.6 0 1 0 15.2 0a7.6 7.6 0 1 0 -15.2 0M121.2 1221.6a7.6 7.6 0 1 0 15.2 0a7.6 7.6 0 1 0 -15.2 0M121.9 1216.3a7.6 7.6 0 1 0 15.2 0a7.6 7.6 0 1 0 -15.2 0M122.2 1226.1a7.6 7.6 0 1 0 15.2 0a7.6 7.6 0 1 0 -15.2 0M122.8 1220.2a7.6 7.6 0 1 0 15.2 0a7.6 7.6 0 1 0 -15.2 0M124.3 1218.8a7.6 7.6 0 1 0 15.2 0a7.6 7.6 0 1 0 -15.2 0M123.9 1220.9a7.6 7.6 0 1 0 15.2 0a7.6 7.6 0 1 0 -15.2 0M124.9 1210.1a7.6 7.6 0 1 0 15.2 0a7.6 7.6 0 1 0 -15.2 0M124.9 1224.4a7.6 7.6 0 1 0 15.2 0a7.6 7.6 0 1 0 -15.2 0M126.3 1223.3a7.6 7.6 0 1 0 15.2 0a7.6 7.6 0 1 0 -15.2 0M126.6 1211.3a7.6 7.6 0 1 0 15.2 0a7.6 7.6 0 1 0 -15.2 0M127.2 1222.9a7.6 7.6 0 1 0 15.2 0a7.6 7.6 0 1 0 -15.2 0M128.0 1206.8a7.6 7.6 0 1 0 15.2 0a7.6 7.6 0 1 0 -15.2 0M129.0 1207.0a7.6 7.6 0 1 0 15.2 0a7.6 7.6 0 1 0 -15.2 0M129.4 1222.8a7.6 7.6 0 1 0 15.2 0a7.6 7.6 0 1 0 -15.2 0M129.8 1211.6a7.6 7.6 0 1 0 15.2 0a7.6 7.6 0 1 0 -15.2 0M130.5 1218.6a7.6 7.6 0 1 0 15.2 0a7.6 7.6 0 1 0 -15.2 0M130.8 1221.3a7.6 7.6 0 1 0 15.2 0a7.6 7.6 0 1 0 -15.2 0M132.2 1216.1a7.6 7.6 0 1 0 15.2 0a7.6 7.6 0 1 0 -15.2 0M131.8 1209.6a7.6 7.6 0 1 0 15.2 0a7.6 7.6 0 1 0 -15.2 0M132.3 1216.4a7.6 7.6 0 1 0 15.2 0a7.6 7.6 0 1 0 -15.2 0M133.9 1210.2a7.6 7.6 0 1 0 15.2 0a7.6 7.6 0 1 0 -15.2 0M134.1 1221.2a7.6 7.6 0 1 0 15.2 0a7.6 7.6 0 1 0 -15.2 0M134.0 1216.8a7.6 7.6 0 1 0 15.2 0a7.6 7.6 0 1 0 -15.2 0M135.2 1215.1a7.6 7.6 0 1 0 15.2 0a7.6 7.6 0 1 0 -15.2 0M135.8 1215.6a7.6 7.6 0 1 0 15.2 0a7.6 7.6 0 1 0 -15.2 0M136.1 1229.3a7.6 7.6 0 1 0 15.2 0a7.6 7.6 0 1 0 -15.2 0M137.6 1229.9a7.6 7.6 0 1 0 15.2 0a7.6 7.6 0 1 0 -15.2 0M138.0 1216.5a7.6 7.6 0 1 0 15.2 0a7.6 7.6 0 1 0 -15.2 0M137.5 1227.1a7.6 7.6 0 1 0 15.2 0a7.6 7.6 0 1 0 -15.2 0M139.4 1218.7a7.6 7.6 0 1 0 15.2 0a7.6 7.6 0 1 0 -15.2 0M139.3 1233.0a7.6 7.6 0 1 0 15.2 0a7.6 7.6 0 1 0 -15.2 0M140.3 1234.5a7.6 7.6 0 1 0 15.2 0a7.6 7.6 0 1 0 -15.2 0M140.0 1224.1a7.6 7.6 0 1 0 15.2 0a7.6 7.6 0 1 0 -15.2 0M141.2 1230.1a7.6 7.6 0 1 0 15.2 0a7.6 7.6 0 1 0 -15.2 0M142.3 1234.8a7.6 7.6 0 1 0 15.2 0a7.6 7.6 0 1 0 -15.2 0M141.9 1233.3a7.6 7.6 0 1 0 15.2 0a7.6 7.6 0 1 0 -15.2 0M143.3 1232.5a7.6 7.6 0 1 0 15.2 0a7.6 7.6 0 1 0 -15.2 0M143.3 1239.1a7.6 7.6 0 1 0 15.2 0a7.6 7.6 0 1 0 -15.2 0M144.4 1226.9a7.6 7.6 0 1 0 15.2 0a7.6 7.6 0 1 0 -15.2 0M144.8 1237.1a7.6 7.6 0 1 0 15.2 0a7.6 7.6 0 1 0 -15.2 0M144.9 1243.3a7.6 7.6 0 1 0 15.2 0a7.6 7.6 0 1 0 -15.2 0M146.1 1240.6a7.6 7.6 0 1 0 15.2 0a7.6 7.6 0 1 0 -15.2 0M146.1 1243.4a7.6 7.6 0 1 0 15.2 0a7.6 7.6 0 1 0 -15.2 0M147.3 1246.9a7.6 7.6 0 1 0 15.2 0a7.6 7.6 0 1 0 -15.2 0M148.3 1245.2a7.6 7.6 0 1 0 15.2 0a7.6 7.6 0 1 0 -15.2 0M147.7 1235.6a7.6 7.6 0 1 0 15.2 0a7.6 7.6 0 1 0 -15.2 0M149.2 1246.7a7.6 7.6 0 1 0 15.2 0a7.6 7.6 0 1 0 -15.2 0M149.0 1247.8a7.6 7.6 0 1 0 15.2 0a7.6 7.6 0 1 0 -15.2 0M150.3 1236.4a7.6 7.6 0 1 0 15.2 0a7.6 7.6 0 1 0 -15.2 0M151.2 1244.6a7.6 7.6 0 1 0 15.2 0a7.6 7.6 0 1 0 -15.2 0M150.9 1239.4a7.6 7.6 0 1 0 15.2 0a7.6 7.6 0 1 0 -15.2 0M151.9 1251.5a7.6 7.6 0 1 0 15.2 0a7.6 7.6 0 1 0 -15.2 0M152.5 1246.2a7.6 7.6 0 1 0 15.2 0a7.6 7.6 0 1 0 -15.2 0M153.4 1241.2a7.6 7.6 0 1 0 15.2 0a7.6 7.6 0 1 0 -15.2 0M153.2 1236.9a7.6 7.6 0 1 0 15.2 0a7.6 7.6 0 1 0 -15.2 0M154.1 1246.3a7.6 7.6 0 1 0 15.2 0a7.6 7.6 0 1 0 -15.2 0M154.6 1238.5a7.6 7.6 0 1 0 15.2 0a7.6 7.6 0 1 0 -15.2 0M155.5 1249.2a7.6 7.6 0 1 0 15.2 0a7.6 7.6 0 1 0 -15.2 0M155.8 1245.0a7.6 7.6 0 1 0 15.2 0a7.6 7.6 0 1 0 -15.2 0M157.4 1247.3a7.6 7.6 0 1 0 15.2 0a7.6 7.6 0 1 0 -15.2 0M157.9 1243.5a7.6 7.6 0 1 0 15.2 0a7.6 7.6 0 1 0 -15.2 0M157.3 1241.0a7.6 7.6 0 1 0 15.2 0a7.6 7.6 0 1 0 -15.2 0M159.0 1232.8a7.6 7.6 0 1 0 15.2 0a7.6 7.6 0 1 0 -15.2 0M159.8 1232.5a7.6 7.6 0 1 0 15.2 0a7.6 7.6 0 1 0 -15.2 0M159.3 1233.7a7.6 7.6 0 1 0 15.2 0a7.6 7.6 0 1 0 -15.2 0M159.9 1238.8a7.6 7.6 0 1 0 15.2 0a7.6 7.6 0 1 0 -15.2 0M160.3 1239.1a7.6 7.6 0 1 0 15.2 0a7.6 7.6 0 1 0 -15.2 0M162.3 1238.4a7.6 7.6 0 1 0 15.2 0a7.6 7.6 0 1 0 -15.2 0M162.6 1239.1a7.6 7.6 0 1 0 15.2 0a7.6 7.6 0 1 0 -15.2 0M162.6 1234.7a7.6 7.6 0 1 0 15.2 0a7.6 7.6 0 1 0 -15.2 0M164.1 1225.0a7.6 7.6 0 1 0 15.2 0a7.6 7.6 0 1 0 -15.2 0M164.3 1230.3a7.6 7.6 0 1 0 15.2 0a7.6 7.6 0 1 0 -15.2 0M164.3 1235.5a7.6 7.6 0 1 0 15.2 0a7.6 7.6 0 1 0 -15.2 0M165.3 1220.4a7.6 7.6 0 1 0 15.2 0a7.6 7.6 0 1 0 -15.2 0M166.1 1226.0a7.6 7.6 0 1 0 15.2 0a7.6 7.6 0 1 0 -15.2 0M166.5 1232.4a7.6 7.6 0 1 0 15.2 0a7.6 7.6 0 1 0 -15.2 0M167.5 1223.4a7.6 7.6 0 1 0 15.2 0a7.6 7.6 0 1 0 -15.2 0M168.2 1227.4a7.6 7.6 0 1 0 15.2 0a7.6 7.6 0 1 0 -15.2 0M167.7 1227.0a7.6 7.6 0 1 0 15.2 0a7.6 7.6 0 1 0 -15.2 0M169.0 1217.0a7.6 7.6 0 1 0 15.2 0a7.6 7.6 0 1 0 -15.2 0M169.4 1218.6a7.6 7.6 0 1 0 15.2 0a7.6 7.6 0 1 0 -15.2 0M170.8 1205.7a7.6 7.6 0 1 0 15.2 0a7.6 7.6 0 1 0 -15.2 0M172.5 1206.0a7.6 7.6 0 1 0 15.2 0a7.6 7.6 0 1 0 -15.2 0M173.7 1204.6a7.6 7.6 0 1 0 15.2 0a7.6 7.6 0 1 0 -15.2 0M175.4 1199.1a7.6 7.6 0 1 0 15.2 0a7.6 7.6 0 1 0 -15.2 0M176.3 1199.5a7.6 7.6 0 1 0 15.2 0a7.6 7.6 0 1 0 -15.2 0M177.0 1194.9a7.6 7.6 0 1 0 15.2 0a7.6 7.6 0 1 0 -15.2 0M178.1 1184.6a7.6 7.6 0 1 0 15.2 0a7.6 7.6 0 1 0 -15.2 0M179.9 1185.3a7.6 7.6 0 1 0 15.2 0a7.6 7.6 0 1 0 -15.2 0M180.7 1184.4a7.6 7.6 0 1 0 15.2 0a7.6 7.6 0 1 0 -15.2 0M182.7 1166.9a7.6 7.6 0 1 0 15.2 0a7.6 7.6 0 1 0 -15.2 0M182.8 1175.6a7.6 7.6 0 1 0 15.2 0a7.6 7.6 0 1 0 -15.2 0M185.0 1168.5a7.6 7.6 0 1 0 15.2 0a7.6 7.6 0 1 0 -15.2 0M213.8 1061.6a7.6 7.6 0 1 0 15.2 0a7.6 7.6 0 1 0 -15.2 0M213.9 1067.6a7.6 7.6 0 1 0 15.2 0a7.6 7.6 0 1 0 -15.2 0M215.9 1060.2a7.6 7.6 0 1 0 15.2 0a7.6 7.6 0 1 0 -15.2 0M217.5 1062.6a7.6 7.6 0 1 0 15.2 0a7.6 7.6 0 1 0 -15.2 0M217.3 1061.5a7.6 7.6 0 1 0 15.2 0a7.6 7.6 0 1 0 -15.2 0M218.9 1058.8a7.6 7.6 0 1 0 15.2 0a7.6 7.6 0 1 0 -15.2 0M221.0 1060.8a7.6 7.6 0 1 0 15.2 0a7.6 7.6 0 1 0 -15.2 0M221.1 1068.3a7.6 7.6 0 1 0 15.2 0a7.6 7.6 0 1 0 -15.2 0M222.9 1068.9a7.6 7.6 0 1 0 15.2 0a7.6 7.6 0 1 0 -15.2 0M224.2 1067.0a7.6 7.6 0 1 0 15.2 0a7.6 7.6 0 1 0 -15.2 0M224.8 1061.2a7.6 7.6 0 1 0 15.2 0a7.6 7.6 0 1 0 -15.2 0M226.1 1062.9a7.6 7.6 0 1 0 15.2 0a7.6 7.6 0 1 0 -15.2 0M228.2 1065.6a7.6 7.6 0 1 0 15.2 0a7.6 7.6 0 1 0 -15.2 0M228.2 1061.4a7.6 7.6 0 1 0 15.2 0a7.6 7.6 0 1 0 -15.2 0M229.7 1068.1a7.6 7.6 0 1 0 15.2 0a7.6 7.6 0 1 0 -15.2 0M231.6 1074.9a7.6 7.6 0 1 0 15.2 0a7.6 7.6 0 1 0 -15.2 0M232.1 1066.7a7.6 7.6 0 1 0 15.2 0a7.6 7.6 0 1 0 -15.2 0M233.7 1066.0a7.6 7.6 0 1 0 15.2 0a7.6 7.6 0 1 0 -15.2 0M234.1 1071.1a7.6 7.6 0 1 0 15.2 0a7.6 7.6 0 1 0 -15.2 0M236.6 1076.7a7.6 7.6 0 1 0 15.2 0a7.6 7.6 0 1 0 -15.2 0M237.3 1065.4a7.6 7.6 0 1 0 15.2 0a7.6 7.6 0 1 0 -15.2 0M238.6 1066.6a7.6 7.6 0 1 0 15.2 0a7.6 7.6 0 1 0 -15.2 0M239.1 1076.1a7.6 7.6 0 1 0 15.2 0a7.6 7.6 0 1 0 -15.2 0M241.4 1073.4a7.6 7.6 0 1 0 15.2 0a7.6 7.6 0 1 0 -15.2 0M242.6 1065.8a7.6 7.6 0 1 0 15.2 0a7.6 7.6 0 1 0 -15.2 0M242.8 1063.4a7.6 7.6 0 1 0 15.2 0a7.6 7.6 0 1 0 -15.2 0M243.9 1071.6a7.6 7.6 0 1 0 15.2 0a7.6 7.6 0 1 0 -15.2 0M246.2 1063.3a7.6 7.6 0 1 0 15.2 0a7.6 7.6 0 1 0 -15.2 0M247.0 1067.9a7.6 7.6 0 1 0 15.2 0a7.6 7.6 0 1 0 -15.2 0M248.7 1070.9a7.6 7.6 0 1 0 15.2 0a7.6 7.6 0 1 0 -15.2 0M249.9 1060.4a7.6 7.6 0 1 0 15.2 0a7.6 7.6 0 1 0 -15.2 0M251.0 1060.7a7.6 7.6 0 1 0 15.2 0a7.6 7.6 0 1 0 -15.2 0M252.0 1071.3a7.6 7.6 0 1 0 15.2 0a7.6 7.6 0 1 0 -15.2 0M253.5 1066.7a7.6 7.6 0 1 0 15.2 0a7.6 7.6 0 1 0 -15.2 0M254.6 1059.8a7.6 7.6 0 1 0 15.2 0a7.6 7.6 0 1 0 -15.2 0M254.9 1059.7a7.6 7.6 0 1 0 15.2 0a7.6 7.6 0 1 0 -15.2 0M255.9 1060.1a7.6 7.6 0 1 0 15.2 0a7.6 7.6 0 1 0 -15.2 0M258.2 1059.2a7.6 7.6 0 1 0 15.2 0a7.6 7.6 0 1 0 -15.2 0M259.3 1068.7a7.6 7.6 0 1 0 15.2 0a7.6 7.6 0 1 0 -15.2 0M259.8 1065.9a7.6 7.6 0 1 0 15.2 0a7.6 7.6 0 1 0 -15.2 0M260.9 1061.9a7.6 7.6 0 1 0 15.2 0a7.6 7.6 0 1 0 -15.2 0M262.0 1073.7a7.6 7.6 0 1 0 15.2 0a7.6 7.6 0 1 0 -15.2 0M264.2 1070.5a7.6 7.6 0 1 0 15.2 0a7.6 7.6 0 1 0 -15.2 0M264.5 1062.8a7.6 7.6 0 1 0 15.2 0a7.6 7.6 0 1 0 -15.2 0M265.9 1068.9a7.6 7.6 0 1 0 15.2 0a7.6 7.6 0 1 0 -15.2 0M267.3 1065.7a7.6 7.6 0 1 0 15.2 0a7.6 7.6 0 1 0 -15.2 0M267.9 1067.9a7.6 7.6 0 1 0 15.2 0a7.6 7.6 0 1 0 -15.2 0M269.2 1069.2a7.6 7.6 0 1 0 15.2 0a7.6 7.6 0 1 0 -15.2 0M270.5 1071.0a7.6 7.6 0 1 0 15.2 0a7.6 7.6 0 1 0 -15.2 0M272.0 1084.7a7.6 7.6 0 1 0 15.2 0a7.6 7.6 0 1 0 -15.2 0M273.0 1077.5a7.6 7.6 0 1 0 15.2 0a7.6 7.6 0 1 0 -15.2 0M274.5 1080.7a7.6 7.6 0 1 0 15.2 0a7.6 7.6 0 1 0 -15.2 0M275.8 1085.3a7.6 7.6 0 1 0 15.2 0a7.6 7.6 0 1 0 -15.2 0M277.2 1088.7a7.6 7.6 0 1 0 15.2 0a7.6 7.6 0 1 0 -15.2 0M278.7 1093.7a7.6 7.6 0 1 0 15.2 0a7.6 7.6 0 1 0 -15.2 0M279.6 1087.6a7.6 7.6 0 1 0 15.2 0a7.6 7.6 0 1 0 -15.2 0M280.7 1086.1a7.6 7.6 0 1 0 15.2 0a7.6 7.6 0 1 0 -15.2 0M281.1 1092.7a7.6 7.6 0 1 0 15.2 0a7.6 7.6 0 1 0 -15.2 0M282.6 1089.5a7.6 7.6 0 1 0 15.2 0a7.6 7.6 0 1 0 -15.2 0M284.6 1095.4a7.6 7.6 0 1 0 15.2 0a7.6 7.6 0 1 0 -15.2 0M285.0 1090.5a7.6 7.6 0 1 0 15.2 0a7.6 7.6 0 1 0 -15.2 0M286.3 1097.0a7.6 7.6 0 1 0 15.2 0a7.6 7.6 0 1 0 -15.2 0M287.4 1096.3a7.6 7.6 0 1 0 15.2 0a7.6 7.6 0 1 0 -15.2 0M288.8 1100.7a7.6 7.6 0 1 0 15.2 0a7.6 7.6 0 1 0 -15.2 0M290.3 1089.6a7.6 7.6 0 1 0 15.2 0a7.6 7.6 0 1 0 -15.2 0M291.5 1090.4a7.6 7.6 0 1 0 15.2 0a7.6 7.6 0 1 0 -15.2 0M292.6 1099.1a7.6 7.6 0 1 0 15.2 0a7.6 7.6 0 1 0 -15.2 0M293.4 1103.5a7.6 7.6 0 1 0 15.2 0a7.6 7.6 0 1 0 -15.2 0M295.0 1097.5a7.6 7.6 0 1 0 15.2 0a7.6 7.6 0 1 0 -15.2 0M296.0 1094.4a7.6 7.6 0 1 0 15.2 0a7.6 7.6 0 1 0 -15.2 0M296.9 1097.3a7.6 7.6 0 1 0 15.2 0a7.6 7.6 0 1 0 -15.2 0M299.1 1096.6a7.6 7.6 0 1 0 15.2 0a7.6 7.6 0 1 0 -15.2 0M299.2 1091.7a7.6 7.6 0 1 0 15.2 0a7.6 7.6 0 1 0 -15.2 0M300.9 1101.1a7.6 7.6 0 1 0 15.2 0a7.6 7.6 0 1 0 -15.2 0M301.9 1092.7a7.6 7.6 0 1 0 15.2 0a7.6 7.6 0 1 0 -15.2 0M303.7 1089.2a7.6 7.6 0 1 0 15.2 0a7.6 7.6 0 1 0 -15.2 0M304.1 1090.2a7.6 7.6 0 1 0 15.2 0a7.6 7.6 0 1 0 -15.2 0M305.0 1095.7a7.6 7.6 0 1 0 15.2 0a7.6 7.6 0 1 0 -15.2 0M306.9 1093.8a7.6 7.6 0 1 0 15.2 0a7.6 7.6 0 1 0 -15.2 0M307.5 1083.9a7.6 7.6 0 1 0 15.2 0a7.6 7.6 0 1 0 -15.2 0M309.5 1088.7a7.6 7.6 0 1 0 15.2 0a7.6 7.6 0 1 0 -15.2 0M310.8 1090.4a7.6 7.6 0 1 0 15.2 0a7.6 7.6 0 1 0 -15.2 0M311.3 1084.7a7.6 7.6 0 1 0 15.2 0a7.6 7.6 0 1 0 -15.2 0M312.2 1080.9a7.6 7.6 0 1 0 15.2 0a7.6 7.6 0 1 0 -15.2 0M314.5 1078.0a7.6 7.6 0 1 0 15.2 0a7.6 7.6 0 1 0 -15.2 0M315.2 1085.6a7.6 7.6 0 1 0 15.2 0a7.6 7.6 0 1 0 -15.2 0M317.2 1083.1a7.6 7.6 0 1 0 15.2 0a7.6 7.6 0 1 0 -15.2 0M317.1 1076.8a7.6 7.6 0 1 0 15.2 0a7.6 7.6 0 1 0 -15.2 0M319.4 1079.0a7.6 7.6 0 1 0 15.2 0a7.6 7.6 0 1 0 -15.2 0M320.5 1074.5a7.6 7.6 0 1 0 15.2 0a7.6 7.6 0 1 0 -15.2 0M322.0 1069.9a7.6 7.6 0 1 0 15.2 0a7.6 7.6 0 1 0 -15.2 0M323.2 1069.3a7.6 7.6 0 1 0 15.2 0a7.6 7.6 0 1 0 -15.2 0M323.9 1063.5a7.6 7.6 0 1 0 15.2 0a7.6 7.6 0 1 0 -15.2 0M324.9 1064.3a7.6 7.6 0 1 0 15.2 0a7.6 7.6 0 1 0 -15.2 0M326.2 1061.1a7.6 7.6 0 1 0 15.2 0a7.6 7.6 0 1 0 -15.2 0M327.7 1058.5a7.6 7.6 0 1 0 15.2 0a7.6 7.6 0 1 0 -15.2 0M328.2 1062.9a7.6 7.6 0 1 0 15.2 0a7.6 7.6 0 1 0 -15.2 0M329.9 1064.5a7.6 7.6 0 1 0 15.2 0a7.6 7.6 0 1 0 -15.2 0M331.0 1055.6a7.6 7.6 0 1 0 15.2 0a7.6 7.6 0 1 0 -15.2 0M331.8 1056.1a7.6 7.6 0 1 0 15.2 0a7.6 7.6 0 1 0 -15.2 0M333.0 1062.4a7.6 7.6 0 1 0 15.2 0a7.6 7.6 0 1 0 -15.2 0M334.3 1058.3a7.6 7.6 0 1 0 15.2 0a7.6 7.6 0 1 0 -15.2 0M335.2 1053.2a7.6 7.6 0 1 0 15.2 0a7.6 7.6 0 1 0 -15.2 0M337.2 1056.1a7.6 7.6 0 1 0 15.2 0a7.6 7.6 0 1 0 -15.2 0M337.5 1048.0a7.6 7.6 0 1 0 15.2 0a7.6 7.6 0 1 0 -15.2 0M339.4 1050.7a7.6 7.6 0 1 0 15.2 0a7.6 7.6 0 1 0 -15.2 0M340.1 1048.9a7.6 7.6 0 1 0 15.2 0a7.6 7.6 0 1 0 -15.2 0M342.3 1047.1a7.6 7.6 0 1 0 15.2 0a7.6 7.6 0 1 0 -15.2 0M343.2 1043.0a7.6 7.6 0 1 0 15.2 0a7.6 7.6 0 1 0 -15.2 0M344.5 1037.3a7.6 7.6 0 1 0 15.2 0a7.6 7.6 0 1 0 -15.2 0M344.6 1042.1a7.6 7.6 0 1 0 15.2 0a7.6 7.6 0 1 0 -15.2 0M346.9 1040.6a7.6 7.6 0 1 0 15.2 0a7.6 7.6 0 1 0 -15.2 0M348.4 1031.5a7.6 7.6 0 1 0 15.2 0a7.6 7.6 0 1 0 -15.2 0M349.3 1035.7a7.6 7.6 0 1 0 15.2 0a7.6 7.6 0 1 0 -15.2 0M350.3 1031.9a7.6 7.6 0 1 0 15.2 0a7.6 7.6 0 1 0 -15.2 0M350.9 1034.5a7.6 7.6 0 1 0 15.2 0a7.6 7.6 0 1 0 -15.2 0M351.9 1029.4a7.6 7.6 0 1 0 15.2 0a7.6 7.6 0 1 0 -15.2 0M354.0 1028.8a7.6 7.6 0 1 0 15.2 0a7.6 7.6 0 1 0 -15.2 0M354.5 1025.8a7.6 7.6 0 1 0 15.2 0a7.6 7.6 0 1 0 -15.2 0M355.6 1022.9a7.6 7.6 0 1 0 15.2 0a7.6 7.6 0 1 0 -15.2 0M356.7 1018.6a7.6 7.6 0 1 0 15.2 0a7.6 7.6 0 1 0 -15.2 0M358.6 1019.7a7.6 7.6 0 1 0 15.2 0a7.6 7.6 0 1 0 -15.2 0M360.0 1022.8a7.6 7.6 0 1 0 15.2 0a7.6 7.6 0 1 0 -15.2 0M360.9 1019.2a7.6 7.6 0 1 0 15.2 0a7.6 7.6 0 1 0 -15.2 0M362.0 1018.3a7.6 7.6 0 1 0 15.2 0a7.6 7.6 0 1 0 -15.2 0M363.1 1013.9a7.6 7.6 0 1 0 15.2 0a7.6 7.6 0 1 0 -15.2 0M364.4 1004.0a7.6 7.6 0 1 0 15.2 0a7.6 7.6 0 1 0 -15.2 0M366.2 1002.0a7.6 7.6 0 1 0 15.2 0a7.6 7.6 0 1 0 -15.2 0M366.4 1006.9a7.6 7.6 0 1 0 15.2 0a7.6 7.6 0 1 0 -15.2 0M368.2 1008.0a7.6 7.6 0 1 0 15.2 0a7.6 7.6 0 1 0 -15.2 0M369.1 991.9a7.6 7.6 0 1 0 15.2 0a7.6 7.6 0 1 0 -15.2 0M371.0 994.5a7.6 7.6 0 1 0 15.2 0a7.6 7.6 0 1 0 -15.2 0M372.1 992.2a7.6 7.6 0 1 0 15.2 0a7.6 7.6 0 1 0 -15.2 0M372.5 985.6a7.6 7.6 0 1 0 15.2 0a7.6 7.6 0 1 0 -15.2 0M373.7 996.5a7.6 7.6 0 1 0 15.2 0a7.6 7.6 0 1 0 -15.2 0M375.6 992.8a7.6 7.6 0 1 0 15.2 0a7.6 7.6 0 1 0 -15.2 0M376.2 984.4a7.6 7.6 0 1 0 15.2 0a7.6 7.6 0 1 0 -15.2 0M378.2 980.5a7.6 7.6 0 1 0 15.2 0a7.6 7.6 0 1 0 -15.2 0M379.1 986.0a7.6 7.6 0 1 0 15.2 0a7.6 7.6 0 1 0 -15.2 0M379.6 976.0a7.6 7.6 0 1 0 15.2 0a7.6 7.6 0 1 0 -15.2 0M382.0 973.1a7.6 7.6 0 1 0 15.2 0a7.6 7.6 0 1 0 -15.2 0M381.9 981.3a7.6 7.6 0 1 0 15.2 0a7.6 7.6 0 1 0 -15.2 0M384.0 976.6a7.6 7.6 0 1 0 15.2 0a7.6 7.6 0 1 0 -15.2 0M384.8 965.8a7.6 7.6 0 1 0 15.2 0a7.6 7.6 0 1 0 -15.2 0M385.6 967.6a7.6 7.6 0 1 0 15.2 0a7.6 7.6 0 1 0 -15.2 0M387.6 966.3a7.6 7.6 0 1 0 15.2 0a7.6 7.6 0 1 0 -15.2 0M389.0 973.1a7.6 7.6 0 1 0 15.2 0a7.6 7.6 0 1 0 -15.2 0M389.9 961.2a7.6 7.6 0 1 0 15.2 0a7.6 7.6 0 1 0 -15.2 0M391.7 970.2a7.6 7.6 0 1 0 15.2 0a7.6 7.6 0 1 0 -15.2 0M392.0 959.7a7.6 7.6 0 1 0 15.2 0a7.6 7.6 0 1 0 -15.2 0M393.2 963.6a7.6 7.6 0 1 0 15.2 0a7.6 7.6 0 1 0 -15.2 0M394.4 961.5a7.6 7.6 0 1 0 15.2 0a7.6 7.6 0 1 0 -15.2 0M396.2 955.7a7.6 7.6 0 1 0 15.2 0a7.6 7.6 0 1 0 -15.2 0M397.6 965.4a7.6 7.6 0 1 0 15.2 0a7.6 7.6 0 1 0 -15.2 0M398.7 957.1a7.6 7.6 0 1 0 15.2 0a7.6 7.6 0 1 0 -15.2 0M399.3 955.3a7.6 7.6 0 1 0 15.2 0a7.6 7.6 0 1 0 -15.2 0M401.3 954.2a7.6 7.6 0 1 0 15.2 0a7.6 7.6 0 1 0 -15.2 0M402.2 960.1a7.6 7.6 0 1 0 15.2 0a7.6 7.6 0 1 0 -15.2 0M403.0 955.7a7.6 7.6 0 1 0 15.2 0a7.6 7.6 0 1 0 -15.2 0M470.6 944.7a7.6 7.6 0 1 0 15.2 0a7.6 7.6 0 1 0 -15.2 0M472.0 947.2a7.6 7.6 0 1 0 15.2 0a7.6 7.6 0 1 0 -15.2 0M472.1 939.6a7.6 7.6 0 1 0 15.2 0a7.6 7.6 0 1 0 -15.2 0M473.5 939.3a7.6 7.6 0 1 0 15.2 0a7.6 7.6 0 1 0 -15.2 0M475.2 945.7a7.6 7.6 0 1 0 15.2 0a7.6 7.6 0 1 0 -15.2 0M475.6 947.5a7.6 7.6 0 1 0 15.2 0a7.6 7.6 0 1 0 -15.2 0M477.0 941.6a7.6 7.6 0 1 0 15.2 0a7.6 7.6 0 1 0 -15.2 0M479.1 951.6a7.6 7.6 0 1 0 15.2 0a7.6 7.6 0 1 0 -15.2 0M480.4 950.8a7.6 7.6 0 1 0 15.2 0a7.6 7.6 0 1 0 -15.2 0M480.7 946.8a7.6 7.6 0 1 0 15.2 0a7.6 7.6 0 1 0 -15.2 0M482.9 957.8a7.6 7.6 0 1 0 15.2 0a7.6 7.6 0 1 0 -15.2 0M483.8 958.1a7.6 7.6 0 1 0 15.2 0a7.6 7.6 0 1 0 -15.2 0M485.0 953.9a7.6 7.6 0 1 0 15.2 0a7.6 7.6 0 1 0 -15.2 0M486.1 952.6a7.6 7.6 0 1 0 15.2 0a7.6 7.6 0 1 0 -15.2 0M487.5 957.0a7.6 7.6 0 1 0 15.2 0a7.6 7.6 0 1 0 -15.2 0M487.9 964.1a7.6 7.6 0 1 0 15.2 0a7.6 7.6 0 1 0 -15.2 0M489.2 957.2a7.6 7.6 0 1 0 15.2 0a7.6 7.6 0 1 0 -15.2 0M490.6 960.2a7.6 7.6 0 1 0 15.2 0a7.6 7.6 0 1 0 -15.2 0M491.8 962.3a7.6 7.6 0 1 0 15.2 0a7.6 7.6 0 1 0 -15.2 0M492.8 960.7a7.6 7.6 0 1 0 15.2 0a7.6 7.6 0 1 0 -15.2 0M493.9 962.7a7.6 7.6 0 1 0 15.2 0a7.6 7.6 0 1 0 -15.2 0M494.9 970.4a7.6 7.6 0 1 0 15.2 0a7.6 7.6 0 1 0 -15.2 0M496.1 972.6a7.6 7.6 0 1 0 15.2 0a7.6 7.6 0 1 0 -15.2 0M498.3 969.1a7.6 7.6 0 1 0 15.2 0a7.6 7.6 0 1 0 -15.2 0M498.7 975.3a7.6 7.6 0 1 0 15.2 0a7.6 7.6 0 1 0 -15.2 0M500.6 972.3a7.6 7.6 0 1 0 15.2 0a7.6 7.6 0 1 0 -15.2 0M501.5 966.5a7.6 7.6 0 1 0 15.2 0a7.6 7.6 0 1 0 -15.2 0M502.1 977.4a7.6 7.6 0 1 0 15.2 0a7.6 7.6 0 1 0 -15.2 0M503.5 979.7a7.6 7.6 0 1 0 15.2 0a7.6 7.6 0 1 0 -15.2 0M504.4 980.9a7.6 7.6 0 1 0 15.2 0a7.6 7.6 0 1 0 -15.2 0M506.0 976.9a7.6 7.6 0 1 0 15.2 0a7.6 7.6 0 1 0 -15.2 0M507.6 971.6a7.6 7.6 0 1 0 15.2 0a7.6 7.6 0 1 0 -15.2 0M508.2 976.4a7.6 7.6 0 1 0 15.2 0a7.6 7.6 0 1 0 -15.2 0M509.9 974.9a7.6 7.6 0 1 0 15.2 0a7.6 7.6 0 1 0 -15.2 0M511.2 975.7a7.6 7.6 0 1 0 15.2 0a7.6 7.6 0 1 0 -15.2 0M512.2 982.3a7.6 7.6 0 1 0 15.2 0a7.6 7.6 0 1 0 -15.2 0M512.9 987.1a7.6 7.6 0 1 0 15.2 0a7.6 7.6 0 1 0 -15.2 0M514.7 977.2a7.6 7.6 0 1 0 15.2 0a7.6 7.6 0 1 0 -15.2 0M515.8 979.5a7.6 7.6 0 1 0 15.2 0a7.6 7.6 0 1 0 -15.2 0M517.3 990.7a7.6 7.6 0 1 0 15.2 0a7.6 7.6 0 1 0 -15.2 0M517.8 991.6a7.6 7.6 0 1 0 15.2 0a7.6 7.6 0 1 0 -15.2 0M519.2 984.9a7.6 7.6 0 1 0 15.2 0a7.6 7.6 0 1 0 -15.2 0M520.2 979.4a7.6 7.6 0 1 0 15.2 0a7.6 7.6 0 1 0 -15.2 0M522.1 983.1a7.6 7.6 0 1 0 15.2 0a7.6 7.6 0 1 0 -15.2 0M522.7 983.3a7.6 7.6 0 1 0 15.2 0a7.6 7.6 0 1 0 -15.2 0M524.2 987.7a7.6 7.6 0 1 0 15.2 0a7.6 7.6 0 1 0 -15.2 0M526.0 989.4a7.6 7.6 0 1 0 15.2 0a7.6 7.6 0 1 0 -15.2 0M526.4 982.4a7.6 7.6 0 1 0 15.2 0a7.6 7.6 0 1 0 -15.2 0M528.1 988.4a7.6 7.6 0 1 0 15.2 0a7.6 7.6 0 1 0 -15.2 0M529.8 987.5a7.6 7.6 0 1 0 15.2 0a7.6 7.6 0 1 0 -15.2 0M529.9 996.0a7.6 7.6 0 1 0 15.2 0a7.6 7.6 0 1 0 -15.2 0M531.0 990.6a7.6 7.6 0 1 0 15.2 0a7.6 7.6 0 1 0 -15.2 0M532.1 998.5a7.6 7.6 0 1 0 15.2 0a7.6 7.6 0 1 0 -15.2 0M533.8 1002.0a7.6 7.6 0 1 0 15.2 0a7.6 7.6 0 1 0 -15.2 0M534.8 994.7a7.6 7.6 0 1 0 15.2 0a7.6 7.6 0 1 0 -15.2 0M536.6 1000.9a7.6 7.6 0 1 0 15.2 0a7.6 7.6 0 1 0 -15.2 0M537.5 995.4a7.6 7.6 0 1 0 15.2 0a7.6 7.6 0 1 0 -15.2 0M539.3 996.8a7.6 7.6 0 1 0 15.2 0a7.6 7.6 0 1 0 -15.2 0M540.1 996.5a7.6 7.6 0 1 0 15.2 0a7.6 7.6 0 1 0 -15.2 0M541.7 999.4a7.6 7.6 0 1 0 15.2 0a7.6 7.6 0 1 0 -15.2 0M542.4 1004.0a7.6 7.6 0 1 0 15.2 0a7.6 7.6 0 1 0 -15.2 0M544.1 1002.0a7.6 7.6 0 1 0 15.2 0a7.6 7.6 0 1 0 -15.2 0M544.1 1000.7a7.6 7.6 0 1 0 15.2 0a7.6 7.6 0 1 0 -15.2 0M545.7 1011.2a7.6 7.6 0 1 0 15.2 0a7.6 7.6 0 1 0 -15.2 0M547.2 1004.2a7.6 7.6 0 1 0 15.2 0a7.6 7.6 0 1 0 -15.2 0M547.8 1012.0a7.6 7.6 0 1 0 15.2 0a7.6 7.6 0 1 0 -15.2 0M549.8 1007.5a7.6 7.6 0 1 0 15.2 0a7.6 7.6 0 1 0 -15.2 0M550.7 1005.2a7.6 7.6 0 1 0 15.2 0a7.6 7.6 0 1 0 -15.2 0M551.3 1012.7a7.6 7.6 0 1 0 15.2 0a7.6 7.6 0 1 0 -15.2 0M553.0 1020.4a7.6 7.6 0 1 0 15.2 0a7.6 7.6 0 1 0 -15.2 0M554.0 1017.7a7.6 7.6 0 1 0 15.2 0a7.6 7.6 0 1 0 -15.2 0M556.2 1022.3a7.6 7.6 0 1 0 15.2 0a7.6 7.6 0 1 0 -15.2 0M556.8 1013.1a7.6 7.6 0 1 0 15.2 0a7.6 7.6 0 1 0 -15.2 0M558.7 1012.7a7.6 7.6 0 1 0 15.2 0a7.6 7.6 0 1 0 -15.2 0M558.8 1017.8a7.6 7.6 0 1 0 15.2 0a7.6 7.6 0 1 0 -15.2 0M560.7 1027.8a7.6 7.6 0 1 0 15.2 0a7.6 7.6 0 1 0 -15.2 0M561.8 1022.6a7.6 7.6 0 1 0 15.2 0a7.6 7.6 0 1 0 -15.2 0M562.3 1017.2a7.6 7.6 0 1 0 15.2 0a7.6 7.6 0 1 0 -15.2 0M564.1 1022.5a7.6 7.6 0 1 0 15.2 0a7.6 7.6 0 1 0 -15.2 0M564.6 1024.5a7.6 7.6 0 1 0 15.2 0a7.6 7.6 0 1 0 -15.2 0M566.1 1027.1a7.6 7.6 0 1 0 15.2 0a7.6 7.6 0 1 0 -15.2 0M568.1 1023.0a7.6 7.6 0 1 0 15.2 0a7.6 7.6 0 1 0 -15.2 0M569.0 1028.1a7.6 7.6 0 1 0 15.2 0a7.6 7.6 0 1 0 -15.2 0M570.6 1028.9a7.6 7.6 0 1 0 15.2 0a7.6 7.6 0 1 0 -15.2 0M571.2 1021.7a7.6 7.6 0 1 0 15.2 0a7.6 7.6 0 1 0 -15.2 0M572.1 1026.7a7.6 7.6 0 1 0 15.2 0a7.6 7.6 0 1 0 -15.2 0M574.2 1028.4a7.6 7.6 0 1 0 15.2 0a7.6 7.6 0 1 0 -15.2 0M574.8 1027.1a7.6 7.6 0 1 0 15.2 0a7.6 7.6 0 1 0 -15.2 0M576.2 1018.5a7.6 7.6 0 1 0 15.2 0a7.6 7.6 0 1 0 -15.2 0M577.0 1024.5a7.6 7.6 0 1 0 15.2 0a7.6 7.6 0 1 0 -15.2 0M578.2 1029.1a7.6 7.6 0 1 0 15.2 0a7.6 7.6 0 1 0 -15.2 0M579.7 1020.8a7.6 7.6 0 1 0 15.2 0a7.6 7.6 0 1 0 -15.2 0M580.3 1020.4a7.6 7.6 0 1 0 15.2 0a7.6 7.6 0 1 0 -15.2 0M582.6 1023.1a7.6 7.6 0 1 0 15.2 0a7.6 7.6 0 1 0 -15.2 0M583.4 1024.5a7.6 7.6 0 1 0 15.2 0a7.6 7.6 0 1 0 -15.2 0M585.0 1028.9a7.6 7.6 0 1 0 15.2 0a7.6 7.6 0 1 0 -15.2 0M585.2 1021.9a7.6 7.6 0 1 0 15.2 0a7.6 7.6 0 1 0 -15.2 0M586.8 1028.2a7.6 7.6 0 1 0 15.2 0a7.6 7.6 0 1 0 -15.2 0M587.4 1022.7a7.6 7.6 0 1 0 15.2 0a7.6 7.6 0 1 0 -15.2 0M589.8 1016.6a7.6 7.6 0 1 0 15.2 0a7.6 7.6 0 1 0 -15.2 0M589.8 1024.2a7.6 7.6 0 1 0 15.2 0a7.6 7.6 0 1 0 -15.2 0M591.6 1019.1a7.6 7.6 0 1 0 15.2 0a7.6 7.6 0 1 0 -15.2 0M592.8 1021.0a7.6 7.6 0 1 0 15.2 0a7.6 7.6 0 1 0 -15.2 0M594.5 1027.5a7.6 7.6 0 1 0 15.2 0a7.6 7.6 0 1 0 -15.2 0M594.8 1017.9a7.6 7.6 0 1 0 15.2 0a7.6 7.6 0 1 0 -15.2 0M596.2 1024.3a7.6 7.6 0 1 0 15.2 0a7.6 7.6 0 1 0 -15.2 0M597.6 1019.3a7.6 7.6 0 1 0 15.2 0a7.6 7.6 0 1 0 -15.2 0M599.3 1020.0a7.6 7.6 0 1 0 15.2 0a7.6 7.6 0 1 0 -15.2 0M600.4 1028.7a7.6 7.6 0 1 0 15.2 0a7.6 7.6 0 1 0 -15.2 0M601.8 1026.8a7.6 7.6 0 1 0 15.2 0a7.6 7.6 0 1 0 -15.2 0M602.8 1025.7a7.6 7.6 0 1 0 15.2 0a7.6 7.6 0 1 0 -15.2 0M603.3 1028.9a7.6 7.6 0 1 0 15.2 0a7.6 7.6 0 1 0 -15.2 0M605.5 1024.7a7.6 7.6 0 1 0 15.2 0a7.6 7.6 0 1 0 -15.2 0M605.5 1026.1a7.6 7.6 0 1 0 15.2 0a7.6 7.6 0 1 0 -15.2 0M607.0 1025.3a7.6 7.6 0 1 0 15.2 0a7.6 7.6 0 1 0 -15.2 0M608.5 1025.0a7.6 7.6 0 1 0 15.2 0a7.6 7.6 0 1 0 -15.2 0M609.3 1026.0a7.6 7.6 0 1 0 15.2 0a7.6 7.6 0 1 0 -15.2 0M611.1 1029.4a7.6 7.6 0 1 0 15.2 0a7.6 7.6 0 1 0 -15.2 0M611.6 1023.4a7.6 7.6 0 1 0 15.2 0a7.6 7.6 0 1 0 -15.2 0M612.5 1019.8a7.6 7.6 0 1 0 15.2 0a7.6 7.6 0 1 0 -15.2 0M614.7 1019.4a7.6 7.6 0 1 0 15.2 0a7.6 7.6 0 1 0 -15.2 0M615.4 1017.5a7.6 7.6 0 1 0 15.2 0a7.6 7.6 0 1 0 -15.2 0M617.3 1018.6a7.6 7.6 0 1 0 15.2 0a7.6 7.6 0 1 0 -15.2 0M618.0 1013.2a7.6 7.6 0 1 0 15.2 0a7.6 7.6 0 1 0 -15.2 0M619.2 1025.4a7.6 7.6 0 1 0 15.2 0a7.6 7.6 0 1 0 -15.2 0M620.9 1016.6a7.6 7.6 0 1 0 15.2 0a7.6 7.6 0 1 0 -15.2 0M621.5 1011.6a7.6 7.6 0 1 0 15.2 0a7.6 7.6 0 1 0 -15.2 0M622.7 1015.6a7.6 7.6 0 1 0 15.2 0a7.6 7.6 0 1 0 -15.2 0M623.9 1012.0a7.6 7.6 0 1 0 15.2 0a7.6 7.6 0 1 0 -15.2 0M624.7 1012.1a7.6 7.6 0 1 0 15.2 0a7.6 7.6 0 1 0 -15.2 0M627.1 1013.9a7.6 7.6 0 1 0 15.2 0a7.6 7.6 0 1 0 -15.2 0M627.9 1015.0a7.6 7.6 0 1 0 15.2 0a7.6 7.6 0 1 0 -15.2 0M629.3 1009.9a7.6 7.6 0 1 0 15.2 0a7.6 7.6 0 1 0 -15.2 0M630.5 1006.3a7.6 7.6 0 1 0 15.2 0a7.6 7.6 0 1 0 -15.2 0M630.9 1012.2a7.6 7.6 0 1 0 15.2 0a7.6 7.6 0 1 0 -15.2 0M632.8 1006.6a7.6 7.6 0 1 0 15.2 0a7.6 7.6 0 1 0 -15.2 0M632.9 1003.7a7.6 7.6 0 1 0 15.2 0a7.6 7.6 0 1 0 -15.2 0M635.0 1014.2a7.6 7.6 0 1 0 15.2 0a7.6 7.6 0 1 0 -15.2 0M636.7 1001.4a7.6 7.6 0 1 0 15.2 0a7.6 7.6 0 1 0 -15.2 0M637.1 1002.9a7.6 7.6 0 1 0 15.2 0a7.6 7.6 0 1 0 -15.2 0M638.6 1011.2a7.6 7.6 0 1 0 15.2 0a7.6 7.6 0 1 0 -15.2 0M639.5 999.2a7.6 7.6 0 1 0 15.2 0a7.6 7.6 0 1 0 -15.2 0M641.4 1000.7a7.6 7.6 0 1 0 15.2 0a7.6 7.6 0 1 0 -15.2 0M642.4 1008.8a7.6 7.6 0 1 0 15.2 0a7.6 7.6 0 1 0 -15.2 0M643.0 1004.2a7.6 7.6 0 1 0 15.2 0a7.6 7.6 0 1 0 -15.2 0M644.5 1005.1a7.6 7.6 0 1 0 15.2 0a7.6 7.6 0 1 0 -15.2 0M646.0 998.0a7.6 7.6 0 1 0 15.2 0a7.6 7.6 0 1 0 -15.2 0M646.2 1002.4a7.6 7.6 0 1 0 15.2 0a7.6 7.6 0 1 0 -15.2 0M648.2 991.2a7.6 7.6 0 1 0 15.2 0a7.6 7.6 0 1 0 -15.2 0M649.8 998.8a7.6 7.6 0 1 0 15.2 0a7.6 7.6 0 1 0 -15.2 0M650.4 998.8a7.6 7.6 0 1 0 15.2 0a7.6 7.6 0 1 0 -15.2 0M651.3 995.8a7.6 7.6 0 1 0 15.2 0a7.6 7.6 0 1 0 -15.2 0M653.3 997.6a7.6 7.6 0 1 0 15.2 0a7.6 7.6 0 1 0 -15.2 0M654.3 983.3a7.6 7.6 0 1 0 15.2 0a7.6 7.6 0 1 0 -15.2 0M655.1 992.0a7.6 7.6 0 1 0 15.2 0a7.6 7.6 0 1 0 -15.2 0M656.6 987.4a7.6 7.6 0 1 0 15.2 0a7.6 7.6 0 1 0 -15.2 0M657.5 981.3a7.6 7.6 0 1 0 15.2 0a7.6 7.6 0 1 0 -15.2 0M659.3 984.9a7.6 7.6 0 1 0 15.2 0a7.6 7.6 0 1 0 -15.2 0M659.9 983.8a7.6 7.6 0 1 0 15.2 0a7.6 7.6 0 1 0 -15.2 0M660.9 978.1a7.6 7.6 0 1 0 15.2 0a7.6 7.6 0 1 0 -15.2 0M662.5 975.2a7.6 7.6 0 1 0 15.2 0a7.6 7.6 0 1 0 -15.2 0M663.3 967.7a7.6 7.6 0 1 0 15.2 0a7.6 7.6 0 1 0 -15.2 0M665.1 966.3a7.6 7.6 0 1 0 15.2 0a7.6 7.6 0 1 0 -15.2 0M666.1 974.7a7.6 7.6 0 1 0 15.2 0a7.6 7.6 0 1 0 -15.2 0M667.6 967.5a7.6 7.6 0 1 0 15.2 0a7.6 7.6 0 1 0 -15.2 0M668.6 975.2a7.6 7.6 0 1 0 15.2 0a7.6 7.6 0 1 0 -15.2 0M670.2 967.8a7.6 7.6 0 1 0 15.2 0a7.6 7.6 0 1 0 -15.2 0M671.3 969.7a7.6 7.6 0 1 0 15.2 0a7.6 7.6 0 1 0 -15.2 0M671.8 964.4a7.6 7.6 0 1 0 15.2 0a7.6 7.6 0 1 0 -15.2 0M673.4 963.3a7.6 7.6 0 1 0 15.2 0a7.6 7.6 0 1 0 -15.2 0M674.8 962.1a7.6 7.6 0 1 0 15.2 0a7.6 7.6 0 1 0 -15.2 0M676.1 962.0a7.6 7.6 0 1 0 15.2 0a7.6 7.6 0 1 0 -15.2 0M677.4 962.1a7.6 7.6 0 1 0 15.2 0a7.6 7.6 0 1 0 -15.2 0M677.8 961.6a7.6 7.6 0 1 0 15.2 0a7.6 7.6 0 1 0 -15.2 0M679.4 964.3a7.6 7.6 0 1 0 15.2 0a7.6 7.6 0 1 0 -15.2 0M679.9 960.1a7.6 7.6 0 1 0 15.2 0a7.6 7.6 0 1 0 -15.2 0M682.0 966.3a7.6 7.6 0 1 0 15.2 0a7.6 7.6 0 1 0 -15.2 0M682.3 968.2a7.6 7.6 0 1 0 15.2 0a7.6 7.6 0 1 0 -15.2 0M684.7 963.5a7.6 7.6 0 1 0 15.2 0a7.6 7.6 0 1 0 -15.2 0M685.9 964.5a7.6 7.6 0 1 0 15.2 0a7.6 7.6 0 1 0 -15.2 0M686.1 961.4a7.6 7.6 0 1 0 15.2 0a7.6 7.6 0 1 0 -15.2 0M687.6 963.0a7.6 7.6 0 1 0 15.2 0a7.6 7.6 0 1 0 -15.2 0M689.2 965.3a7.6 7.6 0 1 0 15.2 0a7.6 7.6 0 1 0 -15.2 0M689.5 974.3a7.6 7.6 0 1 0 15.2 0a7.6 7.6 0 1 0 -15.2 0M690.7 968.2a7.6 7.6 0 1 0 15.2 0a7.6 7.6 0 1 0 -15.2 0M693.0 970.8a7.6 7.6 0 1 0 15.2 0a7.6 7.6 0 1 0 -15.2 0M694.4 976.9a7.6 7.6 0 1 0 15.2 0a7.6 7.6 0 1 0 -15.2 0M695.3 976.0a7.6 7.6 0 1 0 15.2 0a7.6 7.6 0 1 0 -15.2 0M696.5 987.2a7.6 7.6 0 1 0 15.2 0a7.6 7.6 0 1 0 -15.2 0M697.3 994.8a7.6 7.6 0 1 0 15.2 0a7.6 7.6 0 1 0 -15.2 0M698.7 991.3a7.6 7.6 0 1 0 15.2 0a7.6 7.6 0 1 0 -15.2 0M699.8 990.9a7.6 7.6 0 1 0 15.2 0a7.6 7.6 0 1 0 -15.2 0M701.5 991.4a7.6 7.6 0 1 0 15.2 0a7.6 7.6 0 1 0 -15.2 0M701.7 1004.1a7.6 7.6 0 1 0 15.2 0a7.6 7.6 0 1 0 -15.2 0M703.8 1008.0a7.6 7.6 0 1 0 15.2 0a7.6 7.6 0 1 0 -15.2 0M705.1 1003.0a7.6 7.6 0 1 0 15.2 0a7.6 7.6 0 1 0 -15.2 0M705.1 1010.4a7.6 7.6 0 1 0 15.2 0a7.6 7.6 0 1 0 -15.2 0M707.5 1004.5a7.6 7.6 0 1 0 15.2 0a7.6 7.6 0 1 0 -15.2 0M708.0 1014.5a7.6 7.6 0 1 0 15.2 0a7.6 7.6 0 1 0 -15.2 0M709.9 1019.4a7.6 7.6 0 1 0 15.2 0a7.6 7.6 0 1 0 -15.2 0M710.5 1019.8a7.6 7.6 0 1 0 15.2 0a7.6 7.6 0 1 0 -15.2 0M712.2 1025.5a7.6 7.6 0 1 0 15.2 0a7.6 7.6 0 1 0 -15.2 0M712.8 1027.7a7.6 7.6 0 1 0 15.2 0a7.6 7.6 0 1 0 -15.2 0M714.4 1022.9a7.6 7.6 0 1 0 15.2 0a7.6 7.6 0 1 0 -15.2 0M715.2 1021.8a7.6 7.6 0 1 0 15.2 0a7.6 7.6 0 1 0 -15.2 0M716.0 1027.3a7.6 7.6 0 1 0 15.2 0a7.6 7.6 0 1 0 -15.2 0M717.1 1034.4a7.6 7.6 0 1 0 15.2 0a7.6 7.6 0 1 0 -15.2 0M718.8 1035.8a7.6 7.6 0 1 0 15.2 0a7.6 7.6 0 1 0 -15.2 0M719.4 1031.7a7.6 7.6 0 1 0 15.2 0a7.6 7.6 0 1 0 -15.2 0M721.2 1042.2a7.6 7.6 0 1 0 15.2 0a7.6 7.6 0 1 0 -15.2 0M723.0 1036.2a7.6 7.6 0 1 0 15.2 0a7.6 7.6 0 1 0 -15.2 0M724.0 1050.2a7.6 7.6 0 1 0 15.2 0a7.6 7.6 0 1 0 -15.2 0M725.6 1045.7a7.6 7.6 0 1 0 15.2 0a7.6 7.6 0 1 0 -15.2 0M726.0 1049.9a7.6 7.6 0 1 0 15.2 0a7.6 7.6 0 1 0 -15.2 0M726.8 1053.7a7.6 7.6 0 1 0 15.2 0a7.6 7.6 0 1 0 -15.2 0M728.4 1045.7a7.6 7.6 0 1 0 15.2 0a7.6 7.6 0 1 0 -15.2 0M729.9 1049.5a7.6 7.6 0 1 0 15.2 0a7.6 7.6 0 1 0 -15.2 0M730.2 1051.4a7.6 7.6 0 1 0 15.2 0a7.6 7.6 0 1 0 -15.2 0M731.7 1049.6a7.6 7.6 0 1 0 15.2 0a7.6 7.6 0 1 0 -15.2 0M733.4 1059.8a7.6 7.6 0 1 0 15.2 0a7.6 7.6 0 1 0 -15.2 0M734.9 1061.3a7.6 7.6 0 1 0 15.2 0a7.6 7.6 0 1 0 -15.2 0M735.3 1059.9a7.6 7.6 0 1 0 15.2 0a7.6 7.6 0 1 0 -15.2 0M736.7 1051.1a7.6 7.6 0 1 0 15.2 0a7.6 7.6 0 1 0 -15.2 0M738.7 1061.7a7.6 7.6 0 1 0 15.2 0a7.6 7.6 0 1 0 -15.2 0M739.8 1064.2a7.6 7.6 0 1 0 15.2 0a7.6 7.6 0 1 0 -15.2 0M740.0 1062.5a7.6 7.6 0 1 0 15.2 0a7.6 7.6 0 1 0 -15.2 0M741.2 1061.3a7.6 7.6 0 1 0 15.2 0a7.6 7.6 0 1 0 -15.2 0M742.2 1055.7a7.6 7.6 0 1 0 15.2 0a7.6 7.6 0 1 0 -15.2 0M744.5 1065.1a7.6 7.6 0 1 0 15.2 0a7.6 7.6 0 1 0 -15.2 0M745.1 1062.1a7.6 7.6 0 1 0 15.2 0a7.6 7.6 0 1 0 -15.2 0M745.9 1063.2a7.6 7.6 0 1 0 15.2 0a7.6 7.6 0 1 0 -15.2 0M747.8 1055.4a7.6 7.6 0 1 0 15.2 0a7.6 7.6 0 1 0 -15.2 0M748.9 1055.5a7.6 7.6 0 1 0 15.2 0a7.6 7.6 0 1 0 -15.2 0M750.1 1055.2a7.6 7.6 0 1 0 15.2 0a7.6 7.6 0 1 0 -15.2 0M751.3 1064.8a7.6 7.6 0 1 0 15.2 0a7.6 7.6 0 1 0 -15.2 0M751.9 1053.1a7.6 7.6 0 1 0 15.2 0a7.6 7.6 0 1 0 -15.2 0M754.3 1055.5a7.6 7.6 0 1 0 15.2 0a7.6 7.6 0 1 0 -15.2 0M754.9 1059.1a7.6 7.6 0 1 0 15.2 0a7.6 7.6 0 1 0 -15.2 0M755.5 1052.8a7.6 7.6 0 1 0 15.2 0a7.6 7.6 0 1 0 -15.2 0M757.2 1059.5a7.6 7.6 0 1 0 15.2 0a7.6 7.6 0 1 0 -15.2 0M758.5 1056.3a7.6 7.6 0 1 0 15.2 0a7.6 7.6 0 1 0 -15.2 0M759.1 1052.8a7.6 7.6 0 1 0 15.2 0a7.6 7.6 0 1 0 -15.2 0M761.1 1064.1a7.6 7.6 0 1 0 15.2 0a7.6 7.6 0 1 0 -15.2 0M761.8 1063.8a7.6 7.6 0 1 0 15.2 0a7.6 7.6 0 1 0 -15.2 0M763.4 1055.2a7.6 7.6 0 1 0 15.2 0a7.6 7.6 0 1 0 -15.2 0M765.3 1059.0a7.6 7.6 0 1 0 15.2 0a7.6 7.6 0 1 0 -15.2 0M765.7 1055.5a7.6 7.6 0 1 0 15.2 0a7.6 7.6 0 1 0 -15.2 0M766.4 1053.8a7.6 7.6 0 1 0 15.2 0a7.6 7.6 0 1 0 -15.2 0M768.6 1051.8a7.6 7.6 0 1 0 15.2 0a7.6 7.6 0 1 0 -15.2 0M769.7 1051.8a7.6 7.6 0 1 0 15.2 0a7.6 7.6 0 1 0 -15.2 0M770.1 1050.2a7.6 7.6 0 1 0 15.2 0a7.6 7.6 0 1 0 -15.2 0M771.4 1053.3a7.6 7.6 0 1 0 15.2 0a7.6 7.6 0 1 0 -15.2 0M772.9 1054.3a7.6 7.6 0 1 0 15.2 0a7.6 7.6 0 1 0 -15.2 0M773.6 1052.6a7.6 7.6 0 1 0 15.2 0a7.6 7.6 0 1 0 -15.2 0M775.6 1051.8a7.6 7.6 0 1 0 15.2 0a7.6 7.6 0 1 0 -15.2 0M776.0 1052.0a7.6 7.6 0 1 0 15.2 0a7.6 7.6 0 1 0 -15.2 0M777.1 1043.6a7.6 7.6 0 1 0 15.2 0a7.6 7.6 0 1 0 -15.2 0M778.4 1044.3a7.6 7.6 0 1 0 15.2 0a7.6 7.6 0 1 0 -15.2 0M780.5 1054.1a7.6 7.6 0 1 0 15.2 0a7.6 7.6 0 1 0 -15.2 0M781.4 1043.3a7.6 7.6 0 1 0 15.2 0a7.6 7.6 0 1 0 -15.2 0M782.6 1045.9a7.6 7.6 0 1 0 15.2 0a7.6 7.6 0 1 0 -15.2 0M783.2 1049.0a7.6 7.6 0 1 0 15.2 0a7.6 7.6 0 1 0 -15.2 0M785.2 1048.1a7.6 7.6 0 1 0 15.2 0a7.6 7.6 0 1 0 -15.2 0M786.7 1041.9a7.6 7.6 0 1 0 15.2 0a7.6 7.6 0 1 0 -15.2 0M788.0 1041.9a7.6 7.6 0 1 0 15.2 0a7.6 7.6 0 1 0 -15.2 0M788.3 1043.2a7.6 7.6 0 1 0 15.2 0a7.6 7.6 0 1 0 -15.2 0M789.3 1043.2a7.6 7.6 0 1 0 15.2 0a7.6 7.6 0 1 0 -15.2 0M790.6 1041.8a7.6 7.6 0 1 0 15.2 0a7.6 7.6 0 1 0 -15.2 0M792.7 1049.4a7.6 7.6 0 1 0 15.2 0a7.6 7.6 0 1 0 -15.2 0M793.7 1045.7a7.6 7.6 0 1 0 15.2 0a7.6 7.6 0 1 0 -15.2 0M795.0 1042.8a7.6 7.6 0 1 0 15.2 0a7.6 7.6 0 1 0 -15.2 0M796.5 1039.1a7.6 7.6 0 1 0 15.2 0a7.6 7.6 0 1 0 -15.2 0M797.1 1039.6a7.6 7.6 0 1 0 15.2 0a7.6 7.6 0 1 0 -15.2 0M797.5 1042.4a7.6 7.6 0 1 0 15.2 0a7.6 7.6 0 1 0 -15.2 0M799.8 1038.7a7.6 7.6 0 1 0 15.2 0a7.6 7.6 0 1 0 -15.2 0M800.1 1048.5a7.6 7.6 0 1 0 15.2 0a7.6 7.6 0 1 0 -15.2 0M801.5 1042.9a7.6 7.6 0 1 0 15.2 0a7.6 7.6 0 1 0 -15.2 0M802.3 1048.7a7.6 7.6 0 1 0 15.2 0a7.6 7.6 0 1 0 -15.2 0M804.3 1041.9a7.6 7.6 0 1 0 15.2 0a7.6 7.6 0 1 0 -15.2 0M804.9 1049.4a7.6 7.6 0 1 0 15.2 0a7.6 7.6 0 1 0 -15.2 0M805.9 1047.0a7.6 7.6 0 1 0 15.2 0a7.6 7.6 0 1 0 -15.2 0M807.4 1046.5a7.6 7.6 0 1 0 15.2 0a7.6 7.6 0 1 0 -15.2 0M808.8 1052.3a7.6 7.6 0 1 0 15.2 0a7.6 7.6 0 1 0 -15.2 0M810.5 1054.3a7.6 7.6 0 1 0 15.2 0a7.6 7.6 0 1 0 -15.2 0M811.5 1049.9a7.6 7.6 0 1 0 15.2 0a7.6 7.6 0 1 0 -15.2 0M811.9 1061.1a7.6 7.6 0 1 0 15.2 0a7.6 7.6 0 1 0 -15.2 0M814.0 1061.8a7.6 7.6 0 1 0 15.2 0a7.6 7.6 0 1 0 -15.2 0M814.7 1056.2a7.6 7.6 0 1 0 15.2 0a7.6 7.6 0 1 0 -15.2 0M816.2 1058.2a7.6 7.6 0 1 0 15.2 0a7.6 7.6 0 1 0 -15.2 0M817.1 1063.2a7.6 7.6 0 1 0 15.2 0a7.6 7.6 0 1 0 -15.2 0M818.0 1060.8a7.6 7.6 0 1 0 15.2 0a7.6 7.6 0 1 0 -15.2 0M819.5 1067.3a7.6 7.6 0 1 0 15.2 0a7.6 7.6 0 1 0 -15.2 0M821.0 1065.7a7.6 7.6 0 1 0 15.2 0a7.6 7.6 0 1 0 -15.2 0M821.5 1067.8a7.6 7.6 0 1 0 15.2 0a7.6 7.6 0 1 0 -15.2 0M823.5 1073.6a7.6 7.6 0 1 0 15.2 0a7.6 7.6 0 1 0 -15.2 0M824.3 1081.1a7.6 7.6 0 1 0 15.2 0a7.6 7.6 0 1 0 -15.2 0M825.3 1080.3a7.6 7.6 0 1 0 15.2 0a7.6 7.6 0 1 0 -15.2 0M826.7 1081.7a7.6 7.6 0 1 0 15.2 0a7.6 7.6 0 1 0 -15.2 0M828.6 1087.2a7.6 7.6 0 1 0 15.2 0a7.6 7.6 0 1 0 -15.2 0M829.2 1086.9a7.6 7.6 0 1 0 15.2 0a7.6 7.6 0 1 0 -15.2 0M830.6 1081.4a7.6 7.6 0 1 0 15.2 0a7.6 7.6 0 1 0 -15.2 0M832.2 1081.6a7.6 7.6 0 1 0 15.2 0a7.6 7.6 0 1 0 -15.2 0M833.5 1094.4a7.6 7.6 0 1 0 15.2 0a7.6 7.6 0 1 0 -15.2 0M833.5 1096.8a7.6 7.6 0 1 0 15.2 0a7.6 7.6 0 1 0 -15.2 0M835.9 1086.4a7.6 7.6 0 1 0 15.2 0a7.6 7.6 0 1 0 -15.2 0M836.7 1093.3a7.6 7.6 0 1 0 15.2 0a7.6 7.6 0 1 0 -15.2 0M837.7 1093.4a7.6 7.6 0 1 0 15.2 0a7.6 7.6 0 1 0 -15.2 0M838.3 1103.8a7.6 7.6 0 1 0 15.2 0a7.6 7.6 0 1 0 -15.2 0M840.6 1102.7a7.6 7.6 0 1 0 15.2 0a7.6 7.6 0 1 0 -15.2 0M841.9 1100.5a7.6 7.6 0 1 0 15.2 0a7.6 7.6 0 1 0 -15.2 0M842.0 1098.1a7.6 7.6 0 1 0 15.2 0a7.6 7.6 0 1 0 -15.2 0M843.4 1100.9a7.6 7.6 0 1 0 15.2 0a7.6 7.6 0 1 0 -15.2 0M845.0 1106.3a7.6 7.6 0 1 0 15.2 0a7.6 7.6 0 1 0 -15.2 0M845.9 1110.7a7.6 7.6 0 1 0 15.2 0a7.6 7.6 0 1 0 -15.2 0M847.2 1113.0a7.6 7.6 0 1 0 15.2 0a7.6 7.6 0 1 0 -15.2 0M848.6 1116.9a7.6 7.6 0 1 0 15.2 0a7.6 7.6 0 1 0 -15.2 0M849.8 1118.8a7.6 7.6 0 1 0 15.2 0a7.6 7.6 0 1 0 -15.2 0M850.8 1108.7a7.6 7.6 0 1 0 15.2 0a7.6 7.6 0 1 0 -15.2 0M852.7 1112.2a7.6 7.6 0 1 0 15.2 0a7.6 7.6 0 1 0 -15.2 0M853.0 1111.8a7.6 7.6 0 1 0 15.2 0a7.6 7.6 0 1 0 -15.2 0M854.2 1122.1a7.6 7.6 0 1 0 15.2 0a7.6 7.6 0 1 0 -15.2 0M856.2 1116.5a7.6 7.6 0 1 0 15.2 0a7.6 7.6 0 1 0 -15.2 0M219.0 1050.9a7.6 7.6 0 1 0 15.2 0a7.6 7.6 0 1 0 -15.2 0M740.4 1044.0a7.6 7.6 0 1 0 15.2 0a7.6 7.6 0 1 0 -15.2 0M790.4 1036.0a7.6 7.6 0 1 0 15.2 0a7.6 7.6 0 1 0 -15.2 0M681.1 955.0a7.6 7.6 0 1 0 15.2 0a7.6 7.6 0 1 0 -15.2 0M217.4 1052.0a7.6 7.6 0 1 0 15.2 0a7.6 7.6 0 1 0 -15.2 0M232.4 1082.0a7.6 7.6 0 1 0 15.2 0a7.6 7.6 0 1 0 -15.2 0M292.4 1100.0a7.6 7.6 0 1 0 15.2 0a7.6 7.6 0 1 0 -15.2 0M132.4 1202.0a7.6 7.6 0 1 0 15.2 0a7.6 7.6 0 1 0 -15.2 0M177.4 1200.0a7.6 7.6 0 1 0 15.2 0a7.6 7.6 0 1 0 -15.2 0M152.4 1257.5a7.6 7.6 0 1 0 15.2 0a7.6 7.6 0 1 0 -15.2 0M107.4 1258.0a7.6 7.6 0 1 0 15.2 0a7.6 7.6 0 1 0 -15.2 0M117.4 1255.0a7.6 7.6 0 1 0 15.2 0a7.6 7.6 0 1 0 -15.2 0M100.4 1256.0a7.6 7.6 0 1 0 15.2 0a7.6 7.6 0 1 0 -15.2 0" fill="none" stroke="#0000ff" stroke-width="1.2"/>
<path d="M170.2 1192.8a7.6 7.6 0 1 0 15.2 0a7.6 7.6 0 1 0 -15.2 0M171.1 1188.9a7.6 7.6 0 1 0 15.2 0a7.6 7.6 0 1 0 -15.2 0M172.3 1183.3a7.6 7.6 0 1 0 15.2 0a7.6 7.6 0 1 0 -15.2 0M173.3 1179.2a7.6 7.6 0 1 0 15.2 0a7.6 7.6 0 1 0 -15.2 0M172.6 1174.7a7.6 7.6 0 1 0 15.2 0a7.6 7.6 0 1 0 -15.2 0M173.7 1170.1a7.6 7.6 0 1 0 15.2 0a7.6 7.6 0 1 0 -15.2 0M176.3 1167.9a7.6 7.6 0 1 0 15.2 0a7.6 7.6 0 1 0 -15.2 0M178.1 1160.9a7.6 7.6 0 1 0 15.2 0a7.6 7.6 0 1 0 -15.2 0M178.2 1155.4a7.6 7.6 0 1 0 15.2 0a7.6 7.6 0 1 0 -15.2 0M181.0 1148.8a7.6 7.6 0 1 0 15.2 0a7.6 7.6 0 1 0 -15.2 0M183.0 1140.2a7.6 7.6 0 1 0 15.2 0a7.6 7.6 0 1 0 -15.2 0M183.7 1135.5a7.6 7.6 0 1 0 15.2 0a7.6 7.6 0 1 0 -15.2 0M184.3 1132.6a7.6 7.6 0 1 0 15.2 0a7.6 7.6 0 1 0 -15.2 0M185.2 1128.2a7.6 7.6 0 1 0 15.2 0a7.6 7.6 0 1 0 -15.2 0M188.0 1124.3a7.6 7.6 0 1 0 15.2 0a7.6 7.6 0 1 0 -15.2 0M188.0 1120.0a7.6 7.6 0 1 0 15.2 0a7.6 7.6 0 1 0 -15.2 0M190.3 1112.6a7.6 7.6 0 1 0 15.2 0a7.6 7.6 0 1 0 -15.2 0M191.4 1109.3a7.6 7.6 0 1 0 15.2 0a7.6 7.6 0 1 0 -15.2 0M193.8 1101.2a7.6 7.6 0 1 0 15.2 0a7.6 7.6 0 1 0 -15.2 0M194.8 1097.3a7.6 7.6 0 1 0 15.2 0a7.6 7.6 0 1 0 -15.2 0M195.7 1090.7a7.6 7.6 0 1 0 15.2 0a7.6 7.6 0 1 0 -15.2 0M197.4 1086.9a7.6 7.6 0 1 0 15.2 0a7.6 7.6 0 1 0 -15.2 0M198.7 1082.2a7.6 7.6 0 1 0 15.2 0a7.6 7.6 0 1 0 -15.2 0M200.1 1077.1a7.6 7.6 0 1 0 15.2 0a7.6 7.6 0 1 0 -15.2 0M202.7 1073.2a7.6 7.6 0 1 0 15.2 0a7.6 7.6 0 1 0 -15.2 0M204.3 1068.0a7.6 7.6 0 1 0 15.2 0a7.6 7.6 0 1 0 -15.2 0M205.9 1064.0a7.6 7.6 0 1 0 15.2 0a7.6 7.6 0 1 0 -15.2 0M207.9 1060.8a7.6 7.6 0 1 0 15.2 0a7.6 7.6 0 1 0 -15.2 0M209.4 1060.3a7.6 7.6 0 1 0 15.2 0a7.6 7.6 0 1 0 -15.2 0M212.9 1060.7a7.6 7.6 0 1 0 15.2 0a7.6 7.6 0 1 0 -15.2 0M215.2 1058.0a7.6 7.6 0 1 0 15.2 0a7.6 7.6 0 1 0 -15.2 0M238.2 1064.1a7.6 7.6 0 1 0 15.2 0a7.6 7.6 0 1 0 -15.2 0M240.6 1060.9a7.6 7.6 0 1 0 15.2 0a7.6 7.6 0 1 0 -15.2 0M245.1 1058.5a7.6 7.6 0 1 0 15.2 0a7.6 7.6 0 1 0 -15.2 0M246.3 1056.0a7.6 7.6 0 1 0 15.2 0a7.6 7.6 0 1 0 -15.2 0M246.5 1057.0a7.6 7.6 0 1 0 15.2 0a7.6 7.6 0 1 0 -15.2 0M248.5 1054.5a7.6 7.6 0 1 0 15.2 0a7.6 7.6 0 1 0 -15.2 0M251.3 1052.7a7.6 7.6 0 1 0 15.2 0a7.6 7.6 0 1 0 -15.2 0M252.2 1054.6a7.6 7.6 0 1 0 15.2 0a7.6 7.6 0 1 0 -15.2 0M255.9 1056.1a7.6 7.6 0 1 0 15.2 0a7.6 7.6 0 1 0 -15.2 0M315.2 1066.8a7.6 7.6 0 1 0 15.2 0a7.6 7.6 0 1 0 -15.2 0M317.3 1065.7a7.6 7.6 0 1 0 15.2 0a7.6 7.6 0 1 0 -15.2 0M319.7 1061.3a7.6 7.6 0 1 0 15.2 0a7.6 7.6 0 1 0 -15.2 0M323.3 1059.0a7.6 7.6 0 1 0 15.2 0a7.6 7.6 0 1 0 -15.2 0M325.2 1057.0a7.6 7.6 0 1 0 15.2 0a7.6 7.6 0 1 0 -15.2 0M325.6 1055.1a7.6 7.6 0 1 0 15.2 0a7.6 7.6 0 1 0 -15.2 0M327.8 1054.6a7.6 7.6 0 1 0 15.2 0a7.6 7.6 0 1 0 -15.2 0M330.8 1052.7a7.6 7.6 0 1 0 15.2 0a7.6 7.6 0 1 0 -15.2 0M332.6 1048.0a7.6 7.6 0 1 0 15.2 0a7.6 7.6 0 1 0 -15.2 0M335.2 1044.0a7.6 7.6 0 1 0 15.2 0a7.6 7.6 0 1 0 -15.2 0M338.5 1043.0a7.6 7.6 0 1 0 15.2 0a7.6 7.6 0 1 0 -15.2 0M339.7 1039.2a7.6 7.6 0 1 0 15.2 0a7.6 7.6 0 1 0 -15.2 0M342.3 1036.7a7.6 7.6 0 1 0 15.2 0a7.6 7.6 0 1 0 -15.2 0M344.7 1035.3a7.6 7.6 0 1 0 15.2 0a7.6 7.6 0 1 0 -15.2 0M357.8 1006.6a7.6 7.6 0 1 0 15.2 0a7.6 7.6 0 1 0 -15.2 0M359.7 1004.0a7.6 7.6 0 1 0 15.2 0a7.6 7.6 0 1 0 -15.2 0M361.6 1002.4a7.6 7.6 0 1 0 15.2 0a7.6 7.6 0 1 0 -15.2 0M364.0 997.7a7.6 7.6 0 1 0 15.2 0a7.6 7.6 0 1 0 -15.2 0M366.0 995.9a7.6 7.6 0 1 0 15.2 0a7.6 7.6 0 1 0 -15.2 0M366.8 992.9a7.6 7.6 0 1 0 15.2 0a7.6 7.6 0 1 0 -15.2 0M368.6 991.4a7.6 7.6 0 1 0 15.2 0a7.6 7.6 0 1 0 -15.2 0M370.5 987.4a7.6 7.6 0 1 0 15.2 0a7.6 7.6 0 1 0 -15.2 0M371.9 984.9a7.6 7.6 0 1 0 15.2 0a7.6 7.6 0 1 0 -15.2 0M375.2 979.3a7.6 7.6 0 1 0 15.2 0a7.6 7.6 0 1 0 -15.2 0M378.2 975.8a7.6 7.6 0 1 0 15.2 0a7.6 7.6 0 1 0 -15.2 0M382.7 968.8a7.6 7.6 0 1 0 15.2 0a7.6 7.6 0 1 0 -15.2 0M384.1 968.1a7.6 7.6 0 1 0 15.2 0a7.6 7.6 0 1 0 -15.2 0M387.3 966.3a7.6 7.6 0 1 0 15.2 0a7.6 7.6 0 1 0 -15.2 0M388.5 965.0a7.6 7.6 0 1 0 15.2 0a7.6 7.6 0 1 0 -15.2 0M391.0 961.8a7.6 7.6 0 1 0 15.2 0a7.6 7.6 0 1 0 -15.2 0M392.5 961.1a7.6 7.6 0 1 0 15.2 0a7.6 7.6 0 1 0 -15.2 0M395.7 958.8a7.6 7.6 0 1 0 15.2 0a7.6 7.6 0 1 0 -15.2 0M399.0 954.1a7.6 7.6 0 1 0 15.2 0a7.6 7.6 0 1 0 -15.2 0M403.2 953.6a7.6 7.6 0 1 0 15.2 0a7.6 7.6 0 1 0 -15.2 0M404.3 953.3a7.6 7.6 0 1 0 15.2 0a7.6 7.6 0 1 0 -15.2 0M406.8 951.8a7.6 7.6 0 1 0 15.2 0a7.6 7.6 0 1 0 -15.2 0M408.3 949.2a7.6 7.6 0 1 0 15.2 0a7.6 7.6 0 1 0 -15.2 0M410.4 948.5a7.6 7.6 0 1 0 15.2 0a7.6 7.6 0 1 0 -15.2 0M412.7 950.0a7.6 7.6 0 1 0 15.2 0a7.6 7.6 0 1 0 -15.2 0M414.3 946.6a7.6 7.6 0 1 0 15.2 0a7.6 7.6 0 1 0 -15.2 0M415.4 948.3a7.6 7.6 0 1 0 15.2 0a7.6 7.6 0 1 0 -15.2 0M417.3 947.5a7.6 7.6 0 1 0 15.2 0a7.6 7.6 0 1 0 -15.2 0M420.7 946.2a7.6 7.6 0 1 0 15.2 0a7.6 7.6 0 1 0 -15.2 0M422.9 945.6a7.6 7.6 0 1 0 15.2 0a7.6 7.6 0 1 0 -15.2 0M427.2 942.3a7.6 7.6 0 1 0 15.2 0a7.6 7.6 0 1 0 -15.2 0M429.2 942.5a7.6 7.6 0 1 0 15.2 0a7.6 7.6 0 1 0 -15.2 0M432.1 941.3a7.6 7.6 0 1 0 15.2 0a7.6 7.6 0 1 0 -15.2 0M434.1 942.8a7.6 7.6 0 1 0 15.2 0a7.6 7.6 0 1 0 -15.2 0M436.6 941.8a7.6 7.6 0 1 0 15.2 0a7.6 7.6 0 1 0 -15.2 0M437.9 940.9a7.6 7.6 0 1 0 15.2 0a7.6 7.6 0 1 0 -15.2 0M439.5 939.9a7.6 7.6 0 1 0 15.2 0a7.6 7.6 0 1 0 -15.2 0M441.7 941.4a7.6 7.6 0 1 0 15.2 0a7.6 7.6 0 1 0 -15.2 0M444.2 941.6a7.6 7.6 0 1 0 15.2 0a7.6 7.6 0 1 0 -15.2 0M445.3 938.9a7.6 7.6 0 1 0 15.2 0a7.6 7.6 0 1 0 -15.2 0M446.5 939.9a7.6 7.6 0 1 0 15.2 0a7.6 7.6 0 1 0 -15.2 0M448.5 939.3a7.6 7.6 0 1 0 15.2 0a7.6 7.6 0 1 0 -15.2 0M450.3 939.2a7.6 7.6 0 1 0 15.2 0a7.6 7.6 0 1 0 -15.2 0M452.6 937.6a7.6 7.6 0 1 0 15.2 0a7.6 7.6 0 1 0 -15.2 0M454.5 937.6a7.6 7.6 0 1 0 15.2 0a7.6 7.6 0 1 0 -15.2 0M457.8 939.0a7.6 7.6 0 1 0 15.2 0a7.6 7.6 0 1 0 -15.2 0M459.2 939.3a7.6 7.6 0 1 0 15.2 0a7.6 7.6 0 1 0 -15.2 0M462.3 937.1a7.6 7.6 0 1 0 15.2 0a7.6 7.6 0 1 0 -15.2 0M465.7 938.8a7.6 7.6 0 1 0 15.2 0a7.6 7.6 0 1 0 -15.2 0M468.6 935.8a7.6 7.6 0 1 0 15.2 0a7.6 7.6 0 1 0 -15.2 0M471.0 936.4a7.6 7.6 0 1 0 15.2 0a7.6 7.6 0 1 0 -15.2 0M490.0 966.0a7.6 7.6 0 1 0 15.2 0a7.6 7.6 0 1 0 -15.2 0M492.5 968.1a7.6 7.6 0 1 0 15.2 0a7.6 7.6 0 1 0 -15.2 0M494.5 971.6a7.6 7.6 0 1 0 15.2 0a7.6 7.6 0 1 0 -15.2 0M496.3 975.8a7.6 7.6 0 1 0 15.2 0a7.6 7.6 0 1 0 -15.2 0M497.7 978.0a7.6 7.6 0 1 0 15.2 0a7.6 7.6 0 1 0 -15.2 0M498.6 981.8a7.6 7.6 0 1 0 15.2 0a7.6 7.6 0 1 0 -15.2 0M499.8 983.1a7.6 7.6 0 1 0 15.2 0a7.6 7.6 0 1 0 -15.2 0M503.5 987.7a7.6 7.6 0 1 0 15.2 0a7.6 7.6 0 1 0 -15.2 0M505.9 991.1a7.6 7.6 0 1 0 15.2 0a7.6 7.6 0 1 0 -15.2 0M613.0 1017.0a7.6 7.6 0 1 0 15.2 0a7.6 7.6 0 1 0 -15.2 0M614.7 1018.9a7.6 7.6 0 1 0 15.2 0a7.6 7.6 0 1 0 -15.2 0M618.4 1020.9a7.6 7.6 0 1 0 15.2 0a7.6 7.6 0 1 0 -15.2 0M133.1 832.1a7.6 7.6 0 1 0 15.2 0a7.6 7.6 0 1 0 -15.2 0M131.8 834.1a7.6 7.6 0 1 0 15.2 0a7.6 7.6 0 1 0 -15.2 0M133.7 840.0a7.6 7.6 0 1 0 15.2 0a7.6 7.6 0 1 0 -15.2 0M132.9 842.9a7.6 7.6 0 1 0 15.2 0a7.6 7.6 0 1 0 -15.2 0M134.0 846.9a7.6 7.6 0 1 0 15.2 0a7.6 7.6 0 1 0 -15.2 0M132.4 850.5a7.6 7.6 0 1 0 15.2 0a7.6 7.6 0 1 0 -15.2 0M132.7 853.2a7.6 7.6 0 1 0 15.2 0a7.6 7.6 0 1 0 -15.2 0M131.6 854.6a7.6 7.6 0 1 0 15.2 0a7.6 7.6 0 1 0 -15.2 0M129.1 834.3a7.6 7.6 0 1 0 15.2 0a7.6 7.6 0 1 0 -15.2 0M130.0 835.1a7.6 7.6 0 1 0 15.2 0a7.6 7.6 0 1 0 -15.2 0M132.0 833.5a7.6 7.6 0 1 0 15.2 0a7.6 7.6 0 1 0 -15.2 0M132.3 835.2a7.6 7.6 0 1 0 15.2 0a7.6 7.6 0 1 0 -15.2 0M134.7 834.6a7.6 7.6 0 1 0 15.2 0a7.6 7.6 0 1 0 -15.2 0M135.0 833.7a7.6 7.6 0 1 0 15.2 0a7.6 7.6 0 1 0 -15.2 0M113.7 868.2a7.6 7.6 0 1 0 15.2 0a7.6 7.6 0 1 0 -15.2 0M117.3 868.4a7.6 7.6 0 1 0 15.2 0a7.6 7.6 0 1 0 -15.2 0M118.7 867.2a7.6 7.6 0 1 0 15.2 0a7.6 7.6 0 1 0 -15.2 0M119.9 865.7a7.6 7.6 0 1 0 15.2 0a7.6 7.6 0 1 0 -15.2 0M121.4 868.2a7.6 7.6 0 1 0 15.2 0a7.6 7.6 0 1 0 -15.2 0M124.9 867.2a7.6 7.6 0 1 0 15.2 0a7.6 7.6 0 1 0 -15.2 0M127.2 870.4a7.6 7.6 0 1 0 15.2 0a7.6 7.6 0 1 0 -15.2 0M99.6 930.5a7.6 7.6 0 1 0 15.2 0a7.6 7.6 0 1 0 -15.2 0M100.9 936.9a7.6 7.6 0 1 0 15.2 0a7.6 7.6 0 1 0 -15.2 0M103.0 941.4a7.6 7.6 0 1 0 15.2 0a7.6 7.6 0 1 0 -15.2 0M105.0 941.8a7.6 7.6 0 1 0 15.2 0a7.6 7.6 0 1 0 -15.2 0M105.8 943.5a7.6 7.6 0 1 0 15.2 0a7.6 7.6 0 1 0 -15.2 0M106.9 945.9a7.6 7.6 0 1 0 15.2 0a7.6 7.6 0 1 0 -15.2 0M98.8 941.0a7.6 7.6 0 1 0 15.2 0a7.6 7.6 0 1 0 -15.2 0M100.2 938.4a7.6 7.6 0 1 0 15.2 0a7.6 7.6 0 1 0 -15.2 0M102.4 939.7a7.6 7.6 0 1 0 15.2 0a7.6 7.6 0 1 0 -15.2 0M105.1 938.4a7.6 7.6 0 1 0 15.2 0a7.6 7.6 0 1 0 -15.2 0M106.7 938.7a7.6 7.6 0 1 0 15.2 0a7.6 7.6 0 1 0 -15.2 0M108.0 936.8a7.6 7.6 0 1 0 15.2 0a7.6 7.6 0 1 0 -15.2 0M138.4 884.9a7.6 7.6 0 1 0 15.2 0a7.6 7.6 0 1 0 -15.2 0M140.1 888.6a7.6 7.6 0 1 0 15.2 0a7.6 7.6 0 1 0 -15.2 0M139.9 892.3a7.6 7.6 0 1 0 15.2 0a7.6 7.6 0 1 0 -15.2 0M141.7 895.2a7.6 7.6 0 1 0 15.2 0a7.6 7.6 0 1 0 -15.2 0M140.7 900.8a7.6 7.6 0 1 0 15.2 0a7.6 7.6 0 1 0 -15.2 0M142.7 905.5a7.6 7.6 0 1 0 15.2 0a7.6 7.6 0 1 0 -15.2 0M143.1 909.4a7.6 7.6 0 1 0 15.2 0a7.6 7.6 0 1 0 -15.2 0M143.3 914.3a7.6 7.6 0 1 0 15.2 0a7.6 7.6 0 1 0 -15.2 0M144.0 918.8a7.6 7.6 0 1 0 15.2 0a7.6 7.6 0 1 0 -15.2 0M145.0 922.1a7.6 7.6 0 1 0 15.2 0a7.6 7.6 0 1 0 -15.2 0M144.4 927.1a7.6 7.6 0 1 0 15.2 0a7.6 7.6 0 1 0 -15.2 0M144.2 932.6a7.6 7.6 0 1 0 15.2 0a7.6 7.6 0 1 0 -15.2 0M148.5 941.1a7.6 7.6 0 1 0 15.2 0a7.6 7.6 0 1 0 -15.2 0M161.3 884.5a7.6 7.6 0 1 0 15.2 0a7.6 7.6 0 1 0 -15.2 0M160.6 891.1a7.6 7.6 0 1 0 15.2 0a7.6 7.6 0 1 0 -15.2 0M161.2 895.7a7.6 7.6 0 1 0 15.2 0a7.6 7.6 0 1 0 -15.2 0M160.1 901.1a7.6 7.6 0 1 0 15.2 0a7.6 7.6 0 1 0 -15.2 0M160.6 906.1a7.6 7.6 0 1 0 15.2 0a7.6 7.6 0 1 0 -15.2 0M159.1 908.3a7.6 7.6 0 1 0 15.2 0a7.6 7.6 0 1 0 -15.2 0M158.8 913.3a7.6 7.6 0 1 0 15.2 0a7.6 7.6 0 1 0 -15.2 0M160.0 919.3a7.6 7.6 0 1 0 15.2 0a7.6 7.6 0 1 0 -15.2 0M158.5 923.5a7.6 7.6 0 1 0 15.2 0a7.6 7.6 0 1 0 -15.2 0M158.7 926.3a7.6 7.6 0 1 0 15.2 0a7.6 7.6 0 1 0 -15.2 0M158.5 932.7a7.6 7.6 0 1 0 15.2 0a7.6 7.6 0 1 0 -15.2 0M154.5 942.9a7.6 7.6 0 1 0 15.2 0a7.6 7.6 0 1 0 -15.2 0M145.1 941.3a7.6 7.6 0 1 0 15.2 0a7.6 7.6 0 1 0 -15.2 0M146.3 943.1a7.6 7.6 0 1 0 15.2 0a7.6 7.6 0 1 0 -15.2 0M147.9 943.1a7.6 7.6 0 1 0 15.2 0a7.6 7.6 0 1 0 -15.2 0M149.4 943.3a7.6 7.6 0 1 0 15.2 0a7.6 7.6 0 1 0 -15.2 0M149.7 943.2a7.6 7.6 0 1 0 15.2 0a7.6 7.6 0 1 0 -15.2 0M151.8 943.1a7.6 7.6 0 1 0 15.2 0a7.6 7.6 0 1 0 -15.2 0M152.9 941.4a7.6 7.6 0 1 0 15.2 0a7.6 7.6 0 1 0 -15.2 0M153.5 943.1a7.6 7.6 0 1 0 15.2 0a7.6 7.6 0 1 0 -15.2 0M159.7 867.1a7.6 7.6 0 1 0 15.2 0a7.6 7.6 0 1 0 -15.2 0M162.2 865.2a7.6 7.6 0 1 0 15.2 0a7.6 7.6 0 1 0 -15.2 0M165.2 861.9a7.6 7.6 0 1 0 15.2 0a7.6 7.6 0 1 0 -15.2 0M165.5 861.6a7.6 7.6 0 1 0 15.2 0a7.6 7.6 0 1 0 -15.2 0M168.0 860.0a7.6 7.6 0 1 0 15.2 0a7.6 7.6 0 1 0 -15.2 0M169.2 858.0a7.6 7.6 0 1 0 15.2 0a7.6 7.6 0 1 0 -15.2 0M170.7 856.5a7.6 7.6 0 1 0 15.2 0a7.6 7.6 0 1 0 -15.2 0M172.4 860.3a7.6 7.6 0 1 0 15.2 0a7.6 7.6 0 1 0 -15.2 0M174.7 861.8a7.6 7.6 0 1 0 15.2 0a7.6 7.6 0 1 0 -15.2 0M178.4 922.8a7.6 7.6 0 1 0 15.2 0a7.6 7.6 0 1 0 -15.2 0M179.6 928.3a7.6 7.6 0 1 0 15.2 0a7.6 7.6 0 1 0 -15.2 0M180.8 929.0a7.6 7.6 0 1 0 15.2 0a7.6 7.6 0 1 0 -15.2 0M181.6 930.2a7.6 7.6 0 1 0 15.2 0a7.6 7.6 0 1 0 -15.2 0M179.9 931.0a7.6 7.6 0 1 0 15.2 0a7.6 7.6 0 1 0 -15.2 0M180.7 931.7a7.6 7.6 0 1 0 15.2 0a7.6 7.6 0 1 0 -15.2 0M180.8 935.4a7.6 7.6 0 1 0 15.2 0a7.6 7.6 0 1 0 -15.2 0M180.6 936.2a7.6 7.6 0 1 0 15.2 0a7.6 7.6 0 1 0 -15.2 0M181.7 936.2a7.6 7.6 0 1 0 15.2 0a7.6 7.6 0 1 0 -15.2 0M138.8 888.5a7.6 7.6 0 1 0 15.2 0a7.6 7.6 0 1 0 -15.2 0M137.7 892.7a7.6 7.6 0 1 0 15.2 0a7.6 7.6 0 1 0 -15.2 0M138.6 896.0a7.6 7.6 0 1 0 15.2 0a7.6 7.6 0 1 0 -15.2 0M139.0 900.4a7.6 7.6 0 1 0 15.2 0a7.6 7.6 0 1 0 -15.2 0M692.4 877.5a7.6 7.6 0 1 0 15.2 0a7.6 7.6 0 1 0 -15.2 0M693.4 881.0a7.6 7.6 0 1 0 15.2 0a7.6 7.6 0 1 0 -15.2 0M687.4 896.0a7.6 7.6 0 1 0 15.2 0a7.6 7.6 0 1 0 -15.2 0M742.4 951.0a7.6 7.6 0 1 0 15.2 0a7.6 7.6 0 1 0 -15.2 0M738.4 955.0a7.6 7.6 0 1 0 15.2 0a7.6 7.6 0 1 0 -15.2 0M736.1 991.0a7.6 7.6 0 1 0 15.2 0a7.6 7.6 0 1 0 -15.2 0M734.9 994.0a7.6 7.6 0 1 0 15.2 0a7.6 7.6 0 1 0 -15.2 0M709.9 1102.5a7.6 7.6 0 1 0 15.2 0a7.6 7.6 0 1 0 -15.2 0M712.4 1135.0a7.6 7.6 0 1 0 15.2 0a7.6 7.6 0 1 0 -15.2 0M713.6 1140.0a7.6 7.6 0 1 0 15.2 0a7.6 7.6 0 1 0 -15.2 0M807.4 1120.0a7.6 7.6 0 1 0 15.2 0a7.6 7.6 0 1 0 -15.2 0M816.1 1125.0a7.6 7.6 0 1 0 15.2 0a7.6 7.6 0 1 0 -15.2 0M811.1 1132.5a7.6 7.6 0 1 0 15.2 0a7.6 7.6 0 1 0 -15.2 0M809.1 1126.0a7.6 7.6 0 1 0 15.2 0a7.6 7.6 0 1 0 -15.2 0M818.6 1190.0a7.6 7.6 0 1 0 15.2 0a7.6 7.6 0 1 0 -15.2 0M829.9 1012.5a7.6 7.6 0 1 0 15.2 0a7.6 7.6 0 1 0 -15.2 0M835.4 1010.0a7.6 7.6 0 1 0 15.2 0a7.6 7.6 0 1 0 -15.2 0M835.4 1017.5a7.6 7.6 0 1 0 15.2 0a7.6 7.6 0 1 0 -15.2 0M856.4 1010.0a7.6 7.6 0 1 0 15.2 0a7.6 7.6 0 1 0 -15.2 0M711.1 1300.0a7.6 7.6 0 1 0 15.2 0a7.6 7.6 0 1 0 -15.2 0M711.1 1308.8a7.6 7.6 0 1 0 15.2 0a7.6 7.6 0 1 0 -15.2 0M708.6 1340.0a7.6 7.6 0 1 0 15.2 0a7.6 7.6 0 1 0 -15.2 0M709.9 1345.0a7.6 7.6 0 1 0 15.2 0a7.6 7.6 0 1 0 -15.2 0M707.4 1355.0a7.6 7.6 0 1 0 15.2 0a7.6 7.6 0 1 0 -15.2 0M706.1 1370.0a7.6 7.6 0 1 0 15.2 0a7.6 7.6 0 1 0 -15.2 0M687.4 1387.5a7.6 7.6 0 1 0 15.2 0a7.6 7.6 0 1 0 -15.2 0M721.1 1390.0a7.6 7.6 0 1 0 15.2 0a7.6 7.6 0 1 0 -15.2 0M817.4 1210.0a7.6 7.6 0 1 0 15.2 0a7.6 7.6 0 1 0 -15.2 0M818.6 1217.5a7.6 7.6 0 1 0 15.2 0a7.6 7.6 0 1 0 -15.2 0M817.9 1190.0a7.6 7.6 0 1 0 15.2 0a7.6 7.6 0 1 0 -15.2 0M819.1 1202.5a7.6 7.6 0 1 0 15.2 0a7.6 7.6 0 1 0 -15.2 0M820.4 1212.5a7.6 7.6 0 1 0 15.2 0a7.6 7.6 0 1 0 -15.2 0M847.9 1230.0a7.6 7.6 0 1 0 15.2 0a7.6 7.6 0 1 0 -15.2 0M849.1 1240.0a7.6 7.6 0 1 0 15.2 0a7.6 7.6 0 1 0 -15.2 0M850.4 1248.8a7.6 7.6 0 1 0 15.2 0a7.6 7.6 0 1 0 -15.2 0M819.1 1432.5a7.6 7.6 0 1 0 15.2 0a7.6 7.6 0 1 0 -15.2 0M706.6 1367.3a7.6 7.6 0 1 0 15.2 0a7.6 7.6 0 1 0 -15.2 0M699.8 1406.4a7.6 7.6 0 1 0 15.2 0a7.6 7.6 0 1 0 -15.2 0M698.8 1418.1a7.6 7.6 0 1 0 15.2 0a7.6 7.6 0 1 0 -15.2 0M696.9 1433.8a7.6 7.6 0 1 0 15.2 0a7.6 7.6 0 1 0 -15.2 0M714.4 1414.2a7.6 7.6 0 1 0 15.2 0a7.6 7.6 0 1 0 -15.2 0M722.2 1402.5a7.6 7.6 0 1 0 15.2 0a7.6 7.6 0 1 0 -15.2 0M817.9 1433.8a7.6 7.6 0 1 0 15.2 0a7.6 7.6 0 1 0 -15.2 0M689.0 1386.9a7.6 7.6 0 1 0 15.2 0a7.6 7.6 0 1 0 -15.2 0M111.2 1330.0a7.6 7.6 0 1 0 15.2 0a7.6 7.6 0 1 0 -15.2 0M112.4 1342.5a7.6 7.6 0 1 0 15.2 0a7.6 7.6 0 1 0 -15.2 0M712.4 1375.0a7.6 7.6 0 1 0 15.2 0a7.6 7.6 0 1 0 -15.2 0M716.4 1380.0a7.6 7.6 0 1 0 15.2 0a7.6 7.6 0 1 0 -15.2 0M702.4 1395.0a7.6 7.6 0 1 0 15.2 0a7.6 7.6 0 1 0 -15.2 0M708.4 1400.0a7.6 7.6 0 1 0 15.2 0a7.6 7.6 0 1 0 -15.2 0M704.4 1425.0a7.6 7.6 0 1 0 15.2 0a7.6 7.6 0 1 0 -15.2 0M720.4 1420.0a7.6 7.6 0 1 0 15.2 0a7.6 7.6 0 1 0 -15.2 0M692.4 1400.0a7.6 7.6 0 1 0 15.2 0a7.6 7.6 0 1 0 -15.2 0" fill="none" stroke="#008000" stroke-width="1.2"/>
<path d="M99.9 832.5a7.6 7.6 0 1 0 15.2 0a7.6 7.6 0 1 0 -15.2 0M102.4 835.0a7.6 7.6 0 1 0 15.2 0a7.6 7.6 0 1 0 -15.2 0M113.4 878.0a7.6 7.6 0 1 0 15.2 0a7.6 7.6 0 1 0 -15.2 0M113.4 884.0a7.6 7.6 0 1 0 15.2 0a7.6 7.6 0 1 0 -15.2 0M112.9 890.0a7.6 7.6 0 1 0 15.2 0a7.6 7.6 0 1 0 -15.2 0M112.4 896.0a7.6 7.6 0 1 0 15.2 0a7.6 7.6 0 1 0 -15.2 0M111.9 902.0a7.6 7.6 0 1 0 15.2 0a7.6 7.6 0 1 0 -15.2 0M111.4 908.0a7.6 7.6 0 1 0 15.2 0a7.6 7.6 0 1 0 -15.2 0M110.9 914.0a7.6 7.6 0 1 0 15.2 0a7.6 7.6 0 1 0 -15.2 0M110.4 920.0a7.6 7.6 0 1 0 15.2 0a7.6 7.6 0 1 0 -15.2 0M110.4 926.0a7.6 7.6 0 1 0 15.2 0a7.6 7.6 0 1 0 -15.2 0M109.9 932.0a7.6 7.6 0 1 0 15.2 0a7.6 7.6 0 1 0 -15.2 0M143.2 846.3a7.6 7.6 0 1 0 15.2 0a7.6 7.6 0 1 0 -15.2 0M143.2 852.1a7.6 7.6 0 1 0 15.2 0a7.6 7.6 0 1 0 -15.2 0M143.2 858.0a7.6 7.6 0 1 0 15.2 0a7.6 7.6 0 1 0 -15.2 0M142.2 862.9a7.6 7.6 0 1 0 15.2 0a7.6 7.6 0 1 0 -15.2 0M174.4 846.3a7.6 7.6 0 1 0 15.2 0a7.6 7.6 0 1 0 -15.2 0M174.4 852.0a7.6 7.6 0 1 0 15.2 0a7.6 7.6 0 1 0 -15.2 0M172.4 856.0a7.6 7.6 0 1 0 15.2 0a7.6 7.6 0 1 0 -15.2 0M160.8 869.7a7.6 7.6 0 1 0 15.2 0a7.6 7.6 0 1 0 -15.2 0M159.8 873.6a7.6 7.6 0 1 0 15.2 0a7.6 7.6 0 1 0 -15.2 0M134.4 890.0a7.6 7.6 0 1 0 15.2 0a7.6 7.6 0 1 0 -15.2 0M137.4 892.0a7.6 7.6 0 1 0 15.2 0a7.6 7.6 0 1 0 -15.2 0M140.3 889.2a7.6 7.6 0 1 0 15.2 0a7.6 7.6 0 1 0 -15.2 0M132.4 893.0a7.6 7.6 0 1 0 15.2 0a7.6 7.6 0 1 0 -15.2 0M135.4 895.0a7.6 7.6 0 1 0 15.2 0a7.6 7.6 0 1 0 -15.2 0M138.4 890.0a7.6 7.6 0 1 0 15.2 0a7.6 7.6 0 1 0 -15.2 0M130.4 889.0a7.6 7.6 0 1 0 15.2 0a7.6 7.6 0 1 0 -15.2 0M185.2 877.5a7.6 7.6 0 1 0 15.2 0a7.6 7.6 0 1 0 -15.2 0M184.2 882.4a7.6 7.6 0 1 0 15.2 0a7.6 7.6 0 1 0 -15.2 0M186.2 887.3a7.6 7.6 0 1 0 15.2 0a7.6 7.6 0 1 0 -15.2 0M174.4 896.0a7.6 7.6 0 1 0 15.2 0a7.6 7.6 0 1 0 -15.2 0M175.4 902.0a7.6 7.6 0 1 0 15.2 0a7.6 7.6 0 1 0 -15.2 0M175.4 908.0a7.6 7.6 0 1 0 15.2 0a7.6 7.6 0 1 0 -15.2 0M176.4 914.0a7.6 7.6 0 1 0 15.2 0a7.6 7.6 0 1 0 -15.2 0M177.4 920.0a7.6 7.6 0 1 0 15.2 0a7.6 7.6 0 1 0 -15.2 0M178.4 926.0a7.6 7.6 0 1 0 15.2 0a7.6 7.6 0 1 0 -15.2 0M178.4 932.0a7.6 7.6 0 1 0 15.2 0a7.6 7.6 0 1 0 -15.2 0M160.8 889.2a7.6 7.6 0 1 0 15.2 0a7.6 7.6 0 1 0 -15.2 0M170.5 970.3a7.6 7.6 0 1 0 15.2 0a7.6 7.6 0 1 0 -15.2 0M141.2 975.0a7.6 7.6 0 1 0 15.2 0a7.6 7.6 0 1 0 -15.2 0M141.2 980.0a7.6 7.6 0 1 0 15.2 0a7.6 7.6 0 1 0 -15.2 0M138.9 989.5a7.6 7.6 0 1 0 15.2 0a7.6 7.6 0 1 0 -15.2 0M128.9 991.6a7.6 7.6 0 1 0 15.2 0a7.6 7.6 0 1 0 -15.2 0M122.4 1017.5a7.6 7.6 0 1 0 15.2 0a7.6 7.6 0 1 0 -15.2 0M129.9 1002.5a7.6 7.6 0 1 0 15.2 0a7.6 7.6 0 1 0 -15.2 0M138.4 1000.0a7.6 7.6 0 1 0 15.2 0a7.6 7.6 0 1 0 -15.2 0M125.4 1012.0a7.6 7.6 0 1 0 15.2 0a7.6 7.6 0 1 0 -15.2 0M141.6 1133.8a7.6 7.6 0 1 0 15.2 0a7.6 7.6 0 1 0 -15.2 0M140.8 1141.6a7.6 7.6 0 1 0 15.2 0a7.6 7.6 0 1 0 -15.2 0M140.1 1149.4a7.6 7.6 0 1 0 15.2 0a7.6 7.6 0 1 0 -15.2 0M140.1 1154.8a7.6 7.6 0 1 0 15.2 0a7.6 7.6 0 1 0 -15.2 0M125.2 1149.4a7.6 7.6 0 1 0 15.2 0a7.6 7.6 0 1 0 -15.2 0M128.3 1152.5a7.6 7.6 0 1 0 15.2 0a7.6 7.6 0 1 0 -15.2 0M103.3 1165.0a7.6 7.6 0 1 0 15.2 0a7.6 7.6 0 1 0 -15.2 0M103.3 1169.7a7.6 7.6 0 1 0 15.2 0a7.6 7.6 0 1 0 -15.2 0M145.5 1179.8a7.6 7.6 0 1 0 15.2 0a7.6 7.6 0 1 0 -15.2 0M145.5 1184.5a7.6 7.6 0 1 0 15.2 0a7.6 7.6 0 1 0 -15.2 0M155.7 1196.2a7.6 7.6 0 1 0 15.2 0a7.6 7.6 0 1 0 -15.2 0M155.7 1200.2a7.6 7.6 0 1 0 15.2 0a7.6 7.6 0 1 0 -15.2 0M179.9 1171.2a7.6 7.6 0 1 0 15.2 0a7.6 7.6 0 1 0 -15.2 0M181.4 1177.5a7.6 7.6 0 1 0 15.2 0a7.6 7.6 0 1 0 -15.2 0M174.4 1239.2a7.6 7.6 0 1 0 15.2 0a7.6 7.6 0 1 0 -15.2 0M174.4 1244.7a7.6 7.6 0 1 0 15.2 0a7.6 7.6 0 1 0 -15.2 0M135.4 1258.8a7.6 7.6 0 1 0 15.2 0a7.6 7.6 0 1 0 -15.2 0M134.6 1265.0a7.6 7.6 0 1 0 15.2 0a7.6 7.6 0 1 0 -15.2 0M164.3 1266.6a7.6 7.6 0 1 0 15.2 0a7.6 7.6 0 1 0 -15.2 0M188.5 1263.4a7.6 7.6 0 1 0 15.2 0a7.6 7.6 0 1 0 -15.2 0M114.9 1283.8a7.6 7.6 0 1 0 15.2 0a7.6 7.6 0 1 0 -15.2 0M164.9 1267.5a7.6 7.6 0 1 0 15.2 0a7.6 7.6 0 1 0 -15.2 0M166.2 1275.0a7.6 7.6 0 1 0 15.2 0a7.6 7.6 0 1 0 -15.2 0M166.2 1282.5a7.6 7.6 0 1 0 15.2 0a7.6 7.6 0 1 0 -15.2 0M166.2 1286.0a7.6 7.6 0 1 0 15.2 0a7.6 7.6 0 1 0 -15.2 0M166.2 1290.0a7.6 7.6 0 1 0 15.2 0a7.6 7.6 0 1 0 -15.2 0M166.4 1294.0a7.6 7.6 0 1 0 15.2 0a7.6 7.6 0 1 0 -15.2 0M166.2 1297.5a7.6 7.6 0 1 0 15.2 0a7.6 7.6 0 1 0 -15.2 0M166.2 1302.5a7.6 7.6 0 1 0 15.2 0a7.6 7.6 0 1 0 -15.2 0M167.4 1317.5a7.6 7.6 0 1 0 15.2 0a7.6 7.6 0 1 0 -15.2 0M167.4 1323.8a7.6 7.6 0 1 0 15.2 0a7.6 7.6 0 1 0 -15.2 0M137.4 1310.0a7.6 7.6 0 1 0 15.2 0a7.6 7.6 0 1 0 -15.2 0M137.4 1312.5a7.6 7.6 0 1 0 15.2 0a7.6 7.6 0 1 0 -15.2 0M102.4 1312.5a7.6 7.6 0 1 0 15.2 0a7.6 7.6 0 1 0 -15.2 0M102.4 1320.0a7.6 7.6 0 1 0 15.2 0a7.6 7.6 0 1 0 -15.2 0M107.4 1325.0a7.6 7.6 0 1 0 15.2 0a7.6 7.6 0 1 0 -15.2 0M112.4 1335.0a7.6 7.6 0 1 0 15.2 0a7.6 7.6 0 1 0 -15.2 0M117.4 1342.5a7.6 7.6 0 1 0 15.2 0a7.6 7.6 0 1 0 -15.2 0M119.9 1350.0a7.6 7.6 0 1 0 15.2 0a7.6 7.6 0 1 0 -15.2 0M102.4 1358.8a7.6 7.6 0 1 0 15.2 0a7.6 7.6 0 1 0 -15.2 0M529.9 842.5a7.6 7.6 0 1 0 15.2 0a7.6 7.6 0 1 0 -15.2 0M532.4 847.5a7.6 7.6 0 1 0 15.2 0a7.6 7.6 0 1 0 -15.2 0M526.1 852.5a7.6 7.6 0 1 0 15.2 0a7.6 7.6 0 1 0 -15.2 0M527.4 860.0a7.6 7.6 0 1 0 15.2 0a7.6 7.6 0 1 0 -15.2 0M528.4 856.0a7.6 7.6 0 1 0 15.2 0a7.6 7.6 0 1 0 -15.2 0M468.4 887.5a7.6 7.6 0 1 0 15.2 0a7.6 7.6 0 1 0 -15.2 0M468.4 892.5a7.6 7.6 0 1 0 15.2 0a7.6 7.6 0 1 0 -15.2 0M468.4 896.0a7.6 7.6 0 1 0 15.2 0a7.6 7.6 0 1 0 -15.2 0M502.4 931.0a7.6 7.6 0 1 0 15.2 0a7.6 7.6 0 1 0 -15.2 0M503.4 937.5a7.6 7.6 0 1 0 15.2 0a7.6 7.6 0 1 0 -15.2 0M521.1 932.5a7.6 7.6 0 1 0 15.2 0a7.6 7.6 0 1 0 -15.2 0M521.4 936.0a7.6 7.6 0 1 0 15.2 0a7.6 7.6 0 1 0 -15.2 0M551.1 947.5a7.6 7.6 0 1 0 15.2 0a7.6 7.6 0 1 0 -15.2 0M549.9 951.0a7.6 7.6 0 1 0 15.2 0a7.6 7.6 0 1 0 -15.2 0M559.9 970.0a7.6 7.6 0 1 0 15.2 0a7.6 7.6 0 1 0 -15.2 0M582.4 842.5a7.6 7.6 0 1 0 15.2 0a7.6 7.6 0 1 0 -15.2 0M587.4 945.0a7.6 7.6 0 1 0 15.2 0a7.6 7.6 0 1 0 -15.2 0M584.9 842.5a7.6 7.6 0 1 0 15.2 0a7.6 7.6 0 1 0 -15.2 0M592.4 940.0a7.6 7.6 0 1 0 15.2 0a7.6 7.6 0 1 0 -15.2 0M592.4 946.0a7.6 7.6 0 1 0 15.2 0a7.6 7.6 0 1 0 -15.2 0M737.4 832.5a7.6 7.6 0 1 0 15.2 0a7.6 7.6 0 1 0 -15.2 0M739.9 832.5a7.6 7.6 0 1 0 15.2 0a7.6 7.6 0 1 0 -15.2 0M742.4 832.5a7.6 7.6 0 1 0 15.2 0a7.6 7.6 0 1 0 -15.2 0M692.4 845.0a7.6 7.6 0 1 0 15.2 0a7.6 7.6 0 1 0 -15.2 0M692.4 852.5a7.6 7.6 0 1 0 15.2 0a7.6 7.6 0 1 0 -15.2 0M684.9 861.0a7.6 7.6 0 1 0 15.2 0a7.6 7.6 0 1 0 -15.2 0M712.4 861.0a7.6 7.6 0 1 0 15.2 0a7.6 7.6 0 1 0 -15.2 0M697.4 867.5a7.6 7.6 0 1 0 15.2 0a7.6 7.6 0 1 0 -15.2 0M699.9 871.0a7.6 7.6 0 1 0 15.2 0a7.6 7.6 0 1 0 -15.2 0M697.4 875.0a7.6 7.6 0 1 0 15.2 0a7.6 7.6 0 1 0 -15.2 0M722.4 906.0a7.6 7.6 0 1 0 15.2 0a7.6 7.6 0 1 0 -15.2 0M699.9 921.0a7.6 7.6 0 1 0 15.2 0a7.6 7.6 0 1 0 -15.2 0M721.1 921.0a7.6 7.6 0 1 0 15.2 0a7.6 7.6 0 1 0 -15.2 0M718.6 927.5a7.6 7.6 0 1 0 15.2 0a7.6 7.6 0 1 0 -15.2 0M717.4 931.0a7.6 7.6 0 1 0 15.2 0a7.6 7.6 0 1 0 -15.2 0M743.4 951.0a7.6 7.6 0 1 0 15.2 0a7.6 7.6 0 1 0 -15.2 0M744.9 955.0a7.6 7.6 0 1 0 15.2 0a7.6 7.6 0 1 0 -15.2 0M747.4 960.0a7.6 7.6 0 1 0 15.2 0a7.6 7.6 0 1 0 -15.2 0M721.1 991.0a7.6 7.6 0 1 0 15.2 0a7.6 7.6 0 1 0 -15.2 0M732.4 995.0a7.6 7.6 0 1 0 15.2 0a7.6 7.6 0 1 0 -15.2 0M829.9 1002.5a7.6 7.6 0 1 0 15.2 0a7.6 7.6 0 1 0 -15.2 0M842.4 826.0a7.6 7.6 0 1 0 15.2 0a7.6 7.6 0 1 0 -15.2 0M507.4 1108.8a7.6 7.6 0 1 0 15.2 0a7.6 7.6 0 1 0 -15.2 0M513.6 1115.0a7.6 7.6 0 1 0 15.2 0a7.6 7.6 0 1 0 -15.2 0M526.1 1143.8a7.6 7.6 0 1 0 15.2 0a7.6 7.6 0 1 0 -15.2 0M526.1 1148.8a7.6 7.6 0 1 0 15.2 0a7.6 7.6 0 1 0 -15.2 0M582.4 1152.5a7.6 7.6 0 1 0 15.2 0a7.6 7.6 0 1 0 -15.2 0M581.1 1160.0a7.6 7.6 0 1 0 15.2 0a7.6 7.6 0 1 0 -15.2 0M579.9 1167.5a7.6 7.6 0 1 0 15.2 0a7.6 7.6 0 1 0 -15.2 0M579.9 1175.0a7.6 7.6 0 1 0 15.2 0a7.6 7.6 0 1 0 -15.2 0M581.1 1180.0a7.6 7.6 0 1 0 15.2 0a7.6 7.6 0 1 0 -15.2 0M692.4 1095.0a7.6 7.6 0 1 0 15.2 0a7.6 7.6 0 1 0 -15.2 0M692.4 1100.0a7.6 7.6 0 1 0 15.2 0a7.6 7.6 0 1 0 -15.2 0M692.4 1105.0a7.6 7.6 0 1 0 15.2 0a7.6 7.6 0 1 0 -15.2 0M726.1 1120.0a7.6 7.6 0 1 0 15.2 0a7.6 7.6 0 1 0 -15.2 0M713.6 1132.5a7.6 7.6 0 1 0 15.2 0a7.6 7.6 0 1 0 -15.2 0M687.4 1145.0a7.6 7.6 0 1 0 15.2 0a7.6 7.6 0 1 0 -15.2 0M687.4 1152.5a7.6 7.6 0 1 0 15.2 0a7.6 7.6 0 1 0 -15.2 0M687.4 1160.0a7.6 7.6 0 1 0 15.2 0a7.6 7.6 0 1 0 -15.2 0M686.1 1167.5a7.6 7.6 0 1 0 15.2 0a7.6 7.6 0 1 0 -15.2 0M686.1 1175.0a7.6 7.6 0 1 0 15.2 0a7.6 7.6 0 1 0 -15.2 0M694.9 1165.0a7.6 7.6 0 1 0 15.2 0a7.6 7.6 0 1 0 -15.2 0M696.1 1180.0a7.6 7.6 0 1 0 15.2 0a7.6 7.6 0 1 0 -15.2 0M739.9 1152.5a7.6 7.6 0 1 0 15.2 0a7.6 7.6 0 1 0 -15.2 0M739.9 1160.0a7.6 7.6 0 1 0 15.2 0a7.6 7.6 0 1 0 -15.2 0M731.1 1170.0a7.6 7.6 0 1 0 15.2 0a7.6 7.6 0 1 0 -15.2 0M729.9 1177.5a7.6 7.6 0 1 0 15.2 0a7.6 7.6 0 1 0 -15.2 0M728.6 1185.0a7.6 7.6 0 1 0 15.2 0a7.6 7.6 0 1 0 -15.2 0M584.9 1152.5a7.6 7.6 0 1 0 15.2 0a7.6 7.6 0 1 0 -15.2 0M584.9 1162.5a7.6 7.6 0 1 0 15.2 0a7.6 7.6 0 1 0 -15.2 0M584.9 1175.0a7.6 7.6 0 1 0 15.2 0a7.6 7.6 0 1 0 -15.2 0M834.9 1057.5a7.6 7.6 0 1 0 15.2 0a7.6 7.6 0 1 0 -15.2 0M804.9 1135.0a7.6 7.6 0 1 0 15.2 0a7.6 7.6 0 1 0 -15.2 0M818.6 1197.5a7.6 7.6 0 1 0 15.2 0a7.6 7.6 0 1 0 -15.2 0M832.4 1003.0a7.6 7.6 0 1 0 15.2 0a7.6 7.6 0 1 0 -15.2 0M837.4 1005.0a7.6 7.6 0 1 0 15.2 0a7.6 7.6 0 1 0 -15.2 0M842.4 1003.0a7.6 7.6 0 1 0 15.2 0a7.6 7.6 0 1 0 -15.2 0M847.4 1005.0a7.6 7.6 0 1 0 15.2 0a7.6 7.6 0 1 0 -15.2 0M852.4 1003.0a7.6 7.6 0 1 0 15.2 0a7.6 7.6 0 1 0 -15.2 0M857.4 1006.0a7.6 7.6 0 1 0 15.2 0a7.6 7.6 0 1 0 -15.2 0M840.4 1008.0a7.6 7.6 0 1 0 15.2 0a7.6 7.6 0 1 0 -15.2 0M844.4 1006.0a7.6 7.6 0 1 0 15.2 0a7.6 7.6 0 1 0 -15.2 0M850.4 1007.0a7.6 7.6 0 1 0 15.2 0a7.6 7.6 0 1 0 -15.2 0M842.9 1055.0a7.6 7.6 0 1 0 15.2 0a7.6 7.6 0 1 0 -15.2 0M842.9 1060.0a7.6 7.6 0 1 0 15.2 0a7.6 7.6 0 1 0 -15.2 0M804.2 1135.0a7.6 7.6 0 1 0 15.2 0a7.6 7.6 0 1 0 -15.2 0M819.1 1192.5a7.6 7.6 0 1 0 15.2 0a7.6 7.6 0 1 0 -15.2 0M531.1 1353.8a7.6 7.6 0 1 0 15.2 0a7.6 7.6 0 1 0 -15.2 0M531.1 1360.0a7.6 7.6 0 1 0 15.2 0a7.6 7.6 0 1 0 -15.2 0M529.9 1372.5a7.6 7.6 0 1 0 15.2 0a7.6 7.6 0 1 0 -15.2 0M528.6 1380.0a7.6 7.6 0 1 0 15.2 0a7.6 7.6 0 1 0 -15.2 0M527.4 1382.5a7.6 7.6 0 1 0 15.2 0a7.6 7.6 0 1 0 -15.2 0M530.4 1366.0a7.6 7.6 0 1 0 15.2 0a7.6 7.6 0 1 0 -15.2 0M703.6 1213.8a7.6 7.6 0 1 0 15.2 0a7.6 7.6 0 1 0 -15.2 0M709.9 1220.0a7.6 7.6 0 1 0 15.2 0a7.6 7.6 0 1 0 -15.2 0M711.1 1223.8a7.6 7.6 0 1 0 15.2 0a7.6 7.6 0 1 0 -15.2 0M806.1 1308.8a7.6 7.6 0 1 0 15.2 0a7.6 7.6 0 1 0 -15.2 0M807.4 1317.5a7.6 7.6 0 1 0 15.2 0a7.6 7.6 0 1 0 -15.2 0M808.6 1325.0a7.6 7.6 0 1 0 15.2 0a7.6 7.6 0 1 0 -15.2 0M809.9 1332.5a7.6 7.6 0 1 0 15.2 0a7.6 7.6 0 1 0 -15.2 0M702.4 1333.8a7.6 7.6 0 1 0 15.2 0a7.6 7.6 0 1 0 -15.2 0M704.9 1342.5a7.6 7.6 0 1 0 15.2 0a7.6 7.6 0 1 0 -15.2 0M707.4 1347.5a7.6 7.6 0 1 0 15.2 0a7.6 7.6 0 1 0 -15.2 0M692.4 1368.8a7.6 7.6 0 1 0 15.2 0a7.6 7.6 0 1 0 -15.2 0M691.1 1377.5a7.6 7.6 0 1 0 15.2 0a7.6 7.6 0 1 0 -15.2 0M689.9 1387.5a7.6 7.6 0 1 0 15.2 0a7.6 7.6 0 1 0 -15.2 0M721.1 1365.0a7.6 7.6 0 1 0 15.2 0a7.6 7.6 0 1 0 -15.2 0M721.1 1372.5a7.6 7.6 0 1 0 15.2 0a7.6 7.6 0 1 0 -15.2 0M707.4 1385.0a7.6 7.6 0 1 0 15.2 0a7.6 7.6 0 1 0 -15.2 0M714.9 1392.5a7.6 7.6 0 1 0 15.2 0a7.6 7.6 0 1 0 -15.2 0M817.4 1200.0a7.6 7.6 0 1 0 15.2 0a7.6 7.6 0 1 0 -15.2 0M829.9 1215.0a7.6 7.6 0 1 0 15.2 0a7.6 7.6 0 1 0 -15.2 0M829.9 1227.5a7.6 7.6 0 1 0 15.2 0a7.6 7.6 0 1 0 -15.2 0M837.4 1237.5a7.6 7.6 0 1 0 15.2 0a7.6 7.6 0 1 0 -15.2 0M692.9 1369.3a7.6 7.6 0 1 0 15.2 0a7.6 7.6 0 1 0 -15.2 0M691.0 1379.0a7.6 7.6 0 1 0 15.2 0a7.6 7.6 0 1 0 -15.2 0M690.0 1398.6a7.6 7.6 0 1 0 15.2 0a7.6 7.6 0 1 0 -15.2 0M709.4 1385.0a7.6 7.6 0 1 0 15.2 0a7.6 7.6 0 1 0 -15.2 0M721.3 1363.4a7.6 7.6 0 1 0 15.2 0a7.6 7.6 0 1 0 -15.2 0M721.3 1373.2a7.6 7.6 0 1 0 15.2 0a7.6 7.6 0 1 0 -15.2 0M718.4 1390.8a7.6 7.6 0 1 0 15.2 0a7.6 7.6 0 1 0 -15.2 0M714.4 1404.5a7.6 7.6 0 1 0 15.2 0a7.6 7.6 0 1 0 -15.2 0M718.4 1424.0a7.6 7.6 0 1 0 15.2 0a7.6 7.6 0 1 0 -15.2 0M712.4 1431.8a7.6 7.6 0 1 0 15.2 0a7.6 7.6 0 1 0 -15.2 0M722.2 1433.8a7.6 7.6 0 1 0 15.2 0a7.6 7.6 0 1 0 -15.2 0M706.6 1345.9a7.6 7.6 0 1 0 15.2 0a7.6 7.6 0 1 0 -15.2 0M704.7 1349.8a7.6 7.6 0 1 0 15.2 0a7.6 7.6 0 1 0 -15.2 0M810.1 1424.0a7.6 7.6 0 1 0 15.2 0a7.6 7.6 0 1 0 -15.2 0M822.8 1427.9a7.6 7.6 0 1 0 15.2 0a7.6 7.6 0 1 0 -15.2 0M825.8 1431.8a7.6 7.6 0 1 0 15.2 0a7.6 7.6 0 1 0 -15.2 0M817.9 1195.0a7.6 7.6 0 1 0 15.2 0a7.6 7.6 0 1 0 -15.2 0M817.9 1202.5a7.6 7.6 0 1 0 15.2 0a7.6 7.6 0 1 0 -15.2 0M827.9 1210.0a7.6 7.6 0 1 0 15.2 0a7.6 7.6 0 1 0 -15.2 0M830.4 1217.5a7.6 7.6 0 1 0 15.2 0a7.6 7.6 0 1 0 -15.2 0M832.9 1227.5a7.6 7.6 0 1 0 15.2 0a7.6 7.6 0 1 0 -15.2 0M845.4 1235.0a7.6 7.6 0 1 0 15.2 0a7.6 7.6 0 1 0 -15.2 0M846.6 1240.0a7.6 7.6 0 1 0 15.2 0a7.6 7.6 0 1 0 -15.2 0M806.6 1310.0a7.6 7.6 0 1 0 15.2 0a7.6 7.6 0 1 0 -15.2 0M806.6 1317.5a7.6 7.6 0 1 0 15.2 0a7.6 7.6 0 1 0 -15.2 0M807.9 1325.0a7.6 7.6 0 1 0 15.2 0a7.6 7.6 0 1 0 -15.2 0M809.1 1332.5a7.6 7.6 0 1 0 15.2 0a7.6 7.6 0 1 0 -15.2 0M809.1 1423.8a7.6 7.6 0 1 0 15.2 0a7.6 7.6 0 1 0 -15.2 0M822.9 1427.5a7.6 7.6 0 1 0 15.2 0a7.6 7.6 0 1 0 -15.2 0M825.4 1431.2a7.6 7.6 0 1 0 15.2 0a7.6 7.6 0 1 0 -15.2 0M469.0 1396.5a7.6 7.6 0 1 0 15.2 0a7.6 7.6 0 1 0 -15.2 0M469.7 1394.2a7.6 7.6 0 1 0 15.2 0a7.6 7.6 0 1 0 -15.2 0M471.5 1403.0a7.6 7.6 0 1 0 15.2 0a7.6 7.6 0 1 0 -15.2 0M470.5 1407.2a7.6 7.6 0 1 0 15.2 0a7.6 7.6 0 1 0 -15.2 0M472.5 1405.0a7.6 7.6 0 1 0 15.2 0a7.6 7.6 0 1 0 -15.2 0M472.5 1394.7a7.6 7.6 0 1 0 15.2 0a7.6 7.6 0 1 0 -15.2 0M475.2 1416.8a7.6 7.6 0 1 0 15.2 0a7.6 7.6 0 1 0 -15.2 0M474.6 1398.7a7.6 7.6 0 1 0 15.2 0a7.6 7.6 0 1 0 -15.2 0M477.7 1420.4a7.6 7.6 0 1 0 15.2 0a7.6 7.6 0 1 0 -15.2 0M477.6 1403.9a7.6 7.6 0 1 0 15.2 0a7.6 7.6 0 1 0 -15.2 0M480.4 1393.4a7.6 7.6 0 1 0 15.2 0a7.6 7.6 0 1 0 -15.2 0M480.1 1400.7a7.6 7.6 0 1 0 15.2 0a7.6 7.6 0 1 0 -15.2 0M480.7 1395.5a7.6 7.6 0 1 0 15.2 0a7.6 7.6 0 1 0 -15.2 0M481.0 1416.5a7.6 7.6 0 1 0 15.2 0a7.6 7.6 0 1 0 -15.2 0M482.8 1409.4a7.6 7.6 0 1 0 15.2 0a7.6 7.6 0 1 0 -15.2 0M483.7 1403.2a7.6 7.6 0 1 0 15.2 0a7.6 7.6 0 1 0 -15.2 0M485.5 1393.9a7.6 7.6 0 1 0 15.2 0a7.6 7.6 0 1 0 -15.2 0M484.5 1398.2a7.6 7.6 0 1 0 15.2 0a7.6 7.6 0 1 0 -15.2 0M487.8 1404.8a7.6 7.6 0 1 0 15.2 0a7.6 7.6 0 1 0 -15.2 0M487.0 1409.6a7.6 7.6 0 1 0 15.2 0a7.6 7.6 0 1 0 -15.2 0M489.3 1401.0a7.6 7.6 0 1 0 15.2 0a7.6 7.6 0 1 0 -15.2 0M490.0 1413.0a7.6 7.6 0 1 0 15.2 0a7.6 7.6 0 1 0 -15.2 0M490.9 1409.2a7.6 7.6 0 1 0 15.2 0a7.6 7.6 0 1 0 -15.2 0M491.5 1418.3a7.6 7.6 0 1 0 15.2 0a7.6 7.6 0 1 0 -15.2 0M493.9 1400.6a7.6 7.6 0 1 0 15.2 0a7.6 7.6 0 1 0 -15.2 0M494.4 1395.5a7.6 7.6 0 1 0 15.2 0a7.6 7.6 0 1 0 -15.2 0M495.2 1426.9a7.6 7.6 0 1 0 15.2 0a7.6 7.6 0 1 0 -15.2 0M494.7 1420.2a7.6 7.6 0 1 0 15.2 0a7.6 7.6 0 1 0 -15.2 0M496.5 1424.7a7.6 7.6 0 1 0 15.2 0a7.6 7.6 0 1 0 -15.2 0M497.9 1422.3a7.6 7.6 0 1 0 15.2 0a7.6 7.6 0 1 0 -15.2 0M500.2 1415.8a7.6 7.6 0 1 0 15.2 0a7.6 7.6 0 1 0 -15.2 0M499.8 1422.9a7.6 7.6 0 1 0 15.2 0a7.6 7.6 0 1 0 -15.2 0M501.6 1419.4a7.6 7.6 0 1 0 15.2 0a7.6 7.6 0 1 0 -15.2 0M502.1 1431.6a7.6 7.6 0 1 0 15.2 0a7.6 7.6 0 1 0 -15.2 0M503.3 1424.6a7.6 7.6 0 1 0 15.2 0a7.6 7.6 0 1 0 -15.2 0M502.5 1425.5a7.6 7.6 0 1 0 15.2 0a7.6 7.6 0 1 0 -15.2 0M505.7 1432.8a7.6 7.6 0 1 0 15.2 0a7.6 7.6 0 1 0 -15.2 0M506.0 1415.1a7.6 7.6 0 1 0 15.2 0a7.6 7.6 0 1 0 -15.2 0M507.2 1424.7a7.6 7.6 0 1 0 15.2 0a7.6 7.6 0 1 0 -15.2 0M506.4 1419.5a7.6 7.6 0 1 0 15.2 0a7.6 7.6 0 1 0 -15.2 0M508.7 1410.9a7.6 7.6 0 1 0 15.2 0a7.6 7.6 0 1 0 -15.2 0M508.5 1427.2a7.6 7.6 0 1 0 15.2 0a7.6 7.6 0 1 0 -15.2 0M510.7 1414.2a7.6 7.6 0 1 0 15.2 0a7.6 7.6 0 1 0 -15.2 0M511.2 1429.8a7.6 7.6 0 1 0 15.2 0a7.6 7.6 0 1 0 -15.2 0M512.6 1419.2a7.6 7.6 0 1 0 15.2 0a7.6 7.6 0 1 0 -15.2 0M513.5 1430.1a7.6 7.6 0 1 0 15.2 0a7.6 7.6 0 1 0 -15.2 0M516.0 1429.6a7.6 7.6 0 1 0 15.2 0a7.6 7.6 0 1 0 -15.2 0M515.0 1418.4a7.6 7.6 0 1 0 15.2 0a7.6 7.6 0 1 0 -15.2 0M517.1 1430.1a7.6 7.6 0 1 0 15.2 0a7.6 7.6 0 1 0 -15.2 0M518.3 1411.8a7.6 7.6 0 1 0 15.2 0a7.6 7.6 0 1 0 -15.2 0M518.8 1413.8a7.6 7.6 0 1 0 15.2 0a7.6 7.6 0 1 0 -15.2 0M518.9 1420.1a7.6 7.6 0 1 0 15.2 0a7.6 7.6 0 1 0 -15.2 0M521.6 1414.6a7.6 7.6 0 1 0 15.2 0a7.6 7.6 0 1 0 -15.2 0M520.4 1418.5a7.6 7.6 0 1 0 15.2 0a7.6 7.6 0 1 0 -15.2 0M523.1 1422.2a7.6 7.6 0 1 0 15.2 0a7.6 7.6 0 1 0 -15.2 0M524.3 1425.3a7.6 7.6 0 1 0 15.2 0a7.6 7.6 0 1 0 -15.2 0M525.4 1423.4a7.6 7.6 0 1 0 15.2 0a7.6 7.6 0 1 0 -15.2 0M525.8 1409.3a7.6 7.6 0 1 0 15.2 0a7.6 7.6 0 1 0 -15.2 0M528.2 1427.5a7.6 7.6 0 1 0 15.2 0a7.6 7.6 0 1 0 -15.2 0M528.1 1427.9a7.6 7.6 0 1 0 15.2 0a7.6 7.6 0 1 0 -15.2 0M529.2 1410.0a7.6 7.6 0 1 0 15.2 0a7.6 7.6 0 1 0 -15.2 0M528.6 1413.5a7.6 7.6 0 1 0 15.2 0a7.6 7.6 0 1 0 -15.2 0M530.5 1405.0a7.6 7.6 0 1 0 15.2 0a7.6 7.6 0 1 0 -15.2 0M530.8 1406.4a7.6 7.6 0 1 0 15.2 0a7.6 7.6 0 1 0 -15.2 0M533.1 1404.8a7.6 7.6 0 1 0 15.2 0a7.6 7.6 0 1 0 -15.2 0M532.4 1406.3a7.6 7.6 0 1 0 15.2 0a7.6 7.6 0 1 0 -15.2 0M534.6 1409.5a7.6 7.6 0 1 0 15.2 0a7.6 7.6 0 1 0 -15.2 0M534.5 1417.1a7.6 7.6 0 1 0 15.2 0a7.6 7.6 0 1 0 -15.2 0M537.6 1406.2a7.6 7.6 0 1 0 15.2 0a7.6 7.6 0 1 0 -15.2 0M536.9 1409.2a7.6 7.6 0 1 0 15.2 0a7.6 7.6 0 1 0 -15.2 0M539.1 1405.8a7.6 7.6 0 1 0 15.2 0a7.6 7.6 0 1 0 -15.2 0M540.1 1418.9a7.6 7.6 0 1 0 15.2 0a7.6 7.6 0 1 0 -15.2 0M541.3 1411.3a7.6 7.6 0 1 0 15.2 0a7.6 7.6 0 1 0 -15.2 0M540.6 1405.5a7.6 7.6 0 1 0 15.2 0a7.6 7.6 0 1 0 -15.2 0M543.1 1408.0a7.6 7.6 0 1 0 15.2 0a7.6 7.6 0 1 0 -15.2 0M544.1 1406.4a7.6 7.6 0 1 0 15.2 0a7.6 7.6 0 1 0 -15.2 0M544.4 1418.3a7.6 7.6 0 1 0 15.2 0a7.6 7.6 0 1 0 -15.2 0M545.5 1406.2a7.6 7.6 0 1 0 15.2 0a7.6 7.6 0 1 0 -15.2 0M547.5 1404.4a7.6 7.6 0 1 0 15.2 0a7.6 7.6 0 1 0 -15.2 0M547.5 1418.7a7.6 7.6 0 1 0 15.2 0a7.6 7.6 0 1 0 -15.2 0M550.1 1414.4a7.6 7.6 0 1 0 15.2 0a7.6 7.6 0 1 0 -15.2 0M548.9 1409.5a7.6 7.6 0 1 0 15.2 0a7.6 7.6 0 1 0 -15.2 0M550.7 1415.6a7.6 7.6 0 1 0 15.2 0a7.6 7.6 0 1 0 -15.2 0M551.5 1415.7a7.6 7.6 0 1 0 15.2 0a7.6 7.6 0 1 0 -15.2 0M553.1 1407.3a7.6 7.6 0 1 0 15.2 0a7.6 7.6 0 1 0 -15.2 0M554.0 1418.8a7.6 7.6 0 1 0 15.2 0a7.6 7.6 0 1 0 -15.2 0M556.1 1416.1a7.6 7.6 0 1 0 15.2 0a7.6 7.6 0 1 0 -15.2 0M556.0 1415.1a7.6 7.6 0 1 0 15.2 0a7.6 7.6 0 1 0 -15.2 0M556.9 1411.8a7.6 7.6 0 1 0 15.2 0a7.6 7.6 0 1 0 -15.2 0M557.1 1404.4a7.6 7.6 0 1 0 15.2 0a7.6 7.6 0 1 0 -15.2 0M558.5 1408.2a7.6 7.6 0 1 0 15.2 0a7.6 7.6 0 1 0 -15.2 0M558.9 1414.4a7.6 7.6 0 1 0 15.2 0a7.6 7.6 0 1 0 -15.2 0M113.1 878.5a7.6 7.6 0 1 0 15.2 0a7.6 7.6 0 1 0 -15.2 0M113.2 882.2a7.6 7.6 0 1 0 15.2 0a7.6 7.6 0 1 0 -15.2 0M113.4 888.0a7.6 7.6 0 1 0 15.2 0a7.6 7.6 0 1 0 -15.2 0M112.1 892.3a7.6 7.6 0 1 0 15.2 0a7.6 7.6 0 1 0 -15.2 0M111.8 895.4a7.6 7.6 0 1 0 15.2 0a7.6 7.6 0 1 0 -15.2 0M112.5 901.3a7.6 7.6 0 1 0 15.2 0a7.6 7.6 0 1 0 -15.2 0M111.2 904.5a7.6 7.6 0 1 0 15.2 0a7.6 7.6 0 1 0 -15.2 0M111.4 911.0a7.6 7.6 0 1 0 15.2 0a7.6 7.6 0 1 0 -15.2 0M111.0 918.7a7.6 7.6 0 1 0 15.2 0a7.6 7.6 0 1 0 -15.2 0M109.7 925.0a7.6 7.6 0 1 0 15.2 0a7.6 7.6 0 1 0 -15.2 0M110.1 931.1a7.6 7.6 0 1 0 15.2 0a7.6 7.6 0 1 0 -15.2 0M175.0 895.5a7.6 7.6 0 1 0 15.2 0a7.6 7.6 0 1 0 -15.2 0M175.0 899.6a7.6 7.6 0 1 0 15.2 0a7.6 7.6 0 1 0 -15.2 0M176.2 905.3a7.6 7.6 0 1 0 15.2 0a7.6 7.6 0 1 0 -15.2 0M176.1 908.5a7.6 7.6 0 1 0 15.2 0a7.6 7.6 0 1 0 -15.2 0M176.7 913.8a7.6 7.6 0 1 0 15.2 0a7.6 7.6 0 1 0 -15.2 0M176.7 918.6a7.6 7.6 0 1 0 15.2 0a7.6 7.6 0 1 0 -15.2 0M177.4 922.3a7.6 7.6 0 1 0 15.2 0a7.6 7.6 0 1 0 -15.2 0M178.2 927.8a7.6 7.6 0 1 0 15.2 0a7.6 7.6 0 1 0 -15.2 0M178.1 932.3a7.6 7.6 0 1 0 15.2 0a7.6 7.6 0 1 0 -15.2 0M143.2 845.5a7.6 7.6 0 1 0 15.2 0a7.6 7.6 0 1 0 -15.2 0M142.9 849.5a7.6 7.6 0 1 0 15.2 0a7.6 7.6 0 1 0 -15.2 0M143.2 853.7a7.6 7.6 0 1 0 15.2 0a7.6 7.6 0 1 0 -15.2 0M142.9 858.0a7.6 7.6 0 1 0 15.2 0a7.6 7.6 0 1 0 -15.2 0M141.8 862.2a7.6 7.6 0 1 0 15.2 0a7.6 7.6 0 1 0 -15.2 0" fill="none" stroke="#ff0000" stroke-width="1.2"/>
<polyline points="106.5,1249.0 107.4,1248.9 108.5,1248.8 109.9,1248.7 111.5,1248.4 113.0,1247.8 114.6,1246.6 116.1,1244.9 117.6,1242.7 119.2,1240.2 120.9,1237.5 122.6,1234.7 124.3,1232.0 126.1,1229.0 128.1,1225.7 130.1,1222.2 132.0,1219.1 133.9,1216.6 135.6,1215.0 137.1,1214.5 138.5,1214.9 139.9,1215.9 141.1,1217.3 142.4,1219.0 143.7,1220.7 145.0,1222.7 146.4,1225.1 147.7,1227.7 149.1,1230.4 150.4,1233.0 151.8,1235.2 153.1,1237.3 154.5,1239.4 155.8,1241.4 157.2,1243.1 158.5,1244.3 159.9,1245.0 161.2,1245.0 162.6,1244.5 163.9,1243.5 165.3,1242.2 166.6,1240.5 168.0,1238.5 169.4,1236.1 170.7,1233.2 172.1,1230.0 173.4,1226.5 174.8,1222.8 176.1,1219.0 177.5,1215.1 178.8,1211.0 180.2,1206.7 181.5,1202.2 182.9,1197.7 184.2,1193.1 185.6,1188.5 186.9,1183.7 188.3,1178.8 189.6,1173.8 191.0,1168.9 192.3,1164.0 193.7,1159.0 195.1,1154.0 196.5,1148.9 197.8,1144.0 199.1,1139.2 200.4,1134.8 201.5,1130.8 202.6,1127.1 203.7,1123.7 204.7,1120.3 205.7,1116.9 206.6,1113.3 207.5,1109.5 208.4,1105.5 209.3,1101.6 210.1,1097.6 211.0,1093.9 211.8,1090.5 212.6,1087.3 213.4,1084.4 214.2,1081.6 215.0,1079.0 215.8,1076.6 216.6,1074.5 217.3,1072.7 218.0,1071.1 218.8,1069.8 219.5,1068.6 220.3,1067.6 221.1,1066.6 222.0,1065.8 223.0,1065.0 224.0,1064.4 225.0,1063.8 226.1,1063.5 227.1,1063.2 228.1,1063.1 229.0,1063.1 230.0,1063.3 231.0,1063.5 232.1,1064.0 233.6,1064.6 235.3,1065.5 237.3,1066.8 239.5,1068.3 241.7,1069.7 243.8,1070.8 245.7,1071.3 247.4,1071.2 248.8,1070.5 250.2,1069.6 251.6,1068.5 252.9,1067.4 254.3,1066.6 255.7,1066.0 257.1,1065.4 258.6,1064.8 260.0,1064.4 261.4,1064.1 262.8,1064.1 264.1,1064.2 265.4,1064.4 266.7,1064.9 268.0,1065.5 269.4,1066.4 270.9,1067.7 272.5,1069.4 274.2,1071.5 275.9,1074.0 277.7,1076.5 279.5,1078.9 281.2,1081.2 282.9,1083.2 284.5,1085.3 286.2,1087.4 287.8,1089.2 289.4,1090.9 291.1,1092.4 292.7,1093.5 294.3,1094.5 296.0,1095.2 297.6,1095.8 299.2,1096.2 300.8,1096.4 302.4,1096.5 303.9,1096.5 305.5,1096.4 307.0,1096.0 308.7,1095.2 310.5,1094.0 312.5,1092.3 314.5,1090.2 316.7,1087.8 318.9,1085.1 321.2,1082.3 323.5,1079.4 325.8,1076.4 328.3,1073.1 330.9,1069.6 333.4,1066.2 335.8,1062.9 338.0,1060.0 340.0,1057.6 341.8,1055.5 343.5,1053.6 345.1,1051.7 346.8,1049.5 348.7,1047.0 350.7,1043.9 352.8,1040.6 355.0,1037.1 357.2,1033.4 359.5,1029.6 361.6,1026.0 363.8,1022.3 366.0,1018.5 368.2,1014.6 370.4,1010.8 372.5,1007.0 374.6,1003.3 376.6,999.7 378.5,996.1 380.3,992.5 382.1,989.0 384.0,985.6 386.0,982.3 388.1,979.0 390.1,975.8 392.3,972.6 394.5,969.7 396.7,966.9 399.0,964.4 401.3,962.3 403.6,960.5 406.0,958.8 408.4,957.4 410.9,956.0 413.5,954.7 416.1,953.4 418.7,952.1 421.5,951.0 424.2,949.9 427.0,949.0 429.7,948.2 432.4,947.6 435.1,947.1 437.8,946.8 440.5,946.5 443.2,946.2 445.9,946.0 448.6,945.7 451.3,945.4 454.0,945.2 456.7,945.0 459.4,944.8 462.1,944.6 464.8,944.4 467.7,944.1 470.6,943.8 473.3,943.6 475.9,943.6 478.2,943.8 480.2,944.2 481.9,944.8 483.5,945.6 484.9,946.5 486.4,947.6 488.0,949.0 489.7,950.6 491.4,952.6 493.1,954.8 494.8,957.0 496.6,959.3 498.3,961.4 500.1,963.5 501.9,965.5 503.6,967.5 505.4,969.5 507.3,971.5 509.2,973.3 511.2,975.1 513.3,976.9 515.5,978.6 517.6,980.2 519.8,981.8 522.0,983.2 524.1,984.4 526.3,985.5 528.5,986.4 530.7,987.4 532.9,988.4 534.9,989.7 536.9,991.1 538.8,992.5 540.6,994.1 542.4,995.8 544.3,997.5 546.3,999.4 548.4,1001.4 550.6,1003.6 552.9,1005.8 555.1,1008.1 557.2,1010.3 559.2,1012.3 561.0,1014.2 562.7,1016.0 564.3,1017.8 565.8,1019.4 567.3,1020.8 568.9,1022.1 570.5,1023.1 572.1,1024.1 573.7,1024.8 575.3,1025.5 576.9,1025.9 578.7,1026.1 580.5,1026.1 582.4,1025.7 584.4,1025.2 586.4,1024.6 588.2,1024.1 590.0,1023.7 591.5,1023.6 592.9,1023.5 594.2,1023.4 595.4,1023.4 596.7,1023.5 598.1,1023.6 599.5,1023.8 601.0,1024.2 602.4,1024.6 603.9,1025.0 605.5,1025.3 607.2,1025.5 608.9,1025.6 610.7,1025.8 612.6,1026.0 614.5,1025.9 616.5,1025.6 618.5,1025.0 620.5,1023.9 622.6,1022.4 624.7,1020.7 626.9,1018.8 629.1,1017.0 631.4,1015.2 633.8,1013.6 636.2,1012.1 638.7,1010.5 641.2,1009.0 643.7,1007.3 646.0,1005.5 648.3,1003.5 650.6,1001.5 652.8,999.4 655.0,997.2 657.0,994.9 659.0,992.6 660.8,990.3 662.5,987.8 664.1,985.2 665.6,982.7 667.1,980.3 668.7,978.0 670.3,975.8 672.0,973.7 673.6,971.7 675.2,969.8 676.8,968.1 678.4,966.7 680.1,965.6 681.8,964.8 683.5,964.1 685.1,963.7 686.7,963.5 688.1,963.4 689.4,963.4 690.5,963.7 691.6,964.0 692.6,964.7 693.6,965.5 694.6,966.7 695.7,968.2 696.7,970.1 697.7,972.2 698.8,974.6 699.9,977.0 701.1,979.6 702.3,982.3 703.6,985.2 705.0,988.2 706.4,991.3 707.8,994.4 709.1,997.4 710.5,1000.4 711.8,1003.4 713.2,1006.3 714.6,1009.3 715.9,1012.2 717.3,1015.2 718.6,1018.3 720.0,1021.4 721.3,1024.6 722.7,1027.7 724.1,1030.7 725.4,1033.5 726.7,1036.1 728.1,1038.7 729.4,1041.2 730.7,1043.5 732.1,1045.7 733.5,1047.7 735.0,1049.4 736.5,1051.0 738.0,1052.4 739.7,1053.7 741.4,1054.8 743.2,1055.8 745.2,1056.6 747.3,1057.3 749.6,1057.8 751.8,1058.3 754.1,1058.6 756.1,1058.9 758.0,1059.1 759.8,1059.3 761.5,1059.5 763.2,1059.4 765.1,1059.2 767.2,1058.7 769.6,1057.8 772.2,1056.5 775.0,1055.0 777.9,1053.4 780.7,1051.9 783.3,1050.6 785.9,1049.3 788.5,1048.0 791.0,1046.7 793.4,1045.6 795.7,1044.7 798.0,1044.1 800.0,1043.8 802.0,1043.8 803.9,1044.0 805.7,1044.4 807.5,1045.0 809.3,1045.7 811.0,1046.6 812.6,1047.7 814.2,1048.9 815.8,1050.4 817.4,1052.0 819.0,1053.8 820.6,1055.8 822.2,1058.1 823.8,1060.6 825.5,1063.2 827.1,1065.8 828.7,1068.4 830.3,1071.0 831.9,1073.7 833.5,1076.4 835.1,1079.1 836.8,1081.9 838.4,1084.6 840.0,1087.3 841.7,1090.2 843.3,1093.0 845.0,1095.7 846.6,1098.3 848.1,1100.8 849.6,1103.0 850.9,1105.1 852.3,1107.1 853.6,1108.9 854.9,1110.6 856.2,1112.2 857.6,1113.6 859.2,1114.9 860.7,1116.1 862.2,1117.1 863.4,1117.9 864.3,1118.6" fill="none" stroke="#00ffff" stroke-width="9" stroke-linejoin="round" stroke-linecap="butt"/>
<rect x="106.7" y="822.5" width="840.8" height="664.0" fill="none" stroke="#8a8a8a" stroke-width="1.3"/>
<path d="M106.7 1486.5v-9.6h1.5M106.7 822.5v9.6h1.5M226.8 1486.5v-9.6h1.5M226.8 822.5v9.6h1.5M346.9 1486.5v-9.6h1.5M346.9 822.5v9.6h1.5M467.0 1486.5v-9.6h1.5M467.0 822.5v9.6h1.5M587.2 1486.5v-9.6h1.5M587.2 822.5v9.6h1.5M707.3 1486.5v-9.6h1.5M707.3 822.5v9.6h1.5M827.4 1486.5v-9.6h1.5M827.4 822.5v9.6h1.5M947.5 1486.5v-9.6h1.5M947.5 822.5v9.6h1.5" stroke="#111" stroke-width="1.3" fill="none"/>
<path d="M106.7 1486.5h8.0M947.5 1486.5h-8.0M106.7 1403.5h8.0M947.5 1403.5h-8.0M106.7 1320.5h8.0M947.5 1320.5h-8.0M106.7 1237.5h8.0M947.5 1237.5h-8.0M106.7 1154.5h8.0M947.5 1154.5h-8.0M106.7 1071.5h8.0M947.5 1071.5h-8.0M106.7 988.5h8.0M947.5 988.5h-8.0M106.7 905.5h8.0M947.5 905.5h-8.0M106.7 822.5h8.0M947.5 822.5h-8.0" stroke="#888" stroke-width="1.3" fill="none"/>
<text x="107.70" y="1514.40" font-family="Liberation Sans, sans-serif" font-size="25.2" text-anchor="middle" fill="#000">0</text>
<text x="227.81" y="1514.40" font-family="Liberation Sans, sans-serif" font-size="25.2" text-anchor="middle" fill="#000">50</text>
<text x="347.93" y="1514.40" font-family="Liberation Sans, sans-serif" font-size="25.2" text-anchor="middle" fill="#000">100</text>
<text x="468.04" y="1514.40" font-family="Liberation Sans, sans-serif" font-size="25.2" text-anchor="middle" fill="#000">150</text>
<text x="588.16" y="1514.40" font-family="Liberation Sans, sans-serif" font-size="25.2" text-anchor="middle" fill="#000">200</text>
<text x="708.27" y="1514.40" font-family="Liberation Sans, sans-serif" font-size="25.2" text-anchor="middle" fill="#000">250</text>
<text x="828.39" y="1514.40" font-family="Liberation Sans, sans-serif" font-size="25.2" text-anchor="middle" fill="#000">300</text>
<text x="948.50" y="1514.40" font-family="Liberation Sans, sans-serif" font-size="25.2" text-anchor="middle" fill="#000">350</text>
<text x="98.00" y="1495.50" font-family="Liberation Sans, sans-serif" font-size="25.2" text-anchor="end" fill="#000" transform="translate(98.00 0) scale(0.9500 1) translate(-98.00 0)">20</text>
<text x="98.00" y="1412.50" font-family="Liberation Sans, sans-serif" font-size="25.2" text-anchor="end" fill="#000" transform="translate(98.00 0) scale(0.9500 1) translate(-98.00 0)">40</text>
<text x="98.00" y="1329.50" font-family="Liberation Sans, sans-serif" font-size="25.2" text-anchor="end" fill="#000" transform="translate(98.00 0) scale(0.9500 1) translate(-98.00 0)">60</text>
<text x="98.00" y="1246.50" font-family="Liberation Sans, sans-serif" font-size="25.2" text-anchor="end" fill="#000" transform="translate(98.00 0) scale(0.9500 1) translate(-98.00 0)">80</text>
<text x="98.00" y="1163.50" font-family="Liberation Sans, sans-serif" font-size="25.2" text-anchor="end" fill="#000" transform="translate(98.00 0) scale(0.9500 1) translate(-98.00 0)">100</text>
<text x="98.00" y="1080.50" font-family="Liberation Sans, sans-serif" font-size="25.2" text-anchor="end" fill="#000" transform="translate(98.00 0) scale(0.9500 1) translate(-98.00 0)">120</text>
<text x="98.00" y="997.50" font-family="Liberation Sans, sans-serif" font-size="25.2" text-anchor="end" fill="#000" transform="translate(98.00 0) scale(0.9500 1) translate(-98.00 0)">140</text>
<text x="98.00" y="914.50" font-family="Liberation Sans, sans-serif" font-size="25.2" text-anchor="end" fill="#000" transform="translate(98.00 0) scale(0.9500 1) translate(-98.00 0)">160</text>
<text x="98.00" y="831.50" font-family="Liberation Sans, sans-serif" font-size="25.2" text-anchor="end" fill="#000" transform="translate(98.00 0) scale(0.9500 1) translate(-98.00 0)">180</text>
<text font-family="Liberation Sans, sans-serif" font-size="37" text-anchor="middle" fill="#000" transform="translate(36.1 1153.8) scale(1 1.03) rotate(-90)">Frequency (bpm)</text>
<text x="524.60" y="1558.00" font-family="Liberation Sans, sans-serif" font-size="37" text-anchor="middle" fill="#000" transform="translate(524.60 0) scale(1.0270 1) translate(-524.60 0)">Time(Sec)</text>
<text x="508.2" y="1620" font-family="Liberation Serif, serif" font-size="45" text-anchor="middle" fill="#000" transform="translate(508.2 0) scale(0.92 1) translate(-508.2 0)">(<tspan font-weight="bold">b</tspan>)</text>
<rect x="782.7" y="826.8" width="221.4" height="170.7" fill="#fff" stroke="#888" stroke-width="1.3"/>
<circle cx="837.3" cy="850.3" r="7.6" fill="none" stroke="#0000ff" stroke-width="1.2"/>
<text x="883.20" y="862.60" font-family="Liberation Sans, sans-serif" font-size="30" text-anchor="start" fill="#000" transform="translate(883.20 0) scale(1.0650 1) translate(-883.20 0)">Peak(1)</text>
<circle cx="837.3" cy="890.7" r="7.6" fill="none" stroke="#008000" stroke-width="1.2"/>
<text x="883.20" y="903.10" font-family="Liberation Sans, sans-serif" font-size="30" text-anchor="start" fill="#000" transform="translate(883.20 0) scale(1.0650 1) translate(-883.20 0)">Peak(2)</text>
<circle cx="837.3" cy="931.5" r="7.6" fill="none" stroke="#ff0000" stroke-width="1.2"/>
<text x="883.20" y="943.60" font-family="Liberation Sans, sans-serif" font-size="30" text-anchor="start" fill="#000" transform="translate(883.20 0) scale(1.0650 1) translate(-883.20 0)">Peak(3)</text>
<line x1="798.2" y1="972.2" x2="876" y2="972.2" stroke="#00ffff" stroke-width="8.2"/>
<text x="883.20" y="984.30" font-family="Liberation Sans, sans-serif" font-size="30" text-anchor="start" fill="#000">Ref HR</text>
</svg></body></html>
